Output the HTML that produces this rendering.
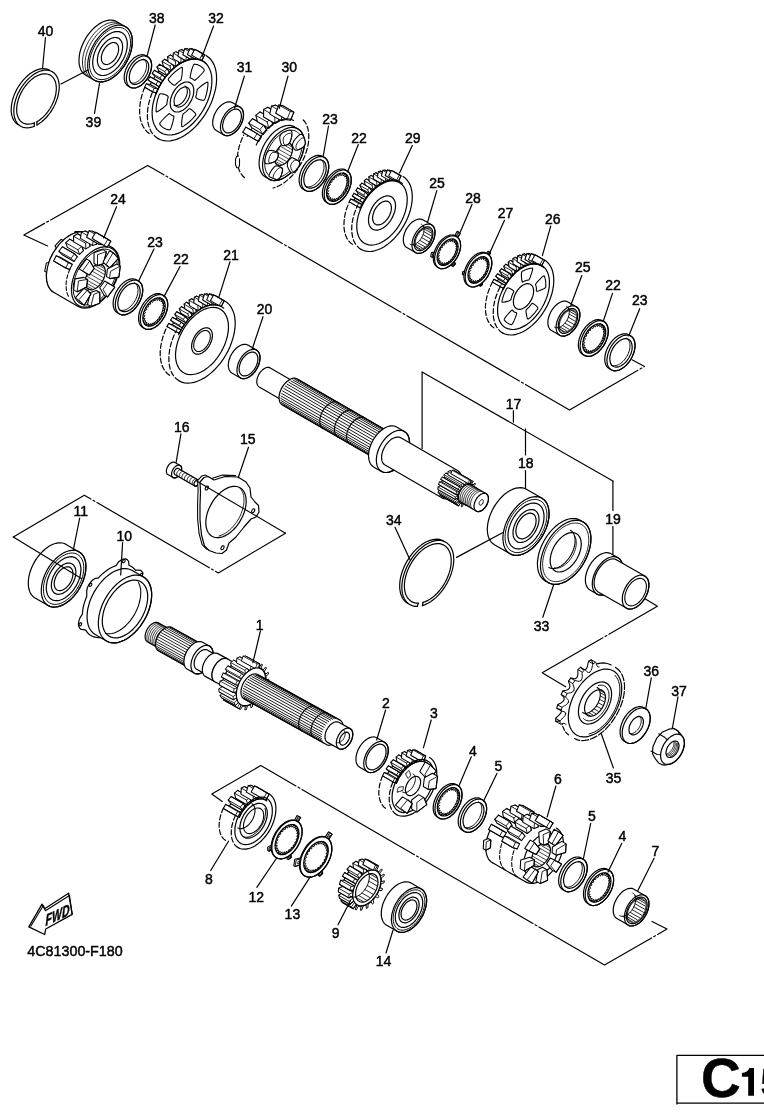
<!DOCTYPE html>
<html><head><meta charset="utf-8"><style>
html,body{margin:0;padding:0;background:#fff;}
body{width:764px;height:1116px;overflow:hidden;}
svg{display:block;font-family:"Liberation Sans",sans-serif;}
text{paint-order:stroke;}
svg{filter:grayscale(1);}
</style></head><body>
<svg width="764" height="1116" viewBox="0 0 764 1116" fill="none" stroke="#000" stroke-width="1.2" stroke-linejoin="round" stroke-linecap="round">
<g>
<path d="M47.6 246 L23.8 235 L147.7 165.4 L569.5 410 L644.5 366.5 L632 359.8" stroke-dasharray="130 2.5 2 2.5" stroke-dashoffset="80"/>
<path d="M422.1 372.1L422.1 448.4"/>
<path d="M422.1 372.1L612.9 481.1"/>
<path d="M612.9 481.1L612.9 510.5"/>
<path d="M612.9 526.5L612.9 556"/>
<path d="M513.4 410.7L513.4 422.2"/>
<path d="M525.5 428.9L525.5 454.9"/>
<path d="M525.5 470.6L525.5 491"/>
<path d="M13.3 537 L84.3 495.2 L218.3 573 L285.5 533.2" stroke-dasharray="130 2.5 2 2.5" stroke-dashoffset="40"/>
<path d="M645.4 599 L657.4 606.3 L542.2 672.8 L565.6 686.8" stroke-dasharray="130 2.5 2 2.5" stroke-dashoffset="60"/>
<path d="M222.2 801.4 L211.8 794.1 L260.8 765.6 L604.5 965 L667 929 L652 921.5" stroke-dasharray="130 2.5 2 2.5" stroke-dashoffset="20"/>
<path d="M34.2 126.3 L31.8 127.2 L29.5 127.7 L27.2 127.9 L25.1 127.7 L23 127.3 L21.2 126.5 L19.5 125.4 L18 124.1 L16.7 122.4 L15.6 120.5 L14.8 118.3 L14.2 115.9 L13.9 113.3 L13.8 110.6 L14 107.7 L14.4 104.8 L15.1 101.7 L16 98.7 L17.1 95.6 L18.5 92.6 L20.1 89.6 L21.8 86.8 L23.8 84.1 L25.8 81.6 L28 79.2 L30.3 77.1 L32.6 75.2 L35 73.6 L37.5 72.3 L39.9 71.3 L42.2 70.6 L44.5 70.2 L46.7 70.1 L48.8 70.4 L50.8 71 L52.6 71.9 L54.2 73.1 L55.6 74.6 L56.8 76.4 L57.8 78.4 L58.5 80.7 L59 83.2 L59.2 85.8 L59.2 88.6 L58.9 91.5 L58.3 94.5 L57.6 97.6 L56.5 100.6 L55.3 103.7 L53.8 106.7 L52.2 109.6 L50.4 112.4 L48.4 115 L46.3 117.5 L44 119.7 L41.7 121.7 L39.3 123.5 L36.9 125"/>
<path d="M34.5 122.8 L32.4 123.6 L30.3 124 L28.4 124.2 L26.5 124.1 L24.8 123.7 L23.1 123 L21.6 122.1 L20.3 120.9 L19.2 119.4 L18.3 117.7 L17.6 115.8 L17 113.8 L16.7 111.5 L16.7 109.1 L16.8 106.6 L17.2 104 L17.8 101.4 L18.6 98.7 L19.6 96 L20.8 93.4 L22.2 90.8 L23.7 88.3 L25.4 86 L27.2 83.8 L29.1 81.7 L31.1 79.9 L33.1 78.2 L35.2 76.8 L37.3 75.7 L39.4 74.8 L41.5 74.2 L43.5 73.9 L45.4 73.8 L47.3 74 L49 74.6 L50.5 75.3 L51.9 76.4 L53.2 77.7 L54.2 79.3 L55.1 81 L55.7 83 L56.1 85.2 L56.3 87.5 L56.3 89.9 L56 92.5 L55.6 95.1 L54.9 97.8 L54 100.4 L52.9 103.1 L51.6 105.7 L50.2 108.2 L48.6 110.7 L46.9 113 L45 115.1 L43.1 117.1 L41.1 118.8 L39 120.4 L36.9 121.7"/>
<path d="M18.2 124.8 L16.5 123.6 L15.1 122.2 L13.9 120.5 L12.9 118.6 L12.1 116.4 L11.5 114 L11.2 111.4 L11.2 108.7 L11.4 105.9 L11.9 103 L12.5 100 L13.5 96.9 L14.6 93.9 L16 91 L17.5 88 L19.3 85.3 L21.2 82.6 L23.2 80.1 L25.4 77.8 L27.6 75.7 L29.9 73.8 L32.3 72.2 L34.7 70.9 L37 69.9 L39.4 69.2 L41.6 68.7 L43.8 68.6 L45.9 68.9 L47.9 69.4 L49.7 70.2"/>
<path d="M36.9 125 L36.9 121.7"/>
<path d="M34.2 126.3 L34.5 122.8"/>
<path d="M85.8 75.3 L84.2 74.2 L82.8 72.8 L81.6 71.2 L80.6 69.2 L79.9 67.1 L79.3 64.8 L79 62.2 L79 59.6 L79.2 56.8 L79.6 53.9 L80.3 50.9 L81.2 48 L82.4 45 L83.7 42.1 L85.2 39.2 L86.9 36.4 L88.8 33.8 L90.8 31.4 L92.9 29.1 L95.1 27 L97.4 25.2 L99.7 23.6 L102.1 22.3 L104.4 21.3 L106.7 20.6 L108.9 20.2 L111.1 20.1 L113.2 20.3 L115.1 20.8 L116.8 21.7 L125.5 26.7 L127.1 27.8 L128.5 29.2 L129.7 30.8 L130.7 32.8 L131.5 34.9 L132 37.2 L132.3 39.8 L132.3 42.4 L132.1 45.2 L131.7 48.1 L131 51.1 L130.1 54 L129 57 L127.6 59.9 L126.1 62.8 L124.4 65.6 L122.5 68.2 L120.5 70.6 L118.4 72.9 L116.2 75 L113.9 76.8 L111.6 78.4 L109.3 79.7 L106.9 80.7 L104.6 81.4 L102.4 81.8 L100.2 81.9 L98.2 81.7 L96.3 81.2 L94.5 80.3Z" fill="#fff"/>
<path d="M126.1 62.8 L124.4 65.6 L122.5 68.2 L120.5 70.6 L118.4 72.9 L116.2 75 L113.9 76.8 L111.6 78.4 L109.3 79.7 L106.9 80.7 L104.6 81.4 L102.4 81.8 L100.2 81.9 L98.2 81.7 L96.3 81.2 L94.5 80.3 L92.9 79.2 L91.5 77.8 L90.3 76.2 L89.3 74.2 L88.5 72.1 L88 69.8 L87.7 67.2 L87.7 64.6 L87.9 61.8 L88.3 58.9 L89 55.9 L89.9 53 L91 50 L92.4 47.1 L93.9 44.2 L95.6 41.4 L97.5 38.8 L99.5 36.4 L101.6 34.1 L103.8 32 L106.1 30.2 L108.4 28.6 L110.7 27.3 L113.1 26.3 L115.4 25.6 L117.6 25.2 L119.8 25.1 L121.8 25.3 L123.7 25.8 L125.5 26.7 L127.1 27.8 L128.5 29.2 L129.7 30.8 L130.7 32.8 L131.5 34.9 L132 37.2 L132.3 39.8 L132.3 42.4 L132.1 45.2 L131.7 48.1 L131 51.1 L130.1 54 L129 57 L127.6 59.9 L126.1 62.8Z"/>
<path d="M124.8 62 L123.2 64.6 L121.5 67 L119.7 69.3 L117.7 71.3 L115.7 73.2 L113.6 74.9 L111.5 76.4 L109.3 77.6 L107.2 78.5 L105.1 79.2 L103 79.5 L101 79.6 L99.1 79.4 L97.4 78.9 L95.8 78.2 L94.3 77.2 L93 75.9 L91.9 74.3 L91 72.6 L90.3 70.6 L89.8 68.4 L89.5 66.1 L89.5 63.7 L89.6 61.1 L90 58.4 L90.7 55.7 L91.5 53 L92.6 50.3 L93.8 47.6 L95.2 45 L96.8 42.4 L98.5 40 L100.3 37.7 L102.3 35.7 L104.3 33.8 L106.4 32.1 L108.5 30.6 L110.7 29.4 L112.8 28.5 L114.9 27.8 L117 27.5 L119 27.4 L120.9 27.6 L122.6 28.1 L124.2 28.8 L125.7 29.8 L127 31.1 L128.1 32.7 L129 34.4 L129.7 36.4 L130.2 38.6 L130.5 40.9 L130.5 43.3 L130.4 45.9 L129.9 48.6 L129.3 51.3 L128.5 54 L127.4 56.7 L126.2 59.4 L124.8 62Z" stroke-width="0.96"/>
<path d="M122.5 60.7 L121.1 62.8 L119.7 64.9 L118.2 66.8 L116.5 68.5 L114.8 70.1 L113 71.5 L111.2 72.8 L109.4 73.8 L107.6 74.5 L105.8 75.1 L104.1 75.4 L102.4 75.5 L100.9 75.3 L99.4 74.9 L98 74.3 L96.8 73.4 L95.7 72.3 L94.7 71 L94 69.6 L93.4 67.9 L93 66.1 L92.7 64.1 L92.7 62.1 L92.9 59.9 L93.2 57.7 L93.7 55.4 L94.4 53.1 L95.3 50.8 L96.3 48.5 L97.5 46.3 L98.9 44.2 L100.3 42.1 L101.8 40.2 L103.5 38.5 L105.2 36.9 L107 35.5 L108.8 34.2 L110.6 33.2 L112.4 32.5 L114.2 31.9 L115.9 31.6 L117.6 31.5 L119.1 31.7 L120.6 32.1 L122 32.7 L123.2 33.6 L124.3 34.7 L125.3 36 L126 37.4 L126.6 39.1 L127 40.9 L127.3 42.9 L127.3 44.9 L127.1 47.1 L126.8 49.3 L126.3 51.6 L125.6 53.9 L124.7 56.2 L123.7 58.5 L122.5 60.7Z"/>
<path d="M119.1 58.8 L118.1 60.3 L117.1 61.8 L115.9 63.2 L114.7 64.5 L113.5 65.6 L112.2 66.7 L110.9 67.5 L109.6 68.3 L108.3 68.8 L107 69.2 L105.7 69.5 L104.5 69.5 L103.3 69.4 L102.2 69.1 L101.2 68.7 L100.3 68 L99.6 67.2 L98.9 66.3 L98.3 65.2 L97.9 64 L97.6 62.7 L97.4 61.2 L97.4 59.7 L97.5 58.2 L97.8 56.5 L98.1 54.9 L98.6 53.2 L99.3 51.5 L100 49.9 L100.9 48.2 L101.9 46.7 L102.9 45.2 L104.1 43.8 L105.3 42.5 L106.5 41.4 L107.8 40.3 L109.1 39.5 L110.4 38.7 L111.7 38.2 L113 37.8 L114.3 37.5 L115.5 37.5 L116.7 37.6 L117.8 37.9 L118.8 38.3 L119.7 39 L120.4 39.8 L121.1 40.7 L121.7 41.8 L122.1 43 L122.4 44.3 L122.6 45.8 L122.6 47.3 L122.5 48.8 L122.2 50.5 L121.9 52.1 L121.4 53.8 L120.7 55.5 L120 57.1 L119.1 58.7Z"/>
<path d="M116.2 57.1 L115.6 58.2 L114.9 59.2 L114.1 60.1 L113.3 61 L112.4 61.8 L111.5 62.5 L110.6 63.1 L109.7 63.6 L108.8 64 L107.9 64.3 L107.1 64.5 L106.2 64.5 L105.4 64.4 L104.7 64.2 L104 63.9 L103.4 63.5 L102.8 62.9 L102.4 62.3 L102 61.5 L101.7 60.7 L101.5 59.8 L101.4 58.8 L101.4 57.8 L101.4 56.7 L101.6 55.6 L101.9 54.4 L102.2 53.3 L102.7 52.1 L103.2 51 L103.8 49.9 L104.4 48.8 L105.1 47.8 L105.9 46.9 L106.7 46 L107.6 45.2 L108.5 44.5 L109.4 43.9 L110.3 43.4 L111.2 43 L112.1 42.7 L112.9 42.5 L113.8 42.5 L114.6 42.6 L115.3 42.8 L116 43.1 L116.6 43.5 L117.2 44.1 L117.6 44.7 L118 45.5 L118.3 46.3 L118.5 47.2 L118.6 48.2 L118.6 49.2 L118.6 50.3 L118.4 51.4 L118.1 52.6 L117.8 53.7 L117.3 54.9 L116.8 56 L116.2 57.1Z"/>
<path d="M89.3 76.8 L88 75.2 L86.9 73.3 L86.1 71.2 L85.5 68.8 L85.1 66.3 L85 63.5 L85.2 60.7 L85.6 57.7 L86.3 54.7 L87.2 51.7 L88.4 48.6 L89.7 45.6 L91.3 42.7 L93 39.9 L95 37.2 L97 34.7 L99.2 32.4 L101.5 30.3 L103.8 28.4 L106.2 26.9 L108.6 25.6 L111 24.6 L113.4 24 L115.6 23.6 L117.8 23.6 L119.9 23.9" stroke-width="0.84"/>
<path d="M86.7 75.3 L85.4 73.7 L84.3 71.8 L83.5 69.7 L82.9 67.3 L82.5 64.8 L82.5 62 L82.6 59.2 L83 56.2 L83.7 53.2 L84.6 50.2 L85.8 47.1 L87.1 44.1 L88.7 41.2 L90.5 38.4 L92.4 35.7 L94.4 33.2 L96.6 30.9 L98.9 28.8 L101.2 26.9 L103.6 25.4 L106 24.1 L108.4 23.1 L110.8 22.5 L113 22.1 L115.2 22.1 L117.3 22.4" stroke-width="0.84"/>
<path d="M61 84L88 70"/>
<path d="M128.1 85.9 L127.2 85.3 L126.4 84.5 L125.7 83.5 L125.1 82.5 L124.7 81.2 L124.4 79.9 L124.2 78.5 L124.2 77 L124.3 75.4 L124.6 73.8 L125 72.1 L125.5 70.4 L126.1 68.8 L126.9 67.1 L127.7 65.5 L128.7 63.9 L129.8 62.5 L130.9 61.1 L132.1 59.8 L133.3 58.6 L134.6 57.6 L135.9 56.7 L137.3 56 L138.6 55.4 L139.9 55 L141.1 54.8 L142.3 54.7 L143.5 54.8 L144.6 55.1 L145.6 55.6 L147.8 56.8 L148.7 57.5 L149.4 58.3 L150.1 59.2 L150.7 60.3 L151.1 61.5 L151.4 62.8 L151.6 64.3 L151.6 65.8 L151.5 67.3 L151.2 69 L150.9 70.6 L150.4 72.3 L149.7 74 L149 75.6 L148.1 77.2 L147.1 78.8 L146.1 80.3 L144.9 81.7 L143.7 83 L142.5 84.1 L141.2 85.2 L139.9 86 L138.6 86.8 L137.3 87.3 L136 87.8 L134.7 88 L133.5 88 L132.3 87.9 L131.2 87.6 L130.2 87.2Z" fill="#fff"/>
<path d="M148.1 77.2 L147.1 78.8 L146.1 80.3 L144.9 81.7 L143.7 83 L142.5 84.1 L141.2 85.2 L139.9 86 L138.6 86.8 L137.3 87.3 L136 87.8 L134.7 88 L133.5 88 L132.3 87.9 L131.2 87.6 L130.2 87.2 L129.3 86.5 L128.6 85.7 L127.9 84.8 L127.3 83.7 L126.9 82.5 L126.6 81.2 L126.4 79.7 L126.4 78.2 L126.5 76.7 L126.8 75 L127.1 73.4 L127.6 71.7 L128.3 70 L129 68.4 L129.9 66.8 L130.9 65.2 L131.9 63.7 L133.1 62.3 L134.3 61 L135.5 59.9 L136.8 58.8 L138.1 58 L139.4 57.2 L140.7 56.7 L142 56.2 L143.3 56 L144.5 56 L145.7 56.1 L146.8 56.4 L147.8 56.8 L148.7 57.5 L149.4 58.3 L150.1 59.2 L150.7 60.3 L151.1 61.5 L151.4 62.8 L151.6 64.3 L151.6 65.8 L151.5 67.3 L151.2 69 L150.9 70.6 L150.4 72.3 L149.7 74 L149 75.6 L148.1 77.2Z"/>
<path d="M146 76 L145.3 77.2 L144.5 78.4 L143.6 79.5 L142.7 80.5 L141.7 81.4 L140.7 82.1 L139.7 82.8 L138.7 83.4 L137.7 83.8 L136.7 84.2 L135.7 84.3 L134.7 84.4 L133.9 84.3 L133 84.1 L132.2 83.7 L131.6 83.2 L130.9 82.6 L130.4 81.9 L130 81 L129.6 80.1 L129.4 79.1 L129.3 78 L129.3 76.8 L129.4 75.6 L129.6 74.3 L129.8 73.1 L130.2 71.8 L130.7 70.5 L131.3 69.2 L132 68 L132.7 66.8 L133.5 65.6 L134.4 64.5 L135.3 63.5 L136.3 62.6 L137.3 61.9 L138.3 61.2 L139.3 60.6 L140.3 60.2 L141.3 59.8 L142.3 59.7 L143.3 59.6 L144.1 59.7 L145 59.9 L145.8 60.3 L146.4 60.8 L147.1 61.4 L147.6 62.1 L148 63 L148.4 63.9 L148.6 64.9 L148.7 66 L148.7 67.2 L148.6 68.4 L148.4 69.7 L148.2 70.9 L147.8 72.2 L147.3 73.5 L146.7 74.8 L146 76Z"/>
<path d="M143.6 59.1 L144.3 59.5 L144.9 60.2 L145.4 60.9 L145.9 61.7 L146.2 62.7 L146.4 63.7 L146.5 64.8 L146.6 65.9 L146.5 67.2 L146.3 68.4 L146 69.7 L145.6 71 L145.1 72.3 L144.5 73.6 L143.8 74.8 L143.1 76 L142.3 77.1 L141.4 78.2 L140.5 79.2 L139.5 80.1 L138.5 80.9 L137.5 81.6 L136.5 82.1 L135.5 82.6 L134.5 82.9 L133.5 83.1 L132.6 83.1 L131.7 83 L130.9 82.8 L130.1 82.4" stroke-width="0.96"/>
<path d="M150.2 134.1 L147.7 132.3 L145.5 130.2 L143.7 127.6 L142.1 124.6 L141 121.3 L140.1 117.7 L139.7 113.8 L139.6 109.6 L139.9 105.3 L140.6 100.8 L141.7 96.3 L143.1 91.7 L144.8 87.1 L146.9 82.5 L149.3 78.1 L151.9 73.8 L154.8 69.8 L157.9 66 L161.2 62.4 L164.6 59.2 L168.1 56.4 L171.7 54 L175.4 52 L179 50.4 L182.5 49.3 L186 48.7 L189.3 48.5 L192.5 48.8 L195.5 49.7 L198.2 50.9 L206 55.4 L208.5 57.2 L210.7 59.3 L212.5 61.9 L214.1 64.9 L215.3 68.2 L216.1 71.8 L216.5 75.7 L216.6 79.9 L216.3 84.2 L215.6 88.7 L214.5 93.2 L213.1 97.8 L211.4 102.4 L209.3 107 L206.9 111.4 L204.3 115.7 L201.4 119.7 L198.3 123.5 L195 127.1 L191.6 130.3 L188.1 133.1 L184.5 135.5 L180.9 137.5 L177.2 139.1 L173.7 140.2 L170.2 140.8 L166.9 141 L163.7 140.7 L160.7 139.8 L158 138.6Z" fill="#fff" stroke-width="0"/>
<path d="M149.3 133.5 L147 131.7 L144.9 129.4 L143.1 126.6 L141.7 123.5 L140.6 120.1 L139.9 116.4 L139.6 112.4 L139.7 108.2 L140.1 103.8 L140.9 99.3 L142.1 94.7 L143.6 90.1 L145.5 85.5" stroke-dasharray="5 2.5"/>
<path d="M158 138.6 L155.5 136.8 L153.2 134.5 L151.3 131.9 L149.8 128.8 L148.6 125.4 L147.8 121.6 L147.4 117.5 L147.4 113.2 L147.8 108.8 L148.6 104.2 L149.8 99.5 L151.4 94.7 L153.3 90" stroke-dasharray="5 2.5"/>
<path d="M206 55.4 L208.5 57.2 L210.7 59.3 L212.5 61.9 L214.1 64.9 L215.3 68.2 L216.1 71.8 L216.5 75.7 L216.6 79.9 L216.3 84.2 L215.6 88.7 L214.5 93.2 L213.1 97.8 L211.4 102.4 L209.3 107 L206.9 111.4 L204.3 115.7 L201.4 119.7 L198.3 123.5 L195 127.1 L191.6 130.3 L188.1 133.1 L184.5 135.5 L180.9 137.5 L177.2 139.1 L173.7 140.2 L170.2 140.8 L166.9 141 L163.7 140.7 L160.7 139.8 L158 138.6"/>
<path d="M149.4 86.5 L151.3 82.5 L153.5 78.7 L155.9 75 L158.5 71.5 L161.3 68.2 L164.3 65.2 L167.3 62.6 L170.5 60.2 L173.7 58.3 L176.9 56.7 L180 55.5 L183.1 54.8 L186.1 54.5 L189 54.6 L191.7 55.1 L194.1 56.1 L196.4 57.5" stroke-width="1.08"/>
<path d="M144.7 87.3 L146.3 83.8 L150.3 84.5 L158.1 89 L156.3 93 L152.5 91.8Z" fill="#fff" stroke-width="1.08"/>
<path d="M144.7 87.3 L152.5 91.8" stroke-width="0.86"/>
<path d="M146.3 83.8 L154.1 88.3" stroke-width="0.86"/>
<path d="M156.3 93 L152.5 91.8 L154.1 88.3 L158.1 89" stroke-width="0.86"/>
<path d="M148.1 80.1 L150 76.8 L153.6 78.5 L161.4 83 L159.2 86.8 L151.4 82.3Z" fill="#fff" stroke-width="1.08"/>
<path d="M148.1 80.1 L155.9 84.6" stroke-width="0.86"/>
<path d="M150 76.8 L157.8 81.3" stroke-width="0.86"/>
<path d="M159.2 86.8 L155.9 84.6 L157.8 81.3 L161.4 83" stroke-width="0.86"/>
<path d="M152.2 73.4 L154.4 70.3 L162.2 74.8 L165.2 77.4 L162.7 80.9 L154.9 76.4Z" fill="#fff" stroke-width="1.08"/>
<path d="M152.2 73.4 L160 77.9" stroke-width="0.86"/>
<path d="M154.4 70.3 L162.2 74.8" stroke-width="0.86"/>
<path d="M162.7 80.9 L160 77.9 L162.2 74.8 L165.2 77.4" stroke-width="0.86"/>
<path d="M156.9 67.1 L159.4 64.3 L167.1 68.8 L169.5 72.3 L166.7 75.5 L158.9 71Z" fill="#fff" stroke-width="1.08"/>
<path d="M156.9 67.1 L164.7 71.6" stroke-width="0.86"/>
<path d="M159.4 64.3 L167.1 68.8" stroke-width="0.86"/>
<path d="M166.7 75.5 L164.7 71.6 L167.1 68.8 L169.5 72.3" stroke-width="0.86"/>
<path d="M162.1 61.5 L164.7 59.2 L172.5 63.7 L174.2 67.8 L171.2 70.6 L163.4 66.1Z" fill="#fff" stroke-width="1.08"/>
<path d="M162.1 61.5 L169.9 66" stroke-width="0.86"/>
<path d="M164.7 59.2 L172.5 63.7" stroke-width="0.86"/>
<path d="M171.2 70.6 L169.9 66 L172.5 63.7 L174.2 67.8" stroke-width="0.86"/>
<path d="M167.6 56.8 L170.3 54.9 L178.1 59.4 L179 64.2 L175.9 66.4 L168.1 61.9Z" fill="#fff" stroke-width="1.08"/>
<path d="M167.6 56.8 L175.4 61.3" stroke-width="0.86"/>
<path d="M170.3 54.9 L178.1 59.4" stroke-width="0.86"/>
<path d="M175.9 66.4 L175.4 61.3 L178.1 59.4 L179 64.2" stroke-width="0.86"/>
<path d="M173 58.6 L173.3 53.1 L176 51.6 L183.8 56.1 L184 61.5 L180.8 63.1Z" fill="#fff" stroke-width="1.08"/>
<path d="M173.3 53.1 L181.1 57.6" stroke-width="0.86"/>
<path d="M176 51.6 L183.8 56.1" stroke-width="0.86"/>
<path d="M180.8 63.1 L181.1 57.6 L183.8 56.1 L184 61.5" stroke-width="0.86"/>
<path d="M177.9 56.2 L179 50.4 L181.7 49.5 L189.5 54 L188.9 59.7 L185.7 60.7Z" fill="#fff" stroke-width="1.08"/>
<path d="M179 50.4 L186.8 54.9" stroke-width="0.86"/>
<path d="M181.7 49.5 L189.5 54" stroke-width="0.86"/>
<path d="M185.7 60.7 L186.8 54.9 L189.5 54 L188.9 59.7" stroke-width="0.86"/>
<path d="M182.8 54.8 L184.6 48.9 L187.2 48.6 L194.9 53.1 L193.6 59 L190.6 59.3Z" fill="#fff" stroke-width="1.08"/>
<path d="M184.6 48.9 L192.4 53.4" stroke-width="0.86"/>
<path d="M187.2 48.6 L194.9 53.1" stroke-width="0.86"/>
<path d="M190.6 59.3 L192.4 53.4 L194.9 53.1 L193.6 59" stroke-width="0.86"/>
<path d="M187.4 54.5 L189.9 48.5 L192.3 48.8 L200.1 53.3 L197.9 59.3 L195.2 59Z" fill="#fff" stroke-width="1.08"/>
<path d="M189.9 48.5 L197.7 53" stroke-width="0.86"/>
<path d="M192.3 48.8 L200.1 53.3" stroke-width="0.86"/>
<path d="M195.2 59 L197.7 53 L200.1 53.3 L197.9 59.3" stroke-width="0.86"/>
<path d="M191.6 55.1 L194.7 49.4 L196.9 50.2 L204.7 54.7 L201.9 60.6 L199.4 59.6Z" fill="#fff" stroke-width="1.08"/>
<path d="M194.7 49.4 L202.5 53.9" stroke-width="0.86"/>
<path d="M196.9 50.2 L204.7 54.7" stroke-width="0.86"/>
<path d="M199.4 59.6 L202.5 53.9 L204.7 54.7 L201.9 60.6" stroke-width="0.86"/>
<path d="M155.8 94.3 L157.5 90.3 L159.4 86.4 L161.6 82.6 L164 79 L166.7 75.5 L169.5 72.3 L172.4 69.4 L175.4 66.8 L178.5 64.5 L181.7 62.6 L184.9 61.1 L188 60 L191 59.3 L194 59 L196.8 59.1 L199.5 59.7 L201.9 60.6 L204.2 62 L206.2 63.8"/>
<path d="M203.6 109.5 L201.3 113.1 L198.8 116.7 L196.1 119.9 L193.3 123 L190.3 125.8 L187.2 128.2 L184.1 130.3 L181 132 L177.9 133.4 L174.8 134.3 L171.8 134.9 L168.9 135 L166.2 134.7 L163.6 134 L161.2 132.9 L159.1 131.4 L157.2 129.6 L155.6 127.3 L154.3 124.8 L153.2 121.9 L152.5 118.8 L152.2 115.4 L152.1 111.8 L152.4 108.1 L152.9 104.2 L153.9 100.2 L155.1 96.3 L156.6 92.3 L158.4 88.4 L160.4 84.5 L162.7 80.9 L165.2 77.3 L167.9 74.1 L170.7 71 L173.7 68.2 L176.8 65.8 L179.9 63.7 L183 62 L186.1 60.6 L189.2 59.6 L192.2 59.1 L195.1 59 L197.8 59.3 L200.4 60 L202.8 61.1 L204.9 62.6 L206.8 64.4 L208.4 66.7 L209.7 69.2 L210.8 72.1 L211.5 75.2 L211.8 78.6 L211.9 82.2 L211.6 85.9 L211 89.8 L210.1 93.8 L208.9 97.7 L207.4 101.7 L205.6 105.6 L203.6 109.4Z"/>
<path d="M190.5 101.9 L189.6 103.4 L188.6 104.8 L187.6 106.1 L186.4 107.3 L185.3 108.4 L184.1 109.3 L182.8 110.2 L181.6 110.8 L180.4 111.4 L179.2 111.8 L178 112 L176.8 112 L175.8 111.9 L174.7 111.6 L173.8 111.2 L173 110.6 L172.2 109.9 L171.6 109 L171 108 L170.6 106.8 L170.4 105.6 L170.2 104.3 L170.2 102.8 L170.3 101.4 L170.5 99.8 L170.9 98.3 L171.4 96.7 L172 95.1 L172.7 93.6 L173.5 92.1 L174.4 90.6 L175.4 89.2 L176.4 87.9 L177.6 86.7 L178.7 85.6 L179.9 84.7 L181.2 83.8 L182.4 83.2 L183.6 82.6 L184.8 82.2 L186 82 L187.2 82 L188.2 82.1 L189.3 82.4 L190.2 82.8 L191 83.4 L191.8 84.1 L192.4 85 L193 86 L193.4 87.2 L193.6 88.4 L193.8 89.7 L193.8 91.2 L193.7 92.6 L193.5 94.2 L193.1 95.7 L192.6 97.3 L192 98.9 L191.3 100.4 L190.5 101.9Z"/>
<path d="M184.9 86 L185.5 86.4 L186 86.9 L186.4 87.5 L186.8 88.1 L187 88.9 L187.2 89.7 L187.3 90.6 L187.3 91.6 L187.3 92.6 L187.1 93.6 L186.9 94.6 L186.5 95.7 L186.1 96.7 L185.7 97.8 L185.1 98.8 L184.5 99.8 L183.8 100.7 L183.1 101.6 L182.4 102.4 L181.6 103.1 L180.8 103.8 L180 104.3 L179.1 104.8 L178.3 105.1 L177.5 105.4 L176.7 105.5 L175.9 105.6 L175.2 105.5 L174.5 105.3 L173.9 105" stroke-width="1.08"/>
<path d="M187.7 100.3 L187.1 101.3 L186.4 102.2 L185.7 103.1 L185 103.9 L184.2 104.6 L183.4 105.3 L182.6 105.8 L181.7 106.3 L180.9 106.6 L180.1 106.9 L179.3 107 L178.5 107.1 L177.8 107 L177.1 106.8 L176.5 106.5 L175.9 106.1 L175.4 105.6 L175 105 L174.7 104.4 L174.4 103.6 L174.2 102.8 L174.1 101.9 L174.1 100.9 L174.1 99.9 L174.3 98.9 L174.5 97.9 L174.9 96.8 L175.3 95.8 L175.7 94.7 L176.3 93.7 L176.9 92.7 L177.6 91.8 L178.3 90.9 L179 90.1 L179.8 89.4 L180.6 88.7 L181.4 88.2 L182.3 87.7 L183.1 87.4 L183.9 87.1 L184.7 87 L185.5 86.9 L186.2 87 L186.9 87.2 L187.5 87.5 L188.1 87.9 L188.6 88.4 L189 89 L189.3 89.6 L189.6 90.4 L189.8 91.2 L189.9 92.1 L189.9 93.1 L189.9 94.1 L189.7 95.1 L189.5 96.1 L189.1 97.2 L188.7 98.2 L188.3 99.3 L187.7 100.3Z" stroke-width="1.08"/>
<path d="M195.7 115.1 L195.1 115.8 L194.5 116.5 L193.9 117.2 L193.3 117.9 L192.7 118.6 L192.1 119.2 L191.4 119.8 L190.8 120.4 L190.2 121 L189.5 121.6 L188.9 122.2 L188.2 122.7 L187.5 123.3 L186.9 123.8 L186.2 124.3 L185.5 124.7 L184.9 125.2 L184.2 125.6 L183.5 126.1 L182.8 126.5 L182.2 126.8 L181.7 126.3 L181.6 124.8 L181.7 122.4 L182 119.1 L182.4 116.6 L182.8 114.8 L183.2 113.7 L183.7 113.4 L184.2 113.1 L184.6 112.8 L185.1 112.4 L185.5 112.1 L186 111.7 L186.4 111.3 L186.9 110.9 L187.3 110.5 L187.7 110.1 L188.1 109.7 L188.6 109.2 L189 108.8 L189.7 108.8 L190.8 109.3 L192.2 110.3 L193.9 111.8 L195.1 113.1 L195.7 114.2Z" stroke-width="1.08"/>
<path d="M169.8 129.9 L169.2 129.8 L168.6 129.7 L168 129.6 L167.4 129.5 L166.9 129.4 L166.3 129.2 L165.8 129 L165.3 128.8 L164.8 128.5 L164.3 128.3 L163.8 128 L163.3 127.7 L162.8 127.4 L162.4 127 L162 126.7 L161.5 126.3 L161.1 125.9 L160.7 125.4 L160.3 125 L160 124.5 L159.6 124 L160 123 L161.1 121.5 L162.9 119.5 L165.4 116.9 L167.4 115.1 L168.7 114 L169.6 113.6 L169.8 113.8 L170.1 114.1 L170.4 114.4 L170.7 114.6 L171 114.8 L171.4 115.1 L171.7 115.2 L172 115.4 L172.4 115.6 L172.7 115.7 L173.1 115.8 L173.5 116 L173.9 116 L173.9 117 L173.6 118.7 L173 121.4 L172.1 124.8 L171.2 127.4 L170.5 129.1Z" stroke-width="1.08"/>
<path d="M156.1 111.8 L156.1 111 L156.1 110.2 L156.1 109.4 L156.1 108.6 L156.2 107.8 L156.3 107 L156.4 106.2 L156.5 105.3 L156.6 104.5 L156.8 103.7 L156.9 102.8 L157.1 102 L157.3 101.1 L157.5 100.2 L157.7 99.4 L158 98.5 L158.3 97.7 L158.5 96.8 L158.8 95.9 L159.1 95.1 L159.5 94.2 L160.3 93.8 L161.5 93.7 L163.2 94.1 L165.4 94.8 L166.9 95.5 L167.9 96.2 L168.3 96.8 L168.1 97.4 L168 98 L167.8 98.6 L167.6 99.2 L167.5 99.8 L167.4 100.3 L167.3 100.9 L167.2 101.5 L167.1 102.1 L167 102.6 L167 103.2 L166.9 103.7 L166.9 104.3 L166.2 105.2 L164.8 106.4 L162.8 108 L160.1 110 L158.1 111.3 L156.8 111.9Z" stroke-width="1.08"/>
<path d="M168.3 78.9 L168.9 78.2 L169.5 77.5 L170.1 76.8 L170.7 76.1 L171.3 75.4 L171.9 74.8 L172.6 74.2 L173.2 73.6 L173.8 73 L174.5 72.4 L175.1 71.8 L175.8 71.3 L176.5 70.7 L177.1 70.2 L177.8 69.7 L178.5 69.3 L179.1 68.8 L179.8 68.4 L180.5 67.9 L181.2 67.5 L181.8 67.2 L182.3 67.7 L182.4 69.2 L182.3 71.6 L182 74.9 L181.6 77.4 L181.2 79.2 L180.8 80.3 L180.3 80.6 L179.8 80.9 L179.4 81.2 L178.9 81.6 L178.5 81.9 L178 82.3 L177.6 82.7 L177.1 83.1 L176.7 83.5 L176.3 83.9 L175.9 84.3 L175.4 84.8 L175 85.2 L174.3 85.2 L173.2 84.7 L171.8 83.7 L170.1 82.2 L168.9 80.9 L168.3 79.8Z" stroke-width="1.08"/>
<path d="M194.2 64.1 L194.8 64.2 L195.4 64.3 L196 64.4 L196.6 64.5 L197.1 64.6 L197.7 64.8 L198.2 65 L198.7 65.2 L199.2 65.5 L199.7 65.7 L200.2 66 L200.7 66.3 L201.2 66.6 L201.6 67 L202 67.3 L202.5 67.7 L202.9 68.1 L203.3 68.6 L203.7 69 L204 69.5 L204.4 70 L204 71 L202.9 72.5 L201.1 74.5 L198.6 77.1 L196.6 78.9 L195.3 80 L194.4 80.4 L194.2 80.2 L193.9 79.9 L193.6 79.6 L193.3 79.4 L193 79.2 L192.6 78.9 L192.3 78.8 L192 78.6 L191.6 78.4 L191.3 78.3 L190.9 78.2 L190.5 78 L190.1 78 L190.1 77 L190.4 75.3 L191 72.6 L191.9 69.2 L192.8 66.6 L193.5 64.9Z" stroke-width="1.08"/>
<path d="M207.9 82.2 L207.9 83 L207.9 83.8 L207.9 84.6 L207.9 85.4 L207.8 86.2 L207.7 87 L207.6 87.8 L207.5 88.7 L207.4 89.5 L207.2 90.3 L207.1 91.2 L206.9 92 L206.7 92.9 L206.5 93.8 L206.3 94.6 L206 95.5 L205.7 96.3 L205.5 97.2 L205.2 98.1 L204.9 98.9 L204.5 99.8 L203.7 100.2 L202.5 100.3 L200.8 99.9 L198.6 99.2 L197.1 98.5 L196.1 97.8 L195.7 97.2 L195.9 96.6 L196 96 L196.2 95.4 L196.4 94.8 L196.5 94.2 L196.6 93.7 L196.7 93.1 L196.8 92.5 L196.9 91.9 L197 91.4 L197 90.8 L197.1 90.3 L197.1 89.7 L197.8 88.8 L199.2 87.6 L201.2 86 L203.9 84 L205.9 82.7 L207.2 82.1Z" stroke-width="1.08"/>
<path d="M216.2 130.4 L215.4 129.8 L214.7 129.1 L214 128.2 L213.5 127.2 L213.1 126.1 L212.8 124.9 L212.7 123.6 L212.7 122.2 L212.8 120.8 L213 119.3 L213.4 117.8 L213.8 116.2 L214.4 114.7 L215.1 113.2 L215.9 111.7 L216.8 110.3 L217.7 108.9 L218.8 107.7 L219.9 106.5 L221 105.4 L222.2 104.5 L223.4 103.7 L224.6 103 L225.8 102.5 L227 102.1 L228.1 101.9 L229.2 101.8 L230.3 101.9 L231.3 102.2 L232.2 102.6 L240 107.1 L240.8 107.7 L241.6 108.4 L242.2 109.3 L242.7 110.3 L243.1 111.4 L243.4 112.6 L243.5 113.9 L243.5 115.3 L243.4 116.7 L243.2 118.2 L242.8 119.7 L242.4 121.3 L241.8 122.8 L241.1 124.3 L240.3 125.8 L239.4 127.2 L238.5 128.6 L237.4 129.8 L236.3 131 L235.2 132.1 L234 133 L232.8 133.8 L231.6 134.5 L230.4 135 L229.2 135.4 L228.1 135.6 L227 135.7 L225.9 135.6 L224.9 135.3 L224 134.9Z" fill="#fff"/>
<path d="M240.3 125.8 L239.4 127.2 L238.5 128.6 L237.4 129.8 L236.3 131 L235.2 132.1 L234 133 L232.8 133.8 L231.6 134.5 L230.4 135 L229.2 135.4 L228.1 135.6 L227 135.7 L225.9 135.6 L224.9 135.3 L224 134.9 L223.2 134.3 L222.4 133.6 L221.8 132.7 L221.3 131.7 L220.9 130.6 L220.6 129.4 L220.5 128.1 L220.5 126.7 L220.6 125.3 L220.8 123.8 L221.2 122.3 L221.6 120.7 L222.2 119.2 L222.9 117.7 L223.7 116.2 L224.6 114.8 L225.5 113.4 L226.6 112.2 L227.7 111 L228.8 109.9 L230 109 L231.2 108.2 L232.4 107.5 L233.6 107 L234.8 106.6 L235.9 106.4 L237 106.3 L238.1 106.4 L239.1 106.7 L240 107.1 L240.8 107.7 L241.6 108.4 L242.2 109.3 L242.7 110.3 L243.1 111.4 L243.4 112.6 L243.5 113.9 L243.5 115.3 L243.4 116.7 L243.2 118.2 L242.8 119.7 L242.4 121.3 L241.8 122.8 L241.1 124.3 L240.3 125.8Z"/>
<path d="M238.8 124.9 L238 126.1 L237.3 127.2 L236.4 128.2 L235.5 129.1 L234.6 130 L233.6 130.8 L232.7 131.4 L231.7 132 L230.7 132.4 L229.7 132.7 L228.8 132.9 L227.9 132.9 L227 132.8 L226.2 132.6 L225.5 132.3 L224.8 131.8 L224.2 131.2 L223.7 130.5 L223.3 129.7 L223 128.8 L222.8 127.8 L222.6 126.8 L222.6 125.6 L222.7 124.5 L222.9 123.3 L223.2 122 L223.6 120.8 L224 119.5 L224.6 118.3 L225.2 117.1 L226 115.9 L226.7 114.8 L227.6 113.8 L228.5 112.9 L229.4 112 L230.4 111.2 L231.3 110.6 L232.3 110 L233.3 109.6 L234.3 109.3 L235.2 109.1 L236.1 109.1 L237 109.2 L237.8 109.4 L238.5 109.7 L239.2 110.2 L239.8 110.8 L240.3 111.5 L240.7 112.3 L241 113.2 L241.2 114.2 L241.4 115.2 L241.4 116.4 L241.3 117.5 L241.1 118.7 L240.8 120 L240.4 121.2 L240 122.5 L239.4 123.7 L238.8 124.9Z"/>
<path d="M246.1 178.6 L244.1 177.2 L242.3 175.4 L240.7 173.2 L239.4 170.8 L238.4 168 L237.7 165 L237.4 161.7 L237.3 158.3 L237.6 154.7 L238.1 150.9 L239 147.1 L240.2 143.3 L241.7 139.5 L243.4 135.7 L245.4 132 L247.6 128.4 L250 125.1 L252.6 121.9 L255.3 118.9 L258.1 116.3 L261.1 113.9 L264.1 111.9 L267.1 110.2 L270.1 108.9 L273.1 108 L276 107.5 L278.7 107.3 L281.4 107.6 L283.9 108.3 L286.1 109.4 L300 117.4 L302.1 118.8 L303.9 120.6 L305.4 122.8 L306.7 125.2 L307.7 128 L308.4 131 L308.8 134.3 L308.8 137.7 L308.6 141.3 L308 145.1 L307.1 148.9 L305.9 152.7 L304.5 156.5 L302.8 160.3 L300.8 164 L298.6 167.6 L296.2 170.9 L293.6 174.1 L290.9 177.1 L288 179.7 L285.1 182.1 L282.1 184.1 L279 185.8 L276 187.1 L273.1 188 L270.2 188.5 L267.4 188.7 L264.8 188.4 L262.3 187.7 L260 186.6Z" fill="#fff" stroke-width="0"/>
<path d="M244.4 177.5 L242.5 175.7 L240.9 173.5 L239.5 171 L238.5 168.2 L237.8 165.1 L237.4 161.8 L237.3 158.2 L237.6 154.5 L238.2 150.7 L239.1 146.8 L240.4 142.8 L241.9 138.9 L243.7 135.1" stroke-dasharray="5 2.5"/>
<path d="M303.3 120 L305 122 L306.4 124.4 L307.5 127.2 L308.2 130.2 L308.7 133.4 L308.8 136.9 L308.7 140.5 L308.2 144.3 L307.3 148.1 L306.2 152 L304.8 155.9 L303.1 159.7 L301.1 163.5 L298.9 167.1 L296.5 170.6 L293.9 173.8 L291.1 176.8 L288.2 179.5 L285.2 181.9 L282.2 184 L279.1 185.7 L276.1 187.1 L273.1 188" stroke-dasharray="5 2.5"/>
<path d="M247.1 136.4 L248.8 133.3 L250.7 130.3 L252.8 127.4 L255 124.8 L257.3 122.3 L259.8 120.1 L262.3 118.1 L264.8 116.5 L267.4 115.1 L269.9 114 L272.4 113.3 L274.9 112.9 L277.2 112.9 L279.5 113.1 L281.5 113.8" stroke-width="1.08"/>
<path d="M242.7 132.3 L245.8 127.1 L257.1 133.6 L261.5 136.7 L258.6 141.6 L247.3 135.1Z" fill="#fff" stroke-width="1.08"/>
<path d="M242.7 132.3 L253.9 138.8" stroke-width="0.86"/>
<path d="M245.8 127.1 L257.1 133.6" stroke-width="0.86"/>
<path d="M258.6 141.6 L253.9 138.8 L257.1 133.6 L261.5 136.7" stroke-width="0.86"/>
<path d="M248.7 123.1 L252.5 118.6 L263.7 125.1 L266.8 130.1 L263.2 134.4 L252 127.9Z" fill="#fff" stroke-width="1.08"/>
<path d="M248.7 123.1 L259.9 129.6" stroke-width="0.86"/>
<path d="M252.5 118.6 L263.7 125.1" stroke-width="0.86"/>
<path d="M263.2 134.4 L259.9 129.6 L263.7 125.1 L266.8 130.1" stroke-width="0.86"/>
<path d="M255.8 115.4 L260 111.9 L271.3 118.4 L272.8 124.9 L268.8 128.2 L257.5 121.7Z" fill="#fff" stroke-width="1.08"/>
<path d="M255.8 115.4 L267.1 121.9" stroke-width="0.86"/>
<path d="M260 111.9 L271.3 118.4" stroke-width="0.86"/>
<path d="M268.8 128.2 L267.1 121.9 L271.3 118.4 L272.8 124.9" stroke-width="0.86"/>
<path d="M263.6 109.5 L267.9 107.3 L279.2 113.8 L279 121.4 L274.9 123.5 L263.6 117Z" fill="#fff" stroke-width="1.08"/>
<path d="M263.6 109.5 L274.8 116" stroke-width="0.86"/>
<path d="M267.9 107.3 L279.2 113.8" stroke-width="0.86"/>
<path d="M274.9 123.5 L274.8 116 L279.2 113.8 L279 121.4" stroke-width="0.86"/>
<path d="M269.8 114.1 L271.5 106 L275.6 105.1 L286.9 111.6 L285 119.8 L281.1 120.6Z" fill="#fff" stroke-width="1.08"/>
<path d="M271.5 106 L282.7 112.5" stroke-width="0.86"/>
<path d="M275.6 105.1 L286.9 111.6" stroke-width="0.86"/>
<path d="M281.1 120.6 L282.7 112.5 L286.9 111.6 L285 119.8" stroke-width="0.86"/>
<path d="M275.7 113.3 L278.9 105 L282.7 105.6 L293.9 112.1 L290.5 120.3 L286.9 119.8Z" fill="#fff" stroke-width="1.08"/>
<path d="M278.9 105 L290.2 111.5" stroke-width="0.86"/>
<path d="M282.7 105.6 L293.9 112.1" stroke-width="0.86"/>
<path d="M286.9 119.8 L290.2 111.5 L293.9 112.1 L290.5 120.3" stroke-width="0.86"/>
<path d="M256.2 145.1 L257.8 141.7 L259.6 138.5 L261.7 135.4 L263.9 132.5 L266.2 129.8 L268.7 127.4 L271.3 125.2 L273.9 123.3 L276.6 121.7 L279.3 120.4 L281.9 119.5 L284.5 119 L287 118.8 L289.3 119 L291.5 119.6 L293.5 120.6" stroke-width="1.08"/>
<path d="M265.5 177.1 L264 176.1 L262.7 174.8 L261.6 173.2 L260.6 171.4 L259.9 169.4 L259.4 167.2 L259.1 164.8 L259.1 162.3 L259.3 159.7 L259.7 157 L260.3 154.3 L261.2 151.5 L262.2 148.7 L263.5 146 L264.9 143.3 L266.5 140.7 L268.3 138.3 L270.1 136 L272.1 133.8 L274.2 131.9 L276.3 130.2 L278.5 128.7 L280.7 127.5 L282.9 126.6 L285 125.9 L287.1 125.5 L289.1 125.4 L291.1 125.6 L292.8 126.1 L294.5 126.9 L298 128.9 L299.5 129.9 L300.8 131.2 L301.9 132.8 L302.8 134.6 L303.6 136.6 L304.1 138.8 L304.3 141.2 L304.4 143.7 L304.2 146.3 L303.8 149 L303.1 151.7 L302.3 154.5 L301.2 157.3 L300 160 L298.5 162.7 L296.9 165.3 L295.2 167.7 L293.3 170 L291.3 172.2 L289.3 174.1 L287.1 175.8 L285 177.3 L282.8 178.5 L280.6 179.4 L278.4 180.1 L276.3 180.5 L274.3 180.6 L272.4 180.4 L270.6 179.9 L269 179.1Z" fill="#fff"/>
<path d="M298.5 162.7 L296.9 165.3 L295.2 167.7 L293.3 170 L291.3 172.2 L289.3 174.1 L287.1 175.8 L285 177.3 L282.8 178.5 L280.6 179.4 L278.4 180.1 L276.3 180.5 L274.3 180.6 L272.4 180.4 L270.6 179.9 L269 179.1 L267.5 178.1 L266.1 176.8 L265 175.2 L264.1 173.4 L263.4 171.4 L262.9 169.2 L262.6 166.8 L262.6 164.3 L262.8 161.7 L263.2 159 L263.8 156.3 L264.7 153.5 L265.7 150.7 L267 148 L268.4 145.3 L270 142.7 L271.7 140.3 L273.6 138 L275.6 135.8 L277.7 133.9 L279.8 132.2 L282 130.7 L284.2 129.5 L286.3 128.6 L288.5 127.9 L290.6 127.5 L292.6 127.4 L294.5 127.6 L296.3 128.1 L298 128.9 L299.5 129.9 L300.8 131.2 L301.9 132.8 L302.8 134.6 L303.6 136.6 L304.1 138.8 L304.3 141.2 L304.4 143.7 L304.2 146.3 L303.8 149 L303.1 151.7 L302.3 154.5 L301.2 157.3 L300 160 L298.5 162.7Z"/>
<path d="M297 161.8 L295.5 164.1 L294 166.3 L292.3 168.4 L290.5 170.3 L288.7 172 L286.8 173.5 L284.8 174.9 L282.8 176 L280.9 176.8 L279 177.4 L277.1 177.7 L275.3 177.8 L273.6 177.6 L271.9 177.2 L270.5 176.5 L269.1 175.6 L267.9 174.4 L266.9 173 L266.1 171.4 L265.5 169.6 L265 167.6 L264.8 165.5 L264.7 163.3 L264.9 160.9 L265.3 158.5 L265.8 156 L266.6 153.5 L267.5 151.1 L268.7 148.6 L270 146.2 L271.4 143.9 L273 141.7 L274.6 139.6 L276.4 137.7 L278.3 136 L280.2 134.5 L282.1 133.1 L284.1 132 L286 131.2 L288 130.6 L289.8 130.3 L291.7 130.2 L293.4 130.4 L295 130.8 L296.5 131.5 L297.8 132.4 L299 133.6 L300 135 L300.8 136.6 L301.5 138.4 L301.9 140.4 L302.2 142.5 L302.2 144.7 L302 147.1 L301.7 149.5 L301.1 152 L300.3 154.5 L299.4 156.9 L298.3 159.4 L297 161.8Z" stroke-width="0.96"/>
<path d="M290 157.8 L289.3 158.9 L288.5 159.9 L287.7 160.9 L286.9 161.8 L286 162.7 L285 163.4 L284.1 164 L283.2 164.6 L282.2 165 L281.3 165.2 L280.4 165.4 L279.5 165.5 L278.7 165.4 L277.9 165.2 L277.2 164.8 L276.6 164.4 L276 163.8 L275.5 163.1 L275.1 162.4 L274.8 161.5 L274.6 160.6 L274.5 159.5 L274.5 158.5 L274.5 157.3 L274.7 156.2 L275 155 L275.4 153.8 L275.8 152.6 L276.4 151.4 L277 150.2 L277.7 149.1 L278.4 148.1 L279.2 147.1 L280.1 146.2 L281 145.3 L281.9 144.6 L282.8 144 L283.8 143.4 L284.7 143 L285.6 142.8 L286.5 142.6 L287.4 142.5 L288.2 142.6 L289 142.8 L289.7 143.2 L290.4 143.6 L290.9 144.2 L291.4 144.9 L291.8 145.6 L292.1 146.5 L292.3 147.4 L292.5 148.5 L292.5 149.5 L292.4 150.7 L292.2 151.8 L291.9 153 L291.6 154.2 L291.1 155.4 L290.6 156.6 L290 157.8Z"/>
<clipPath id="c1"><path d="M290 157.8 L289.3 158.9 L288.5 159.9 L287.7 160.9 L286.9 161.8 L286 162.7 L285 163.4 L284.1 164 L283.2 164.6 L282.2 165 L281.3 165.2 L280.4 165.4 L279.5 165.5 L278.7 165.4 L277.9 165.2 L277.2 164.8 L276.6 164.4 L276 163.8 L275.5 163.1 L275.1 162.4 L274.8 161.5 L274.6 160.6 L274.5 159.5 L274.5 158.5 L274.5 157.3 L274.7 156.2 L275 155 L275.4 153.8 L275.8 152.6 L276.4 151.4 L277 150.2 L277.7 149.1 L278.4 148.1 L279.2 147.1 L280.1 146.2 L281 145.3 L281.9 144.6 L282.8 144 L283.8 143.4 L284.7 143 L285.6 142.8 L286.5 142.6 L287.4 142.5 L288.2 142.6 L289 142.8 L289.7 143.2 L290.4 143.6 L290.9 144.2 L291.4 144.9 L291.8 145.6 L292.1 146.5 L292.3 147.4 L292.5 148.5 L292.5 149.5 L292.4 150.7 L292.2 151.8 L291.9 153 L291.6 154.2 L291.1 155.4 L290.6 156.6 L290 157.8Z"/></clipPath>
<g clip-path="url(#c1)">
<path d="M291.4 144.9 L279.3 137.9" stroke-width="0.72"/>
<path d="M292.3 147.1 L280.2 140.1" stroke-width="0.72"/>
<path d="M292.5 149.9 L280.3 142.9" stroke-width="0.72"/>
<path d="M291.9 153 L279.8 146" stroke-width="0.72"/>
<path d="M290.8 156.2 L278.6 149.2" stroke-width="0.72"/>
<path d="M289 159.2 L276.9 152.2" stroke-width="0.72"/>
<path d="M286.9 161.8 L274.7 154.8" stroke-width="0.72"/>
<path d="M284.4 163.8 L272.3 156.8" stroke-width="0.72"/>
<path d="M281.9 165.1 L269.8 158.1" stroke-width="0.72"/>
<path d="M279.5 165.5 L267.4 158.5" stroke-width="0.72"/>
<path d="M277.6 136.2 L278.2 136.6 L278.8 137.2 L279.3 137.9 L279.7 138.6 L280 139.5 L280.2 140.4 L280.3 141.5 L280.3 142.5 L280.3 143.7 L280.1 144.8 L279.8 146 L279.4 147.2 L279 148.4 L278.5 149.6 L277.8 150.8 L277.1 151.9 L276.4 152.9 L275.6 153.9 L274.7 154.8 L273.8 155.7 L272.9 156.4 L272 157 L271 157.6 L270.1 158 L269.2 158.2 L268.3 158.4 L267.4 158.5 L266.6 158.4 L265.8 158.2 L265.1 157.8" stroke-width="0.96"/>
</g>
<path d="M294.9 139.5 L297 137.1 L298.8 135.4 L300.3 134.5 L301.4 134.3 L302.3 134.8 L303.1 135.7 L303.9 137.2 L304.6 139.1 L305.3 141.6 L305.3 143.7 L304.5 145.7 L302.9 147.4 L300.5 148.8 L298.6 149.8 L297 150.3 L295.7 150.3 L294.9 149.8 L294.1 149 L293.4 148 L292.9 146.8 L292.5 145.3 L292.7 143.5 L293.5 141.6Z" fill="#fff" stroke-width="1.08"/>
<path d="M298.4 141.5 L300.5 139.1 L302.2 137.9 L303.6 137.9 L304.6 139.1 L305.3 141.6 L305.3 143.7 L304.5 145.7 L302.9 147.4 L300.5 148.8 L298.7 149.5 L297.3 149.5 L296.4 148.8 L295.9 147.3 L296.1 145.5 L297 143.6Z" stroke-width="0.86"/>
<path d="M288.2 161.2 L289.5 159.5 L290.7 158.3 L291.8 157.7 L292.7 157.7 L293.6 158.2 L294.7 158.8 L295.9 159.5 L297.4 160.4 L299.1 161.4 L299.9 162.8 L299.7 164.7 L298.5 167 L296.4 169.7 L294.6 171.7 L293.2 172.8 L292 173.1 L291.1 172.6 L290.3 171.7 L289.4 170.4 L288.5 168.8 L287.6 166.7 L287.3 164.8 L287.5 162.9Z" fill="#fff" stroke-width="1.08"/>
<path d="M297.4 160.4 L299.1 161.4 L299.9 162.8 L299.7 164.7 L298.5 167 L296.4 169.7 L294.6 171.3 L293.2 171.6 L292 170.8 L291.1 168.7 L290.7 166.8 L290.9 164.9 L291.7 163.2 L293 161.5 L294.3 160.4 L295.8 160.1Z" stroke-width="0.86"/>
<path d="M270.6 171.8 L272.4 169.1 L274.1 167.1 L275.6 166 L277 165.7 L278.2 166.1 L279.3 166.6 L280.4 167 L281.3 167.5 L282.2 168 L282.6 169.2 L282.5 170.9 L281.9 173.3 L280.9 176.3 L279.6 178.3 L278.1 179.4 L276.4 179.6 L274.4 178.9 L272.7 178.2 L271.2 177.6 L270.1 177.1 L269.2 176.6 L269 175.5 L269.5 173.9Z" fill="#fff" stroke-width="1.08"/>
<path d="M281.9 173.3 L280.9 176.3 L279.6 178.3 L278.1 179.4 L276.4 179.6 L274.4 178.9 L273.3 177.7 L273.2 176 L274.1 173.8 L275.9 171.1 L277.5 169.1 L279 168 L280.4 167.7 L281.6 168.1 L282.3 169.2 L282.4 170.9Z" stroke-width="0.86"/>
<path d="M265.4 157.6 L266.2 154.4 L267.4 152.1 L268.8 150.7 L270.5 150.2 L272.5 150.6 L274.2 150.9 L275.6 151.4 L276.8 151.8 L277.7 152.3 L278.2 153.2 L278.3 154.4 L278.2 156.1 L277.6 158 L276.7 159.7 L275.2 161.1 L273.3 162.3 L271 163.1 L269.1 163.7 L267.5 163.8 L266.2 163.7 L265.4 163.2 L264.9 162 L264.9 160.2Z" fill="#fff" stroke-width="1.08"/>
<path d="M273.3 162.3 L271 163.1 L269.5 163 L268.8 161.8 L268.8 159.6 L269.7 156.4 L270.8 154.1 L272.2 152.7 L274 152.2 L276 152.6 L277.3 153.3 L278.1 154.5 L278.2 156.1 L277.6 158 L276.7 159.7 L275.2 161.1Z" stroke-width="0.86"/>
<path d="M282.8 132.6 L285.3 131.4 L287.5 130.5 L289.1 130.2 L290.4 130.2 L291.3 130.7 L291.8 131.8 L292 133.6 L291.8 135.9 L291.2 138.8 L290.4 141.2 L289.3 143.1 L288 144.4 L286.5 145.1 L285.1 145.6 L283.9 145.7 L282.8 145.6 L282 145.1 L281.2 144.1 L280.6 142.6 L280.1 140.6 L279.7 138.2 L280 136 L281 134.2Z" fill="#fff" stroke-width="1.08"/>
<path d="M283.5 142.6 L283.1 140.2 L283.4 138 L284.5 136.2 L286.3 134.6 L288.8 133.4 L290.6 133.2 L291.5 134 L291.8 135.9 L291.2 138.8 L290.4 141.2 L289.3 143.1 L288 144.4 L286.5 145.1 L285.2 145.1 L284.2 144.3Z" stroke-width="0.86"/>
<path d="M238.5 155.9 L236.5 156.6 L235.5 159.5 L235.5 164.5 L236.5 167.4 L238.5 168.1 L239.5 165.2 L239.5 158.8" fill="#fff" stroke-width="1.08"/>
<path d="M303.3 189.2 L302.4 188.5 L301.5 187.7 L300.7 186.6 L300.1 185.5 L299.7 184.2 L299.3 182.7 L299.2 181.2 L299.1 179.5 L299.3 177.8 L299.5 176 L300 174.2 L300.5 172.4 L301.2 170.6 L302 168.8 L303 167.1 L304 165.4 L305.2 163.8 L306.4 162.2 L307.7 160.9 L309 159.6 L310.4 158.5 L311.9 157.5 L313.3 156.7 L314.7 156.1 L316.1 155.7 L317.5 155.4 L318.8 155.3 L320.1 155.5 L321.3 155.8 L322.3 156.3 L324.5 157.5 L325.5 158.2 L326.3 159.1 L327.1 160.1 L327.7 161.3 L328.2 162.6 L328.5 164 L328.7 165.6 L328.7 167.2 L328.6 168.9 L328.3 170.7 L327.9 172.5 L327.3 174.3 L326.6 176.2 L325.8 177.9 L324.9 179.7 L323.8 181.4 L322.7 183 L321.5 184.5 L320.2 185.9 L318.8 187.2 L317.4 188.3 L316 189.2 L314.5 190 L313.1 190.7 L311.7 191.1 L310.3 191.4 L309 191.4 L307.8 191.3 L306.6 191 L305.5 190.5Z" fill="#fff"/>
<path d="M324.9 179.7 L323.8 181.4 L322.7 183 L321.5 184.5 L320.2 185.9 L318.8 187.2 L317.4 188.3 L316 189.2 L314.5 190 L313.1 190.7 L311.7 191.1 L310.3 191.4 L309 191.4 L307.8 191.3 L306.6 191 L305.5 190.5 L304.5 189.8 L303.7 188.9 L302.9 187.9 L302.3 186.7 L301.8 185.4 L301.5 184 L301.3 182.4 L301.3 180.8 L301.4 179.1 L301.7 177.3 L302.1 175.5 L302.7 173.7 L303.4 171.8 L304.2 170.1 L305.1 168.3 L306.2 166.6 L307.3 165 L308.5 163.5 L309.8 162.1 L311.2 160.8 L312.6 159.7 L314 158.8 L315.5 158 L316.9 157.3 L318.3 156.9 L319.7 156.6 L321 156.6 L322.2 156.7 L323.4 157 L324.5 157.5 L325.5 158.2 L326.3 159.1 L327.1 160.1 L327.7 161.3 L328.2 162.6 L328.5 164 L328.7 165.6 L328.7 167.2 L328.6 168.9 L328.3 170.7 L327.9 172.5 L327.3 174.3 L326.6 176.2 L325.8 177.9 L324.9 179.7Z"/>
<path d="M323.1 178.7 L322.2 180 L321.3 181.3 L320.3 182.6 L319.2 183.7 L318.1 184.7 L317 185.7 L315.8 186.4 L314.6 187.1 L313.5 187.6 L312.3 187.9 L311.2 188.2 L310.1 188.2 L309.1 188.1 L308.1 187.8 L307.2 187.4 L306.5 186.9 L305.7 186.2 L305.1 185.3 L304.6 184.4 L304.3 183.3 L304 182.1 L303.9 180.9 L303.8 179.5 L303.9 178.1 L304.1 176.7 L304.5 175.2 L304.9 173.7 L305.5 172.2 L306.2 170.8 L306.9 169.3 L307.8 168 L308.7 166.7 L309.7 165.4 L310.8 164.3 L311.9 163.3 L313 162.3 L314.2 161.6 L315.4 160.9 L316.5 160.4 L317.7 160.1 L318.8 159.8 L319.9 159.8 L320.9 159.9 L321.9 160.2 L322.8 160.6 L323.5 161.1 L324.3 161.8 L324.9 162.7 L325.4 163.6 L325.7 164.7 L326 165.9 L326.1 167.1 L326.2 168.5 L326.1 169.9 L325.9 171.3 L325.5 172.8 L325.1 174.3 L324.5 175.8 L323.8 177.2 L323.1 178.7Z"/>
<path d="M320.6 159.3 L321.4 159.9 L322.1 160.6 L322.7 161.4 L323.2 162.4 L323.6 163.4 L323.8 164.6 L324 165.9 L324 167.2 L323.9 168.6 L323.7 170.1 L323.3 171.5 L322.9 173 L322.3 174.5 L321.7 176 L320.9 177.4 L320 178.8 L319.1 180.1 L318.1 181.3 L317 182.5 L315.9 183.5 L314.8 184.4 L313.6 185.2 L312.5 185.8 L311.3 186.3 L310.2 186.7 L309 186.9 L308 187 L306.9 186.8 L306 186.6 L305.1 186.2" stroke-width="0.96"/>
<path d="M326.6 202.5 L325.6 201.8 L324.7 201 L324 199.9 L323.4 198.8 L322.9 197.5 L322.6 196.1 L322.4 194.5 L322.4 192.9 L322.5 191.2 L322.8 189.5 L323.2 187.7 L323.8 185.9 L324.5 184.1 L325.3 182.3 L326.2 180.6 L327.2 178.9 L328.4 177.3 L329.6 175.8 L330.9 174.4 L332.2 173.2 L333.6 172.1 L335 171.1 L336.4 170.3 L337.8 169.7 L339.2 169.3 L340.6 169 L341.9 169 L343.1 169.1 L344.3 169.4 L345.4 169.9 L347.1 170.9 L348.1 171.6 L348.9 172.4 L349.7 173.5 L350.3 174.6 L350.7 175.9 L351 177.3 L351.2 178.9 L351.2 180.5 L351.1 182.2 L350.9 183.9 L350.4 185.7 L349.9 187.5 L349.2 189.3 L348.4 191.1 L347.5 192.8 L346.4 194.5 L345.3 196.1 L344.1 197.6 L342.8 199 L341.5 200.2 L340.1 201.3 L338.7 202.3 L337.3 203.1 L335.8 203.7 L334.4 204.1 L333.1 204.4 L331.8 204.4 L330.5 204.3 L329.4 204 L328.3 203.5Z" fill="#fff"/>
<path d="M347.5 192.8 L346.4 194.5 L345.3 196.1 L344.1 197.6 L342.8 199 L341.5 200.2 L340.1 201.3 L338.7 202.3 L337.3 203.1 L335.8 203.7 L334.4 204.1 L333.1 204.4 L331.8 204.4 L330.5 204.3 L329.4 204 L328.3 203.5 L327.3 202.8 L326.5 202 L325.7 200.9 L325.1 199.8 L324.7 198.5 L324.4 197.1 L324.2 195.5 L324.2 193.9 L324.3 192.2 L324.5 190.5 L325 188.7 L325.5 186.9 L326.2 185.1 L327 183.3 L327.9 181.6 L329 179.9 L330.1 178.3 L331.3 176.8 L332.6 175.4 L333.9 174.2 L335.3 173.1 L336.7 172.1 L338.1 171.3 L339.6 170.7 L341 170.3 L342.3 170 L343.6 170 L344.9 170.1 L346 170.4 L347.1 170.9 L348.1 171.6 L348.9 172.4 L349.7 173.5 L350.3 174.6 L350.7 175.9 L351 177.3 L351.2 178.9 L351.2 180.5 L351.1 182.2 L350.9 183.9 L350.4 185.7 L349.9 187.5 L349.2 189.3 L348.4 191.1 L347.5 192.8Z"/>
<path d="M345.8 191.8 L344.9 193.2 L344 194.5 L343 195.8 L341.9 196.9 L340.8 197.9 L339.7 198.9 L338.5 199.6 L337.3 200.3 L336.2 200.8 L335 201.1 L333.9 201.4 L332.8 201.4 L331.8 201.3 L330.8 201 L329.9 200.6 L329.2 200.1 L328.4 199.4 L327.8 198.5 L327.3 197.6 L327 196.5 L326.7 195.3 L326.6 194.1 L326.5 192.7 L326.6 191.3 L326.8 189.9 L327.2 188.4 L327.6 186.9 L328.2 185.4 L328.9 184 L329.6 182.5 L330.5 181.2 L331.4 179.9 L332.4 178.6 L333.5 177.5 L334.6 176.5 L335.7 175.5 L336.9 174.8 L338.1 174.1 L339.2 173.6 L340.4 173.2 L341.5 173 L342.6 173 L343.6 173.1 L344.6 173.4 L345.4 173.8 L346.2 174.3 L347 175 L347.6 175.9 L348.1 176.8 L348.4 177.9 L348.7 179.1 L348.8 180.3 L348.9 181.7 L348.8 183.1 L348.6 184.5 L348.2 186 L347.8 187.5 L347.2 189 L346.5 190.4 L345.8 191.8Z"/>
<path d="M343.7 172.8 L344.5 173.3 L345.2 174 L345.8 174.9 L346.3 175.8 L346.7 176.9 L347 178.1 L347.1 179.3 L347.1 180.7 L347 182.1 L346.8 183.5 L346.5 185 L346 186.5 L345.5 188 L344.8 189.4 L344 190.8 L343.2 192.2 L342.2 193.5 L341.2 194.8 L340.2 195.9 L339.1 196.9 L337.9 197.9 L336.8 198.6 L335.6 199.3 L334.4 199.8 L333.3 200.1 L332.2 200.4 L331.1 200.4 L330.1 200.3 L329.1 200 L328.2 199.6" stroke-width="0.96"/>
<path d="M345.8 191.8 L343.3 192.3 L343.5 195.2 L341.3 194.8 L340.8 197.9 L339 196.8 L337.9 200 L336.7 198.1 L335 201.1 L334.4 198.6 L332.3 201.4 L332.4 198.4 L329.9 200.6 L330.7 197.4 L328.1 199 L329.4 195.8 L327 196.5 L328.8 193.5 L326.5 193.4 L328.7 190.8 L326.8 189.9 L329.3 187.9 L327.9 186.2 L330.4 184.9 L329.6 182.5 L332.1 182.1 L331.9 179.2 L334.1 179.6 L334.6 176.5 L336.4 177.6 L337.5 174.4 L338.7 176.3 L340.4 173.2 L341 175.8 L343.1 173 L343 176 L345.4 173.8 L344.7 177 L347.3 175.4 L346 178.6 L348.4 177.9 L346.6 180.9 L348.9 181 L346.7 183.6 L348.6 184.5 L346.1 186.5 L347.5 188.2 L345 189.5 L345.8 191.8" stroke-width="0.96"/>
<path d="M353.2 244.9 L351 243.4 L349.1 241.5 L347.5 239.2 L346.1 236.6 L345.1 233.7 L344.4 230.5 L344 227.1 L343.9 223.5 L344.2 219.7 L344.8 215.8 L345.7 211.8 L347 207.8 L348.5 203.7 L350.3 199.8 L352.4 195.9 L354.7 192.2 L357.2 188.6 L359.9 185.3 L362.8 182.2 L365.8 179.4 L368.9 176.9 L372 174.8 L375.2 173 L378.4 171.7 L381.5 170.7 L384.5 170.1 L387.4 170 L390.2 170.3 L392.8 171 L395.2 172.1 L403 176.6 L405.2 178.1 L407.1 180 L408.7 182.3 L410.1 184.9 L411.1 187.8 L411.8 191 L412.2 194.4 L412.3 198 L412 201.8 L411.4 205.7 L410.5 209.7 L409.2 213.7 L407.7 217.8 L405.9 221.7 L403.8 225.6 L401.5 229.3 L399 232.9 L396.3 236.2 L393.4 239.3 L390.4 242.1 L387.3 244.6 L384.2 246.7 L381 248.5 L377.8 249.8 L374.7 250.8 L371.7 251.4 L368.8 251.5 L366 251.2 L363.4 250.5 L361 249.4Z" fill="#fff" stroke-width="0"/>
<path d="M352.5 244.4 L350.3 242.7 L348.4 240.6 L346.8 238.1 L345.6 235.2 L344.7 232.1 L344.1 228.6 L343.9 224.9 L344.1 221.1 L344.6 217 L345.4 212.9 L346.6 208.7 L348.2 204.6 L350 200.4" stroke-dasharray="5 2.5"/>
<path d="M361 249.4 L358.7 247.7 L356.7 245.7 L355 243.2 L353.6 240.4 L352.6 237.2 L352 233.7 L351.7 230 L351.8 226 L352.3 221.9 L353.2 217.7 L354.4 213.4 L355.9 209.2 L357.8 204.9" stroke-dasharray="5 2.5"/>
<path d="M403 176.6 L405.2 178.1 L407.1 180 L408.7 182.3 L410.1 184.9 L411.1 187.8 L411.8 191 L412.2 194.4 L412.3 198 L412 201.8 L411.4 205.7 L410.5 209.7 L409.2 213.7 L407.7 217.8 L405.9 221.7 L403.8 225.6 L401.5 229.3 L399 232.9 L396.3 236.2 L393.4 239.3 L390.4 242.1 L387.3 244.6 L384.2 246.7 L381 248.5 L377.8 249.8 L374.7 250.8 L371.7 251.4 L368.8 251.5 L366 251.2 L363.4 250.5 L361 249.4"/>
<path d="M353.4 201.6 L355.2 198.1 L357.3 194.8 L359.5 191.7 L361.9 188.7 L364.4 186 L367.1 183.5 L369.8 181.3 L372.6 179.5 L375.4 178 L378.2 176.8 L380.9 176 L383.6 175.6 L386.1 175.5 L388.5 175.9 L390.8 176.6 L392.8 177.7" stroke-width="1.08"/>
<path d="M349.3 201.9 L350.7 199 L354.3 200 L362 204.5 L360.5 207.7 L357.1 206.4Z" fill="#fff" stroke-width="1.08"/>
<path d="M349.3 201.9 L357.1 206.4" stroke-width="0.86"/>
<path d="M350.7 199 L358.5 203.5" stroke-width="0.86"/>
<path d="M360.5 207.7 L357.1 206.4 L358.5 203.5 L362 204.5" stroke-width="0.86"/>
<path d="M352.3 196 L354 193.3 L357.1 195.1 L364.9 199.6 L363 202.7 L355.2 198.2Z" fill="#fff" stroke-width="1.08"/>
<path d="M352.3 196 L360.1 200.5" stroke-width="0.86"/>
<path d="M354 193.3 L361.8 197.8" stroke-width="0.86"/>
<path d="M363 202.7 L360.1 200.5 L361.8 197.8 L364.9 199.6" stroke-width="0.86"/>
<path d="M355.9 190.5 L357.7 187.9 L365.5 192.4 L368.2 195 L366 197.9 L358.2 193.4Z" fill="#fff" stroke-width="1.08"/>
<path d="M355.9 190.5 L363.7 195" stroke-width="0.86"/>
<path d="M357.7 187.9 L365.5 192.4" stroke-width="0.86"/>
<path d="M366 197.9 L363.7 195 L365.5 192.4 L368.2 195" stroke-width="0.86"/>
<path d="M359.9 185.4 L361.9 183.1 L369.7 187.6 L371.8 190.9 L369.4 193.5 L361.6 189Z" fill="#fff" stroke-width="1.08"/>
<path d="M359.9 185.4 L367.7 189.9" stroke-width="0.86"/>
<path d="M361.9 183.1 L369.7 187.6" stroke-width="0.86"/>
<path d="M369.4 193.5 L367.7 189.9 L369.7 187.6 L371.8 190.9" stroke-width="0.86"/>
<path d="M364.2 180.8 L366.4 178.9 L374.2 183.4 L375.6 187.4 L373.1 189.6 L365.3 185.1Z" fill="#fff" stroke-width="1.08"/>
<path d="M364.2 180.8 L372 185.3" stroke-width="0.86"/>
<path d="M366.4 178.9 L374.2 183.4" stroke-width="0.86"/>
<path d="M373.1 189.6 L372 185.3 L374.2 183.4 L375.6 187.4" stroke-width="0.86"/>
<path d="M368.8 177 L371.1 175.4 L378.9 179.9 L379.6 184.4 L377.1 186.2 L369.3 181.7Z" fill="#fff" stroke-width="1.08"/>
<path d="M368.8 177 L376.6 181.5" stroke-width="0.86"/>
<path d="M371.1 175.4 L378.9 179.9" stroke-width="0.86"/>
<path d="M377.1 186.2 L376.6 181.5 L378.9 179.9 L379.6 184.4" stroke-width="0.86"/>
<path d="M373.3 179 L373.5 173.9 L375.8 172.7 L383.6 177.2 L383.7 182.2 L381.1 183.5Z" fill="#fff" stroke-width="1.08"/>
<path d="M373.5 173.9 L381.3 178.4" stroke-width="0.86"/>
<path d="M375.8 172.7 L383.6 177.2" stroke-width="0.86"/>
<path d="M381.1 183.5 L381.3 178.4 L383.6 177.2 L383.7 182.2" stroke-width="0.86"/>
<path d="M377.4 177.1 L378.3 171.7 L380.5 171 L388.3 175.5 L387.7 180.7 L385.2 181.6Z" fill="#fff" stroke-width="1.08"/>
<path d="M378.3 171.7 L386.1 176.2" stroke-width="0.86"/>
<path d="M380.5 171 L388.3 175.5" stroke-width="0.86"/>
<path d="M385.2 181.6 L386.1 176.2 L388.3 175.5 L387.7 180.7" stroke-width="0.86"/>
<path d="M381.4 175.9 L382.9 170.4 L385.1 170.1 L392.9 174.6 L391.6 180.1 L389.2 180.4Z" fill="#fff" stroke-width="1.08"/>
<path d="M382.9 170.4 L390.7 174.9" stroke-width="0.86"/>
<path d="M385.1 170.1 L392.9 174.6" stroke-width="0.86"/>
<path d="M389.2 180.4 L390.7 174.9 L392.9 174.6 L391.6 180.1" stroke-width="0.86"/>
<path d="M385.2 175.5 L387.4 170 L389.4 170.2 L397.2 174.7 L395.3 180.2 L393 180Z" fill="#fff" stroke-width="1.08"/>
<path d="M387.4 170 L395.2 174.5" stroke-width="0.86"/>
<path d="M389.4 170.2 L397.2 174.7" stroke-width="0.86"/>
<path d="M393 180 L395.2 174.5 L397.2 174.7 L395.3 180.2" stroke-width="0.86"/>
<path d="M388.7 175.9 L391.5 170.6 L393.3 171.2 L401.1 175.7 L398.6 181.1 L396.5 180.4Z" fill="#fff" stroke-width="1.08"/>
<path d="M391.5 170.6 L399.3 175.1" stroke-width="0.86"/>
<path d="M393.3 171.2 L401.1 175.7" stroke-width="0.86"/>
<path d="M396.5 180.4 L399.3 175.1 L401.1 175.7 L398.6 181.1" stroke-width="0.86"/>
<path d="M360 208.9 L361.5 205.5 L363.4 202.1 L365.4 198.8 L367.6 195.7 L370 192.8 L372.5 190.2 L375.1 187.8 L377.8 185.6 L380.6 183.8 L383.4 182.4 L386.1 181.2 L388.8 180.5 L391.4 180.1 L394 180 L396.4 180.4 L398.6 181.1 L400.6 182.2 L402.4 183.6"/>
<path d="M400.2 223.5 L398.3 226.6 L396.2 229.6 L393.9 232.4 L391.5 234.9 L389 237.2 L386.4 239.3 L383.8 241.1 L381.2 242.6 L378.5 243.7 L375.9 244.5 L373.4 245 L371 245.1 L368.7 244.8 L366.5 244.2 L364.5 243.3 L362.7 242 L361.1 240.5 L359.7 238.6 L358.6 236.4 L357.8 234 L357.2 231.4 L356.8 228.5 L356.8 225.5 L357 222.3 L357.5 219.1 L358.3 215.7 L359.3 212.4 L360.6 209 L362.1 205.7 L363.8 202.5 L365.7 199.4 L367.8 196.4 L370.1 193.6 L372.5 191.1 L375 188.8 L377.6 186.7 L380.2 184.9 L382.8 183.4 L385.5 182.3 L388.1 181.5 L390.6 181 L393 180.9 L395.3 181.2 L397.5 181.8 L399.5 182.7 L401.3 184 L402.9 185.5 L404.3 187.4 L405.4 189.6 L406.2 192 L406.8 194.6 L407.2 197.5 L407.2 200.5 L407 203.7 L406.5 206.9 L405.7 210.3 L404.7 213.6 L403.4 217 L401.9 220.3 L400.2 223.5Z"/>
<path d="M391.7 218.6 L390.7 220.3 L389.6 221.9 L388.4 223.3 L387.1 224.7 L385.7 226 L384.4 227.1 L383 228 L381.6 228.8 L380.1 229.4 L378.8 229.8 L377.4 230.1 L376.1 230.1 L374.9 230 L373.7 229.7 L372.6 229.2 L371.7 228.5 L370.8 227.7 L370.1 226.7 L369.5 225.5 L369 224.2 L368.7 222.8 L368.5 221.3 L368.5 219.7 L368.6 218 L368.9 216.2 L369.3 214.5 L369.9 212.7 L370.6 210.9 L371.4 209.1 L372.3 207.4 L373.3 205.7 L374.4 204.1 L375.6 202.7 L376.9 201.3 L378.3 200 L379.6 198.9 L381 198 L382.4 197.2 L383.9 196.6 L385.2 196.2 L386.6 195.9 L387.9 195.9 L389.1 196 L390.3 196.3 L391.4 196.8 L392.3 197.5 L393.2 198.3 L393.9 199.3 L394.5 200.5 L395 201.8 L395.3 203.2 L395.5 204.7 L395.5 206.3 L395.4 208 L395.1 209.8 L394.7 211.5 L394.1 213.3 L393.4 215.1 L392.6 216.9 L391.7 218.6Z"/>
<path d="M388.8 216.9 L388 218.1 L387.3 219.2 L386.4 220.2 L385.5 221.1 L384.6 222 L383.6 222.8 L382.7 223.4 L381.7 224 L380.7 224.4 L379.7 224.7 L378.8 224.9 L377.9 224.9 L377 224.8 L376.2 224.6 L375.5 224.3 L374.8 223.8 L374.2 223.2 L373.7 222.5 L373.3 221.7 L373 220.8 L372.8 219.8 L372.6 218.8 L372.6 217.6 L372.7 216.5 L372.9 215.3 L373.2 214 L373.6 212.8 L374 211.5 L374.6 210.3 L375.2 209.1 L376 207.9 L376.7 206.8 L377.6 205.8 L378.5 204.9 L379.4 204 L380.4 203.2 L381.3 202.6 L382.3 202 L383.3 201.6 L384.3 201.3 L385.2 201.1 L386.1 201.1 L387 201.2 L387.8 201.4 L388.5 201.7 L389.2 202.2 L389.8 202.8 L390.3 203.5 L390.7 204.3 L391 205.2 L391.2 206.2 L391.4 207.2 L391.4 208.4 L391.3 209.5 L391.1 210.7 L390.8 212 L390.4 213.2 L390 214.5 L389.4 215.7 L388.8 216.9Z"/>
<path d="M406.8 247.6 L406 247 L405.3 246.3 L404.7 245.4 L404.1 244.4 L403.8 243.3 L403.5 242.1 L403.3 240.8 L403.3 239.4 L403.4 238 L403.6 236.5 L404 235 L404.5 233.4 L405 231.9 L405.7 230.4 L406.5 228.9 L407.4 227.5 L408.4 226.1 L409.4 224.9 L410.5 223.7 L411.6 222.6 L412.8 221.7 L414 220.9 L415.2 220.2 L416.4 219.7 L417.6 219.3 L418.8 219.1 L419.9 219 L420.9 219.1 L421.9 219.4 L422.8 219.8 L431.5 224.8 L432.3 225.4 L433.1 226.1 L433.7 227 L434.2 228 L434.6 229.1 L434.9 230.3 L435 231.6 L435 233 L434.9 234.4 L434.7 235.9 L434.3 237.4 L433.9 239 L433.3 240.5 L432.6 242 L431.8 243.5 L430.9 244.9 L430 246.3 L428.9 247.5 L427.8 248.7 L426.7 249.8 L425.5 250.7 L424.3 251.5 L423.1 252.2 L421.9 252.7 L420.7 253.1 L419.6 253.3 L418.5 253.4 L417.4 253.3 L416.4 253 L415.5 252.6Z" fill="#fff"/>
<path d="M431.8 243.5 L430.9 244.9 L430 246.3 L428.9 247.5 L427.8 248.7 L426.7 249.8 L425.5 250.7 L424.3 251.5 L423.1 252.2 L421.9 252.7 L420.7 253.1 L419.6 253.3 L418.5 253.4 L417.4 253.3 L416.4 253 L415.5 252.6 L414.7 252 L413.9 251.3 L413.3 250.4 L412.8 249.4 L412.4 248.3 L412.1 247.1 L412 245.8 L412 244.4 L412.1 243 L412.3 241.5 L412.7 240 L413.1 238.4 L413.7 236.9 L414.4 235.4 L415.2 233.9 L416.1 232.5 L417 231.1 L418.1 229.9 L419.2 228.7 L420.3 227.6 L421.5 226.7 L422.7 225.9 L423.9 225.2 L425.1 224.7 L426.3 224.3 L427.4 224.1 L428.5 224 L429.6 224.1 L430.6 224.4 L431.5 224.8 L432.3 225.4 L433.1 226.1 L433.7 227 L434.2 228 L434.6 229.1 L434.9 230.3 L435 231.6 L435 233 L434.9 234.4 L434.7 235.9 L434.3 237.4 L433.9 239 L433.3 240.5 L432.6 242 L431.8 243.5Z"/>
<path d="M430.3 242.6 L429.5 243.8 L428.8 244.9 L427.9 245.9 L427 246.8 L426.1 247.7 L425.1 248.5 L424.2 249.1 L423.2 249.7 L422.2 250.1 L421.2 250.4 L420.3 250.6 L419.4 250.6 L418.5 250.5 L417.7 250.3 L417 250 L416.3 249.5 L415.7 248.9 L415.2 248.2 L414.8 247.4 L414.5 246.5 L414.3 245.5 L414.1 244.5 L414.1 243.3 L414.2 242.2 L414.4 241 L414.7 239.7 L415.1 238.5 L415.5 237.2 L416.1 236 L416.7 234.8 L417.5 233.6 L418.2 232.5 L419.1 231.5 L420 230.6 L420.9 229.7 L421.9 228.9 L422.8 228.3 L423.8 227.7 L424.8 227.3 L425.8 227 L426.7 226.8 L427.6 226.8 L428.5 226.9 L429.3 227.1 L430 227.4 L430.7 227.9 L431.3 228.5 L431.8 229.2 L432.2 230 L432.5 230.9 L432.7 231.9 L432.9 232.9 L432.9 234.1 L432.8 235.2 L432.6 236.4 L432.3 237.7 L431.9 238.9 L431.5 240.2 L430.9 241.4 L430.3 242.6Z"/>
<path d="M429.5 242.1 L428.8 243.2 L428.1 244.1 L427.4 245.1 L426.6 245.9 L425.8 246.7 L425 247.3 L424.1 247.9 L423.2 248.4 L422.4 248.8 L421.5 249 L420.7 249.2 L419.9 249.2 L419.1 249.2 L418.4 249 L417.8 248.7 L417.2 248.2 L416.6 247.7 L416.2 247.1 L415.8 246.4 L415.5 245.6 L415.3 244.7 L415.2 243.8 L415.2 242.8 L415.3 241.8 L415.4 240.7 L415.7 239.6 L416 238.5 L416.5 237.4 L417 236.3 L417.5 235.2 L418.2 234.2 L418.9 233.3 L419.6 232.3 L420.4 231.5 L421.2 230.7 L422 230.1 L422.9 229.5 L423.8 229 L424.6 228.6 L425.5 228.3 L426.3 228.2 L427.1 228.2 L427.9 228.2 L428.6 228.4 L429.2 228.7 L429.8 229.2 L430.4 229.7 L430.8 230.3 L431.2 231 L431.5 231.8 L431.7 232.7 L431.8 233.6 L431.8 234.6 L431.7 235.6 L431.6 236.7 L431.3 237.8 L431 238.9 L430.5 240 L430 241.1 L429.5 242.1Z" stroke-width="0.96"/>
<path d="M421.5 224.2 L422 224.7 L422.6 225.2 L423 225.8 L423.4 226.5 L423.7 227.3 L423.9 228.2 L424 229.1 L424 230.1 L423.9 231.1 L423.8 232.2 L423.5 233.3 L423.2 234.4 L422.7 235.5 L422.2 236.6 L421.7 237.6 L421 238.7 L420.4 239.6 L419.6 240.6 L418.8 241.4 L418 242.2 L417.2 242.8 L416.3 243.4 L415.4 243.9 L414.6 244.3 L413.7 244.5 L412.9 244.7 L412.1 244.7 L411.3 244.7 L410.6 244.5 L410 244.2" stroke-width="0.96"/>
<path d="M430.3 230.4 L423.4 226.4" stroke-width="0.84"/>
<path d="M430.9 232.8 L424 228.8" stroke-width="0.84"/>
<path d="M430.8 235.6 L423.9 231.6" stroke-width="0.84"/>
<path d="M430 238.6 L423.1 234.6" stroke-width="0.84"/>
<path d="M428.6 241.6 L421.7 237.6" stroke-width="0.84"/>
<path d="M426.7 244.4 L419.8 240.4" stroke-width="0.84"/>
<path d="M424.5 246.6 L417.5 242.6" stroke-width="0.84"/>
<path d="M422.1 248 L415.1 244" stroke-width="0.84"/>
<path d="M419.7 248.7 L412.8 244.7" stroke-width="0.84"/>
<path d="M454.2 236.4 L457.2 231.2 L458.5 232 L460.4 233.2 L457.2 238.3 L455.9 237.6Z" fill="#fff" stroke-width="1.08"/>
<path d="M455.5 237.2 L458.5 232 L460.4 233.2 L457.2 238.3" stroke-width="0.86"/>
<path d="M458.8 235.3 L458.7 235.4 L458.7 235.5 L458.6 235.7 L458.5 235.8 L458.4 235.9 L458.3 235.9 L458.2 236 L458.1 236.1 L457.9 236.1 L457.8 236.1 L457.7 236.2 L457.6 236.2 L457.6 236.2 L457.5 236.1 L457.4 236.1 L457.3 236 L457.3 236 L457.2 235.9 L457.2 235.8 L457.1 235.7 L457.1 235.6 L457.1 235.5 L457.1 235.4 L457.1 235.3 L457.1 235.1 L457.1 235 L457.2 234.9 L457.2 234.7 L457.3 234.6 L457.4 234.5 L457.4 234.3 L457.5 234.2 L457.6 234.1 L457.7 234 L457.8 233.9 L457.9 233.8 L458 233.8 L458.1 233.7 L458.2 233.7 L458.3 233.6 L458.4 233.6 L458.5 233.6 L458.6 233.6 L458.7 233.6 L458.8 233.7 L458.9 233.7 L458.9 233.8 L459 233.9 L459 233.9 L459.1 234 L459.1 234.2 L459.1 234.3 L459.1 234.4 L459.1 234.5 L459.1 234.6 L459 234.8 L459 234.9 L458.9 235 L458.9 235.2 L458.8 235.3Z" stroke-width="0.84"/>
<path d="M450.3 262.7 L452.6 260.2 L453.9 260.9 L455.5 263.9 L453.1 266.4 L451.8 265.7Z" fill="#fff" stroke-width="1.08"/>
<path d="M453.9 260.9 L455.5 263.9 L453.1 266.4 L451.6 263.4" stroke-width="0.86"/>
<path d="M454.3 264.3 L454.2 264.4 L454.1 264.5 L454.1 264.6 L454 264.6 L453.9 264.7 L453.8 264.8 L453.7 264.9 L453.6 264.9 L453.5 264.9 L453.4 265 L453.4 265 L453.3 265 L453.2 265 L453.1 265 L453.1 264.9 L453 264.9 L452.9 264.8 L452.9 264.8 L452.9 264.7 L452.8 264.6 L452.8 264.5 L452.8 264.4 L452.8 264.3 L452.8 264.2 L452.8 264.1 L452.8 264 L452.9 263.9 L452.9 263.8 L453 263.6 L453 263.5 L453.1 263.4 L453.2 263.3 L453.2 263.2 L453.3 263.1 L453.4 263.1 L453.5 263 L453.6 262.9 L453.7 262.9 L453.8 262.8 L453.9 262.8 L454 262.8 L454 262.8 L454.1 262.8 L454.2 262.8 L454.3 262.9 L454.3 262.9 L454.4 262.9 L454.4 263 L454.5 263.1 L454.5 263.2 L454.5 263.3 L454.5 263.4 L454.5 263.5 L454.5 263.6 L454.5 263.7 L454.5 263.8 L454.4 263.9 L454.4 264 L454.3 264.1 L454.3 264.3Z" stroke-width="0.84"/>
<path d="M430.7 256.5 L431.5 252.6 L435 252 L436.3 252.7 L435.5 256.5 L432 257.2Z" fill="#fff" stroke-width="1.08"/>
<path d="M435.5 256.5 L432 257.2 L432.8 253.4 L436.3 252.7" stroke-width="0.86"/>
<path d="M434.5 255.4 L434.4 255.5 L434.4 255.6 L434.3 255.7 L434.2 255.8 L434.1 255.8 L434 255.9 L433.9 256 L433.8 256 L433.7 256.1 L433.7 256.1 L433.6 256.1 L433.5 256.1 L433.4 256.1 L433.3 256.1 L433.3 256 L433.2 256 L433.2 255.9 L433.1 255.9 L433.1 255.8 L433 255.7 L433 255.6 L433 255.5 L433 255.4 L433 255.3 L433 255.2 L433.1 255.1 L433.1 255 L433.1 254.9 L433.2 254.8 L433.2 254.6 L433.3 254.5 L433.4 254.4 L433.5 254.3 L433.5 254.3 L433.6 254.2 L433.7 254.1 L433.8 254 L433.9 254 L434 254 L434.1 253.9 L434.2 253.9 L434.2 253.9 L434.3 253.9 L434.4 253.9 L434.5 254 L434.5 254 L434.6 254.1 L434.6 254.1 L434.7 254.2 L434.7 254.3 L434.7 254.4 L434.7 254.5 L434.7 254.6 L434.7 254.7 L434.7 254.8 L434.7 254.9 L434.6 255 L434.6 255.1 L434.6 255.3 L434.5 255.4Z" stroke-width="0.84"/>
<path d="M437.3 267 L436.4 266.4 L435.6 265.6 L434.9 264.6 L434.3 263.5 L433.8 262.2 L433.5 260.9 L433.4 259.4 L433.3 257.9 L433.4 256.2 L433.7 254.6 L434.1 252.9 L434.6 251.1 L435.3 249.4 L436.1 247.7 L436.9 246 L437.9 244.5 L439 242.9 L440.2 241.5 L441.4 240.2 L442.7 239 L444 237.9 L445.4 237 L446.7 236.3 L448.1 235.7 L449.4 235.2 L450.7 235 L452 235 L453.2 235.1 L454.3 235.4 L455.3 235.9 L456.6 236.6 L457.5 237.3 L458.3 238.1 L459 239 L459.6 240.2 L460.1 241.4 L460.4 242.8 L460.5 244.2 L460.6 245.8 L460.5 247.4 L460.2 249.1 L459.8 250.8 L459.3 252.5 L458.6 254.2 L457.8 255.9 L457 257.6 L456 259.2 L454.9 260.7 L453.7 262.2 L452.5 263.5 L451.2 264.7 L449.9 265.7 L448.5 266.6 L447.2 267.4 L445.8 268 L444.5 268.4 L443.2 268.6 L441.9 268.7 L440.7 268.6 L439.6 268.3 L438.6 267.8Z" fill="#fff"/>
<path d="M457 257.6 L456 259.2 L454.9 260.7 L453.7 262.2 L452.5 263.5 L451.2 264.7 L449.9 265.7 L448.5 266.6 L447.2 267.4 L445.8 268 L444.5 268.4 L443.2 268.6 L441.9 268.7 L440.7 268.6 L439.6 268.3 L438.6 267.8 L437.7 267.1 L436.9 266.3 L436.2 265.4 L435.6 264.2 L435.1 263 L434.8 261.6 L434.7 260.2 L434.6 258.6 L434.7 257 L435 255.3 L435.4 253.6 L435.9 251.9 L436.6 250.2 L437.4 248.5 L438.2 246.8 L439.2 245.2 L440.3 243.7 L441.5 242.2 L442.7 240.9 L444 239.7 L445.3 238.7 L446.7 237.8 L448 237 L449.4 236.4 L450.7 236 L452 235.8 L453.3 235.7 L454.5 235.8 L455.6 236.1 L456.6 236.6 L457.5 237.3 L458.3 238.1 L459 239 L459.6 240.2 L460.1 241.4 L460.4 242.8 L460.5 244.2 L460.6 245.8 L460.5 247.4 L460.2 249.1 L459.8 250.8 L459.3 252.5 L458.6 254.2 L457.8 255.9 L457 257.6Z"/>
<path d="M455.1 256.6 L454.3 257.8 L453.5 259.1 L452.5 260.2 L451.5 261.3 L450.5 262.2 L449.4 263.1 L448.3 263.8 L447.3 264.4 L446.2 264.9 L445.1 265.2 L444 265.4 L443 265.5 L442.1 265.4 L441.2 265.1 L440.4 264.8 L439.6 264.2 L438.9 263.6 L438.4 262.8 L437.9 261.9 L437.6 260.9 L437.3 259.8 L437.2 258.6 L437.1 257.4 L437.2 256.1 L437.5 254.7 L437.8 253.3 L438.2 251.9 L438.7 250.6 L439.3 249.2 L440.1 247.8 L440.9 246.6 L441.7 245.3 L442.7 244.2 L443.7 243.1 L444.7 242.2 L445.8 241.3 L446.9 240.6 L447.9 240 L449 239.5 L450.1 239.1 L451.2 239 L452.2 238.9 L453.1 239 L454 239.3 L454.9 239.6 L455.6 240.2 L456.3 240.8 L456.8 241.6 L457.3 242.5 L457.6 243.5 L457.9 244.6 L458 245.8 L458.1 247 L458 248.3 L457.8 249.7 L457.4 251.1 L457 252.5 L456.5 253.8 L455.9 255.2 L455.1 256.6Z"/>
<path d="M453.6 238.9 L454.3 239.4 L455 240.1 L455.5 240.9 L456 241.7 L456.3 242.8 L456.6 243.8 L456.7 245 L456.8 246.3 L456.7 247.6 L456.5 248.9 L456.1 250.3 L455.7 251.7 L455.2 253.1 L454.6 254.5 L453.8 255.8 L453 257.1 L452.2 258.3 L451.2 259.5 L450.2 260.5 L449.2 261.5 L448.1 262.4 L447 263.1 L446 263.7 L444.9 264.2 L443.8 264.5 L442.7 264.7 L441.7 264.7 L440.8 264.6 L439.9 264.4 L439.1 264" stroke-width="0.96"/>
<path d="M455.1 256.6 L452.8 256.9 L453 259.7 L450.9 259.2 L450.5 262.2 L448.8 261 L447.8 264.2 L446.7 262.2 L445.1 265.2 L444.6 262.7 L442.5 265.5 L442.7 262.5 L440.4 264.8 L441.1 261.6 L438.6 263.2 L440 260.1 L437.6 260.9 L439.4 258 L437.1 258 L439.4 255.5 L437.5 254.7 L439.9 252.8 L438.4 251.2 L440.9 250.1 L440.1 247.8 L442.4 247.5 L442.2 244.7 L444.3 245.2 L444.7 242.2 L446.4 243.4 L447.4 240.2 L448.5 242.2 L450.1 239.1 L450.6 241.7 L452.7 238.9 L452.5 241.9 L454.9 239.6 L454.1 242.8 L456.6 241.2 L455.2 244.3 L457.6 243.5 L455.8 246.4 L458.1 246.4 L455.8 248.9 L457.8 249.7 L455.3 251.6 L456.8 253.2 L454.3 254.3 L455.1 256.6" stroke-width="0.96"/>
<path d="M486 254.1 L487.9 251.2 L489.2 251.9 L490.6 253 L488.7 256 L487.4 255.2Z" fill="#fff" stroke-width="1.08"/>
<path d="M487.2 254.8 L489.2 251.9 L490.6 253 L488.7 256" stroke-width="0.86"/>
<path d="M489.6 253.8 L489.5 253.9 L489.5 253.9 L489.4 254 L489.4 254.1 L489.3 254.1 L489.3 254.1 L489.2 254.2 L489.1 254.2 L489.1 254.2 L489 254.3 L489 254.3 L488.9 254.3 L488.9 254.3 L488.8 254.3 L488.8 254.2 L488.8 254.2 L488.7 254.2 L488.7 254.1 L488.7 254.1 L488.6 254 L488.6 254 L488.6 253.9 L488.6 253.8 L488.6 253.8 L488.6 253.7 L488.7 253.6 L488.7 253.6 L488.7 253.5 L488.7 253.4 L488.8 253.4 L488.8 253.3 L488.9 253.2 L488.9 253.2 L489 253.1 L489 253.1 L489.1 253 L489.1 253 L489.2 252.9 L489.2 252.9 L489.3 252.9 L489.3 252.9 L489.4 252.9 L489.4 252.9 L489.5 252.9 L489.5 252.9 L489.6 253 L489.6 253 L489.6 253 L489.7 253.1 L489.7 253.1 L489.7 253.2 L489.7 253.2 L489.7 253.3 L489.7 253.4 L489.7 253.5 L489.7 253.5 L489.7 253.6 L489.6 253.7 L489.6 253.7 L489.6 253.8Z" stroke-width="0.84"/>
<path d="M462.3 274.2 L462.8 271.6 L465.3 270.9 L466.6 271.6 L466 274.4 L463.6 274.9Z" fill="#fff" stroke-width="1.08"/>
<path d="M466 274.4 L463.6 274.9 L464.1 272.3 L466.6 271.6" stroke-width="0.86"/>
<path d="M465.2 273.6 L465.1 273.7 L465.1 273.8 L465 273.8 L465 273.9 L464.9 273.9 L464.9 274 L464.8 274 L464.7 274 L464.7 274.1 L464.6 274.1 L464.6 274.1 L464.5 274.1 L464.5 274.1 L464.4 274.1 L464.4 274 L464.3 274 L464.3 274 L464.3 273.9 L464.3 273.9 L464.2 273.8 L464.2 273.8 L464.2 273.7 L464.2 273.7 L464.2 273.6 L464.2 273.5 L464.3 273.5 L464.3 273.4 L464.3 273.3 L464.3 273.2 L464.4 273.2 L464.4 273.1 L464.5 273 L464.5 273 L464.6 272.9 L464.6 272.9 L464.7 272.8 L464.7 272.8 L464.8 272.8 L464.8 272.7 L464.9 272.7 L464.9 272.7 L465 272.7 L465 272.7 L465.1 272.7 L465.1 272.7 L465.2 272.8 L465.2 272.8 L465.2 272.9 L465.3 272.9 L465.3 272.9 L465.3 273 L465.3 273.1 L465.3 273.1 L465.3 273.2 L465.3 273.3 L465.3 273.3 L465.2 273.4 L465.2 273.5 L465.2 273.6 L465.2 273.6Z" stroke-width="0.84"/>
<path d="M478.5 283 L480.7 281.4 L482 282.1 L482.4 284.8 L480.4 286.3 L479.1 285.6Z" fill="#fff" stroke-width="1.08"/>
<path d="M482 282.1 L482.4 284.8 L480.4 286.3 L479.8 283.8" stroke-width="0.86"/>
<path d="M481.6 284.8 L481.6 284.9 L481.5 284.9 L481.5 285 L481.4 285 L481.4 285.1 L481.3 285.1 L481.3 285.2 L481.2 285.2 L481.2 285.2 L481.1 285.2 L481 285.3 L481 285.3 L480.9 285.3 L480.9 285.2 L480.9 285.2 L480.8 285.2 L480.8 285.2 L480.7 285.1 L480.7 285.1 L480.7 285 L480.7 285 L480.7 284.9 L480.7 284.8 L480.7 284.8 L480.7 284.7 L480.7 284.6 L480.7 284.6 L480.8 284.5 L480.8 284.4 L480.8 284.3 L480.9 284.3 L480.9 284.2 L481 284.2 L481 284.1 L481.1 284.1 L481.1 284 L481.2 284 L481.2 283.9 L481.3 283.9 L481.4 283.9 L481.4 283.9 L481.5 283.9 L481.5 283.9 L481.6 283.9 L481.6 283.9 L481.6 283.9 L481.7 284 L481.7 284 L481.7 284.1 L481.7 284.1 L481.8 284.2 L481.8 284.2 L481.8 284.3 L481.8 284.4 L481.8 284.4 L481.7 284.5 L481.7 284.6 L481.7 284.7 L481.7 284.7 L481.6 284.8Z" stroke-width="0.84"/>
<path d="M468 285.3 L467 284.6 L466.2 283.8 L465.4 282.8 L464.8 281.6 L464.4 280.4 L464.1 278.9 L463.9 277.4 L463.9 275.8 L464 274.2 L464.3 272.5 L464.7 270.7 L465.2 268.9 L465.9 267.2 L466.7 265.4 L467.6 263.7 L468.6 262.1 L469.7 260.5 L470.9 259 L472.2 257.7 L473.5 256.4 L474.9 255.3 L476.2 254.4 L477.6 253.6 L479 253 L480.4 252.6 L481.7 252.4 L483 252.3 L484.3 252.4 L485.4 252.7 L486.5 253.2 L487.8 254 L488.7 254.6 L489.5 255.5 L490.3 256.5 L490.9 257.6 L491.3 258.9 L491.6 260.3 L491.8 261.8 L491.8 263.4 L491.7 265.1 L491.4 266.8 L491 268.6 L490.5 270.3 L489.8 272.1 L489 273.8 L488.1 275.6 L487.1 277.2 L486 278.8 L484.8 280.2 L483.5 281.6 L482.2 282.8 L480.8 283.9 L479.5 284.8 L478.1 285.6 L476.7 286.2 L475.3 286.6 L474 286.9 L472.7 287 L471.5 286.8 L470.3 286.5 L469.2 286Z" fill="#fff"/>
<path d="M488.1 275.6 L487.1 277.2 L486 278.8 L484.8 280.2 L483.5 281.6 L482.2 282.8 L480.8 283.9 L479.5 284.8 L478.1 285.6 L476.7 286.2 L475.3 286.6 L474 286.9 L472.7 287 L471.5 286.8 L470.3 286.5 L469.2 286 L468.3 285.4 L467.5 284.5 L466.7 283.5 L466.1 282.4 L465.7 281.1 L465.4 279.7 L465.2 278.2 L465.2 276.6 L465.3 274.9 L465.6 273.2 L466 271.4 L466.5 269.7 L467.2 267.9 L468 266.2 L468.9 264.4 L469.9 262.8 L471 261.2 L472.2 259.8 L473.5 258.4 L474.8 257.2 L476.2 256.1 L477.5 255.2 L478.9 254.4 L480.3 253.8 L481.7 253.4 L483 253.1 L484.3 253 L485.5 253.2 L486.7 253.5 L487.8 254 L488.7 254.6 L489.5 255.5 L490.3 256.5 L490.9 257.6 L491.3 258.9 L491.6 260.3 L491.8 261.8 L491.8 263.4 L491.7 265.1 L491.4 266.8 L491 268.6 L490.5 270.3 L489.8 272.1 L489 273.8 L488.1 275.6Z"/>
<path d="M486 274.4 L485.2 275.6 L484.4 276.9 L483.4 278 L482.4 279.1 L481.4 280 L480.3 280.9 L479.2 281.6 L478.2 282.2 L477.1 282.7 L476 283.1 L474.9 283.2 L473.9 283.3 L473 283.2 L472.1 282.9 L471.2 282.6 L470.5 282 L469.8 281.4 L469.3 280.6 L468.8 279.7 L468.5 278.7 L468.2 277.6 L468.1 276.4 L468 275.2 L468.1 273.9 L468.4 272.5 L468.7 271.1 L469.1 269.7 L469.6 268.4 L470.2 267 L471 265.6 L471.8 264.4 L472.6 263.1 L473.6 262 L474.6 260.9 L475.6 260 L476.7 259.1 L477.8 258.4 L478.8 257.8 L479.9 257.3 L481 256.9 L482.1 256.8 L483.1 256.7 L484 256.8 L484.9 257.1 L485.8 257.4 L486.5 258 L487.2 258.6 L487.7 259.4 L488.2 260.3 L488.5 261.3 L488.8 262.4 L488.9 263.6 L489 264.8 L488.9 266.1 L488.6 267.5 L488.3 268.9 L487.9 270.3 L487.4 271.6 L486.8 273 L486 274.4Z"/>
<path d="M484.5 256.7 L485.2 257.2 L485.9 257.9 L486.4 258.7 L486.9 259.5 L487.2 260.6 L487.5 261.6 L487.6 262.8 L487.7 264.1 L487.6 265.4 L487.4 266.7 L487 268.1 L486.6 269.5 L486.1 270.9 L485.5 272.3 L484.7 273.6 L483.9 274.9 L483.1 276.1 L482.1 277.3 L481.1 278.3 L480.1 279.3 L479 280.2 L477.9 280.9 L476.9 281.5 L475.8 282 L474.7 282.3 L473.6 282.5 L472.6 282.5 L471.7 282.4 L470.8 282.2 L470 281.8" stroke-width="0.96"/>
<path d="M486 274.4 L483.7 274.7 L483.9 277.5 L481.8 277 L481.4 280 L479.7 278.8 L478.7 282 L477.6 280 L476 283.1 L475.5 280.5 L473.4 283.3 L473.6 280.3 L471.2 282.6 L472 279.4 L469.5 281 L470.9 277.9 L468.5 278.7 L470.3 275.8 L468 275.8 L470.3 273.3 L468.4 272.5 L470.8 270.6 L469.3 269 L471.8 267.9 L471 265.6 L473.3 265.3 L473.1 262.5 L475.2 263 L475.6 260 L477.3 261.2 L478.3 258 L479.4 260 L481 256.9 L481.5 259.5 L483.6 256.7 L483.4 259.7 L485.8 257.4 L485 260.6 L487.5 259 L486.1 262.1 L488.5 261.3 L486.7 264.2 L489 264.2 L486.7 266.7 L488.6 267.5 L486.2 269.4 L487.7 271 L485.2 272.1 L486 274.4" stroke-width="0.96"/>
<path d="M494.7 328.4 L492.5 326.9 L490.6 325 L489 322.7 L487.6 320.1 L486.6 317.2 L485.9 314 L485.5 310.6 L485.4 307 L485.7 303.2 L486.3 299.3 L487.2 295.3 L488.5 291.3 L490 287.2 L491.8 283.3 L493.9 279.4 L496.2 275.7 L498.7 272.1 L501.4 268.8 L504.3 265.7 L507.3 262.9 L510.4 260.4 L513.5 258.3 L516.7 256.5 L519.9 255.2 L523 254.2 L526 253.6 L528.9 253.5 L531.7 253.8 L534.3 254.5 L536.7 255.6 L544.5 260.1 L546.7 261.6 L548.6 263.5 L550.2 265.8 L551.6 268.4 L552.6 271.3 L553.3 274.5 L553.7 277.9 L553.8 281.5 L553.5 285.3 L552.9 289.2 L552 293.2 L550.7 297.2 L549.2 301.3 L547.4 305.2 L545.3 309.1 L543 312.8 L540.5 316.4 L537.8 319.7 L534.9 322.8 L531.9 325.6 L528.8 328.1 L525.7 330.2 L522.5 332 L519.3 333.3 L516.2 334.3 L513.2 334.9 L510.3 335 L507.5 334.7 L504.9 334 L502.5 332.9Z" fill="#fff" stroke-width="0"/>
<path d="M494 327.9 L491.8 326.2 L490 324.1 L488.4 321.7 L487.2 318.9 L486.2 315.8 L485.7 312.4 L485.4 308.8 L485.5 305 L486 301.1 L486.8 297 L487.9 292.9 L489.4 288.8 L491.1 284.7 L493.2 280.7" stroke-dasharray="5 2.5"/>
<path d="M502.5 332.9 L500.2 331.3 L498.3 329.3 L496.6 326.8 L495.2 324.1 L494.2 321 L493.5 317.6 L493.2 313.9 L493.3 310 L493.7 306 L494.5 301.9 L495.6 297.7 L497.1 293.5 L498.9 289.3 L501 285.2" stroke-dasharray="5 2.5"/>
<path d="M544.5 260.1 L546.7 261.6 L548.6 263.5 L550.2 265.8 L551.6 268.4 L552.6 271.3 L553.3 274.5 L553.7 277.9 L553.8 281.5 L553.5 285.3 L552.9 289.2 L552 293.2 L550.7 297.2 L549.2 301.3 L547.4 305.2 L545.3 309.1 L543 312.8 L540.5 316.4 L537.8 319.7 L534.9 322.8 L531.9 325.6 L528.8 328.1 L525.7 330.2 L522.5 332 L519.3 333.3 L516.2 334.3 L513.2 334.9 L510.3 335 L507.5 334.7 L504.9 334 L502.5 332.9"/>
<path d="M496.7 282.4 L498.6 279.1 L500.8 275.9 L503.2 272.9 L505.7 270.2 L508.3 267.7 L511 265.4 L513.8 263.6 L516.6 262 L519.4 260.8 L522.1 260 L524.8 259.5 L527.4 259.5 L529.8 259.8 L532 260.5 L534.1 261.6" stroke-width="1.08"/>
<path d="M492.4 282.1 L493.9 279.3 L497.5 280.9 L505.3 285.4 L503.6 288.5 L500.2 286.6Z" fill="#fff" stroke-width="1.08"/>
<path d="M492.4 282.1 L500.2 286.6" stroke-width="0.86"/>
<path d="M493.9 279.3 L501.7 283.8" stroke-width="0.86"/>
<path d="M503.6 288.5 L500.2 286.6 L501.7 283.8 L505.3 285.4" stroke-width="0.86"/>
<path d="M495.7 276.4 L497.5 273.8 L505.3 278.3 L508.4 280.7 L506.4 283.7 L498.6 279.2Z" fill="#fff" stroke-width="1.08"/>
<path d="M495.7 276.4 L503.5 280.9" stroke-width="0.86"/>
<path d="M497.5 273.8 L505.3 278.3" stroke-width="0.86"/>
<path d="M506.4 283.7 L503.5 280.9 L505.3 278.3 L508.4 280.7" stroke-width="0.86"/>
<path d="M499.5 271.1 L501.5 268.7 L509.3 273.2 L511.8 276.5 L509.6 279.1 L501.8 274.6Z" fill="#fff" stroke-width="1.08"/>
<path d="M499.5 271.1 L507.3 275.6" stroke-width="0.86"/>
<path d="M501.5 268.7 L509.3 273.2" stroke-width="0.86"/>
<path d="M509.6 279.1 L507.3 275.6 L509.3 273.2 L511.8 276.5" stroke-width="0.86"/>
<path d="M503.7 266.3 L505.9 264.2 L513.7 268.7 L515.5 272.7 L513.1 275.1 L505.3 270.6Z" fill="#fff" stroke-width="1.08"/>
<path d="M503.7 266.3 L511.5 270.8" stroke-width="0.86"/>
<path d="M505.9 264.2 L513.7 268.7" stroke-width="0.86"/>
<path d="M513.1 275.1 L511.5 270.8 L513.7 268.7 L515.5 272.7" stroke-width="0.86"/>
<path d="M508.2 262.1 L510.5 260.4 L518.3 264.9 L519.4 269.5 L516.9 271.5 L509.1 267Z" fill="#fff" stroke-width="1.08"/>
<path d="M508.2 262.1 L516 266.6" stroke-width="0.86"/>
<path d="M510.5 260.4 L518.3 264.9" stroke-width="0.86"/>
<path d="M516.9 271.5 L516 266.6 L518.3 264.9 L519.4 269.5" stroke-width="0.86"/>
<path d="M512.9 258.7 L515.2 257.3 L523 261.8 L523.4 267 L520.8 268.5 L513 264Z" fill="#fff" stroke-width="1.08"/>
<path d="M512.9 258.7 L520.7 263.2" stroke-width="0.86"/>
<path d="M515.2 257.3 L523 261.8" stroke-width="0.86"/>
<path d="M520.8 268.5 L520.7 263.2 L523 261.8 L523.4 267" stroke-width="0.86"/>
<path d="M517.1 261.8 L517.7 256.1 L520 255.1 L527.7 259.6 L527.4 265.2 L524.8 266.3Z" fill="#fff" stroke-width="1.08"/>
<path d="M517.7 256.1 L525.5 260.6" stroke-width="0.86"/>
<path d="M520 255.1 L527.7 259.6" stroke-width="0.86"/>
<path d="M524.8 266.3 L525.5 260.6 L527.7 259.6 L527.4 265.2" stroke-width="0.86"/>
<path d="M521 260.3 L522.4 254.4 L524.6 253.9 L532.4 258.4 L531.3 264.2 L528.8 264.8Z" fill="#fff" stroke-width="1.08"/>
<path d="M522.4 254.4 L530.2 258.9" stroke-width="0.86"/>
<path d="M524.6 253.9 L532.4 258.4" stroke-width="0.86"/>
<path d="M528.8 264.8 L530.2 258.9 L532.4 258.4 L531.3 264.2" stroke-width="0.86"/>
<path d="M524.9 259.5 L526.9 253.6 L529 253.5 L536.8 258 L535 264 L532.7 264Z" fill="#fff" stroke-width="1.08"/>
<path d="M526.9 253.6 L534.7 258.1" stroke-width="0.86"/>
<path d="M529 253.5 L536.8 258" stroke-width="0.86"/>
<path d="M532.7 264 L534.7 258.1 L536.8 258 L535 264" stroke-width="0.86"/>
<path d="M528.5 259.6 L531.2 253.7 L533.1 254.1 L540.9 258.6 L538.5 264.6 L536.3 264.1Z" fill="#fff" stroke-width="1.08"/>
<path d="M531.2 253.7 L539 258.2" stroke-width="0.86"/>
<path d="M533.1 254.1 L540.9 258.6" stroke-width="0.86"/>
<path d="M536.3 264.1 L539 258.2 L540.9 258.6 L538.5 264.6" stroke-width="0.86"/>
<path d="M531.8 260.5 L535.1 254.8 L536.8 255.7 L544.6 260.2 L541.5 265.9 L539.6 265Z" fill="#fff" stroke-width="1.08"/>
<path d="M535.1 254.8 L542.9 259.3" stroke-width="0.86"/>
<path d="M536.8 255.7 L544.6 260.2" stroke-width="0.86"/>
<path d="M539.6 265 L542.9 259.3 L544.6 260.2 L541.5 265.9" stroke-width="0.86"/>
<path d="M503 289.7 L504.8 286.3 L506.8 283 L509 279.9 L511.3 277 L513.8 274.3 L516.4 271.9 L519.1 269.7 L521.9 267.9 L524.6 266.4 L527.4 265.2 L530.1 264.5 L532.7 264 L535.2 264 L537.6 264.3 L539.8 265 L541.8 266.1 L543.6 267.5"/>
<path d="M542.2 307.3 L540.2 310.5 L538.1 313.5 L535.7 316.4 L533.3 319 L530.7 321.4 L528.1 323.6 L525.4 325.4 L522.6 326.9 L519.9 328.1 L517.3 328.9 L514.7 329.4 L512.2 329.5 L509.8 329.2 L507.6 328.6 L505.5 327.7 L503.6 326.4 L502 324.8 L500.6 322.8 L499.4 320.6 L498.6 318.1 L497.9 315.4 L497.6 312.4 L497.6 309.3 L497.8 306.1 L498.3 302.7 L499.1 299.3 L500.1 295.9 L501.5 292.4 L503 289 L504.8 285.7 L506.8 282.5 L508.9 279.5 L511.3 276.6 L513.7 274 L516.3 271.6 L518.9 269.4 L521.6 267.6 L524.4 266.1 L527.1 264.9 L529.7 264.1 L532.3 263.6 L534.8 263.5 L537.2 263.8 L539.4 264.4 L541.5 265.3 L543.4 266.6 L545 268.2 L546.4 270.2 L547.6 272.4 L548.4 274.9 L549.1 277.6 L549.4 280.6 L549.4 283.7 L549.2 286.9 L548.7 290.3 L547.9 293.7 L546.9 297.1 L545.5 300.6 L544 304 L542.2 307.3Z"/>
<path d="M530.8 300.7 L530 301.9 L529.2 303.1 L528.3 304.2 L527.3 305.3 L526.3 306.2 L525.3 307 L524.2 307.7 L523.2 308.3 L522.1 308.8 L521.1 309.1 L520.1 309.3 L519.1 309.3 L518.2 309.2 L517.3 309 L516.5 308.6 L515.8 308.1 L515.1 307.5 L514.6 306.7 L514.1 305.9 L513.8 304.9 L513.6 303.8 L513.4 302.7 L513.4 301.5 L513.5 300.2 L513.7 298.9 L514 297.6 L514.4 296.3 L514.9 294.9 L515.5 293.6 L516.2 292.3 L517 291.1 L517.8 289.9 L518.7 288.8 L519.7 287.7 L520.7 286.8 L521.7 286 L522.8 285.3 L523.8 284.7 L524.9 284.2 L525.9 283.9 L526.9 283.7 L527.9 283.7 L528.8 283.8 L529.7 284 L530.5 284.4 L531.2 284.9 L531.9 285.5 L532.4 286.3 L532.9 287.1 L533.2 288.1 L533.4 289.2 L533.6 290.3 L533.6 291.5 L533.5 292.8 L533.3 294.1 L533 295.4 L532.6 296.7 L532.1 298.1 L531.5 299.4 L530.8 300.7Z"/>
<path d="M537.9 308.5 L537.5 309.1 L537.1 309.7 L536.7 310.3 L536.2 310.9 L535.8 311.4 L535.4 312 L534.9 312.6 L534.5 313.1 L534 313.6 L533.6 314.1 L533.1 314.7 L532.6 315.2 L532.1 315.7 L531.7 316.1 L531.2 316.6 L530.7 317.1 L530.2 317.5 L529.7 318 L529.2 318.4 L528.7 318.8 L528.2 319.2 L527.7 318.9 L527.2 317.9 L526.7 316.2 L526.3 313.8 L526 311.9 L526 310.5 L526.3 309.6 L526.7 309.3 L527.2 308.9 L527.6 308.4 L528.1 308 L528.5 307.6 L529 307.1 L529.4 306.6 L529.8 306.2 L530.2 305.7 L530.7 305.1 L531 304.6 L531.4 304.1 L531.8 303.5 L532.5 303.4 L533.4 303.8 L534.7 304.6 L536.2 305.8 L537.2 306.9 L537.8 307.8Z" stroke-width="1.08"/>
<path d="M511.7 324.7 L511.3 324.6 L510.8 324.5 L510.4 324.4 L510 324.2 L509.6 324.1 L509.2 323.9 L508.8 323.7 L508.4 323.5 L508 323.3 L507.6 323.1 L507.3 322.9 L506.9 322.6 L506.6 322.3 L506.3 322.1 L505.9 321.8 L505.6 321.5 L505.3 321.1 L505 320.8 L504.7 320.5 L504.4 320.1 L504.2 319.7 L504.5 318.8 L505.4 317.4 L506.8 315.5 L508.9 313.1 L510.5 311.4 L511.6 310.3 L512.3 310 L512.6 310.3 L512.8 310.7 L513.1 311 L513.4 311.2 L513.7 311.5 L514 311.7 L514.4 312 L514.7 312.2 L515.1 312.3 L515.4 312.5 L515.8 312.6 L516.2 312.7 L516.6 312.8 L516.6 313.6 L516.2 315.2 L515.4 317.4 L514.2 320.4 L513.2 322.6 L512.3 324Z" stroke-width="1.08"/>
<path d="M501.8 301.9 L502 301.2 L502.1 300.6 L502.2 299.9 L502.4 299.3 L502.6 298.6 L502.8 297.9 L503 297.3 L503.2 296.6 L503.4 296 L503.6 295.3 L503.9 294.6 L504.1 294 L504.4 293.3 L504.7 292.7 L505 292 L505.3 291.4 L505.6 290.7 L505.9 290.1 L506.2 289.4 L506.5 288.8 L506.9 288.2 L507.6 287.9 L508.6 288 L510 288.6 L511.7 289.5 L512.9 290.3 L513.6 291 L513.8 291.7 L513.5 292.3 L513.2 292.9 L512.9 293.5 L512.7 294.1 L512.4 294.7 L512.2 295.3 L511.9 295.9 L511.7 296.5 L511.5 297.1 L511.4 297.7 L511.2 298.3 L511.1 299 L510.9 299.6 L510.3 300.2 L509.1 300.8 L507.3 301.4 L505 301.9 L503.4 302.2 L502.3 302.2Z" stroke-width="1.08"/>
<path d="M521.9 271.7 L522.4 271.3 L522.9 271 L523.5 270.8 L524 270.5 L524.5 270.2 L525 270 L525.5 269.8 L526.1 269.5 L526.6 269.3 L527.1 269.2 L527.6 269 L528.1 268.8 L528.6 268.7 L529.1 268.6 L529.6 268.5 L530.1 268.4 L530.6 268.3 L531.1 268.2 L531.6 268.2 L532.1 268.1 L532.5 268.1 L532.7 268.9 L532.4 270.3 L531.8 272.6 L530.8 275.5 L530 277.8 L529.3 279.3 L528.7 280 L528.3 280.1 L527.8 280.1 L527.4 280.2 L526.9 280.3 L526.4 280.4 L526 280.5 L525.5 280.7 L525 280.9 L524.5 281.1 L524.1 281.3 L523.6 281.5 L523.1 281.8 L522.6 282.1 L522.2 281.6 L521.9 280.5 L521.6 278.6 L521.4 276 L521.4 274 L521.6 272.5Z" stroke-width="1.08"/>
<path d="M544.2 275.8 L544.4 276.2 L544.6 276.7 L544.7 277.2 L544.9 277.7 L545 278.2 L545.2 278.7 L545.3 279.2 L545.4 279.7 L545.5 280.3 L545.6 280.8 L545.6 281.4 L545.7 281.9 L545.8 282.5 L545.8 283.1 L545.8 283.7 L545.8 284.3 L545.8 284.9 L545.8 285.5 L545.8 286.1 L545.8 286.7 L545.7 287.3 L545.1 288 L543.9 288.8 L542.1 289.6 L539.8 290.6 L538.1 291.1 L536.9 291.3 L536.4 291.1 L536.4 290.5 L536.4 290 L536.4 289.4 L536.4 288.9 L536.4 288.3 L536.3 287.8 L536.3 287.3 L536.2 286.8 L536.1 286.3 L536 285.9 L535.8 285.4 L535.7 285 L535.5 284.5 L535.9 283.7 L536.9 282.3 L538.5 280.6 L540.7 278.4 L542.3 276.9 L543.5 276Z" stroke-width="1.08"/>
<path d="M551.5 330.5 L550.7 329.9 L549.9 329.2 L549.3 328.3 L548.7 327.3 L548.3 326.1 L548.1 324.9 L547.9 323.6 L547.9 322.1 L548 320.6 L548.2 319.1 L548.6 317.5 L549.1 316 L549.7 314.4 L550.4 312.8 L551.2 311.3 L552.1 309.8 L553.1 308.4 L554.2 307.1 L555.3 305.9 L556.5 304.8 L557.7 303.8 L558.9 303 L560.2 302.3 L561.4 301.8 L562.6 301.4 L563.8 301.2 L565 301.1 L566.1 301.2 L567.1 301.5 L568 302 L576.2 306.7 L577.1 307.3 L577.9 308.1 L578.5 308.9 L579 310 L579.4 311.1 L579.7 312.3 L579.9 313.7 L579.9 315.1 L579.8 316.6 L579.5 318.1 L579.2 319.7 L578.7 321.3 L578.1 322.9 L577.4 324.4 L576.6 325.9 L575.7 327.4 L574.7 328.8 L573.6 330.1 L572.5 331.3 L571.3 332.4 L570.1 333.4 L568.9 334.2 L567.6 334.9 L566.4 335.5 L565.1 335.9 L564 336.1 L562.8 336.1 L561.7 336 L560.7 335.7 L559.8 335.3Z" fill="#fff"/>
<path d="M576.6 325.9 L575.7 327.4 L574.7 328.8 L573.6 330.1 L572.5 331.3 L571.3 332.4 L570.1 333.4 L568.9 334.2 L567.6 334.9 L566.4 335.5 L565.1 335.9 L564 336.1 L562.8 336.1 L561.7 336 L560.7 335.7 L559.8 335.3 L558.9 334.7 L558.1 333.9 L557.5 333.1 L557 332 L556.6 330.9 L556.3 329.7 L556.1 328.3 L556.1 326.9 L556.2 325.4 L556.5 323.9 L556.8 322.3 L557.3 320.7 L557.9 319.1 L558.6 317.6 L559.4 316.1 L560.3 314.6 L561.3 313.2 L562.4 311.9 L563.5 310.7 L564.7 309.6 L565.9 308.6 L567.1 307.8 L568.4 307.1 L569.6 306.5 L570.9 306.1 L572 305.9 L573.2 305.9 L574.3 306 L575.3 306.3 L576.2 306.7 L577.1 307.3 L577.9 308.1 L578.5 308.9 L579 310 L579.4 311.1 L579.7 312.3 L579.9 313.7 L579.9 315.1 L579.8 316.6 L579.5 318.1 L579.2 319.7 L578.7 321.3 L578.1 322.9 L577.4 324.4 L576.6 325.9Z"/>
<path d="M575 325.1 L574.3 326.2 L573.5 327.4 L572.6 328.5 L571.7 329.5 L570.7 330.4 L569.7 331.1 L568.7 331.8 L567.7 332.4 L566.7 332.8 L565.7 333.1 L564.7 333.3 L563.7 333.4 L562.9 333.3 L562 333.1 L561.2 332.7 L560.6 332.2 L559.9 331.6 L559.4 330.9 L559 330 L558.6 329.1 L558.4 328.1 L558.3 327 L558.3 325.8 L558.4 324.6 L558.5 323.3 L558.8 322.1 L559.2 320.8 L559.7 319.5 L560.3 318.2 L561 316.9 L561.7 315.8 L562.5 314.6 L563.4 313.5 L564.3 312.5 L565.3 311.6 L566.3 310.9 L567.3 310.2 L568.3 309.6 L569.3 309.2 L570.3 308.9 L571.3 308.7 L572.3 308.6 L573.1 308.7 L574 308.9 L574.8 309.3 L575.4 309.8 L576.1 310.4 L576.6 311.1 L577 312 L577.4 312.9 L577.6 313.9 L577.7 315 L577.7 316.2 L577.6 317.4 L577.5 318.7 L577.2 319.9 L576.8 321.2 L576.3 322.5 L575.7 323.8 L575 325.1Z"/>
<path d="M574.2 324.6 L573.6 325.7 L572.9 326.7 L572.1 327.6 L571.3 328.5 L570.4 329.3 L569.5 330 L568.6 330.6 L567.7 331.1 L566.8 331.5 L565.9 331.8 L565.1 332 L564.2 332 L563.4 331.9 L562.7 331.7 L562 331.4 L561.4 331 L560.8 330.4 L560.4 329.8 L560 329 L559.7 328.2 L559.5 327.3 L559.4 326.3 L559.4 325.3 L559.4 324.2 L559.6 323.1 L559.9 321.9 L560.2 320.8 L560.7 319.6 L561.2 318.5 L561.8 317.4 L562.4 316.3 L563.1 315.3 L563.9 314.4 L564.7 313.5 L565.6 312.7 L566.5 312 L567.4 311.4 L568.3 310.9 L569.2 310.5 L570.1 310.2 L570.9 310 L571.8 310 L572.6 310.1 L573.3 310.3 L574 310.6 L574.6 311 L575.2 311.6 L575.6 312.2 L576 313 L576.3 313.8 L576.5 314.7 L576.6 315.7 L576.6 316.7 L576.6 317.8 L576.4 318.9 L576.1 320.1 L575.8 321.2 L575.3 322.4 L574.8 323.5 L574.2 324.6Z" stroke-width="0.96"/>
<path d="M566.6 306.4 L567.3 306.8 L567.8 307.3 L568.3 308 L568.7 308.7 L569 309.6 L569.2 310.5 L569.3 311.4 L569.3 312.5 L569.2 313.6 L569 314.7 L568.8 315.8 L568.4 317 L568 318.1 L567.5 319.2 L566.9 320.4 L566.2 321.4 L565.5 322.4 L564.7 323.4 L563.9 324.3 L563 325.1 L562.2 325.8 L561.3 326.4 L560.4 326.9 L559.4 327.3 L558.6 327.6 L557.7 327.7 L556.9 327.7 L556.1 327.7 L555.3 327.5 L554.6 327.1" stroke-width="0.96"/>
<path d="M575.1 312.4 L568.6 308.6" stroke-width="0.84"/>
<path d="M575.7 314.9 L569.2 311.1" stroke-width="0.84"/>
<path d="M575.6 317.8 L569.1 314" stroke-width="0.84"/>
<path d="M574.8 321 L568.3 317.2" stroke-width="0.84"/>
<path d="M573.4 324.1 L566.9 320.4" stroke-width="0.84"/>
<path d="M571.4 326.9 L564.9 323.2" stroke-width="0.84"/>
<path d="M569 329.2 L562.6 325.5" stroke-width="0.84"/>
<path d="M566.5 330.8 L560.1 327" stroke-width="0.84"/>
<path d="M564.1 331.5 L557.6 327.7" stroke-width="0.84"/>
<path d="M582.7 354.4 L581.7 353.7 L580.8 352.8 L580.1 351.8 L579.4 350.5 L579 349.2 L578.6 347.7 L578.4 346.1 L578.4 344.5 L578.5 342.7 L578.8 340.9 L579.2 339 L579.8 337.2 L580.5 335.3 L581.4 333.4 L582.3 331.6 L583.4 329.9 L584.6 328.3 L585.8 326.7 L587.2 325.3 L588.6 324 L590 322.8 L591.5 321.9 L592.9 321 L594.4 320.4 L595.8 319.9 L597.3 319.7 L598.6 319.6 L599.9 319.8 L601.1 320.1 L602.2 320.6 L604 321.6 L605 322.3 L605.8 323.2 L606.6 324.2 L607.2 325.5 L607.7 326.8 L608 328.3 L608.2 329.9 L608.3 331.5 L608.1 333.3 L607.9 335.1 L607.4 337 L606.8 338.8 L606.1 340.7 L605.3 342.6 L604.3 344.4 L603.3 346.1 L602.1 347.7 L600.8 349.3 L599.5 350.7 L598.1 352 L596.7 353.2 L595.2 354.1 L593.7 355 L592.3 355.6 L590.8 356.1 L589.4 356.3 L588.1 356.4 L586.8 356.2 L585.6 355.9 L584.5 355.4Z" fill="#fff"/>
<path d="M604.3 344.4 L603.3 346.1 L602.1 347.7 L600.8 349.3 L599.5 350.7 L598.1 352 L596.7 353.2 L595.2 354.1 L593.7 355 L592.3 355.6 L590.8 356.1 L589.4 356.3 L588.1 356.4 L586.8 356.2 L585.6 355.9 L584.5 355.4 L583.4 354.7 L582.6 353.8 L581.8 352.8 L581.2 351.5 L580.7 350.2 L580.4 348.7 L580.2 347.1 L580.1 345.5 L580.3 343.7 L580.6 341.9 L581 340 L581.6 338.2 L582.3 336.3 L583.1 334.4 L584.1 332.6 L585.1 330.9 L586.3 329.3 L587.6 327.7 L588.9 326.3 L590.3 325 L591.7 323.8 L593.2 322.9 L594.7 322 L596.1 321.4 L597.6 320.9 L599 320.7 L600.3 320.6 L601.6 320.8 L602.8 321.1 L604 321.6 L605 322.3 L605.8 323.2 L606.6 324.2 L607.2 325.5 L607.7 326.8 L608 328.3 L608.2 329.9 L608.3 331.5 L608.1 333.3 L607.9 335.1 L607.4 337 L606.8 338.8 L606.1 340.7 L605.3 342.6 L604.3 344.4Z"/>
<path d="M602.5 343.3 L601.6 344.7 L600.7 346.1 L599.6 347.3 L598.5 348.5 L597.4 349.6 L596.2 350.5 L595 351.3 L593.8 352 L592.6 352.5 L591.4 352.9 L590.3 353.1 L589.2 353.2 L588.1 353.1 L587.1 352.8 L586.2 352.4 L585.4 351.8 L584.6 351.1 L584 350.2 L583.5 349.2 L583.1 348.1 L582.8 346.9 L582.7 345.6 L582.7 344.2 L582.8 342.8 L583 341.3 L583.4 339.8 L583.8 338.2 L584.4 336.7 L585.1 335.2 L585.9 333.7 L586.8 332.3 L587.7 330.9 L588.8 329.7 L589.9 328.5 L591 327.4 L592.2 326.5 L593.4 325.7 L594.6 325 L595.8 324.5 L597 324.1 L598.1 323.9 L599.2 323.8 L600.3 323.9 L601.3 324.2 L602.2 324.6 L603 325.2 L603.8 325.9 L604.4 326.8 L604.9 327.8 L605.3 328.9 L605.6 330.1 L605.7 331.4 L605.7 332.8 L605.6 334.2 L605.4 335.7 L605 337.2 L604.6 338.8 L604 340.3 L603.3 341.8 L602.5 343.3Z"/>
<path d="M600.5 323.6 L601.3 324.2 L602 324.9 L602.6 325.8 L603.2 326.8 L603.6 327.9 L603.8 329.1 L604 330.4 L604 331.8 L603.9 333.2 L603.7 334.7 L603.3 336.2 L602.8 337.8 L602.3 339.3 L601.6 340.8 L600.8 342.3 L599.9 343.7 L598.9 345.1 L597.9 346.3 L596.8 347.5 L595.7 348.6 L594.5 349.5 L593.3 350.3 L592.1 351 L590.9 351.5 L589.7 351.9 L588.5 352.1 L587.4 352.2 L586.4 352.1 L585.4 351.8 L584.5 351.4" stroke-width="0.96"/>
<path d="M602.5 343.3 L600 343.8 L600.2 346.7 L598 346.4 L597.4 349.6 L595.6 348.4 L594.4 351.7 L593.2 349.8 L591.4 352.9 L590.8 350.4 L588.6 353.1 L588.6 350.2 L586.2 352.4 L586.9 349.2 L584.3 350.6 L585.6 347.4 L583.1 348.1 L584.9 345.1 L582.7 344.9 L584.9 342.3 L583 341.3 L585.5 339.2 L584.1 337.4 L586.7 336.1 L585.9 333.7 L588.4 333.2 L588.2 330.3 L590.4 330.6 L591 327.4 L592.8 328.6 L594 325.3 L595.2 327.2 L597 324.1 L597.6 326.6 L599.8 323.9 L599.8 326.8 L602.2 324.6 L601.5 327.8 L604.1 326.4 L602.8 329.6 L605.3 328.9 L603.5 331.9 L605.7 332.1 L603.5 334.7 L605.4 335.7 L602.9 337.8 L604.3 339.6 L601.7 340.9 L602.5 343.3" stroke-width="0.96"/>
<path d="M609.1 368.5 L608.1 367.8 L607.2 367 L606.4 365.9 L605.8 364.7 L605.3 363.3 L605 361.9 L604.8 360.3 L604.8 358.6 L604.9 356.8 L605.2 355 L605.6 353.2 L606.2 351.3 L606.9 349.4 L607.7 347.6 L608.7 345.8 L609.8 344.1 L611 342.4 L612.2 340.9 L613.5 339.4 L614.9 338.1 L616.4 337 L617.8 336 L619.3 335.2 L620.8 334.5 L622.2 334.1 L623.6 333.8 L625 333.8 L626.3 333.9 L627.5 334.2 L628.6 334.8 L630.8 336 L631.8 336.7 L632.6 337.6 L633.4 338.6 L634 339.9 L634.5 341.2 L634.8 342.7 L635 344.3 L635.1 345.9 L634.9 347.7 L634.6 349.5 L634.2 351.4 L633.6 353.2 L632.9 355.1 L632.1 357 L631.1 358.8 L630.1 360.5 L628.9 362.1 L627.6 363.7 L626.3 365.1 L624.9 366.4 L623.5 367.6 L622 368.5 L620.5 369.4 L619.1 370 L617.6 370.4 L616.2 370.7 L614.9 370.8 L613.6 370.6 L612.4 370.3 L611.2 369.8Z" fill="#fff"/>
<path d="M631.1 358.8 L630.1 360.5 L628.9 362.1 L627.6 363.7 L626.3 365.1 L624.9 366.4 L623.5 367.6 L622 368.5 L620.5 369.4 L619.1 370 L617.6 370.4 L616.2 370.7 L614.9 370.8 L613.6 370.6 L612.4 370.3 L611.2 369.8 L610.2 369.1 L609.4 368.2 L608.6 367.2 L608 365.9 L607.5 364.6 L607.2 363.1 L607 361.5 L606.9 359.9 L607.1 358.1 L607.4 356.3 L607.8 354.4 L608.4 352.6 L609.1 350.7 L609.9 348.8 L610.9 347 L611.9 345.3 L613.1 343.7 L614.4 342.1 L615.7 340.7 L617.1 339.4 L618.5 338.2 L620 337.3 L621.5 336.4 L622.9 335.8 L624.4 335.3 L625.8 335.1 L627.1 335 L628.4 335.2 L629.6 335.5 L630.8 336 L631.8 336.7 L632.6 337.6 L633.4 338.6 L634 339.9 L634.5 341.2 L634.8 342.7 L635 344.3 L635.1 345.9 L634.9 347.7 L634.6 349.5 L634.2 351.4 L633.6 353.2 L632.9 355.1 L632.1 357 L631.1 358.8Z"/>
<path d="M629.1 357.5 L628.2 358.9 L627.3 360.2 L626.3 361.5 L625.2 362.6 L624.1 363.6 L623 364.6 L621.8 365.3 L620.6 366 L619.5 366.5 L618.3 366.8 L617.2 367.1 L616.1 367.1 L615.1 367 L614.1 366.7 L613.2 366.3 L612.5 365.8 L611.7 365.1 L611.1 364.2 L610.6 363.3 L610.3 362.2 L610 361 L609.9 359.8 L609.8 358.4 L609.9 357 L610.1 355.6 L610.5 354.1 L610.9 352.6 L611.5 351.1 L612.2 349.7 L612.9 348.2 L613.8 346.9 L614.7 345.6 L615.7 344.3 L616.8 343.2 L617.9 342.2 L619 341.2 L620.2 340.5 L621.4 339.8 L622.5 339.3 L623.7 338.9 L624.8 338.7 L625.9 338.7 L626.9 338.8 L627.9 339.1 L628.8 339.5 L629.5 340 L630.3 340.7 L630.9 341.6 L631.4 342.5 L631.7 343.6 L632 344.8 L632.1 346 L632.2 347.4 L632.1 348.8 L631.9 350.2 L631.5 351.7 L631.1 353.2 L630.5 354.7 L629.8 356.1 L629.1 357.5Z"/>
<path d="M626.6 338.2 L627.4 338.8 L628.1 339.5 L628.7 340.3 L629.2 341.3 L629.6 342.3 L629.8 343.5 L630 344.8 L630 346.1 L629.9 347.5 L629.7 349 L629.3 350.4 L628.9 351.9 L628.3 353.4 L627.7 354.9 L626.9 356.3 L626 357.7 L625.1 359 L624.1 360.2 L623 361.4 L621.9 362.4 L620.8 363.3 L619.6 364.1 L618.5 364.7 L617.3 365.2 L616.2 365.6 L615 365.8 L614 365.9 L612.9 365.7 L612 365.5 L611.1 365.1" stroke-width="0.96"/>
<path d="M54 292.4 L52.2 291.2 L50.6 289.7 L49.3 287.9 L48.2 285.8 L47.4 283.4 L46.8 280.8 L46.5 278.1 L46.4 275.1 L46.7 272.1 L47.2 268.9 L47.9 265.7 L48.9 262.4 L50.1 259.1 L51.6 255.9 L53.3 252.8 L55.2 249.8 L57.2 246.9 L59.4 244.2 L61.7 241.7 L64.2 239.4 L66.7 237.4 L69.2 235.7 L71.8 234.3 L74.3 233.2 L76.8 232.4 L79.3 232 L81.7 231.8 L83.9 232.1 L86 232.7 L88 233.6 L112.2 247.6 L114 248.8 L115.5 250.3 L116.8 252.1 L117.9 254.2 L118.8 256.6 L119.3 259.2 L119.7 261.9 L119.7 264.9 L119.5 267.9 L119 271.1 L118.3 274.3 L117.3 277.6 L116 280.9 L114.5 284.1 L112.9 287.2 L111 290.2 L108.9 293.1 L106.7 295.8 L104.4 298.3 L102 300.6 L99.5 302.6 L97 304.3 L94.4 305.7 L91.8 306.8 L89.3 307.6 L86.9 308 L84.5 308.2 L82.2 307.9 L80.1 307.3 L78.2 306.4Z" fill="#fff"/>
<path d="M44.7 271.3 L46.3 263 L51.8 262 L54.4 263.5 L53 271 L47.3 272.8Z" fill="#fff" stroke-width="1.08"/>
<path d="M53 271 L47.3 272.8 L48.9 264.5 L54.4 263.5Z" stroke-width="0.86"/>
<path d="M55 245.9 L61 239.3 L63.6 240.8 L65.8 245.8 L60.4 251.7 L57.8 250.2Z" fill="#fff" stroke-width="1.08"/>
<path d="M60.4 251.7 L57.6 247.4 L63.6 240.8 L65.8 245.8Z" stroke-width="0.86"/>
<path d="M72.8 239 L74.9 231.6 L80.9 231.5 L83.5 233 L80.9 240.4 L75.4 240.5Z" fill="#fff" stroke-width="1.08"/>
<path d="M75.4 240.5 L77.5 233.1 L83.5 233 L80.9 240.4Z" stroke-width="0.86"/>
<path d="M54 292.4 L52.2 291.2 L50.6 289.7 L49.3 287.9 L48.2 285.8 L47.4 283.4 L46.8 280.8 L46.5 278.1 L46.4 275.1 L46.7 272.1 L47.2 268.9 L47.9 265.7 L48.9 262.4 L50.1 259.1 L51.6 255.9 L53.3 252.8 L55.2 249.8 L57.2 246.9 L59.4 244.2 L61.7 241.7 L64.2 239.4 L66.7 237.4 L69.2 235.7 L71.8 234.3 L74.3 233.2 L76.8 232.4 L79.3 232 L81.7 231.8 L83.9 232.1 L86 232.7 L88 233.6" fill="#fff"/>
<path d="M53.6 261 L56.2 255.8 L60.2 257.3 L72.3 264.3 L69.7 269.5 L65.7 268Z" fill="#fff" stroke-width="1.08"/>
<path d="M53.6 261 L65.7 268" stroke-width="0.86"/>
<path d="M56.2 255.8 L68.3 262.8" stroke-width="0.86"/>
<path d="M69.7 269.5 L65.7 268 L68.3 262.8 L72.3 264.3" stroke-width="0.86"/>
<path d="M58.9 251.3 L62.3 246.7 L74.5 253.7 L77.4 256.8 L74 261.5 L61.9 254.5Z" fill="#fff" stroke-width="1.08"/>
<path d="M58.9 251.3 L71.1 258.3" stroke-width="0.86"/>
<path d="M62.3 246.7 L74.5 253.7" stroke-width="0.86"/>
<path d="M74 261.5 L71.1 258.3 L74.5 253.7 L77.4 256.8" stroke-width="0.86"/>
<path d="M65.7 242.8 L69.7 239.1 L81.8 246.1 L83.5 250.7 L79.5 254.4 L67.4 247.4Z" fill="#fff" stroke-width="1.08"/>
<path d="M65.7 242.8 L77.9 249.8" stroke-width="0.86"/>
<path d="M69.7 239.1 L81.8 246.1" stroke-width="0.86"/>
<path d="M79.5 254.4 L77.9 249.8 L81.8 246.1 L83.5 250.7" stroke-width="0.86"/>
<path d="M73.5 236.2 L77.6 233.7 L89.7 240.7 L90 246.4 L85.8 248.9 L73.7 241.9Z" fill="#fff" stroke-width="1.08"/>
<path d="M73.5 236.2 L85.6 243.2" stroke-width="0.86"/>
<path d="M77.6 233.7 L89.7 240.7" stroke-width="0.86"/>
<path d="M85.8 248.9 L85.6 243.2 L89.7 240.7 L90 246.4" stroke-width="0.86"/>
<path d="M80.3 238.4 L81.5 232.1 L85.5 231 L97.6 238 L96.5 244.3 L92.4 245.4Z" fill="#fff" stroke-width="1.08"/>
<path d="M81.5 232.1 L93.6 239.1" stroke-width="0.86"/>
<path d="M85.5 231 L97.6 238" stroke-width="0.86"/>
<path d="M92.4 245.4 L93.6 239.1 L97.6 238 L96.5 244.3" stroke-width="0.86"/>
<path d="M86.6 237.2 L89.1 230.8 L92.7 231.2 L104.9 238.2 L102.4 244.6 L98.7 244.2Z" fill="#fff" stroke-width="1.08"/>
<path d="M89.1 230.8 L101.2 237.8" stroke-width="0.86"/>
<path d="M92.7 231.2 L104.9 238.2" stroke-width="0.86"/>
<path d="M98.7 244.2 L101.2 237.8 L104.9 238.2 L102.4 244.6" stroke-width="0.86"/>
<path d="M92.1 238.3 L95.8 232.3 L107.9 239.3 L110.8 241.2 L107.2 247.3 L95 240.3Z" fill="#fff" stroke-width="1.08"/>
<path d="M95.8 232.3 L107.9 239.3" stroke-width="0.86"/>
<path d="M98.7 234.2 L110.8 241.2" stroke-width="0.86"/>
<path d="M104.2 245.3 L107.9 239.3 L110.8 241.2 L107.2 247.3" stroke-width="0.86"/>
<path d="M68.4 296.3 L67.4 294.1 L66.7 291.8 L66.3 289.2 L66.1 286.4 L66.1 283.5 L66.5 280.4 L67.1 277.3 L68 274.2 L69.1 271 L70.4 267.9" stroke-width="1.08" stroke-dasharray="4 2"/>
<path d="M112.3 286.9 L110.5 289.8 L108.5 292.6 L106.4 295.2 L104.2 297.7 L101.8 299.9 L99.4 301.8 L96.9 303.5 L94.4 304.9 L91.9 305.9 L89.5 306.7 L87.1 307.1 L84.8 307.2 L82.6 307 L80.6 306.5 L78.7 305.6 L77 304.4 L75.5 302.9 L74.2 301.1 L73.2 299.1 L72.3 296.8 L71.8 294.3 L71.5 291.6 L71.4 288.8 L71.6 285.8 L72.1 282.7 L72.8 279.6 L73.8 276.4 L75 273.3 L76.4 270.1 L78.1 267.1 L79.9 264.2 L81.9 261.4 L84 258.8 L86.2 256.3 L88.6 254.1 L91 252.2 L93.5 250.5 L96 249.1 L98.5 248.1 L100.9 247.3 L103.3 246.9 L105.6 246.8 L107.8 247 L109.8 247.5 L111.7 248.4 L113.4 249.6 L114.9 251.1 L116.2 252.9 L117.2 254.9 L118.1 257.2 L118.6 259.7 L118.9 262.4 L119 265.2 L118.8 268.2 L118.3 271.3 L117.6 274.4 L116.6 277.6 L115.4 280.7 L114 283.9 L112.3 286.9Z"/>
<path d="M111 286.1 L109.4 288.9 L107.5 291.4 L105.6 293.9 L103.5 296.1 L101.3 298.1 L99.1 299.9 L96.8 301.5 L94.5 302.8 L92.2 303.7 L89.9 304.4 L87.7 304.9 L85.6 304.9 L83.6 304.7 L81.7 304.2 L80 303.4 L78.4 302.3 L77 300.9 L75.8 299.3 L74.8 297.4 L74.1 295.3 L73.5 293 L73.3 290.5 L73.2 287.9 L73.4 285.1 L73.8 282.3 L74.5 279.4 L75.4 276.5 L76.5 273.5 L77.8 270.7 L79.4 267.9 L81 265.1 L82.9 262.6 L84.8 260.1 L86.9 257.9 L89.1 255.9 L91.3 254.1 L93.6 252.5 L95.9 251.2 L98.2 250.3 L100.5 249.6 L102.7 249.1 L104.8 249.1 L106.8 249.3 L108.7 249.8 L110.5 250.6 L112 251.7 L113.4 253.1 L114.6 254.7 L115.6 256.6 L116.3 258.7 L116.9 261 L117.1 263.5 L117.2 266.1 L117 268.9 L116.5 271.7 L115.9 274.6 L115 277.5 L113.9 280.5 L112.6 283.3 L111 286.1Z" stroke-width="0.96"/>
<path d="M102.5 281.2 L101.7 282.4 L100.9 283.6 L100 284.7 L99 285.8 L98 286.7 L97 287.5 L95.9 288.2 L94.9 288.8 L93.8 289.3 L92.8 289.6 L91.8 289.8 L90.8 289.8 L89.9 289.7 L89 289.5 L88.2 289.1 L87.5 288.6 L86.8 288 L86.3 287.2 L85.8 286.4 L85.5 285.4 L85.3 284.3 L85.1 283.2 L85.1 282 L85.2 280.7 L85.4 279.4 L85.7 278.1 L86.1 276.8 L86.6 275.4 L87.2 274.1 L87.9 272.8 L88.7 271.6 L89.5 270.4 L90.4 269.3 L91.4 268.2 L92.4 267.3 L93.4 266.5 L94.5 265.8 L95.5 265.2 L96.6 264.7 L97.6 264.4 L98.6 264.2 L99.6 264.2 L100.5 264.3 L101.4 264.5 L102.2 264.9 L102.9 265.4 L103.6 266 L104.1 266.8 L104.6 267.6 L104.9 268.6 L105.1 269.7 L105.3 270.8 L105.3 272 L105.2 273.3 L105 274.6 L104.7 275.9 L104.3 277.2 L103.8 278.6 L103.2 279.9 L102.5 281.2Z"/>
<clipPath id="c2"><path d="M102.5 281.2 L101.7 282.4 L100.9 283.6 L100 284.7 L99 285.8 L98 286.7 L97 287.5 L95.9 288.2 L94.9 288.8 L93.8 289.3 L92.8 289.6 L91.8 289.8 L90.8 289.8 L89.9 289.7 L89 289.5 L88.2 289.1 L87.5 288.6 L86.8 288 L86.3 287.2 L85.8 286.4 L85.5 285.4 L85.3 284.3 L85.1 283.2 L85.1 282 L85.2 280.7 L85.4 279.4 L85.7 278.1 L86.1 276.8 L86.6 275.4 L87.2 274.1 L87.9 272.8 L88.7 271.6 L89.5 270.4 L90.4 269.3 L91.4 268.2 L92.4 267.3 L93.4 266.5 L94.5 265.8 L95.5 265.2 L96.6 264.7 L97.6 264.4 L98.6 264.2 L99.6 264.2 L100.5 264.3 L101.4 264.5 L102.2 264.9 L102.9 265.4 L103.6 266 L104.1 266.8 L104.6 267.6 L104.9 268.6 L105.1 269.7 L105.3 270.8 L105.3 272 L105.2 273.3 L105 274.6 L104.7 275.9 L104.3 277.2 L103.8 278.6 L103.2 279.9 L102.5 281.2Z"/></clipPath>
<g clip-path="url(#c2)">
<path d="M104 266.7 L90.2 258.7" stroke-width="0.72"/>
<path d="M105 268.9 L91.1 260.9" stroke-width="0.72"/>
<path d="M105.3 271.7 L91.4 263.7" stroke-width="0.72"/>
<path d="M105 274.8 L91.1 266.8" stroke-width="0.72"/>
<path d="M104 278 L90.1 270" stroke-width="0.72"/>
<path d="M102.5 281.2 L88.6 273.2" stroke-width="0.72"/>
<path d="M100.5 284.1 L86.6 276.1" stroke-width="0.72"/>
<path d="M98.2 286.6 L84.3 278.6" stroke-width="0.72"/>
<path d="M95.6 288.4 L81.8 280.4" stroke-width="0.72"/>
<path d="M93.1 289.5 L79.2 281.5" stroke-width="0.72"/>
<path d="M90.7 289.8 L76.8 281.8" stroke-width="0.72"/>
<path d="M88.3 256.9 L89.1 257.4 L89.7 258 L90.2 258.8 L90.7 259.6 L91 260.6 L91.3 261.7 L91.4 262.8 L91.4 264 L91.3 265.3 L91.1 266.6 L90.8 267.9 L90.4 269.2 L89.9 270.6 L89.3 271.9 L88.6 273.2 L87.8 274.4 L87 275.6 L86.1 276.7 L85.1 277.8 L84.1 278.7 L83.1 279.5 L82.1 280.2 L81 280.8 L80 281.3 L78.9 281.6 L77.9 281.8 L76.9 281.8 L76 281.7 L75.1 281.5 L74.3 281.1" stroke-width="0.96"/>
</g>
<path d="M99.7 287.7 L104.7 281 L108.1 283 L114.8 287.1 L107.5 297.1 L104 295.1Z" fill="#fff" stroke-width="1.08"/>
<path d="M108.1 283 L114.8 287.1 L107.5 297.1 L103.2 289.7Z" stroke-width="0.86"/>
<path d="M87.5 304.4 L90.4 292.6 L96.4 290.5 L99.8 292.5 L99.8 303.3 L90.9 306.4Z" fill="#fff" stroke-width="1.08"/>
<path d="M99.8 292.5 L99.8 303.3 L90.9 306.4 L93.8 294.6Z" stroke-width="0.86"/>
<path d="M75.5 297.7 L83.8 288.3 L87.3 290.3 L90.9 294.1 L84.2 305.3 L80.8 303.3Z" fill="#fff" stroke-width="1.08"/>
<path d="M90.9 294.1 L84.2 305.3 L78.9 299.7 L87.3 290.3Z" stroke-width="0.86"/>
<path d="M73.6 289.9 L75 278.9 L83.9 277.4 L87.4 279.4 L86.5 286.9 L77.1 291.9Z" fill="#fff" stroke-width="1.08"/>
<path d="M86.5 286.9 L77.1 291.9 L78.5 280.9 L87.4 279.4Z" stroke-width="0.86"/>
<path d="M79.1 268.9 L86.4 258.9 L89.8 260.9 L94.1 268.3 L89.2 275 L85.7 273Z" fill="#fff" stroke-width="1.08"/>
<path d="M89.2 275 L82.6 270.9 L89.8 260.9 L94.1 268.3Z" stroke-width="0.86"/>
<path d="M94 263.5 L94 252.7 L102.9 249.6 L106.4 251.6 L103.5 263.4 L97.5 265.5Z" fill="#fff" stroke-width="1.08"/>
<path d="M97.5 265.5 L97.5 254.7 L106.4 251.6 L103.5 263.4Z" stroke-width="0.86"/>
<path d="M103 261.9 L109.6 250.7 L113.1 252.7 L118.4 258.3 L110.1 267.7 L106.6 265.7Z" fill="#fff" stroke-width="1.08"/>
<path d="M106.5 263.9 L113.1 252.7 L118.4 258.3 L110.1 267.7Z" stroke-width="0.86"/>
<path d="M106.5 276.6 L107.4 269.1 L116.8 264.1 L120.3 266.1 L118.9 277.1 L109.9 278.6Z" fill="#fff" stroke-width="1.08"/>
<path d="M110.9 271.1 L120.3 266.1 L118.9 277.1 L109.9 278.6Z" stroke-width="0.86"/>
<path d="M117.3 312.7 L116.4 312 L115.5 311.2 L114.7 310.1 L114.1 309 L113.7 307.6 L113.3 306.2 L113.2 304.7 L113.1 303 L113.3 301.3 L113.5 299.5 L114 297.7 L114.5 295.9 L115.2 294.1 L116 292.3 L117 290.6 L118 288.9 L119.2 287.3 L120.4 285.7 L121.7 284.4 L123 283.1 L124.4 282 L125.9 281 L127.3 280.2 L128.7 279.6 L130.1 279.1 L131.5 278.9 L132.8 278.8 L134.1 279 L135.3 279.3 L136.3 279.8 L138.5 281 L139.5 281.7 L140.3 282.6 L141.1 283.6 L141.7 284.8 L142.2 286.1 L142.5 287.5 L142.7 289.1 L142.7 290.7 L142.6 292.4 L142.3 294.2 L141.9 296 L141.3 297.8 L140.6 299.7 L139.8 301.4 L138.9 303.2 L137.8 304.9 L136.7 306.5 L135.5 308 L134.2 309.4 L132.8 310.7 L131.4 311.8 L130 312.7 L128.5 313.5 L127.1 314.2 L125.7 314.6 L124.3 314.9 L123 314.9 L121.8 314.8 L120.6 314.5 L119.5 314Z" fill="#fff"/>
<path d="M138.9 303.2 L137.8 304.9 L136.7 306.5 L135.5 308 L134.2 309.4 L132.8 310.7 L131.4 311.8 L130 312.7 L128.5 313.5 L127.1 314.2 L125.7 314.6 L124.3 314.9 L123 314.9 L121.8 314.8 L120.6 314.5 L119.5 314 L118.5 313.3 L117.7 312.4 L116.9 311.4 L116.3 310.2 L115.8 308.9 L115.5 307.5 L115.3 305.9 L115.3 304.3 L115.4 302.6 L115.7 300.8 L116.1 299 L116.7 297.2 L117.4 295.3 L118.2 293.6 L119.1 291.8 L120.2 290.1 L121.3 288.5 L122.5 287 L123.8 285.6 L125.2 284.3 L126.6 283.2 L128 282.3 L129.5 281.5 L130.9 280.8 L132.3 280.4 L133.7 280.1 L135 280.1 L136.2 280.2 L137.4 280.5 L138.5 281 L139.5 281.7 L140.3 282.6 L141.1 283.6 L141.7 284.8 L142.2 286.1 L142.5 287.5 L142.7 289.1 L142.7 290.7 L142.6 292.4 L142.3 294.2 L141.9 296 L141.3 297.8 L140.6 299.7 L139.8 301.4 L138.9 303.2Z"/>
<path d="M137.1 302.1 L136.2 303.5 L135.3 304.8 L134.3 306.1 L133.2 307.2 L132.1 308.2 L131 309.2 L129.8 309.9 L128.6 310.6 L127.5 311.1 L126.3 311.4 L125.2 311.7 L124.1 311.7 L123.1 311.6 L122.1 311.3 L121.2 310.9 L120.5 310.4 L119.7 309.7 L119.1 308.8 L118.6 307.9 L118.3 306.8 L118 305.6 L117.9 304.4 L117.8 303 L117.9 301.6 L118.2 300.2 L118.5 298.7 L118.9 297.2 L119.5 295.7 L120.2 294.3 L120.9 292.9 L121.8 291.5 L122.7 290.2 L123.7 288.9 L124.8 287.8 L125.9 286.8 L127 285.8 L128.2 285.1 L129.4 284.4 L130.5 283.9 L131.7 283.6 L132.8 283.3 L133.9 283.3 L134.9 283.4 L135.9 283.7 L136.8 284.1 L137.5 284.6 L138.3 285.3 L138.9 286.2 L139.4 287.1 L139.7 288.2 L140 289.4 L140.1 290.6 L140.2 292 L140.1 293.4 L139.8 294.8 L139.5 296.3 L139.1 297.8 L138.5 299.3 L137.8 300.7 L137.1 302.1Z"/>
<path d="M134.6 282.8 L135.4 283.4 L136.1 284.1 L136.7 284.9 L137.2 285.9 L137.6 286.9 L137.8 288.1 L138 289.4 L138 290.7 L137.9 292.1 L137.7 293.6 L137.3 295 L136.9 296.5 L136.3 298 L135.7 299.5 L134.9 300.9 L134 302.3 L133.1 303.6 L132.1 304.8 L131 306 L129.9 307 L128.8 307.9 L127.6 308.7 L126.5 309.3 L125.3 309.8 L124.2 310.2 L123 310.4 L122 310.5 L120.9 310.3 L120 310.1 L119.1 309.7" stroke-width="0.96"/>
<path d="M142.8 327.5 L141.8 326.8 L140.9 325.9 L140.2 324.9 L139.6 323.7 L139.1 322.4 L138.8 321 L138.6 319.4 L138.6 317.8 L138.7 316.1 L139 314.3 L139.4 312.5 L139.9 310.7 L140.6 308.8 L141.5 307.1 L142.4 305.3 L143.4 303.6 L144.6 302 L145.8 300.5 L147.1 299.1 L148.5 297.8 L149.9 296.7 L151.3 295.8 L152.7 295 L154.2 294.3 L155.6 293.9 L156.9 293.6 L158.3 293.6 L159.5 293.7 L160.7 294 L161.8 294.5 L163.5 295.5 L164.5 296.2 L165.3 297.1 L166.1 298.1 L166.7 299.3 L167.2 300.6 L167.5 302 L167.7 303.6 L167.7 305.2 L167.6 306.9 L167.3 308.7 L166.9 310.5 L166.3 312.3 L165.6 314.2 L164.8 315.9 L163.9 317.7 L162.8 319.4 L161.7 321 L160.5 322.5 L159.2 323.9 L157.8 325.2 L156.4 326.3 L155 327.2 L153.5 328 L152.1 328.7 L150.7 329.1 L149.3 329.4 L148 329.4 L146.8 329.3 L145.6 329 L144.5 328.5Z" fill="#fff"/>
<path d="M163.9 317.7 L162.8 319.4 L161.7 321 L160.5 322.5 L159.2 323.9 L157.8 325.2 L156.4 326.3 L155 327.2 L153.5 328 L152.1 328.7 L150.7 329.1 L149.3 329.4 L148 329.4 L146.8 329.3 L145.6 329 L144.5 328.5 L143.5 327.8 L142.7 326.9 L141.9 325.9 L141.3 324.7 L140.8 323.4 L140.5 322 L140.3 320.4 L140.3 318.8 L140.4 317.1 L140.7 315.3 L141.1 313.5 L141.7 311.7 L142.4 309.8 L143.2 308.1 L144.1 306.3 L145.2 304.6 L146.3 303 L147.5 301.5 L148.8 300.1 L150.2 298.8 L151.6 297.7 L153 296.8 L154.5 296 L155.9 295.3 L157.3 294.9 L158.7 294.6 L160 294.6 L161.2 294.7 L162.4 295 L163.5 295.5 L164.5 296.2 L165.3 297.1 L166.1 298.1 L166.7 299.3 L167.2 300.6 L167.5 302 L167.7 303.6 L167.7 305.2 L167.6 306.9 L167.3 308.7 L166.9 310.5 L166.3 312.3 L165.6 314.2 L164.8 315.9 L163.9 317.7Z"/>
<path d="M162.1 316.6 L161.2 318 L160.3 319.3 L159.3 320.6 L158.2 321.7 L157.1 322.7 L156 323.7 L154.8 324.4 L153.6 325.1 L152.5 325.6 L151.3 325.9 L150.2 326.2 L149.1 326.2 L148.1 326.1 L147.1 325.8 L146.2 325.4 L145.5 324.9 L144.7 324.2 L144.1 323.3 L143.6 322.4 L143.3 321.3 L143 320.1 L142.9 318.9 L142.8 317.5 L142.9 316.1 L143.2 314.7 L143.5 313.2 L143.9 311.7 L144.5 310.2 L145.2 308.8 L145.9 307.4 L146.8 306 L147.7 304.7 L148.7 303.4 L149.8 302.3 L150.9 301.3 L152 300.3 L153.2 299.6 L154.4 298.9 L155.5 298.4 L156.7 298.1 L157.8 297.8 L158.9 297.8 L159.9 297.9 L160.9 298.2 L161.8 298.6 L162.5 299.1 L163.3 299.8 L163.9 300.7 L164.4 301.6 L164.7 302.7 L165 303.9 L165.1 305.1 L165.2 306.5 L165.1 307.9 L164.8 309.3 L164.5 310.8 L164.1 312.3 L163.5 313.8 L162.8 315.2 L162.1 316.6Z"/>
<path d="M160 297.6 L160.8 298.1 L161.5 298.8 L162.1 299.7 L162.6 300.6 L163 301.7 L163.3 302.9 L163.4 304.1 L163.4 305.5 L163.3 306.9 L163.1 308.3 L162.8 309.8 L162.3 311.3 L161.8 312.8 L161.1 314.2 L160.3 315.6 L159.5 317 L158.5 318.3 L157.5 319.6 L156.5 320.7 L155.4 321.7 L154.2 322.7 L153.1 323.4 L151.9 324.1 L150.7 324.6 L149.6 324.9 L148.5 325.2 L147.4 325.2 L146.4 325.1 L145.4 324.8 L144.5 324.4" stroke-width="0.96"/>
<path d="M162.1 316.6 L159.6 317.1 L159.8 320 L157.6 319.6 L157.1 322.7 L155.3 321.6 L154.2 324.8 L153 322.9 L151.3 325.9 L150.7 323.4 L148.6 326.2 L148.7 323.2 L146.2 325.4 L147 322.2 L144.4 323.8 L145.7 320.6 L143.3 321.3 L145.1 318.3 L142.8 318.2 L145 315.6 L143.2 314.7 L145.6 312.7 L144.2 311 L146.7 309.7 L145.9 307.4 L148.4 306.9 L148.2 304 L150.4 304.4 L150.9 301.3 L152.7 302.4 L153.8 299.2 L155 301.1 L156.7 298.1 L157.3 300.6 L159.4 297.8 L159.3 300.8 L161.8 298.6 L161 301.8 L163.6 300.2 L162.3 303.4 L164.7 302.7 L162.9 305.7 L165.2 305.8 L163 308.4 L164.8 309.3 L162.4 311.3 L163.8 313 L161.3 314.3 L162.1 316.6" stroke-width="0.96"/>
<path d="M170.3 375.8 L168 374.2 L165.9 372.1 L164.1 369.6 L162.6 366.8 L161.5 363.6 L160.7 360.1 L160.3 356.4 L160.2 352.4 L160.5 348.3 L161.1 344 L162.1 339.6 L163.5 335.2 L165.2 330.8 L167.2 326.4 L169.4 322.2 L172 318.1 L174.7 314.2 L177.7 310.6 L180.9 307.2 L184.1 304.1 L187.5 301.4 L191 299.1 L194.4 297.2 L197.9 295.7 L201.3 294.6 L204.6 294 L207.8 293.8 L210.9 294.2 L213.7 294.9 L216.3 296.2 L225 301.2 L227.4 302.8 L229.5 304.9 L231.3 307.4 L232.7 310.2 L233.9 313.4 L234.7 316.9 L235.1 320.6 L235.2 324.6 L234.9 328.7 L234.2 333 L233.2 337.4 L231.8 341.8 L230.2 346.2 L228.2 350.6 L225.9 354.8 L223.4 358.9 L220.6 362.8 L217.6 366.4 L214.5 369.8 L211.2 372.9 L207.8 375.6 L204.4 377.9 L200.9 379.8 L197.4 381.3 L194 382.4 L190.7 383 L187.5 383.2 L184.5 382.8 L181.6 382.1 L179 380.8Z" fill="#fff" stroke-width="0"/>
<path d="M169.5 375.3 L167.2 373.5 L165.2 371.3 L163.6 368.7 L162.2 365.8 L161.2 362.5 L160.5 358.9 L160.2 355.1 L160.2 351 L160.7 346.8 L161.4 342.5 L162.6 338.1 L164 333.7 L165.8 329.3 L167.9 325" stroke-dasharray="5 2.5"/>
<path d="M179 380.8 L176.6 379.1 L174.4 377 L172.6 374.4 L171.1 371.5 L170 368.2 L169.3 364.6 L168.9 360.7 L168.9 356.6 L169.3 352.3 L170 347.9 L171.1 343.4 L172.6 338.9 L174.4 334.4 L176.6 330" stroke-dasharray="5 2.5"/>
<path d="M225 301.2 L227.4 302.8 L229.5 304.9 L231.3 307.4 L232.7 310.2 L233.9 313.4 L234.7 316.9 L235.1 320.6 L235.2 324.6 L234.9 328.7 L234.2 333 L233.2 337.4 L231.8 341.8 L230.2 346.2 L228.2 350.6 L225.9 354.8 L223.4 358.9 L220.6 362.8 L217.6 366.4 L214.5 369.8 L211.2 372.9 L207.8 375.6 L204.4 377.9 L200.9 379.8 L197.4 381.3 L194 382.4 L190.7 383 L187.5 383.2 L184.5 382.8 L181.6 382.1 L179 380.8"/>
<path d="M171.5 326.6 L173.6 322.8 L176 319.2 L178.5 315.8 L181.3 312.6 L184.2 309.8 L187.2 307.2 L190.2 305 L193.4 303.1 L196.5 301.7 L199.5 300.6 L202.5 300 L205.4 299.8 L208.2 300 L210.7 300.7 L213.1 301.8" stroke-width="1.08"/>
<path d="M167.1 326.6 L168.7 323.5 L172.4 324.8 L181.1 329.8 L179.3 333.3 L175.8 331.6Z" fill="#fff" stroke-width="1.08"/>
<path d="M167.1 326.6 L175.8 331.6" stroke-width="0.86"/>
<path d="M168.7 323.5 L177.4 328.5" stroke-width="0.86"/>
<path d="M179.3 333.3 L175.8 331.6 L177.4 328.5 L181.1 329.8" stroke-width="0.86"/>
<path d="M170.6 320.2 L172.5 317.3 L181.2 322.3 L184.4 324.6 L182.2 327.9 L173.6 322.9Z" fill="#fff" stroke-width="1.08"/>
<path d="M170.6 320.2 L179.3 325.2" stroke-width="0.86"/>
<path d="M172.5 317.3 L181.2 322.3" stroke-width="0.86"/>
<path d="M182.2 327.9 L179.3 325.2 L181.2 322.3 L184.4 324.6" stroke-width="0.86"/>
<path d="M174.7 314.3 L176.8 311.7 L185.4 316.7 L188.1 319.7 L185.7 322.8 L177 317.8Z" fill="#fff" stroke-width="1.08"/>
<path d="M174.7 314.3 L183.3 319.3" stroke-width="0.86"/>
<path d="M176.8 311.7 L185.4 316.7" stroke-width="0.86"/>
<path d="M185.7 322.8 L183.3 319.3 L185.4 316.7 L188.1 319.7" stroke-width="0.86"/>
<path d="M179.2 308.9 L181.5 306.6 L190.1 311.6 L192.2 315.4 L189.5 318.1 L180.9 313.1Z" fill="#fff" stroke-width="1.08"/>
<path d="M179.2 308.9 L187.8 313.9" stroke-width="0.86"/>
<path d="M181.5 306.6 L190.1 311.6" stroke-width="0.86"/>
<path d="M189.5 318.1 L187.8 313.9 L190.1 311.6 L192.2 315.4" stroke-width="0.86"/>
<path d="M184.1 304.2 L186.5 302.2 L195.1 307.2 L196.5 311.7 L193.7 314 L185 309Z" fill="#fff" stroke-width="1.08"/>
<path d="M184.1 304.2 L192.7 309.2" stroke-width="0.86"/>
<path d="M186.5 302.2 L195.1 307.2" stroke-width="0.86"/>
<path d="M193.7 314 L192.7 309.2 L195.1 307.2 L196.5 311.7" stroke-width="0.86"/>
<path d="M189.1 300.3 L191.6 298.7 L200.3 303.7 L200.9 308.7 L198 310.6 L189.4 305.6Z" fill="#fff" stroke-width="1.08"/>
<path d="M189.1 300.3 L197.8 305.3" stroke-width="0.86"/>
<path d="M191.6 298.7 L200.3 303.7" stroke-width="0.86"/>
<path d="M198 310.6 L197.8 305.3 L200.3 303.7 L200.9 308.7" stroke-width="0.86"/>
<path d="M193.8 302.9 L194.3 297.2 L196.8 296.1 L205.5 301.1 L205.4 306.6 L202.5 307.9Z" fill="#fff" stroke-width="1.08"/>
<path d="M194.3 297.2 L203 302.2" stroke-width="0.86"/>
<path d="M196.8 296.1 L205.5 301.1" stroke-width="0.86"/>
<path d="M202.5 307.9 L203 302.2 L205.5 301.1 L205.4 306.6" stroke-width="0.86"/>
<path d="M198.3 301 L199.5 295.1 L202 294.4 L210.6 299.4 L209.7 305.2 L207 306Z" fill="#fff" stroke-width="1.08"/>
<path d="M199.5 295.1 L208.2 300.1" stroke-width="0.86"/>
<path d="M202 294.4 L210.6 299.4" stroke-width="0.86"/>
<path d="M207 306 L208.2 300.1 L210.6 299.4 L209.7 305.2" stroke-width="0.86"/>
<path d="M202.6 300 L204.5 294 L206.9 293.8 L215.5 298.8 L213.9 304.8 L211.3 305Z" fill="#fff" stroke-width="1.08"/>
<path d="M204.5 294 L213.2 299" stroke-width="0.86"/>
<path d="M206.9 293.8 L215.5 298.8" stroke-width="0.86"/>
<path d="M211.3 305 L213.2 299 L215.5 298.8 L213.9 304.8" stroke-width="0.86"/>
<path d="M206.7 299.9 L209.3 293.9 L211.4 294.3 L220.1 299.3 L217.8 305.2 L215.4 304.9Z" fill="#fff" stroke-width="1.08"/>
<path d="M209.3 293.9 L217.9 298.9" stroke-width="0.86"/>
<path d="M211.4 294.3 L220.1 299.3" stroke-width="0.86"/>
<path d="M215.4 304.9 L217.9 298.9 L220.1 299.3 L217.8 305.2" stroke-width="0.86"/>
<path d="M210.5 300.6 L213.6 294.9 L215.6 295.7 L224.2 300.7 L221.3 306.6 L219.1 305.6Z" fill="#fff" stroke-width="1.08"/>
<path d="M213.6 294.9 L222.3 299.9" stroke-width="0.86"/>
<path d="M215.6 295.7 L224.2 300.7" stroke-width="0.86"/>
<path d="M219.1 305.6 L222.3 299.9 L224.2 300.7 L221.3 306.6" stroke-width="0.86"/>
<path d="M178.6 334.6 L180.5 330.8 L182.7 327.2 L185 323.7 L187.6 320.3 L190.3 317.3 L193.2 314.5 L196.1 312 L199.2 309.8 L202.2 308 L205.3 306.6 L208.3 305.6 L211.3 305 L214.1 304.8 L216.8 305 L219.4 305.7 L221.7 306.8 L223.8 308.2"/>
<path d="M221.1 352 L219 355.3 L216.8 358.4 L214.5 361.3 L212 364 L209.3 366.4 L206.6 368.6 L203.9 370.4 L201.1 372 L198.4 373.2 L195.6 374 L193 374.5 L190.4 374.6 L188 374.4 L185.7 373.8 L183.7 372.8 L181.8 371.5 L180.1 369.8 L178.7 367.8 L177.5 365.6 L176.6 363 L175.9 360.2 L175.6 357.3 L175.5 354.1 L175.8 350.8 L176.3 347.4 L177.1 343.9 L178.2 340.4 L179.5 336.8 L181.1 333.4 L182.9 330 L185 326.7 L187.2 323.6 L189.5 320.7 L192 318 L194.7 315.6 L197.4 313.4 L200.1 311.6 L202.9 310 L205.6 308.8 L208.4 308 L211 307.5 L213.6 307.4 L216 307.6 L218.3 308.2 L220.3 309.2 L222.2 310.5 L223.9 312.2 L225.3 314.2 L226.5 316.4 L227.4 319 L228.1 321.8 L228.4 324.7 L228.5 327.9 L228.2 331.2 L227.7 334.6 L226.9 338.1 L225.8 341.6 L224.5 345.2 L222.9 348.6 L221.1 352Z"/>
<path d="M209.5 345.3 L208.7 346.6 L207.8 347.8 L206.9 349 L205.9 350 L204.9 351 L203.8 351.8 L202.7 352.6 L201.7 353.2 L200.6 353.6 L199.5 354 L198.5 354.1 L197.5 354.2 L196.5 354.1 L195.6 353.9 L194.8 353.5 L194.1 353 L193.4 352.3 L192.8 351.5 L192.4 350.6 L192 349.6 L191.8 348.5 L191.6 347.4 L191.6 346.1 L191.7 344.8 L191.9 343.5 L192.2 342.1 L192.7 340.7 L193.2 339.4 L193.8 338 L194.5 336.7 L195.3 335.4 L196.2 334.2 L197.1 333 L198.1 332 L199.1 331 L200.2 330.2 L201.3 329.4 L202.3 328.8 L203.4 328.4 L204.5 328 L205.5 327.9 L206.5 327.8 L207.5 327.9 L208.4 328.1 L209.2 328.5 L209.9 329 L210.6 329.7 L211.2 330.5 L211.6 331.4 L212 332.4 L212.2 333.5 L212.4 334.6 L212.4 335.9 L212.3 337.2 L212.1 338.5 L211.8 339.9 L211.3 341.3 L210.8 342.6 L210.2 344 L209.5 345.3Z"/>
<path d="M208 344.4 L207.3 345.5 L206.6 346.4 L205.9 347.4 L205.1 348.2 L204.3 349 L203.5 349.6 L202.6 350.2 L201.7 350.7 L200.9 351.1 L200 351.4 L199.2 351.5 L198.4 351.5 L197.6 351.5 L196.9 351.3 L196.2 351 L195.7 350.5 L195.1 350 L194.7 349.4 L194.3 348.7 L194 347.9 L193.8 347 L193.7 346.1 L193.7 345.1 L193.8 344.1 L193.9 343 L194.2 341.9 L194.5 340.8 L195 339.7 L195.5 338.6 L196 337.6 L196.7 336.5 L197.4 335.6 L198.1 334.6 L198.9 333.8 L199.7 333 L200.5 332.4 L201.4 331.8 L202.3 331.3 L203.1 330.9 L204 330.6 L204.8 330.5 L205.6 330.5 L206.4 330.5 L207.1 330.7 L207.8 331 L208.3 331.5 L208.9 332 L209.3 332.6 L209.7 333.3 L210 334.1 L210.2 335 L210.3 335.9 L210.3 336.9 L210.2 337.9 L210.1 339 L209.8 340.1 L209.5 341.2 L209 342.3 L208.5 343.4 L208 344.4Z" stroke-width="1.08"/>
<path d="M231.8 372.9 L231 372.3 L230.3 371.6 L229.7 370.7 L229.1 369.7 L228.8 368.6 L228.5 367.4 L228.3 366.1 L228.3 364.7 L228.4 363.3 L228.6 361.8 L229 360.3 L229.5 358.7 L230 357.2 L230.7 355.7 L231.5 354.2 L232.4 352.8 L233.4 351.4 L234.4 350.2 L235.5 349 L236.6 347.9 L237.8 347 L239 346.2 L240.2 345.5 L241.4 345 L242.6 344.6 L243.8 344.4 L244.9 344.3 L245.9 344.4 L246.9 344.7 L247.8 345.1 L256.5 350.1 L257.3 350.7 L258.1 351.4 L258.7 352.3 L259.2 353.3 L259.6 354.4 L259.9 355.6 L260 356.9 L260 358.3 L259.9 359.7 L259.7 361.2 L259.3 362.7 L258.9 364.3 L258.3 365.8 L257.6 367.3 L256.8 368.8 L255.9 370.2 L255 371.6 L253.9 372.8 L252.8 374 L251.7 375.1 L250.5 376 L249.3 376.8 L248.1 377.5 L246.9 378 L245.7 378.4 L244.6 378.6 L243.5 378.7 L242.4 378.6 L241.4 378.3 L240.5 377.9Z" fill="#fff"/>
<path d="M256.8 368.8 L255.9 370.2 L255 371.6 L253.9 372.8 L252.8 374 L251.7 375.1 L250.5 376 L249.3 376.8 L248.1 377.5 L246.9 378 L245.7 378.4 L244.6 378.6 L243.5 378.7 L242.4 378.6 L241.4 378.3 L240.5 377.9 L239.7 377.3 L238.9 376.6 L238.3 375.7 L237.8 374.7 L237.4 373.6 L237.1 372.4 L237 371.1 L237 369.7 L237.1 368.3 L237.3 366.8 L237.7 365.3 L238.1 363.7 L238.7 362.2 L239.4 360.7 L240.2 359.2 L241.1 357.8 L242 356.4 L243.1 355.2 L244.2 354 L245.3 352.9 L246.5 352 L247.7 351.2 L248.9 350.5 L250.1 350 L251.3 349.6 L252.4 349.4 L253.5 349.3 L254.6 349.4 L255.6 349.7 L256.5 350.1 L257.3 350.7 L258.1 351.4 L258.7 352.3 L259.2 353.3 L259.6 354.4 L259.9 355.6 L260 356.9 L260 358.3 L259.9 359.7 L259.7 361.2 L259.3 362.7 L258.9 364.3 L258.3 365.8 L257.6 367.3 L256.8 368.8Z"/>
<path d="M255.3 367.9 L254.5 369.1 L253.8 370.2 L252.9 371.2 L252 372.1 L251.1 373 L250.1 373.8 L249.2 374.4 L248.2 375 L247.2 375.4 L246.2 375.7 L245.3 375.9 L244.4 375.9 L243.5 375.8 L242.7 375.6 L242 375.3 L241.3 374.8 L240.7 374.2 L240.2 373.5 L239.8 372.7 L239.5 371.8 L239.3 370.8 L239.1 369.8 L239.1 368.6 L239.2 367.5 L239.4 366.3 L239.7 365 L240.1 363.8 L240.5 362.5 L241.1 361.3 L241.7 360.1 L242.5 358.9 L243.2 357.8 L244.1 356.8 L245 355.9 L245.9 355 L246.9 354.2 L247.8 353.6 L248.8 353 L249.8 352.6 L250.8 352.3 L251.7 352.1 L252.6 352.1 L253.5 352.2 L254.3 352.4 L255 352.7 L255.7 353.2 L256.3 353.8 L256.8 354.5 L257.2 355.3 L257.5 356.2 L257.7 357.2 L257.9 358.2 L257.9 359.4 L257.8 360.5 L257.6 361.7 L257.3 363 L256.9 364.2 L256.5 365.5 L255.9 366.7 L255.3 367.9Z"/>
<path d="M259.2 387 L258.7 386.6 L258.2 386.1 L257.8 385.5 L257.4 384.8 L257.1 384 L256.9 383.2 L256.8 382.3 L256.8 381.4 L256.9 380.4 L257 379.3 L257.3 378.3 L257.6 377.2 L258 376.2 L258.5 375.2 L259 374.1 L259.6 373.2 L260.3 372.2 L261 371.4 L261.8 370.6 L262.5 369.8 L263.4 369.2 L264.2 368.6 L265 368.2 L265.8 367.8 L266.7 367.5 L267.4 367.4 L268.2 367.4 L268.9 367.4 L269.6 367.6 L270.2 367.9 L296.2 382.9 L296.8 383.3 L297.3 383.8 L297.7 384.4 L298.1 385.1 L298.4 385.8 L298.5 386.7 L298.6 387.6 L298.7 388.5 L298.6 389.5 L298.4 390.5 L298.2 391.6 L297.9 392.6 L297.5 393.7 L297 394.7 L296.4 395.7 L295.8 396.7 L295.2 397.7 L294.5 398.5 L293.7 399.3 L292.9 400.1 L292.1 400.7 L291.3 401.3 L290.5 401.7 L289.6 402.1 L288.8 402.3 L288 402.5 L287.3 402.5 L286.5 402.4 L285.9 402.3 L285.2 402Z" fill="#fff"/>
<path d="M282.4 404.9 L281.6 404.4 L280.9 403.7 L280.3 402.9 L279.8 402 L279.5 400.9 L279.2 399.8 L279.1 398.6 L279.1 397.3 L279.1 395.9 L279.4 394.5 L279.7 393.1 L280.1 391.7 L280.7 390.2 L281.3 388.8 L282.1 387.4 L282.9 386.1 L283.8 384.8 L284.8 383.6 L285.8 382.5 L286.9 381.5 L288 380.7 L289.1 379.9 L290.2 379.3 L291.3 378.8 L292.5 378.4 L293.5 378.2 L294.6 378.2 L295.6 378.3 L296.5 378.6 L297.4 379 L392.6 434 L393.4 434.5 L394.1 435.2 L394.7 436 L395.1 436.9 L395.5 437.9 L395.8 439.1 L395.9 440.3 L395.9 441.6 L395.8 442.9 L395.6 444.3 L395.3 445.8 L394.9 447.2 L394.3 448.6 L393.7 450.1 L392.9 451.4 L392.1 452.8 L391.2 454 L390.2 455.2 L389.2 456.3 L388.1 457.3 L387 458.2 L385.9 459 L384.8 459.6 L383.6 460.1 L382.5 460.4 L381.4 460.6 L380.4 460.7 L379.4 460.6 L378.5 460.3 L377.6 459.9Z" fill="#fff"/>
<path d="M323.1 428.4 L322.3 427.9 L321.6 427.2 L321 426.4 L320.5 425.5 L320.2 424.4 L319.9 423.3 L319.8 422.1 L319.8 420.8 L319.9 419.4 L320.1 418 L320.4 416.6 L320.8 415.2 L321.4 413.7 L322 412.3 L322.8 410.9 L323.6 409.6 L324.5 408.3 L325.5 407.1 L326.5 406 L327.6 405 L328.7 404.2 L329.8 403.4 L330.9 402.8 L332.1 402.3 L333.2 401.9 L334.2 401.7 L335.3 401.7 L336.3 401.8 L337.2 402.1 L338.1 402.5" stroke-width="1.08"/>
<path d="M337.8 436.9 L337 436.4 L336.3 435.7 L335.7 434.9 L335.3 434 L334.9 432.9 L334.6 431.8 L334.5 430.6 L334.5 429.3 L334.6 427.9 L334.8 426.5 L335.1 425.1 L335.6 423.7 L336.1 422.2 L336.8 420.8 L337.5 419.4 L338.3 418.1 L339.2 416.8 L340.2 415.6 L341.2 414.5 L342.3 413.5 L343.4 412.7 L344.5 411.9 L345.6 411.3 L346.8 410.8 L347.9 410.4 L349 410.2 L350 410.2 L351 410.3 L351.9 410.6 L352.8 411" stroke-width="1.08"/>
<path d="M349.9 443.9 L349.1 443.4 L348.5 442.7 L347.9 441.9 L347.4 441 L347 439.9 L346.8 438.8 L346.6 437.6 L346.6 436.3 L346.7 434.9 L346.9 433.5 L347.2 432.1 L347.7 430.7 L348.2 429.2 L348.9 427.8 L349.6 426.4 L350.4 425.1 L351.3 423.8 L352.3 422.6 L353.3 421.5 L354.4 420.5 L355.5 419.7 L356.6 418.9 L357.8 418.3 L358.9 417.8 L360 417.4 L361.1 417.2 L362.1 417.2 L363.1 417.3 L364.1 417.6 L364.9 418" stroke-width="1.08"/>
<path d="M283.4 405.5 L375.2 458.5" stroke-width="0.9"/>
<path d="M282.2 404.2 L374 457.2" stroke-width="0.9"/>
<path d="M281.4 402.6 L373.2 455.6" stroke-width="0.9"/>
<path d="M280.9 400.6 L372.7 453.6" stroke-width="0.9"/>
<path d="M280.8 398.4 L372.6 451.4" stroke-width="0.9"/>
<path d="M281 396 L372.8 449" stroke-width="0.9"/>
<path d="M281.6 393.4 L373.4 446.4" stroke-width="0.9"/>
<path d="M282.6 390.9 L374.4 443.9" stroke-width="0.9"/>
<path d="M283.8 388.4 L375.6 441.4" stroke-width="0.9"/>
<path d="M285.3 386.1 L377.1 439.1" stroke-width="0.9"/>
<path d="M287 384.1 L378.8 437.1" stroke-width="0.9"/>
<path d="M288.9 382.3 L380.7 435.3" stroke-width="0.9"/>
<path d="M290.9 380.9 L382.7 433.9" stroke-width="0.9"/>
<path d="M292.9 379.9 L384.7 432.9" stroke-width="0.9"/>
<path d="M294.8 379.3 L386.6 432.3" stroke-width="0.9"/>
<path d="M296.7 379.2 L388.5 432.2" stroke-width="0.9"/>
<path d="M298.3 379.6 L390.1 432.6" stroke-width="0.9"/>
<path d="M373.6 466.9 L372.4 466 L371.4 465 L370.5 463.8 L369.8 462.3 L369.2 460.7 L368.8 459 L368.6 457.1 L368.5 455.1 L368.7 453.1 L369 450.9 L369.5 448.7 L370.2 446.5 L371 444.3 L372 442.2 L373.2 440 L374.4 438 L375.8 436.1 L377.3 434.2 L378.9 432.5 L380.5 431 L382.2 429.7 L383.9 428.5 L385.7 427.5 L387.4 426.8 L389.1 426.2 L390.8 425.9 L392.4 425.9 L393.9 426 L395.3 426.4 L396.6 427 L404.4 431.5 L405.6 432.4 L406.7 433.4 L407.6 434.6 L408.3 436.1 L408.9 437.6 L409.2 439.4 L409.5 441.3 L409.5 443.2 L409.3 445.3 L409 447.5 L408.5 449.6 L407.8 451.8 L407 454 L406 456.2 L404.9 458.3 L403.6 460.4 L402.2 462.3 L400.7 464.2 L399.2 465.8 L397.5 467.4 L395.8 468.7 L394.1 469.9 L392.4 470.9 L390.6 471.6 L388.9 472.1 L387.3 472.4 L385.7 472.5 L384.2 472.4 L382.7 472 L381.4 471.4Z" fill="#fff"/>
<path d="M404.9 458.3 L403.6 460.4 L402.2 462.3 L400.7 464.2 L399.2 465.8 L397.5 467.4 L395.8 468.7 L394.1 469.9 L392.4 470.9 L390.6 471.6 L388.9 472.1 L387.3 472.4 L385.7 472.5 L384.2 472.4 L382.7 472 L381.4 471.4 L380.2 470.5 L379.2 469.5 L378.3 468.3 L377.6 466.8 L377 465.2 L376.6 463.5 L376.4 461.6 L376.3 459.6 L376.5 457.6 L376.8 455.4 L377.3 453.2 L378 451 L378.8 448.8 L379.8 446.7 L381 444.5 L382.2 442.5 L383.6 440.6 L385.1 438.7 L386.7 437 L388.3 435.5 L390 434.2 L391.7 433 L393.5 432 L395.2 431.3 L396.9 430.7 L398.6 430.4 L400.2 430.4 L401.7 430.5 L403.1 430.9 L404.4 431.5 L405.6 432.4 L406.7 433.4 L407.6 434.6 L408.3 436.1 L408.9 437.6 L409.2 439.4 L409.5 441.3 L409.5 443.2 L409.3 445.3 L409 447.5 L408.5 449.6 L407.8 451.8 L407 454 L406 456.2 L404.9 458.3Z"/>
<path d="M385.1 465 L384.3 464.5 L383.5 463.8 L382.9 462.9 L382.4 461.9 L382 460.9 L381.8 459.7 L381.6 458.4 L381.6 457 L381.7 455.6 L381.9 454.2 L382.3 452.7 L382.7 451.2 L383.3 449.7 L384 448.2 L384.8 446.7 L385.6 445.3 L386.6 444 L387.6 442.8 L388.7 441.6 L389.8 440.6 L390.9 439.6 L392.1 438.8 L393.3 438.2 L394.5 437.7 L395.6 437.3 L396.8 437.1 L397.9 437.1 L398.9 437.2 L399.9 437.4 L400.8 437.8 L457.9 470.8 L458.7 471.4 L459.5 472.1 L460.1 473 L460.6 473.9 L461 475 L461.2 476.2 L461.4 477.5 L461.4 478.8 L461.3 480.3 L461.1 481.7 L460.7 483.2 L460.3 484.7 L459.7 486.2 L459 487.7 L458.2 489.2 L457.4 490.5 L456.4 491.9 L455.4 493.1 L454.3 494.3 L453.2 495.3 L452.1 496.2 L450.9 497 L449.7 497.7 L448.5 498.2 L447.4 498.6 L446.2 498.8 L445.1 498.8 L444.1 498.7 L443.1 498.5 L442.2 498Z" fill="#fff"/>
<path d="M442.8 493 L442.3 492.6 L441.8 492.1 L441.3 491.5 L441 490.8 L440.7 490 L440.5 489.2 L440.4 488.3 L440.4 487.4 L440.5 486.4 L440.6 485.3 L440.9 484.3 L441.2 483.2 L441.6 482.2 L442.1 481.2 L442.6 480.1 L443.2 479.2 L443.9 478.2 L444.6 477.4 L445.4 476.6 L446.1 475.8 L447 475.2 L447.8 474.6 L448.6 474.2 L449.4 473.8 L450.3 473.5 L451 473.4 L451.8 473.4 L452.5 473.4 L453.2 473.6 L453.8 473.9 L472 484.4 L472.6 484.8 L473.1 485.3 L473.5 485.9 L473.9 486.6 L474.2 487.3 L474.3 488.2 L474.4 489.1 L474.5 490 L474.4 491 L474.2 492 L474 493.1 L473.7 494.1 L473.3 495.2 L472.8 496.2 L472.2 497.2 L471.6 498.2 L471 499.2 L470.3 500 L469.5 500.8 L468.7 501.6 L467.9 502.2 L467.1 502.8 L466.3 503.2 L465.4 503.6 L464.6 503.8 L463.8 504 L463.1 504 L462.3 503.9 L461.7 503.8 L461 503.5Z" fill="#fff"/>
<path d="M439.9 495 L441.8 492.1 L459.1 502.1 L460.4 503.1 L458.5 506 L441.1 496Z" fill="#fff" stroke-width="0.96"/>
<path d="M441.1 496 L458.5 506" stroke-width="0.77"/>
<path d="M439.9 495 L457.2 505" stroke-width="0.77"/>
<path d="M460.4 503.1 L458.5 506 L457.2 505 L459.1 502.1" stroke-width="0.77"/>
<path d="M438.2 491.6 L440.6 489.4 L457.9 499.4 L458.5 501.2 L456.1 503.4 L438.8 493.4Z" fill="#fff" stroke-width="0.96"/>
<path d="M438.8 493.4 L456.1 503.4" stroke-width="0.77"/>
<path d="M438.2 491.6 L455.5 501.6" stroke-width="0.77"/>
<path d="M458.5 501.2 L456.1 503.4 L455.5 501.6 L457.9 499.4" stroke-width="0.77"/>
<path d="M437.9 489.3 L438 487 L440.6 485.8 L457.9 495.8 L457.7 498.2 L455.2 499.3Z" fill="#fff" stroke-width="0.96"/>
<path d="M437.9 489.3 L455.2 499.3" stroke-width="0.77"/>
<path d="M438 487 L455.3 497" stroke-width="0.77"/>
<path d="M457.7 498.2 L455.2 499.3 L455.3 497 L457.9 495.8" stroke-width="0.77"/>
<path d="M438.6 484.3 L439.5 481.8 L441.7 481.9 L459.1 491.9 L458.2 494.4 L455.9 494.3Z" fill="#fff" stroke-width="0.96"/>
<path d="M438.6 484.3 L455.9 494.3" stroke-width="0.77"/>
<path d="M439.5 481.8 L456.8 491.8" stroke-width="0.77"/>
<path d="M458.2 494.4 L455.9 494.3 L456.8 491.8 L459.1 491.9" stroke-width="0.77"/>
<path d="M440.8 479.2 L442.2 476.9 L459.6 486.9 L461.2 488.2 L459.7 490.5 L442.4 480.5Z" fill="#fff" stroke-width="0.96"/>
<path d="M440.8 479.2 L458.1 489.2" stroke-width="0.77"/>
<path d="M442.2 476.9 L459.6 486.9" stroke-width="0.77"/>
<path d="M459.7 490.5 L458.1 489.2 L459.6 486.9 L461.2 488.2" stroke-width="0.77"/>
<path d="M444.1 474.7 L446 473 L463.3 483 L464.1 485.3 L462.2 487 L444.9 477Z" fill="#fff" stroke-width="0.96"/>
<path d="M444.1 474.7 L461.4 484.7" stroke-width="0.77"/>
<path d="M446 473 L463.3 483" stroke-width="0.77"/>
<path d="M462.2 487 L461.4 484.7 L463.3 483 L464.1 485.3" stroke-width="0.77"/>
<path d="M447.9 474.5 L448.1 471.5 L450 470.6 L467.4 480.6 L467.2 483.6 L465.2 484.5Z" fill="#fff" stroke-width="0.96"/>
<path d="M448.1 471.5 L465.4 481.5" stroke-width="0.77"/>
<path d="M450 470.6 L467.4 480.6" stroke-width="0.77"/>
<path d="M465.2 484.5 L465.4 481.5 L467.4 480.6 L467.2 483.6" stroke-width="0.77"/>
<path d="M451 473.4 L452.1 470.2 L453.9 470.3 L471.2 480.3 L470.1 483.5 L468.3 483.4Z" fill="#fff" stroke-width="0.96"/>
<path d="M452.1 470.2 L469.4 480.2" stroke-width="0.77"/>
<path d="M453.9 470.3 L471.2 480.3" stroke-width="0.77"/>
<path d="M468.3 483.4 L469.4 480.2 L471.2 480.3 L470.1 483.5" stroke-width="0.77"/>
<path d="M470.6 483.7 L472.5 480.7 L473.3 481.1 L471.6 484.2" fill="#fff" stroke-width="0.96"/>
<path d="M472.6 485.3 L475 483.1 L475.5 484 L473.2 486.5" fill="#fff" stroke-width="0.96"/>
<path d="M473.6 488.3 L476.1 487 L476.1 488.3 L473.6 489.8" fill="#fff" stroke-width="0.96"/>
<path d="M473.3 492 L475.6 492 L475.2 493.4 L472.8 493.7" fill="#fff" stroke-width="0.96"/>
<path d="M471.8 495.9 L473.6 497.1 L472.8 498.4 L470.9 497.6" fill="#fff" stroke-width="0.96"/>
<path d="M469.5 499.5 L470.3 501.7 L469.3 502.8 L468.2 500.8" fill="#fff" stroke-width="0.96"/>
<path d="M466.5 502.1 L466.4 505.1 L465.3 505.7 L465.1 502.9" fill="#fff" stroke-width="0.96"/>
<path d="M463.4 503.4 L462.4 506.6 L461.3 506.7 L462.1 503.5" fill="#fff" stroke-width="0.96"/>
<path d="M460.7 502.1 L460.2 501.7 L459.7 501.3 L459.3 500.8 L459 500.1 L458.7 499.4 L458.6 498.7 L458.5 497.9 L458.5 497 L458.5 496.1 L458.7 495.2 L458.9 494.2 L459.2 493.3 L459.5 492.3 L460 491.4 L460.5 490.4 L461 489.6 L461.6 488.7 L462.3 487.9 L463 487.2 L463.7 486.5 L464.4 485.9 L465.2 485.4 L465.9 485 L466.7 484.7 L467.4 484.4 L468.1 484.3 L468.8 484.3 L469.5 484.3 L470.1 484.5 L470.7 484.8 L486.3 493.8 L486.8 494.1 L487.2 494.6 L487.6 495.1 L487.9 495.8 L488.2 496.4 L488.4 497.2 L488.4 498 L488.5 498.9 L488.4 499.8 L488.3 500.7 L488 501.7 L487.7 502.6 L487.4 503.6 L486.9 504.5 L486.5 505.4 L485.9 506.3 L485.3 507.2 L484.7 508 L484 508.7 L483.3 509.4 L482.5 510 L481.8 510.5 L481 510.9 L480.3 511.2 L479.5 511.4 L478.8 511.6 L478.1 511.6 L477.4 511.5 L476.8 511.4 L476.3 511.1Z" fill="#fff"/>
<path d="M486.5 505.4 L485.9 506.3 L485.3 507.2 L484.7 508 L484 508.7 L483.3 509.4 L482.5 510 L481.8 510.5 L481 510.9 L480.3 511.2 L479.5 511.4 L478.8 511.6 L478.1 511.6 L477.4 511.5 L476.8 511.4 L476.3 511.1 L475.7 510.7 L475.3 510.3 L474.9 509.8 L474.6 509.1 L474.3 508.4 L474.2 507.7 L474.1 506.9 L474 506 L474.1 505.1 L474.3 504.2 L474.5 503.2 L474.8 502.3 L475.1 501.3 L475.6 500.4 L476.1 499.4 L476.6 498.6 L477.2 497.7 L477.9 496.9 L478.5 496.2 L479.3 495.5 L480 494.9 L480.7 494.4 L481.5 494 L482.2 493.7 L483 493.4 L483.7 493.3 L484.4 493.3 L485.1 493.3 L485.7 493.5 L486.3 493.8 L486.8 494.1 L487.2 494.6 L487.6 495.1 L487.9 495.8 L488.2 496.4 L488.4 497.2 L488.4 498 L488.5 498.9 L488.4 499.8 L488.3 500.7 L488 501.7 L487.7 502.6 L487.4 503.6 L486.9 504.5 L486.5 505.4Z"/>
<path d="M462 502.8 L461.5 502.4 L461.1 501.8 L460.8 501.2 L460.5 500.5 L460.3 499.8 L460.2 499 L460.2 498.1 L460.2 497.2 L460.4 496.2 L460.6 495.3 L460.9 494.3 L461.3 493.3 L461.7 492.4 L462.2 491.4 L462.8 490.5 L463.4 489.7 L464 488.9 L464.7 488.1 L465.4 487.5 L466.2 486.9 L466.9 486.4 L467.7 486 L468.5 485.6 L469.2 485.4 L469.9 485.3 L470.6 485.3 L471.3 485.4 L471.9 485.6" stroke-width="0.84"/>
<path d="M463.7 503.8 L463.2 503.4 L462.8 502.8 L462.5 502.2 L462.2 501.5 L462 500.8 L461.9 500 L461.9 499.1 L462 498.2 L462.1 497.2 L462.3 496.3 L462.6 495.3 L463 494.3 L463.4 493.4 L463.9 492.4 L464.5 491.5 L465.1 490.7 L465.8 489.9 L466.5 489.1 L467.2 488.5 L467.9 487.9 L468.7 487.4 L469.4 487 L470.2 486.6 L470.9 486.4 L471.7 486.3 L472.4 486.3 L473 486.4 L473.7 486.6" stroke-width="0.84"/>
<path d="M465.4 504.8 L465 504.4 L464.6 503.8 L464.2 503.2 L464 502.5 L463.8 501.8 L463.7 501 L463.7 500.1 L463.7 499.2 L463.9 498.2 L464.1 497.3 L464.4 496.3 L464.7 495.3 L465.2 494.4 L465.7 493.4 L466.2 492.5 L466.8 491.7 L467.5 490.9 L468.2 490.1 L468.9 489.5 L469.7 488.9 L470.4 488.4 L471.2 488 L471.9 487.6 L472.7 487.4 L473.4 487.3 L474.1 487.3 L474.8 487.4 L475.4 487.6" stroke-width="0.84"/>
<path d="M467.2 505.8 L466.7 505.4 L466.3 504.8 L466 504.2 L465.7 503.5 L465.5 502.8 L465.4 502 L465.4 501.1 L465.4 500.2 L465.6 499.2 L465.8 498.3 L466.1 497.3 L466.5 496.3 L466.9 495.4 L467.4 494.4 L468 493.5 L468.6 492.7 L469.2 491.9 L469.9 491.1 L470.6 490.5 L471.4 489.9 L472.1 489.4 L472.9 489 L473.7 488.6 L474.4 488.4 L475.1 488.3 L475.8 488.3 L476.5 488.4 L477.1 488.6" stroke-width="0.84"/>
<path d="M468.9 506.8 L468.4 506.4 L468 505.8 L467.7 505.2 L467.4 504.5 L467.2 503.8 L467.1 503 L467.1 502.1 L467.2 501.2 L467.3 500.2 L467.5 499.3 L467.8 498.3 L468.2 497.3 L468.6 496.4 L469.1 495.4 L469.7 494.5 L470.3 493.7 L471 492.9 L471.6 492.1 L472.4 491.5 L473.1 490.9 L473.9 490.4 L474.6 490 L475.4 489.6 L476.1 489.4 L476.9 489.3 L477.6 489.3 L478.2 489.4 L478.9 489.6" stroke-width="0.84"/>
<path d="M470.6 507.8 L470.2 507.4 L469.7 506.8 L469.4 506.2 L469.2 505.5 L469 504.8 L468.9 504 L468.8 503.1 L468.9 502.2 L469 501.2 L469.3 500.3 L469.6 499.3 L469.9 498.3 L470.4 497.4 L470.9 496.4 L471.4 495.5 L472 494.7 L472.7 493.9 L473.4 493.1 L474.1 492.5 L474.8 491.9 L475.6 491.4 L476.4 491 L477.1 490.6 L477.9 490.4 L478.6 490.3 L479.3 490.3 L480 490.4 L480.6 490.6" stroke-width="0.84"/>
<path d="M472.4 508.8 L471.9 508.4 L471.5 507.8 L471.1 507.2 L470.9 506.5 L470.7 505.8 L470.6 505 L470.6 504.1 L470.6 503.2 L470.8 502.2 L471 501.3 L471.3 500.3 L471.7 499.3 L472.1 498.4 L472.6 497.4 L473.2 496.5 L473.8 495.7 L474.4 494.9 L475.1 494.1 L475.8 493.5 L476.6 492.9 L477.3 492.4 L478.1 492 L478.9 491.6 L479.6 491.4 L480.3 491.3 L481 491.3 L481.7 491.4 L482.3 491.6" stroke-width="0.84"/>
<path d="M482.8 503.3 L482.6 503.6 L482.5 503.9 L482.3 504.1 L482.1 504.3 L481.9 504.5 L481.6 504.7 L481.4 504.8 L481.2 505 L481 505.1 L480.7 505.1 L480.5 505.2 L480.3 505.2 L480.1 505.2 L479.9 505.1 L479.8 505 L479.6 504.9 L479.5 504.8 L479.3 504.6 L479.3 504.4 L479.2 504.2 L479.1 504 L479.1 503.8 L479.1 503.5 L479.1 503.2 L479.2 503 L479.2 502.7 L479.3 502.4 L479.4 502.1 L479.5 501.8 L479.7 501.5 L479.9 501.3 L480 501 L480.2 500.8 L480.4 500.6 L480.7 500.4 L480.9 500.2 L481.1 500 L481.3 499.9 L481.6 499.8 L481.8 499.7 L482 499.7 L482.2 499.7 L482.4 499.7 L482.6 499.8 L482.8 499.8 L482.9 500 L483 500.1 L483.2 500.2 L483.3 500.4 L483.3 500.6 L483.4 500.9 L483.4 501.1 L483.4 501.4 L483.4 501.6 L483.4 501.9 L483.3 502.2 L483.2 502.5 L483.1 502.8 L483 503.1 L482.8 503.3Z" stroke-width="0.96"/>
<path d="M494.4 544.7 L492.8 543.6 L491.3 542.1 L490.1 540.4 L489 538.4 L488.2 536.2 L487.7 533.8 L487.4 531.2 L487.3 528.4 L487.6 525.5 L488 522.5 L488.7 519.5 L489.7 516.4 L490.8 513.4 L492.2 510.3 L493.8 507.4 L495.5 504.6 L497.5 501.8 L499.5 499.3 L501.7 497 L504 494.8 L506.4 492.9 L508.8 491.3 L511.2 490 L513.6 488.9 L516 488.2 L518.3 487.8 L520.5 487.7 L522.6 487.9 L524.6 488.4 L526.4 489.3 L542 498.3 L543.7 499.4 L545.1 500.9 L546.4 502.6 L547.4 504.6 L548.2 506.8 L548.7 509.2 L549 511.8 L549.1 514.6 L548.9 517.5 L548.4 520.5 L547.7 523.5 L546.8 526.6 L545.6 529.6 L544.2 532.7 L542.6 535.6 L540.9 538.4 L538.9 541.2 L536.9 543.7 L534.7 546 L532.4 548.2 L530 550.1 L527.7 551.7 L525.2 553 L522.8 554.1 L520.5 554.8 L518.1 555.2 L515.9 555.3 L513.8 555.1 L511.8 554.6 L510 553.7Z" fill="#fff"/>
<path d="M542.6 535.6 L540.9 538.4 L538.9 541.2 L536.9 543.7 L534.7 546 L532.4 548.2 L530 550.1 L527.7 551.7 L525.2 553 L522.8 554.1 L520.5 554.8 L518.1 555.2 L515.9 555.3 L513.8 555.1 L511.8 554.6 L510 553.7 L508.3 552.6 L506.9 551.1 L505.6 549.4 L504.6 547.4 L503.8 545.2 L503.3 542.8 L503 540.2 L502.9 537.4 L503.1 534.5 L503.6 531.5 L504.3 528.5 L505.2 525.4 L506.4 522.4 L507.8 519.3 L509.4 516.4 L511.1 513.6 L513.1 510.8 L515.1 508.3 L517.3 506 L519.6 503.8 L522 501.9 L524.3 500.3 L526.8 499 L529.2 497.9 L531.5 497.2 L533.9 496.8 L536.1 496.7 L538.2 496.9 L540.2 497.4 L542 498.3 L543.7 499.4 L545.1 500.9 L546.4 502.6 L547.4 504.6 L548.2 506.8 L548.7 509.2 L549 511.8 L549.1 514.6 L548.9 517.5 L548.4 520.5 L547.7 523.5 L546.8 526.6 L545.6 529.6 L544.2 532.7 L542.6 535.6Z"/>
<path d="M541.1 534.7 L539.5 537.3 L537.7 539.7 L535.9 542 L533.9 544.2 L531.8 546.1 L529.7 547.8 L527.5 549.3 L525.3 550.5 L523.1 551.4 L521 552.1 L518.9 552.5 L516.9 552.6 L514.9 552.4 L513.2 551.9 L511.5 551.1 L510 550.1 L508.7 548.8 L507.6 547.2 L506.6 545.4 L505.9 543.4 L505.4 541.2 L505.1 538.8 L505.1 536.3 L505.3 533.7 L505.7 531 L506.3 528.3 L507.2 525.5 L508.2 522.7 L509.5 520 L510.9 517.3 L512.5 514.7 L514.3 512.3 L516.1 510 L518.1 507.8 L520.2 505.9 L522.3 504.2 L524.5 502.7 L526.7 501.5 L528.9 500.6 L531 499.9 L533.1 499.5 L535.1 499.4 L537.1 499.6 L538.8 500.1 L540.5 500.9 L542 501.9 L543.3 503.2 L544.4 504.8 L545.4 506.6 L546.1 508.6 L546.6 510.8 L546.9 513.2 L546.9 515.7 L546.7 518.3 L546.3 521 L545.7 523.7 L544.8 526.5 L543.8 529.3 L542.5 532 L541.1 534.7Z" stroke-width="0.96"/>
<path d="M539 533.5 L537.6 535.7 L536.1 537.8 L534.5 539.8 L532.8 541.7 L531 543.3 L529.2 544.8 L527.3 546.1 L525.4 547.1 L523.5 547.9 L521.7 548.5 L519.9 548.8 L518.1 548.9 L516.5 548.7 L514.9 548.3 L513.5 547.7 L512.2 546.7 L511.1 545.6 L510.1 544.3 L509.3 542.7 L508.7 541 L508.3 539.1 L508 537.1 L508 534.9 L508.1 532.7 L508.5 530.3 L509 528 L509.8 525.6 L510.7 523.2 L511.8 520.8 L513 518.5 L514.4 516.3 L515.9 514.2 L517.5 512.2 L519.2 510.3 L521 508.7 L522.8 507.2 L524.7 505.9 L526.6 504.9 L528.5 504.1 L530.3 503.5 L532.1 503.2 L533.9 503.1 L535.5 503.3 L537.1 503.7 L538.5 504.3 L539.8 505.3 L540.9 506.4 L541.9 507.7 L542.7 509.3 L543.3 511 L543.7 512.9 L544 514.9 L544 517.1 L543.9 519.3 L543.5 521.7 L543 524 L542.2 526.4 L541.3 528.8 L540.2 531.2 L539 533.5Z"/>
<path d="M535.4 531.4 L534.4 533 L533.3 534.5 L532.1 536 L530.9 537.3 L529.6 538.5 L528.3 539.5 L526.9 540.4 L525.6 541.2 L524.2 541.8 L522.9 542.2 L521.6 542.4 L520.3 542.5 L519.1 542.4 L518 542.1 L517 541.6 L516.1 540.9 L515.3 540.1 L514.6 539.2 L514 538 L513.5 536.8 L513.2 535.4 L513.1 534 L513 532.4 L513.1 530.8 L513.4 529.1 L513.8 527.4 L514.3 525.7 L515 524 L515.8 522.3 L516.6 520.6 L517.6 519 L518.7 517.5 L519.9 516 L521.1 514.7 L522.4 513.5 L523.7 512.5 L525.1 511.6 L526.4 510.8 L527.8 510.2 L529.1 509.8 L530.4 509.6 L531.7 509.5 L532.9 509.6 L534 509.9 L535 510.4 L535.9 511.1 L536.7 511.9 L537.4 512.8 L538 514 L538.5 515.2 L538.8 516.6 L538.9 518 L539 519.6 L538.9 521.2 L538.6 522.9 L538.2 524.6 L537.7 526.3 L537 528 L536.2 529.7 L535.4 531.4Z"/>
<path d="M533.3 530.2 L532.5 531.4 L531.7 532.6 L530.8 533.7 L529.8 534.8 L528.8 535.7 L527.8 536.5 L526.7 537.2 L525.7 537.8 L524.6 538.3 L523.6 538.6 L522.6 538.8 L521.6 538.8 L520.7 538.7 L519.8 538.5 L519 538.1 L518.3 537.6 L517.6 537 L517.1 536.2 L516.6 535.4 L516.3 534.4 L516.1 533.3 L515.9 532.2 L515.9 531 L516 529.7 L516.2 528.4 L516.5 527.1 L516.9 525.8 L517.4 524.4 L518 523.1 L518.7 521.8 L519.5 520.6 L520.3 519.4 L521.2 518.3 L522.2 517.2 L523.2 516.3 L524.2 515.5 L525.3 514.8 L526.3 514.2 L527.4 513.7 L528.4 513.4 L529.4 513.2 L530.4 513.2 L531.3 513.3 L532.2 513.5 L533 513.9 L533.7 514.4 L534.4 515 L534.9 515.8 L535.4 516.6 L535.7 517.6 L535.9 518.7 L536.1 519.8 L536.1 521 L536 522.3 L535.8 523.6 L535.5 524.9 L535.1 526.2 L534.6 527.6 L534 528.9 L533.3 530.2Z"/>
<path d="M456.6 557.4 L503 532.5" stroke-dasharray="130 2.5 2 2.5" stroke-dashoffset="20"/>
<path d="M545.2 580.9 L543.4 579.6 L541.8 578 L540.4 576.1 L539.3 574 L538.4 571.5 L537.8 568.9 L537.5 566 L537.4 563 L537.7 559.9 L538.2 556.6 L538.9 553.3 L540 549.9 L541.2 546.6 L542.8 543.3 L544.5 540 L546.4 536.9 L548.5 534 L550.8 531.2 L553.2 528.6 L555.7 526.3 L558.2 524.2 L560.9 522.5 L563.5 521 L566.1 519.9 L568.7 519 L571.3 518.6 L573.7 518.5 L576 518.7 L578.2 519.3 L580.2 520.2 L583.2 522 L585 523.3 L586.6 524.8 L588 526.7 L589.1 528.9 L589.9 531.3 L590.5 533.9 L590.9 536.8 L590.9 539.8 L590.7 543 L590.2 546.2 L589.4 549.6 L588.4 552.9 L587.1 556.3 L585.6 559.6 L583.9 562.8 L582 565.9 L579.9 568.9 L577.6 571.7 L575.2 574.2 L572.7 576.5 L570.1 578.6 L567.5 580.4 L564.9 581.9 L562.2 583 L559.6 583.8 L557.1 584.3 L554.7 584.4 L552.4 584.1 L550.2 583.5 L548.2 582.6Z" fill="#fff"/>
<path d="M583.9 562.8 L582 565.9 L579.9 568.9 L577.6 571.7 L575.2 574.2 L572.7 576.5 L570.1 578.6 L567.5 580.4 L564.9 581.9 L562.2 583 L559.6 583.8 L557.1 584.3 L554.7 584.4 L552.4 584.1 L550.2 583.5 L548.2 582.6 L546.4 581.3 L544.8 579.8 L543.4 577.9 L542.3 575.7 L541.5 573.3 L540.9 570.7 L540.5 567.8 L540.5 564.8 L540.7 561.6 L541.2 558.4 L542 555 L543 551.7 L544.3 548.3 L545.8 545 L547.5 541.8 L549.4 538.7 L551.5 535.7 L553.8 532.9 L556.2 530.4 L558.7 528.1 L561.3 526 L563.9 524.2 L566.5 522.7 L569.2 521.6 L571.8 520.8 L574.3 520.3 L576.7 520.2 L579 520.5 L581.2 521.1 L583.2 522 L585 523.3 L586.6 524.8 L588 526.7 L589.1 528.9 L589.9 531.3 L590.5 533.9 L590.9 536.8 L590.9 539.8 L590.7 543 L590.2 546.2 L589.4 549.6 L588.4 552.9 L587.1 556.3 L585.6 559.6 L583.9 562.8Z"/>
<path d="M582.3 561.9 L580.6 564.7 L578.6 567.5 L576.6 570 L574.4 572.3 L572.1 574.5 L569.7 576.4 L567.4 578 L564.9 579.3 L562.5 580.4 L560.2 581.1 L557.8 581.5 L555.6 581.6 L553.5 581.4 L551.5 580.9 L549.7 580 L548 578.9 L546.6 577.4 L545.3 575.7 L544.3 573.7 L543.5 571.5 L543 569.1 L542.7 566.5 L542.6 563.7 L542.8 560.8 L543.3 557.8 L544 554.8 L544.9 551.7 L546.1 548.7 L547.5 545.6 L549.1 542.7 L550.8 539.9 L552.8 537.1 L554.8 534.6 L557 532.3 L559.3 530.1 L561.7 528.2 L564 526.6 L566.5 525.3 L568.9 524.2 L571.2 523.5 L573.6 523.1 L575.8 523 L577.9 523.2 L579.9 523.7 L581.7 524.6 L583.4 525.7 L584.8 527.2 L586.1 528.9 L587.1 530.9 L587.9 533.1 L588.4 535.5 L588.7 538.1 L588.8 540.9 L588.6 543.8 L588.1 546.8 L587.4 549.8 L586.5 552.9 L585.3 555.9 L583.9 559 L582.3 561.9Z" stroke-width="0.84"/>
<path d="M576.9 558.8 L575.7 560.7 L574.4 562.5 L573 564.2 L571.5 565.8 L570 567.2 L568.4 568.5 L566.8 569.6 L565.2 570.5 L563.6 571.2 L562 571.6 L560.4 571.9 L558.9 572 L557.5 571.9 L556.2 571.5 L555 570.9 L553.8 570.1 L552.9 569.2 L552 568 L551.3 566.7 L550.8 565.2 L550.4 563.6 L550.2 561.8 L550.2 560 L550.3 558 L550.7 556 L551.1 554 L551.8 551.9 L552.5 549.9 L553.5 547.8 L554.5 545.8 L555.7 543.9 L557 542.1 L558.4 540.4 L559.9 538.8 L561.4 537.4 L563 536.1 L564.6 535 L566.2 534.1 L567.8 533.4 L569.4 532.9 L571 532.7 L572.5 532.6 L573.9 532.7 L575.2 533.1 L576.5 533.7 L577.6 534.5 L578.5 535.4 L579.4 536.6 L580.1 537.9 L580.6 539.4 L581 541 L581.2 542.8 L581.2 544.6 L581.1 546.6 L580.8 548.6 L580.3 550.6 L579.6 552.7 L578.9 554.7 L577.9 556.8 L576.9 558.8Z"/>
<path d="M570.4 530.2 L571.5 531 L572.5 531.9 L573.3 533.1 L574 534.4 L574.5 535.9 L574.9 537.5 L575.1 539.3 L575.1 541.1 L575 543.1 L574.7 545.1 L574.2 547.1 L573.6 549.2 L572.8 551.2 L571.9 553.3 L570.8 555.2 L569.6 557.2 L568.3 559 L566.9 560.7 L565.5 562.3 L563.9 563.7 L562.4 565 L560.7 566.1 L559.1 567 L557.5 567.7 L555.9 568.1 L554.4 568.4 L552.9 568.5 L551.4 568.4 L550.1 568 L548.9 567.4" stroke-width="1.08"/>
<path d="M574.9 536.4 L575.4 537.7 L575.9 539.1 L576.2 540.6 L576.3 542.2 L576.3 543.9 L576.1 545.7 L575.8 547.5 L575.3 549.4 L574.7 551.3 L573.9 553.1 L573 555 L572 556.7 L570.9 558.4 L569.7 560.1 L568.4 561.6 L567.1 563 L565.7 564.2 L564.2 565.3 L562.8 566.2 L561.3 567 L559.8 567.6 L558.4 568 L557 568.1 L555.7 568.1 L554.4 567.9" stroke-width="0.84"/>
<path d="M590 590.1 L588.9 589.3 L588 588.4 L587.2 587.2 L586.5 585.9 L586 584.5 L585.6 582.9 L585.4 581.2 L585.4 579.4 L585.5 577.5 L585.8 575.5 L586.3 573.5 L586.9 571.5 L587.7 569.5 L588.6 567.5 L589.6 565.6 L590.8 563.7 L592 561.9 L593.4 560.3 L594.8 558.7 L596.3 557.3 L597.9 556.1 L599.4 555 L601 554.1 L602.6 553.5 L604.2 553 L605.7 552.7 L607.1 552.6 L608.5 552.8 L609.8 553.1 L611 553.7 L617.9 557.7 L619 558.4 L620 559.4 L620.8 560.5 L621.5 561.8 L622 563.3 L622.4 564.9 L622.5 566.6 L622.6 568.4 L622.4 570.3 L622.1 572.2 L621.7 574.2 L621.1 576.2 L620.3 578.3 L619.4 580.2 L618.4 582.2 L617.2 584 L615.9 585.8 L614.6 587.5 L613.1 589 L611.6 590.4 L610.1 591.7 L608.5 592.7 L606.9 593.6 L605.4 594.3 L603.8 594.8 L602.3 595.1 L600.8 595.1 L599.4 595 L598.1 594.6 L596.9 594.1Z" fill="#fff"/>
<path d="M618.4 582.2 L617.2 584 L615.9 585.8 L614.6 587.5 L613.1 589 L611.6 590.4 L610.1 591.7 L608.5 592.7 L606.9 593.6 L605.4 594.3 L603.8 594.8 L602.3 595.1 L600.8 595.1 L599.4 595 L598.1 594.6 L596.9 594.1 L595.9 593.3 L594.9 592.4 L594.1 591.2 L593.4 589.9 L592.9 588.5 L592.5 586.9 L592.3 585.2 L592.3 583.4 L592.4 581.5 L592.7 579.5 L593.2 577.5 L593.8 575.5 L594.6 573.5 L595.5 571.5 L596.5 569.6 L597.7 567.7 L599 565.9 L600.3 564.3 L601.7 562.7 L603.2 561.3 L604.8 560.1 L606.4 559 L607.9 558.1 L609.5 557.5 L611.1 557 L612.6 556.7 L614.1 556.6 L615.4 556.8 L616.7 557.1 L617.9 557.7 L619 558.4 L620 559.4 L620.8 560.5 L621.5 561.8 L622 563.3 L622.4 564.9 L622.5 566.6 L622.6 568.4 L622.4 570.3 L622.1 572.2 L621.7 574.2 L621.1 576.2 L620.3 578.3 L619.4 580.2 L618.4 582.2Z"/>
<path d="M598.2 591.9 L597.2 591.2 L596.4 590.4 L595.7 589.4 L595.1 588.3 L594.6 587 L594.3 585.6 L594.1 584.1 L594.1 582.5 L594.2 580.8 L594.5 579.1 L594.9 577.3 L595.4 575.5 L596.1 573.8 L596.9 572 L597.8 570.3 L598.9 568.7 L600 567.1 L601.2 565.6 L602.4 564.3 L603.7 563.1 L605.1 562 L606.5 561 L607.9 560.3 L609.3 559.7 L610.6 559.2 L612 559 L613.3 558.9 L614.5 559 L615.6 559.4 L616.7 559.9 L644.8 576.1 L645.8 576.8 L646.6 577.6 L647.4 578.6 L648 579.7 L648.4 581 L648.7 582.4 L648.9 583.9 L648.9 585.5 L648.8 587.2 L648.5 588.9 L648.1 590.7 L647.6 592.5 L646.9 594.2 L646.1 596 L645.2 597.7 L644.2 599.3 L643.1 600.9 L641.9 602.4 L640.6 603.7 L639.3 604.9 L637.9 606 L636.5 607 L635.1 607.7 L633.8 608.3 L632.4 608.8 L631.1 609 L629.8 609.1 L628.5 609 L627.4 608.6 L626.3 608.1Z" fill="#fff"/>
<path d="M645.2 597.7 L644.2 599.3 L643.1 600.9 L641.9 602.4 L640.6 603.7 L639.3 604.9 L637.9 606 L636.5 607 L635.1 607.7 L633.8 608.3 L632.4 608.8 L631.1 609 L629.8 609.1 L628.5 609 L627.4 608.6 L626.3 608.1 L625.4 607.5 L624.5 606.6 L623.8 605.6 L623.2 604.5 L622.8 603.2 L622.5 601.8 L622.3 600.3 L622.3 598.7 L622.4 597.1 L622.6 595.3 L623 593.6 L623.6 591.8 L624.3 590 L625.1 588.3 L626 586.6 L627 584.9 L628.1 583.4 L629.3 581.9 L630.6 580.5 L631.9 579.3 L633.3 578.2 L634.6 577.3 L636 576.5 L637.4 575.9 L638.8 575.5 L640.1 575.2 L641.4 575.2 L642.6 575.3 L643.8 575.6 L644.8 576.1 L645.8 576.8 L646.6 577.6 L647.4 578.6 L648 579.7 L648.4 581 L648.7 582.4 L648.9 583.9 L648.9 585.5 L648.8 587.2 L648.5 588.9 L648.1 590.7 L647.6 592.5 L646.9 594.2 L646.1 596 L645.2 597.7Z"/>
<path d="M643.4 596.6 L642.6 598 L641.7 599.2 L640.7 600.4 L639.7 601.5 L638.6 602.5 L637.5 603.4 L636.4 604.2 L635.2 604.8 L634.1 605.3 L633 605.6 L631.9 605.8 L630.9 605.9 L629.9 605.8 L628.9 605.5 L628.1 605.1 L627.3 604.6 L626.6 603.9 L626 603.1 L625.6 602.2 L625.2 601.1 L624.9 600 L624.8 598.8 L624.8 597.5 L624.9 596.1 L625.1 594.7 L625.4 593.3 L625.9 591.9 L626.4 590.4 L627.1 589 L627.8 587.6 L628.6 586.3 L629.5 585 L630.5 583.8 L631.5 582.7 L632.6 581.7 L633.7 580.8 L634.8 580.1 L635.9 579.5 L637.1 579 L638.2 578.6 L639.3 578.4 L640.3 578.4 L641.3 578.5 L642.2 578.7 L643.1 579.1 L643.9 579.7 L644.5 580.4 L645.1 581.2 L645.6 582.1 L646 583.1 L646.2 584.3 L646.4 585.5 L646.4 586.8 L646.3 588.1 L646.1 589.5 L645.8 591 L645.3 592.4 L644.8 593.8 L644.1 595.2 L643.4 596.6Z" stroke-width="1.08"/>
<path d="M417.3 606.4 L414.9 606.3 L412.6 605.8 L410.5 604.9 L408.5 603.7 L406.8 602.2 L405.3 600.4 L404.1 598.3 L403.1 595.9 L402.4 593.2 L402 590.3 L401.8 587.3 L402 584.1 L402.4 580.8 L403.1 577.4 L404.1 573.9 L405.3 570.5 L406.8 567 L408.5 563.7 L410.4 560.5 L412.5 557.4 L414.8 554.4 L417.2 551.7 L419.7 549.2 L422.4 547 L425 545.1 L427.8 543.5 L430.5 542.2 L433.2 541.2 L435.8 540.6 L438.3 540.4 L440.7 540.5 L443 541 L445.1 541.9 L447.1 543.1 L448.8 544.6 L450.3 546.4 L451.5 548.5 L452.5 550.9 L453.2 553.6 L453.6 556.5 L453.8 559.5 L453.6 562.7 L453.2 566 L452.5 569.4 L451.5 572.9 L450.3 576.3 L448.8 579.8 L447.1 583.1 L445.2 586.3 L443.1 589.4 L440.8 592.4 L438.4 595.1 L435.9 597.6 L433.2 599.8 L430.6 601.7 L427.8 603.3 L425.1 604.6 L422.4 605.6"/>
<path d="M418.3 603.2 L416.1 603.1 L414.1 602.6 L412.1 601.9 L410.4 600.8 L408.9 599.4 L407.5 597.8 L406.4 595.8 L405.5 593.7 L404.9 591.3 L404.5 588.7 L404.4 585.9 L404.5 583 L404.9 580 L405.5 577 L406.4 573.9 L407.5 570.7 L408.8 567.7 L410.4 564.6 L412.1 561.7 L414 558.9 L416 556.3 L418.2 553.8 L420.5 551.6 L422.9 549.6 L425.3 547.8 L427.8 546.4 L430.2 545.2 L432.6 544.4 L435 543.8 L437.3 543.6 L439.5 543.7 L441.5 544.2 L443.5 544.9 L445.2 546 L446.7 547.4 L448.1 549 L449.2 551 L450.1 553.1 L450.7 555.5 L451.1 558.1 L451.2 560.9 L451.1 563.8 L450.7 566.8 L450.1 569.8 L449.2 572.9 L448.1 576.1 L446.8 579.1 L445.2 582.2 L443.5 585.1 L441.6 587.9 L439.6 590.5 L437.4 593 L435.1 595.2 L432.7 597.2 L430.3 599 L427.8 600.4 L425.4 601.6 L423 602.4"/>
<path d="M407.6 603.3 L405.8 602 L404.1 600.4 L402.7 598.5 L401.6 596.2 L400.7 593.8 L400.1 591 L399.7 588.1 L399.7 585 L399.9 581.7 L400.4 578.4 L401.2 575 L402.3 571.5 L403.6 568.1 L405.1 564.7 L406.9 561.4 L408.9 558.2 L411.1 555.1 L413.4 552.2 L415.9 549.6 L418.4 547.2 L421.1 545.1 L423.8 543.3 L426.5 541.8 L429.2 540.6 L431.9 539.8 L434.5 539.3 L437 539.2 L439.4 539.4 L441.6 540 L443.6 541"/>
<path d="M422.4 605.6 L423 602.4"/>
<path d="M417.3 606.4 L418.3 603.2"/>
<path d="M167.9 474.6 L167.5 474.3 L167.2 474 L166.9 473.6 L166.7 473.2 L166.6 472.7 L166.4 472.2 L166.4 471.6 L166.4 471 L166.4 470.4 L166.5 469.7 L166.7 469 L166.9 468.4 L167.1 467.7 L167.4 467 L167.8 466.4 L168.2 465.8 L168.6 465.2 L169 464.6 L169.5 464.1 L170 463.7 L170.5 463.2 L171 462.9 L171.6 462.6 L172.1 462.4 L172.6 462.2 L173.1 462.1 L173.6 462.1 L174.1 462.1 L174.5 462.3 L174.9 462.4 L180.1 465.4 L180.5 465.7 L180.8 466 L181.1 466.4 L181.3 466.8 L181.4 467.3 L181.6 467.8 L181.6 468.4 L181.6 469 L181.6 469.6 L181.5 470.3 L181.3 471 L181.1 471.6 L180.9 472.3 L180.6 473 L180.2 473.6 L179.8 474.2 L179.4 474.8 L179 475.4 L178.5 475.9 L178 476.3 L177.5 476.8 L177 477.1 L176.4 477.4 L175.9 477.6 L175.4 477.8 L174.9 477.9 L174.4 477.9 L173.9 477.9 L173.5 477.7 L173.1 477.6Z" fill="#fff"/>
<path d="M180.2 473.6 L179.8 474.2 L179.4 474.8 L179 475.4 L178.5 475.9 L178 476.3 L177.5 476.8 L177 477.1 L176.4 477.4 L175.9 477.6 L175.4 477.8 L174.9 477.9 L174.4 477.9 L173.9 477.9 L173.5 477.7 L173.1 477.6 L172.7 477.3 L172.4 477 L172.1 476.6 L171.9 476.2 L171.7 475.7 L171.6 475.2 L171.6 474.6 L171.6 474 L171.6 473.4 L171.7 472.7 L171.9 472 L172.1 471.4 L172.3 470.7 L172.6 470 L173 469.4 L173.3 468.8 L173.8 468.2 L174.2 467.6 L174.7 467.1 L175.2 466.7 L175.7 466.2 L176.2 465.9 L176.8 465.6 L177.3 465.4 L177.8 465.2 L178.3 465.1 L178.8 465.1 L179.3 465.1 L179.7 465.3 L180.1 465.4 L180.5 465.7 L180.8 466 L181.1 466.4 L181.3 466.8 L181.4 467.3 L181.6 467.8 L181.6 468.4 L181.6 469 L181.6 469.6 L181.5 470.3 L181.3 471 L181.1 471.6 L180.9 472.3 L180.6 473 L180.2 473.6Z"/>
<path d="M174.8 474.5 L174.7 474.4 L174.5 474.2 L174.4 474.1 L174.3 473.8 L174.2 473.6 L174.1 473.3 L174.1 473 L174.1 472.7 L174.1 472.4 L174.1 472.1 L174.2 471.8 L174.3 471.4 L174.5 471.1 L174.6 470.8 L174.8 470.4 L175 470.1 L175.2 469.8 L175.4 469.6 L175.6 469.3 L175.9 469.1 L176.2 468.9 L176.4 468.7 L176.7 468.5 L176.9 468.4 L177.2 468.4 L177.5 468.3 L177.7 468.3 L177.9 468.3 L178.1 468.4 L178.3 468.5 L198.3 480 L198.4 480.1 L198.6 480.3 L198.7 480.4 L198.9 480.7 L198.9 480.9 L199 481.2 L199 481.5 L199 481.8 L199 482.1 L199 482.4 L198.9 482.7 L198.8 483.1 L198.7 483.4 L198.5 483.7 L198.3 484.1 L198.1 484.4 L197.9 484.7 L197.7 484.9 L197.5 485.2 L197.2 485.4 L197 485.6 L196.7 485.8 L196.4 486 L196.2 486.1 L195.9 486.1 L195.7 486.2 L195.4 486.2 L195.2 486.2 L195 486.1 L194.8 486Z" fill="#fff"/>
<path d="M198.3 484.1 L198.1 484.4 L197.9 484.7 L197.7 484.9 L197.5 485.2 L197.2 485.4 L197 485.6 L196.7 485.8 L196.4 486 L196.2 486.1 L195.9 486.1 L195.7 486.2 L195.4 486.2 L195.2 486.2 L195 486.1 L194.8 486 L194.6 485.9 L194.4 485.7 L194.3 485.6 L194.2 485.3 L194.1 485.1 L194 484.8 L194 484.5 L194 484.2 L194 483.9 L194.1 483.6 L194.1 483.3 L194.2 482.9 L194.4 482.6 L194.5 482.3 L194.7 481.9 L194.9 481.6 L195.1 481.3 L195.3 481.1 L195.6 480.8 L195.8 480.6 L196.1 480.4 L196.3 480.2 L196.6 480 L196.9 479.9 L197.1 479.9 L197.4 479.8 L197.6 479.8 L197.9 479.8 L198.1 479.9 L198.3 480 L198.4 480.1 L198.6 480.3 L198.7 480.4 L198.9 480.7 L198.9 480.9 L199 481.2 L199 481.5 L199 481.8 L199 482.1 L199 482.4 L198.9 482.7 L198.8 483.1 L198.7 483.4 L198.5 483.7 L198.3 484.1Z"/>
<path d="M177.4 476 L177.3 475.9 L177.1 475.7 L177 475.6 L176.9 475.3 L176.8 475.1 L176.7 474.8 L176.7 474.5 L176.7 474.2 L176.7 473.9 L176.7 473.6 L176.8 473.3 L176.9 472.9 L177.1 472.6 L177.2 472.3 L177.4 471.9 L177.6 471.6 L177.8 471.3 L178 471.1 L178.2 470.8 L178.5 470.6 L178.8 470.4 L179 470.2 L179.3 470 L179.5 469.9 L179.8 469.9 L180.1 469.8 L180.3 469.8 L180.5 469.8 L180.7 469.9 L180.9 470" stroke-width="0.96"/>
<path d="M180 477.5 L179.9 477.4 L179.7 477.2 L179.6 477.1 L179.5 476.8 L179.4 476.6 L179.3 476.3 L179.3 476 L179.3 475.7 L179.3 475.4 L179.3 475.1 L179.4 474.8 L179.5 474.4 L179.7 474.1 L179.8 473.8 L180 473.4 L180.2 473.1 L180.4 472.8 L180.6 472.6 L180.8 472.3 L181.1 472.1 L181.4 471.9 L181.6 471.7 L181.9 471.5 L182.1 471.4 L182.4 471.4 L182.7 471.3 L182.9 471.3 L183.1 471.3 L183.3 471.4 L183.5 471.5" stroke-width="0.96"/>
<path d="M182.6 479 L182.5 478.9 L182.3 478.7 L182.2 478.6 L182.1 478.3 L182 478.1 L181.9 477.8 L181.9 477.5 L181.9 477.2 L181.9 476.9 L181.9 476.6 L182 476.3 L182.1 475.9 L182.2 475.6 L182.4 475.3 L182.6 474.9 L182.8 474.6 L183 474.3 L183.2 474.1 L183.4 473.8 L183.7 473.6 L183.9 473.4 L184.2 473.2 L184.5 473 L184.7 472.9 L185 472.9 L185.3 472.8 L185.5 472.8 L185.7 472.8 L185.9 472.9 L186.1 473" stroke-width="0.96"/>
<path d="M185.2 480.5 L185.1 480.4 L184.9 480.2 L184.8 480.1 L184.7 479.8 L184.6 479.6 L184.5 479.3 L184.5 479 L184.5 478.7 L184.5 478.4 L184.5 478.1 L184.6 477.8 L184.7 477.4 L184.8 477.1 L185 476.8 L185.2 476.4 L185.4 476.1 L185.6 475.8 L185.8 475.6 L186 475.3 L186.3 475.1 L186.5 474.9 L186.8 474.7 L187.1 474.5 L187.3 474.4 L187.6 474.4 L187.8 474.3 L188.1 474.3 L188.3 474.3 L188.5 474.4 L188.7 474.5" stroke-width="0.96"/>
<path d="M187.8 482 L187.7 481.9 L187.5 481.7 L187.4 481.6 L187.3 481.3 L187.2 481.1 L187.1 480.8 L187.1 480.5 L187.1 480.2 L187.1 479.9 L187.1 479.6 L187.2 479.3 L187.3 478.9 L187.4 478.6 L187.6 478.3 L187.8 477.9 L188 477.6 L188.2 477.3 L188.4 477.1 L188.6 476.8 L188.9 476.6 L189.1 476.4 L189.4 476.2 L189.7 476 L189.9 475.9 L190.2 475.9 L190.4 475.8 L190.7 475.8 L190.9 475.8 L191.1 475.9 L191.3 476" stroke-width="0.96"/>
<path d="M190.4 483.5 L190.3 483.4 L190.1 483.2 L190 483.1 L189.8 482.8 L189.8 482.6 L189.7 482.3 L189.7 482 L189.7 481.7 L189.7 481.4 L189.7 481.1 L189.8 480.8 L189.9 480.4 L190 480.1 L190.2 479.8 L190.4 479.4 L190.6 479.1 L190.8 478.8 L191 478.6 L191.2 478.3 L191.5 478.1 L191.7 477.9 L192 477.7 L192.3 477.5 L192.5 477.4 L192.8 477.4 L193 477.3 L193.3 477.3 L193.5 477.3 L193.7 477.4 L193.9 477.5" stroke-width="0.96"/>
<path d="M193 485 L192.9 484.9 L192.7 484.7 L192.6 484.6 L192.4 484.3 L192.4 484.1 L192.3 483.8 L192.3 483.5 L192.3 483.2 L192.3 482.9 L192.3 482.6 L192.4 482.3 L192.5 481.9 L192.6 481.6 L192.8 481.3 L193 480.9 L193.2 480.6 L193.4 480.3 L193.6 480.1 L193.8 479.8 L194.1 479.6 L194.3 479.4 L194.6 479.2 L194.9 479 L195.1 478.9 L195.4 478.9 L195.6 478.8 L195.9 478.8 L196.1 478.8 L196.3 478.9 L196.5 479" stroke-width="0.96"/>
<path d="M197.6 480.6 L201.6 476.1 L205.6 475.1 L222.6 475.1 L235.6 475.6 L238 477 L246 482 L250 488 L258.5 505.5 L259 512 L256 517 L226.5 550 L222 553.5 L216 553 L209 550.5 L206.6 549.1 L202.1 544.6 L199.1 533.6 L197.6 518.6" fill="#fff" stroke-width="0"/>
<path d="M224.1 548.6 L219.6 552.1 L213.6 551.6 L206.6 549.1 L202.1 544.6 L199.1 533.6 L197.6 518.6 L197.6 503.6 L198.1 490.6 L197.6 480.6 L201.6 476.1 L205.6 475.1 L211.6 478.6 L222.6 475.1 L235.6 475.6" stroke-width="1.08"/>
<path d="M200 482 L204 477.5 L208 476.5 L214 480 L225 476.5 L238 477 L246 482 L250 488 L251 497 L255 502 L258.5 505.5 L259 512 L256 517 L251 519 L244 527 L236 537 L229 543 L226.5 550 L222 553.5 L216 553 L209 550.5 L204.5 546 L201.5 535 L200 520 L200 505 L200.5 492Z" fill="#fff"/>
<path d="M240.5 520.4 L239 522.9 L237.3 525.3 L235.5 527.5 L233.6 529.5 L231.6 531.4 L229.5 533 L227.4 534.5 L225.3 535.6 L223.2 536.6 L221.2 537.2 L219.1 537.6 L217.2 537.7 L215.3 537.5 L213.6 537 L212 536.2 L210.6 535.2 L209.3 534 L208.2 532.5 L207.3 530.7 L206.6 528.8 L206.1 526.7 L205.9 524.4 L205.8 522 L206 519.5 L206.4 516.8 L207 514.2 L207.8 511.5 L208.9 508.8 L210.1 506.2 L211.5 503.6 L213 501.1 L214.7 498.7 L216.5 496.5 L218.4 494.5 L220.4 492.6 L222.5 491 L224.6 489.5 L226.7 488.4 L228.8 487.4 L230.8 486.8 L232.9 486.4 L234.8 486.3 L236.7 486.5 L238.4 487 L240 487.8 L241.4 488.8 L242.7 490 L243.8 491.5 L244.7 493.3 L245.4 495.2 L245.9 497.3 L246.1 499.6 L246.2 502 L246 504.5 L245.6 507.2 L245 509.8 L244.2 512.5 L243.1 515.2 L241.9 517.8 L240.5 520.4Z"/>
<path d="M240.1 488.3 L241.3 489.8 L242.3 491.5 L243.1 493.4 L243.6 495.5 L243.9 497.7 L244 500.2 L243.9 502.7 L243.5 505.3 L243 508 L242.2 510.7 L241.2 513.5 L240 516.2 L238.6 518.8 L237.1 521.3 L235.4 523.7 L233.5 526 L231.6 528.1 L229.6 530 L227.5 531.7 L225.4 533.2 L223.2 534.4 L221.1 535.3 L219 536" stroke-width="0.84"/>
<path d="M207.9 488.7 L207.8 488.9 L207.7 489 L207.5 489.2 L207.4 489.4 L207.2 489.5 L207.1 489.7 L206.9 489.8 L206.7 489.9 L206.6 489.9 L206.4 490 L206.3 490 L206.1 490 L206 490 L205.8 490 L205.7 489.9 L205.6 489.8 L205.5 489.7 L205.4 489.6 L205.3 489.5 L205.3 489.3 L205.2 489.2 L205.2 489 L205.2 488.8 L205.2 488.6 L205.3 488.4 L205.3 488.2 L205.4 488 L205.5 487.8 L205.5 487.5 L205.7 487.3 L205.8 487.1 L205.9 487 L206.1 486.8 L206.2 486.6 L206.4 486.5 L206.5 486.3 L206.7 486.2 L206.9 486.1 L207 486.1 L207.2 486 L207.3 486 L207.5 486 L207.6 486 L207.8 486 L207.9 486.1 L208 486.2 L208.1 486.3 L208.2 486.4 L208.3 486.5 L208.3 486.7 L208.4 486.8 L208.4 487 L208.4 487.2 L208.4 487.4 L208.3 487.6 L208.3 487.8 L208.2 488 L208.1 488.2 L208.1 488.5 L207.9 488.7Z" stroke-width="1.08"/>
<path d="M254.3 511.5 L254.2 511.7 L254.1 511.8 L253.9 512 L253.8 512.2 L253.6 512.3 L253.5 512.5 L253.3 512.6 L253.1 512.7 L253 512.7 L252.8 512.8 L252.7 512.8 L252.5 512.8 L252.4 512.8 L252.2 512.8 L252.1 512.7 L252 512.6 L251.9 512.5 L251.8 512.4 L251.7 512.3 L251.7 512.1 L251.6 512 L251.6 511.8 L251.6 511.6 L251.6 511.4 L251.7 511.2 L251.7 511 L251.8 510.8 L251.9 510.6 L251.9 510.3 L252.1 510.1 L252.2 509.9 L252.3 509.8 L252.5 509.6 L252.6 509.4 L252.8 509.3 L252.9 509.1 L253.1 509 L253.3 508.9 L253.4 508.9 L253.6 508.8 L253.7 508.8 L253.9 508.8 L254 508.8 L254.2 508.8 L254.3 508.9 L254.4 509 L254.5 509.1 L254.6 509.2 L254.7 509.3 L254.7 509.5 L254.8 509.6 L254.8 509.8 L254.8 510 L254.8 510.2 L254.7 510.4 L254.7 510.6 L254.6 510.8 L254.5 511 L254.5 511.3 L254.3 511.5Z" stroke-width="1.08"/>
<path d="M223.6 548.4 L223.5 548.6 L223.4 548.7 L223.2 548.9 L223.1 549.1 L222.9 549.2 L222.8 549.4 L222.6 549.5 L222.4 549.6 L222.3 549.6 L222.1 549.7 L222 549.7 L221.8 549.7 L221.7 549.7 L221.5 549.7 L221.4 549.6 L221.3 549.5 L221.2 549.4 L221.1 549.3 L221 549.2 L221 549 L220.9 548.9 L220.9 548.7 L220.9 548.5 L220.9 548.3 L221 548.1 L221 547.9 L221.1 547.7 L221.2 547.5 L221.2 547.2 L221.4 547 L221.5 546.8 L221.6 546.7 L221.8 546.5 L221.9 546.3 L222.1 546.2 L222.2 546 L222.4 545.9 L222.6 545.8 L222.7 545.8 L222.9 545.7 L223 545.7 L223.2 545.7 L223.3 545.7 L223.5 545.7 L223.6 545.8 L223.7 545.9 L223.8 546 L223.9 546.1 L224 546.2 L224 546.4 L224.1 546.5 L224.1 546.7 L224.1 546.9 L224.1 547.1 L224 547.3 L224 547.5 L223.9 547.7 L223.8 547.9 L223.8 548.2 L223.6 548.4Z" stroke-width="1.08"/>
<path d="M196.6 481L285.5 533.2" stroke-width="1.08"/>
<path d="M35.1 598 L33.5 596.9 L32.1 595.5 L30.9 593.9 L29.9 591.9 L29.1 589.8 L28.6 587.5 L28.3 584.9 L28.3 582.3 L28.5 579.5 L28.9 576.6 L29.6 573.6 L30.5 570.7 L31.6 567.7 L33 564.8 L34.5 561.9 L36.2 559.1 L38.1 556.5 L40.1 554.1 L42.2 551.8 L44.4 549.7 L46.7 547.9 L49 546.3 L51.3 545 L53.7 544 L56 543.3 L58.2 542.9 L60.4 542.8 L62.4 543 L64.3 543.5 L66.1 544.4 L79.1 551.9 L80.7 553 L82.1 554.4 L83.3 556 L84.3 558 L85.1 560.1 L85.6 562.4 L85.9 565 L85.9 567.6 L85.7 570.4 L85.3 573.3 L84.6 576.3 L83.7 579.2 L82.6 582.2 L81.2 585.1 L79.7 588 L78 590.8 L76.1 593.4 L74.1 595.8 L72 598.1 L69.8 600.2 L67.5 602 L65.2 603.6 L62.9 604.9 L60.5 605.9 L58.2 606.6 L56 607 L53.8 607.1 L51.8 606.9 L49.9 606.4 L48.1 605.5Z" fill="#fff"/>
<path d="M79.7 588 L78 590.8 L76.1 593.4 L74.1 595.8 L72 598.1 L69.8 600.2 L67.5 602 L65.2 603.6 L62.9 604.9 L60.5 605.9 L58.2 606.6 L56 607 L53.8 607.1 L51.8 606.9 L49.9 606.4 L48.1 605.5 L46.5 604.4 L45.1 603 L43.9 601.4 L42.9 599.4 L42.1 597.3 L41.6 595 L41.3 592.4 L41.3 589.8 L41.5 587 L41.9 584.1 L42.6 581.1 L43.5 578.2 L44.6 575.2 L46 572.3 L47.5 569.4 L49.2 566.6 L51.1 564 L53.1 561.6 L55.2 559.3 L57.4 557.2 L59.7 555.4 L62 553.8 L64.3 552.5 L66.7 551.5 L69 550.8 L71.2 550.4 L73.4 550.3 L75.4 550.5 L77.3 551 L79.1 551.9 L80.7 553 L82.1 554.4 L83.3 556 L84.3 558 L85.1 560.1 L85.6 562.4 L85.9 565 L85.9 567.6 L85.7 570.4 L85.3 573.3 L84.6 576.3 L83.7 579.2 L82.6 582.2 L81.2 585.1 L79.7 588Z"/>
<path d="M78.1 587.1 L76.6 589.6 L74.9 592 L73.1 594.2 L71.2 596.2 L69.2 598.1 L67.1 599.7 L65 601.2 L62.9 602.3 L60.8 603.3 L58.8 603.9 L56.7 604.3 L54.8 604.4 L52.9 604.2 L51.2 603.7 L49.6 602.9 L48.2 601.9 L46.9 600.7 L45.8 599.2 L44.9 597.4 L44.2 595.5 L43.7 593.4 L43.5 591.1 L43.4 588.7 L43.6 586.2 L44 583.5 L44.6 580.9 L45.4 578.2 L46.5 575.5 L47.7 572.9 L49.1 570.3 L50.6 567.8 L52.3 565.4 L54.1 563.2 L56 561.2 L58 559.3 L60.1 557.7 L62.2 556.2 L64.3 555.1 L66.4 554.1 L68.4 553.5 L70.5 553.1 L72.4 553 L74.3 553.2 L76 553.7 L77.6 554.5 L79 555.5 L80.3 556.7 L81.4 558.2 L82.3 560 L83 561.9 L83.5 564 L83.7 566.3 L83.8 568.7 L83.6 571.2 L83.2 573.9 L82.6 576.5 L81.8 579.2 L80.7 581.9 L79.5 584.5 L78.1 587.1Z" stroke-width="0.96"/>
<path d="M76.1 585.9 L74.7 588 L73.3 590.1 L71.8 592 L70.1 593.7 L68.4 595.3 L66.6 596.7 L64.8 598 L63 599 L61.2 599.7 L59.4 600.3 L57.7 600.6 L56 600.7 L54.5 600.5 L53 600.1 L51.6 599.5 L50.4 598.6 L49.3 597.5 L48.3 596.2 L47.6 594.8 L47 593.1 L46.6 591.3 L46.3 589.3 L46.3 587.3 L46.5 585.1 L46.8 582.9 L47.3 580.6 L48 578.3 L48.9 576 L49.9 573.7 L51.1 571.5 L52.5 569.4 L53.9 567.3 L55.4 565.4 L57.1 563.7 L58.8 562.1 L60.6 560.7 L62.4 559.4 L64.2 558.4 L66 557.7 L67.8 557.1 L69.5 556.8 L71.2 556.7 L72.7 556.9 L74.2 557.3 L75.6 557.9 L76.8 558.8 L77.9 559.9 L78.9 561.2 L79.6 562.6 L80.2 564.3 L80.6 566.1 L80.9 568.1 L80.9 570.1 L80.7 572.3 L80.4 574.5 L79.9 576.8 L79.2 579.1 L78.3 581.4 L77.3 583.7 L76.1 585.9Z"/>
<path d="M72.4 583.8 L71.5 585.3 L70.5 586.7 L69.4 588.1 L68.2 589.3 L67 590.5 L65.8 591.5 L64.5 592.3 L63.2 593.1 L61.9 593.6 L60.7 594 L59.4 594.2 L58.2 594.3 L57.1 594.2 L56.1 593.9 L55.1 593.4 L54.2 592.8 L53.4 592 L52.8 591.1 L52.2 590.1 L51.8 588.9 L51.5 587.6 L51.4 586.2 L51.3 584.8 L51.5 583.2 L51.7 581.6 L52.1 580 L52.6 578.4 L53.2 576.8 L53.9 575.2 L54.8 573.6 L55.7 572.1 L56.7 570.7 L57.8 569.3 L59 568.1 L60.2 566.9 L61.4 565.9 L62.7 565.1 L64 564.3 L65.3 563.8 L66.5 563.4 L67.8 563.2 L69 563.1 L70.1 563.2 L71.1 563.5 L72.1 564 L73 564.6 L73.8 565.4 L74.4 566.3 L75 567.3 L75.4 568.5 L75.7 569.8 L75.8 571.2 L75.9 572.6 L75.7 574.2 L75.5 575.8 L75.1 577.4 L74.6 579 L74 580.6 L73.3 582.2 L72.4 583.8Z"/>
<path d="M70.4 582.6 L69.6 583.8 L68.9 584.9 L68 585.9 L67.1 586.8 L66.2 587.7 L65.2 588.5 L64.3 589.1 L63.3 589.7 L62.3 590.1 L61.3 590.4 L60.4 590.6 L59.5 590.6 L58.6 590.5 L57.8 590.3 L57.1 590 L56.4 589.5 L55.8 588.9 L55.3 588.2 L54.9 587.4 L54.6 586.5 L54.4 585.5 L54.2 584.5 L54.2 583.3 L54.3 582.2 L54.5 581 L54.8 579.7 L55.2 578.5 L55.6 577.2 L56.2 576 L56.8 574.8 L57.6 573.6 L58.3 572.5 L59.2 571.5 L60.1 570.6 L61 569.7 L62 568.9 L62.9 568.3 L63.9 567.7 L64.9 567.3 L65.9 567 L66.8 566.8 L67.7 566.8 L68.6 566.9 L69.4 567.1 L70.1 567.4 L70.8 567.9 L71.4 568.5 L71.9 569.2 L72.3 570 L72.6 570.9 L72.8 571.9 L73 572.9 L73 574.1 L72.9 575.2 L72.7 576.4 L72.4 577.7 L72 578.9 L71.6 580.2 L71 581.4 L70.4 582.6Z"/>
<path d="M81.4 578.5 L13.3 537" stroke-dasharray="130 2.5 2 2.5" stroke-dashoffset="30"/>
<path d="M104.2 637 L102.3 637.4 L100.4 637.6 L98.5 637.7 L96.8 637.5 L95.1 637.2 L93.4 636.7 L91.9 636 L90.4 635.2 L89.1 634.2 L87.8 633 L86.7 631.7 L85.7 630.2 L83.8 629.7 L81.3 629.5 L79.7 628.3 L78.7 626.3 L78.4 623.8 L78.9 620.9 L80.1 617.6 L82.4 614.1 L82.6 611.7 L82.9 609.2 L83.4 606.7 L84 604.1 L84.8 601.6 L85.7 599 L86.7 596.5 L86.8 593.7 L86.7 590.5 L87.5 587.4 L88.9 584.5 L90.8 581.9 L93 579.8 L95.6 578.3 L98.5 577.9 L100.3 575.9 L102.2 574.1 L104.1 572.5 L106.1 570.9 L108.1 569.5 L110.1 568.3 L112.1 567.2 L114.1 566.3 L116.1 565.6 L118.7 561.7 L121.2 559.9 L123.5 559 L125.6 558.9 L127.4 559.8 L128.7 561.5 L128.9 565.3 L130.4 566 L131.9 566.8 L133.2 567.8 L134.4 569 L135.6 570.3 L138.1 570 L140.4 570.3 L142 571.5 L143 573.4 L140.1 579.7 L140.7 582.6 L141.1 585.7 L141.1 589 L140.9 592.4 L140.3 595.9 L139.5 599.5 L138.4 603.2 L137 606.8 L135.4 610.4 L133.5 613.9 L131.4 617.3 L129.1 620.5 L126.6 623.5 L124.1 626.3 L121.3 628.8 L118.5 631.1 L115.7 633 L112.8 634.6 L110 635.8 L107.2 636.7Z" fill="#fff"/>
<path d="M81.3 624.9 L81.2 625.1 L81.1 625.2 L81 625.4 L80.9 625.5 L80.7 625.6 L80.6 625.7 L80.5 625.8 L80.3 625.9 L80.2 626 L80.1 626 L79.9 626 L79.8 626 L79.7 626 L79.6 626 L79.5 625.9 L79.4 625.9 L79.3 625.8 L79.2 625.7 L79.2 625.6 L79.1 625.5 L79.1 625.3 L79.1 625.2 L79.1 625 L79.1 624.9 L79.1 624.7 L79.1 624.5 L79.2 624.3 L79.3 624.2 L79.3 624 L79.4 623.8 L79.5 623.7 L79.6 623.5 L79.8 623.4 L79.9 623.2 L80 623.1 L80.1 623 L80.3 622.9 L80.4 622.9 L80.5 622.8 L80.7 622.8 L80.8 622.7 L80.9 622.7 L81 622.7 L81.2 622.8 L81.3 622.8 L81.4 622.9 L81.4 623 L81.5 623.1 L81.6 623.2 L81.6 623.3 L81.6 623.4 L81.7 623.6 L81.7 623.7 L81.6 623.9 L81.6 624.1 L81.6 624.2 L81.5 624.4 L81.5 624.6 L81.4 624.7 L81.3 624.9Z" stroke-width="1.08"/>
<path d="M91.5 585.3 L91.4 585.4 L91.2 585.6 L91.1 585.7 L91 585.8 L90.9 586 L90.7 586.1 L90.6 586.2 L90.5 586.2 L90.3 586.3 L90.2 586.3 L90.1 586.4 L90 586.4 L89.8 586.4 L89.7 586.3 L89.6 586.3 L89.5 586.2 L89.4 586.1 L89.4 586 L89.3 585.9 L89.3 585.8 L89.2 585.7 L89.2 585.5 L89.2 585.4 L89.2 585.2 L89.3 585 L89.3 584.9 L89.4 584.7 L89.4 584.5 L89.5 584.3 L89.6 584.2 L89.7 584 L89.8 583.9 L89.9 583.7 L90 583.6 L90.2 583.5 L90.3 583.4 L90.4 583.3 L90.6 583.2 L90.7 583.1 L90.8 583.1 L91 583.1 L91.1 583.1 L91.2 583.1 L91.3 583.1 L91.4 583.2 L91.5 583.2 L91.6 583.3 L91.7 583.4 L91.7 583.5 L91.8 583.6 L91.8 583.8 L91.8 583.9 L91.8 584.1 L91.8 584.2 L91.8 584.4 L91.7 584.6 L91.7 584.7 L91.6 584.9 L91.5 585.1 L91.5 585.3Z" stroke-width="1.08"/>
<path d="M124.8 561.7 L124.7 561.8 L124.6 562 L124.5 562.1 L124.3 562.3 L124.2 562.4 L124.1 562.5 L123.9 562.6 L123.8 562.7 L123.7 562.7 L123.5 562.8 L123.4 562.8 L123.3 562.8 L123.2 562.8 L123.1 562.7 L123 562.7 L122.9 562.6 L122.8 562.5 L122.7 562.5 L122.6 562.3 L122.6 562.2 L122.6 562.1 L122.6 561.9 L122.6 561.8 L122.6 561.6 L122.6 561.4 L122.6 561.3 L122.7 561.1 L122.7 560.9 L122.8 560.8 L122.9 560.6 L123 560.4 L123.1 560.3 L123.2 560.1 L123.4 560 L123.5 559.9 L123.6 559.8 L123.8 559.7 L123.9 559.6 L124 559.6 L124.2 559.5 L124.3 559.5 L124.4 559.5 L124.5 559.5 L124.6 559.5 L124.8 559.6 L124.8 559.6 L124.9 559.7 L125 559.8 L125.1 559.9 L125.1 560.1 L125.1 560.2 L125.1 560.3 L125.1 560.5 L125.1 560.7 L125.1 560.8 L125.1 561 L125 561.2 L125 561.3 L124.9 561.5 L124.8 561.7Z" stroke-width="1.08"/>
<path d="M142.2 575.4 L142.1 575.6 L142 575.8 L141.9 575.9 L141.8 576 L141.6 576.1 L141.5 576.3 L141.4 576.3 L141.2 576.4 L141.1 576.5 L141 576.5 L140.8 576.5 L140.7 576.5 L140.6 576.5 L140.5 576.5 L140.4 576.5 L140.3 576.4 L140.2 576.3 L140.1 576.2 L140.1 576.1 L140 576 L140 575.8 L140 575.7 L140 575.5 L140 575.4 L140 575.2 L140.1 575 L140.1 574.9 L140.2 574.7 L140.3 574.5 L140.3 574.4 L140.4 574.2 L140.6 574 L140.7 573.9 L140.8 573.8 L140.9 573.7 L141.1 573.5 L141.2 573.5 L141.3 573.4 L141.5 573.3 L141.6 573.3 L141.7 573.3 L141.8 573.3 L142 573.3 L142.1 573.3 L142.2 573.3 L142.3 573.4 L142.4 573.5 L142.4 573.6 L142.5 573.7 L142.5 573.8 L142.6 574 L142.6 574.1 L142.6 574.3 L142.6 574.4 L142.5 574.6 L142.5 574.8 L142.4 574.9 L142.4 575.1 L142.3 575.3 L142.2 575.4Z" stroke-width="1.08"/>
<path d="M95.2 634.5 L93.3 633.2 L91.6 631.5 L90.2 629.5 L89 627.3 L88.1 624.7 L87.5 621.9 L87.1 618.9 L87.1 615.7 L87.3 612.4 L87.8 608.9 L88.7 605.4 L89.7 601.8 L91.1 598.3 L92.7 594.8 L94.5 591.4 L96.6 588.1 L98.8 585 L101.2 582 L103.7 579.3 L106.3 576.9 L109.1 574.7 L111.8 572.8 L114.6 571.3 L117.4 570.1 L120.2 569.2 L122.8 568.7 L125.4 568.6 L127.8 568.8 L130.1 569.5 L132.2 570.5 L143.5 577 L145.4 578.3 L147.1 580 L148.5 582 L149.7 584.2 L150.6 586.8 L151.3 589.6 L151.6 592.6 L151.7 595.8 L151.4 599.1 L150.9 602.6 L150.1 606.1 L149 609.7 L147.7 613.2 L146.1 616.7 L144.2 620.1 L142.2 623.4 L140 626.5 L137.6 629.5 L135 632.2 L132.4 634.6 L129.7 636.8 L126.9 638.7 L124.1 640.2 L121.3 641.4 L118.6 642.3 L115.9 642.8 L113.3 642.9 L110.9 642.7 L108.6 642 L106.5 641Z" fill="#fff"/>
<path d="M144.2 620.1 L142.2 623.4 L140 626.5 L137.6 629.5 L135 632.2 L132.4 634.6 L129.7 636.8 L126.9 638.7 L124.1 640.2 L121.3 641.4 L118.6 642.3 L115.9 642.8 L113.3 642.9 L110.9 642.7 L108.6 642 L106.5 641 L104.6 639.7 L102.9 638 L101.5 636 L100.3 633.8 L99.4 631.2 L98.7 628.4 L98.4 625.4 L98.3 622.2 L98.6 618.9 L99.1 615.4 L99.9 611.9 L101 608.3 L102.3 604.8 L103.9 601.3 L105.8 597.9 L107.8 594.6 L110 591.5 L112.4 588.5 L115 585.8 L117.6 583.4 L120.3 581.2 L123.1 579.3 L125.9 577.8 L128.7 576.6 L131.4 575.7 L134.1 575.2 L136.7 575.1 L139.1 575.3 L141.4 576 L143.5 577 L145.4 578.3 L147.1 580 L148.5 582 L149.7 584.2 L150.6 586.8 L151.3 589.6 L151.6 592.6 L151.7 595.8 L151.4 599.1 L150.9 602.6 L150.1 606.1 L149 609.7 L147.7 613.2 L146.1 616.7 L144.2 620.1Z"/>
<path d="M141.4 618.5 L139.6 621.2 L137.7 623.9 L135.7 626.4 L133.5 628.7 L131.3 630.8 L129 632.7 L126.6 634.3 L124.2 635.6 L121.9 636.6 L119.5 637.4 L117.3 637.8 L115.1 637.9 L113 637.6 L111 637.1 L109.2 636.3 L107.6 635.1 L106.2 633.7 L105 632 L104 630.1 L103.2 627.9 L102.6 625.5 L102.3 622.9 L102.3 620.2 L102.5 617.4 L103 614.5 L103.6 611.5 L104.6 608.4 L105.7 605.4 L107.1 602.5 L108.6 599.5 L110.4 596.8 L112.3 594.1 L114.3 591.6 L116.5 589.3 L118.7 587.2 L121 585.3 L123.4 583.7 L125.8 582.4 L128.1 581.4 L130.5 580.6 L132.7 580.2 L134.9 580.1 L137 580.4 L139 580.9 L140.8 581.7 L142.4 582.9 L143.8 584.3 L145 586 L146 587.9 L146.8 590.1 L147.4 592.5 L147.7 595.1 L147.7 597.8 L147.5 600.6 L147 603.5 L146.4 606.5 L145.4 609.6 L144.3 612.6 L142.9 615.5 L141.4 618.5Z"/>
<path d="M138.5 582.6 L139.4 584.6 L140.1 586.9 L140.6 589.3 L140.8 591.9 L140.7 594.7 L140.4 597.6 L139.9 600.5 L139.1 603.5 L138.1 606.6 L136.9 609.6 L135.5 612.5 L133.9 615.4 L132.1 618.2 L130.1 620.8 L128.1 623.2 L125.9 625.5 L123.6 627.5 L121.3 629.2 L118.9 630.7 L116.5 632 L114.2 632.9 L111.8 633.5 L109.6 633.8 L107.4 633.8 L105.4 633.5" stroke-width="1.08"/>
<path d="M147.7 642.1 L147.1 641.7 L146.6 641.2 L146.1 640.7 L145.8 640 L145.5 639.2 L145.3 638.4 L145.2 637.5 L145.1 636.6 L145.2 635.6 L145.3 634.5 L145.6 633.5 L145.9 632.4 L146.2 631.4 L146.7 630.3 L147.2 629.3 L147.8 628.3 L148.5 627.4 L149.2 626.5 L149.9 625.7 L150.7 624.9 L151.5 624.3 L152.3 623.7 L153.1 623.2 L153.9 622.8 L154.7 622.6 L155.5 622.4 L156.3 622.4 L157 622.4 L157.7 622.6 L158.3 622.9 L170.6 629.7 L171.2 630.1 L171.7 630.5 L172.1 631.1 L172.5 631.8 L172.7 632.6 L173 633.4 L173.1 634.3 L173.1 635.2 L173 636.2 L172.9 637.2 L172.7 638.3 L172.4 639.4 L172 640.4 L171.5 641.5 L171 642.5 L170.4 643.5 L169.8 644.4 L169.1 645.3 L168.3 646.1 L167.6 646.9 L166.8 647.5 L166 648.1 L165.1 648.6 L164.3 649 L163.5 649.2 L162.7 649.4 L162 649.4 L161.2 649.4 L160.5 649.2 L159.9 648.9Z" fill="#fff"/>
<path d="M171 642.5 L170.4 643.5 L169.8 644.4 L169.1 645.3 L168.3 646.1 L167.6 646.9 L166.8 647.5 L166 648.1 L165.1 648.6 L164.3 649 L163.5 649.2 L162.7 649.4 L162 649.4 L161.2 649.4 L160.5 649.2 L159.9 648.9 L159.3 648.5 L158.8 648 L158.4 647.4 L158 646.8 L157.7 646 L157.5 645.2 L157.4 644.3 L157.4 643.3 L157.4 642.4 L157.6 641.3 L157.8 640.3 L158.1 639.2 L158.5 638.2 L158.9 637.1 L159.5 636.1 L160.1 635.1 L160.7 634.2 L161.4 633.3 L162.1 632.5 L162.9 631.7 L163.7 631 L164.5 630.5 L165.3 630 L166.2 629.6 L167 629.4 L167.8 629.2 L168.5 629.1 L169.3 629.2 L169.9 629.4 L170.6 629.7 L171.2 630.1 L171.7 630.5 L172.1 631.1 L172.5 631.8 L172.7 632.6 L173 633.4 L173.1 634.3 L173.1 635.2 L173 636.2 L172.9 637.2 L172.7 638.3 L172.4 639.4 L172 640.4 L171.5 641.5 L171 642.5Z"/>
<path d="M148.9 642.8 L148.4 642.3 L148 641.7 L147.6 641.1 L147.3 640.3 L147.1 639.5 L146.9 638.6 L146.9 637.6 L146.9 636.6 L147.1 635.6 L147.3 634.5 L147.6 633.4 L148 632.4 L148.4 631.3 L149 630.3 L149.6 629.3 L150.2 628.3 L150.9 627.4 L151.7 626.6 L152.5 625.8 L153.3 625.2 L154.1 624.6 L154.9 624.1 L155.8 623.8 L156.6 623.5 L157.4 623.4 L158.1 623.3 L158.9 623.4 L159.6 623.6" stroke-width="0.84"/>
<path d="M150.7 643.7 L150.2 643.3 L149.7 642.7 L149.3 642 L149 641.3 L148.8 640.4 L148.7 639.5 L148.6 638.6 L148.7 637.6 L148.8 636.5 L149 635.5 L149.3 634.4 L149.7 633.3 L150.2 632.3 L150.7 631.2 L151.3 630.2 L152 629.3 L152.7 628.4 L153.4 627.6 L154.2 626.8 L155 626.2 L155.8 625.6 L156.7 625.1 L157.5 624.7 L158.3 624.5 L159.1 624.3 L159.9 624.3 L160.6 624.4 L161.3 624.6" stroke-width="0.84"/>
<path d="M152.4 644.7 L151.9 644.2 L151.5 643.7 L151.1 643 L150.8 642.2 L150.6 641.4 L150.4 640.5 L150.4 639.5 L150.4 638.5 L150.6 637.5 L150.8 636.4 L151.1 635.4 L151.5 634.3 L151.9 633.2 L152.5 632.2 L153.1 631.2 L153.7 630.3 L154.4 629.4 L155.2 628.5 L156 627.8 L156.8 627.1 L157.6 626.6 L158.4 626.1 L159.3 625.7 L160.1 625.5 L160.9 625.3 L161.6 625.3 L162.4 625.4 L163.1 625.5" stroke-width="0.84"/>
<path d="M154.2 645.7 L153.7 645.2 L153.2 644.6 L152.8 644 L152.5 643.2 L152.3 642.4 L152.2 641.5 L152.1 640.5 L152.2 639.5 L152.3 638.5 L152.5 637.4 L152.8 636.3 L153.2 635.3 L153.7 634.2 L154.2 633.2 L154.8 632.2 L155.5 631.2 L156.2 630.3 L156.9 629.5 L157.7 628.8 L158.5 628.1 L159.3 627.5 L160.2 627 L161 626.7 L161.8 626.4 L162.6 626.3 L163.4 626.2 L164.1 626.3 L164.8 626.5" stroke-width="0.84"/>
<path d="M155.9 646.7 L155.4 646.2 L154.9 645.6 L154.6 644.9 L154.3 644.2 L154.1 643.3 L153.9 642.4 L153.9 641.5 L153.9 640.5 L154.1 639.4 L154.3 638.4 L154.6 637.3 L155 636.2 L155.4 635.2 L156 634.1 L156.6 633.1 L157.2 632.2 L157.9 631.3 L158.7 630.5 L159.5 629.7 L160.3 629.1 L161.1 628.5 L161.9 628 L162.8 627.7 L163.6 627.4 L164.4 627.2 L165.1 627.2 L165.9 627.3 L166.6 627.5" stroke-width="0.84"/>
<path d="M157.7 647.6 L157.2 647.1 L156.7 646.6 L156.3 645.9 L156 645.1 L155.8 644.3 L155.7 643.4 L155.6 642.5 L155.7 641.5 L155.8 640.4 L156 639.4 L156.3 638.3 L156.7 637.2 L157.2 636.2 L157.7 635.1 L158.3 634.1 L159 633.2 L159.7 632.3 L160.4 631.4 L161.2 630.7 L162 630 L162.8 629.5 L163.7 629 L164.5 628.6 L165.3 628.4 L166.1 628.2 L166.9 628.2 L167.6 628.3 L168.3 628.5" stroke-width="0.84"/>
<path d="M158.7 651.1 L158 650.6 L157.4 650 L156.8 649.3 L156.4 648.5 L156 647.5 L155.8 646.5 L155.6 645.4 L155.6 644.3 L155.7 643.1 L155.8 641.8 L156.1 640.5 L156.5 639.2 L157 637.9 L157.5 636.6 L158.2 635.4 L158.9 634.1 L159.7 633 L160.5 631.9 L161.4 630.9 L162.4 630 L163.4 629.2 L164.4 628.5 L165.4 627.9 L166.4 627.4 L167.4 627.1 L168.3 626.9 L169.3 626.8 L170.2 626.9 L171 627.1 L171.8 627.5 L201.5 644 L202.2 644.4 L202.9 645 L203.4 645.8 L203.8 646.6 L204.2 647.5 L204.4 648.5 L204.6 649.6 L204.6 650.8 L204.6 652 L204.4 653.3 L204.1 654.6 L203.7 655.9 L203.3 657.2 L202.7 658.4 L202.1 659.7 L201.3 660.9 L200.6 662.1 L199.7 663.2 L198.8 664.2 L197.8 665.1 L196.9 665.9 L195.9 666.6 L194.9 667.2 L193.9 667.6 L192.9 668 L191.9 668.2 L190.9 668.2 L190.1 668.1 L189.2 667.9 L188.4 667.6Z" fill="#fff"/>
<path d="M158.9 651.1 L186.9 666.7" stroke-width="0.84"/>
<path d="M157.8 649.9 L185.8 665.4" stroke-width="0.84"/>
<path d="M157 648.3 L185 663.8" stroke-width="0.84"/>
<path d="M156.6 646.4 L184.6 661.9" stroke-width="0.84"/>
<path d="M156.5 644.2 L184.5 659.7" stroke-width="0.84"/>
<path d="M156.8 641.9 L184.8 657.4" stroke-width="0.84"/>
<path d="M157.4 639.4 L185.4 655" stroke-width="0.84"/>
<path d="M158.4 637 L186.4 652.5" stroke-width="0.84"/>
<path d="M159.7 634.7 L187.7 650.2" stroke-width="0.84"/>
<path d="M161.2 632.6 L189.2 648.1" stroke-width="0.84"/>
<path d="M163 630.7 L190.9 646.3" stroke-width="0.84"/>
<path d="M164.8 629.2 L192.8 644.8" stroke-width="0.84"/>
<path d="M166.7 628.2 L194.7 643.7" stroke-width="0.84"/>
<path d="M168.6 627.5 L196.5 643" stroke-width="0.84"/>
<path d="M170.3 627.3 L198.3 642.8" stroke-width="0.84"/>
<path d="M171.9 627.6 L199.9 643.2" stroke-width="0.84"/>
<path d="M187.5 669.3 L186.7 668.8 L185.9 668.1 L185.3 667.3 L184.8 666.3 L184.4 665.3 L184.1 664.1 L184 662.8 L183.9 661.5 L184 660.1 L184.2 658.6 L184.5 657.2 L184.9 655.7 L185.5 654.2 L186.1 652.7 L186.8 651.3 L187.7 649.9 L188.6 648.5 L189.6 647.3 L190.6 646.1 L191.7 645.1 L192.8 644.2 L194 643.3 L195.1 642.7 L196.3 642.2 L197.4 641.8 L198.5 641.6 L199.6 641.5 L200.6 641.6 L201.6 641.8 L202.5 642.2 L209.5 646.1 L210.3 646.6 L211 647.3 L211.6 648.1 L212.2 649.1 L212.6 650.2 L212.8 651.3 L213 652.6 L213.1 653.9 L213 655.3 L212.8 656.8 L212.5 658.3 L212 659.7 L211.5 661.2 L210.9 662.7 L210.1 664.2 L209.3 665.6 L208.4 666.9 L207.4 668.1 L206.4 669.3 L205.3 670.3 L204.1 671.3 L203 672.1 L201.8 672.7 L200.7 673.3 L199.5 673.6 L198.4 673.9 L197.3 673.9 L196.3 673.8 L195.4 673.6 L194.5 673.2Z" fill="#fff"/>
<path d="M210.1 664.2 L209.3 665.6 L208.4 666.9 L207.4 668.1 L206.4 669.3 L205.3 670.3 L204.1 671.3 L203 672.1 L201.8 672.7 L200.7 673.3 L199.5 673.6 L198.4 673.9 L197.3 673.9 L196.3 673.8 L195.4 673.6 L194.5 673.2 L193.7 672.7 L192.9 672 L192.3 671.1 L191.8 670.2 L191.4 669.1 L191.1 668 L191 666.7 L190.9 665.4 L191 664 L191.2 662.5 L191.5 661 L191.9 659.6 L192.5 658.1 L193.1 656.6 L193.8 655.1 L194.7 653.7 L195.6 652.4 L196.6 651.2 L197.6 650 L198.7 649 L199.8 648 L201 647.2 L202.1 646.6 L203.3 646 L204.4 645.7 L205.5 645.4 L206.6 645.4 L207.6 645.5 L208.6 645.7 L209.5 646.1 L210.3 646.6 L211 647.3 L211.6 648.1 L212.2 649.1 L212.6 650.2 L212.8 651.3 L213 652.6 L213.1 653.9 L213 655.3 L212.8 656.8 L212.5 658.3 L212 659.7 L211.5 661.2 L210.9 662.7 L210.1 664.2Z"/>
<path d="M196.6 669.3 L196.1 668.9 L195.6 668.4 L195.1 667.8 L194.8 667.1 L194.5 666.4 L194.3 665.6 L194.2 664.7 L194.1 663.7 L194.2 662.7 L194.3 661.7 L194.5 660.6 L194.8 659.6 L195.2 658.5 L195.7 657.5 L196.2 656.4 L196.8 655.5 L197.4 654.5 L198.1 653.6 L198.9 652.8 L199.6 652.1 L200.4 651.4 L201.3 650.8 L202.1 650.4 L202.9 650 L203.7 649.7 L204.5 649.6 L205.3 649.5 L206 649.6 L206.7 649.7 L207.3 650 L216.9 655.4 L217.5 655.7 L218 656.2 L218.5 656.8 L218.8 657.5 L219.1 658.3 L219.3 659.1 L219.4 660 L219.5 660.9 L219.4 661.9 L219.3 662.9 L219 664 L218.7 665.1 L218.4 666.1 L217.9 667.2 L217.4 668.2 L216.8 669.2 L216.1 670.1 L215.4 671 L214.7 671.8 L213.9 672.6 L213.1 673.2 L212.3 673.8 L211.5 674.3 L210.7 674.6 L209.9 674.9 L209.1 675.1 L208.3 675.1 L207.6 675.1 L206.9 674.9 L206.3 674.6Z" fill="#fff"/>
<path d="M205.3 676.4 L204.6 675.9 L204 675.3 L203.5 674.6 L203.1 673.8 L202.7 672.9 L202.5 672 L202.4 670.9 L202.3 669.8 L202.4 668.6 L202.5 667.4 L202.8 666.2 L203.2 664.9 L203.6 663.6 L204.2 662.4 L204.8 661.2 L205.5 660 L206.2 658.9 L207.1 657.9 L207.9 656.9 L208.8 656 L209.8 655.2 L210.7 654.6 L211.7 654 L212.7 653.6 L213.6 653.2 L214.6 653.1 L215.5 653 L216.3 653.1 L217.2 653.3 L217.9 653.6 L227.5 658.9 L228.2 659.4 L228.8 660 L229.3 660.7 L229.8 661.5 L230.1 662.4 L230.3 663.3 L230.5 664.4 L230.5 665.5 L230.4 666.7 L230.3 667.9 L230 669.1 L229.7 670.4 L229.2 671.7 L228.7 672.9 L228 674.1 L227.3 675.3 L226.6 676.4 L225.8 677.4 L224.9 678.4 L224 679.3 L223 680.1 L222.1 680.7 L221.1 681.3 L220.1 681.7 L219.2 682.1 L218.2 682.2 L217.3 682.3 L216.5 682.2 L215.7 682 L214.9 681.7Z" fill="#fff"/>
<path d="M228 674.1 L227.3 675.3 L226.6 676.4 L225.8 677.4 L224.9 678.4 L224 679.3 L223 680.1 L222.1 680.7 L221.1 681.3 L220.1 681.7 L219.2 682.1 L218.2 682.2 L217.3 682.3 L216.5 682.2 L215.7 682 L214.9 681.7 L214.2 681.2 L213.6 680.7 L213.1 680 L212.7 679.2 L212.4 678.3 L212.1 677.3 L212 676.2 L211.9 675.1 L212 673.9 L212.2 672.7 L212.4 671.5 L212.8 670.2 L213.2 669 L213.8 667.7 L214.4 666.5 L215.1 665.4 L215.9 664.3 L216.7 663.2 L217.6 662.2 L218.5 661.4 L219.4 660.6 L220.4 659.9 L221.3 659.3 L222.3 658.9 L223.3 658.6 L224.2 658.4 L225.1 658.3 L226 658.4 L226.8 658.6 L227.5 658.9 L228.2 659.4 L228.8 660 L229.3 660.7 L229.8 661.5 L230.1 662.4 L230.3 663.3 L230.5 664.4 L230.5 665.5 L230.4 666.7 L230.3 667.9 L230 669.1 L229.7 670.4 L229.2 671.7 L228.7 672.9 L228 674.1Z"/>
<path d="M214.9 681.7 L214.2 681.2 L213.6 680.7 L213.1 680 L212.7 679.2 L212.4 678.3 L212.1 677.3 L212 676.2 L211.9 675.1 L212 673.9 L212.2 672.7 L212.4 671.5 L212.8 670.2 L213.2 669 L213.8 667.7 L214.4 666.5 L215.1 665.4 L215.9 664.3 L216.7 663.2 L217.6 662.2 L218.5 661.4 L219.4 660.6 L220.4 659.9 L221.3 659.3 L222.3 658.9 L223.3 658.6 L224.2 658.4 L225.1 658.3 L226 658.4 L226.8 658.6 L227.5 658.9 L243.3 667.7 L243.9 668.1 L244.5 668.7 L245.1 669.4 L245.5 670.2 L245.8 671.1 L246.1 672.1 L246.2 673.1 L246.3 674.2 L246.2 675.4 L246 676.6 L245.8 677.9 L245.4 679.1 L244.9 680.4 L244.4 681.6 L243.8 682.8 L243.1 684 L242.3 685.1 L241.5 686.2 L240.6 687.1 L239.7 688 L238.8 688.8 L237.8 689.5 L236.8 690 L235.9 690.5 L234.9 690.8 L234 691 L233.1 691 L232.2 690.9 L231.4 690.7 L230.7 690.4Z" fill="#fff"/>
<path d="M226.8 697.4 L225.7 696.7 L224.7 695.7 L223.9 694.6 L223.2 693.3 L222.6 691.9 L222.2 690.3 L222 688.6 L222 686.8 L222.1 684.9 L222.3 682.9 L222.8 680.9 L223.3 678.9 L224.1 676.9 L224.9 674.9 L225.9 672.9 L227.1 671 L228.3 669.2 L229.6 667.6 L231 666 L232.5 664.6 L234 663.3 L235.6 662.2 L237.2 661.3 L238.7 660.6 L240.3 660.1 L241.8 659.8 L243.2 659.7 L244.6 659.8 L245.9 660.1 L247.1 660.7 L261.1 668.4 L262.2 669.2 L263.2 670.1 L264 671.2 L264.7 672.5 L265.3 673.9 L265.7 675.5 L265.9 677.2 L266 679 L265.9 680.9 L265.6 682.9 L265.2 684.9 L264.6 686.9 L263.9 689 L263 691 L262 692.9 L260.9 694.8 L259.6 696.6 L258.3 698.3 L256.9 699.8 L255.4 701.3 L253.9 702.5 L252.3 703.6 L250.8 704.5 L249.2 705.2 L247.7 705.8 L246.1 706.1 L244.7 706.2 L243.3 706 L242 705.7 L240.8 705.2Z" fill="#fff"/>
<path d="M223.4 699.9 L225.8 695.5 L239.8 703.3 L242.1 704.7 L239.5 709 L225.5 701.2Z" fill="#fff" stroke-width="0.96"/>
<path d="M225.5 701.2 L239.5 709" stroke-width="0.77"/>
<path d="M223.4 699.9 L237.4 707.6" stroke-width="0.77"/>
<path d="M242.1 704.7 L239.5 709 L237.4 707.6 L239.8 703.3" stroke-width="0.77"/>
<path d="M220.2 695.3 L223.4 691.7 L237.4 699.4 L238.8 702.1 L235.5 705.5 L221.5 697.8Z" fill="#fff" stroke-width="0.96"/>
<path d="M221.5 697.8 L235.5 705.5" stroke-width="0.77"/>
<path d="M220.2 695.3 L234.2 703" stroke-width="0.77"/>
<path d="M238.8 702.1 L235.5 705.5 L234.2 703 L237.4 699.4" stroke-width="0.77"/>
<path d="M219.1 688.7 L222.7 686.3 L236.7 694.1 L237 697.6 L233.4 699.8 L219.4 692.1Z" fill="#fff" stroke-width="0.96"/>
<path d="M219.4 692.1 L233.4 699.8" stroke-width="0.77"/>
<path d="M219.1 688.7 L233.1 696.5" stroke-width="0.77"/>
<path d="M237 697.6 L233.4 699.8 L233.1 696.5 L236.7 694.1" stroke-width="0.77"/>
<path d="M219.4 684.8 L220.1 681 L223.6 680.1 L237.6 687.8 L236.8 691.9 L233.4 692.5Z" fill="#fff" stroke-width="0.96"/>
<path d="M219.4 684.8 L233.4 692.5" stroke-width="0.77"/>
<path d="M220.1 681 L234.1 688.7" stroke-width="0.77"/>
<path d="M236.8 691.9 L233.4 692.5 L234.1 688.7 L237.6 687.8" stroke-width="0.77"/>
<path d="M221.5 676.8 L223.2 673 L226.2 673.7 L240.2 681.5 L238.4 685.5 L235.5 684.6Z" fill="#fff" stroke-width="0.96"/>
<path d="M221.5 676.8 L235.5 684.6" stroke-width="0.77"/>
<path d="M223.2 673 L237.2 680.8" stroke-width="0.77"/>
<path d="M238.4 685.5 L235.5 684.6 L237.2 680.8 L240.2 681.5" stroke-width="0.77"/>
<path d="M225.5 669.1 L227.9 665.8 L241.9 673.5 L244.1 675.8 L241.5 679.3 L227.5 671.5Z" fill="#fff" stroke-width="0.96"/>
<path d="M225.5 669.1 L239.5 676.8" stroke-width="0.77"/>
<path d="M227.9 665.8 L241.9 673.5" stroke-width="0.77"/>
<path d="M241.5 679.3 L239.5 676.8 L241.9 673.5 L244.1 675.8" stroke-width="0.77"/>
<path d="M230.8 662.6 L233.7 660.1 L247.7 667.9 L248.8 671.4 L245.7 674 L231.7 666.2Z" fill="#fff" stroke-width="0.96"/>
<path d="M230.8 662.6 L244.8 670.3" stroke-width="0.77"/>
<path d="M233.7 660.1 L247.7 667.9" stroke-width="0.77"/>
<path d="M245.7 674 L244.8 670.3 L247.7 667.9 L248.8 671.4" stroke-width="0.77"/>
<path d="M236.5 662.5 L236.9 658.1 L239.9 656.8 L253.9 664.5 L253.7 668.9 L250.5 670.2Z" fill="#fff" stroke-width="0.96"/>
<path d="M236.9 658.1 L250.9 665.8" stroke-width="0.77"/>
<path d="M239.9 656.8 L253.9 664.5" stroke-width="0.77"/>
<path d="M250.5 670.2 L250.9 665.8 L253.9 664.5 L253.7 668.9" stroke-width="0.77"/>
<path d="M241.5 660.7 L243.1 656.1 L245.8 656.1 L259.8 663.9 L258.3 668.5 L255.5 668.5Z" fill="#fff" stroke-width="0.96"/>
<path d="M243.1 656.1 L257 663.8" stroke-width="0.77"/>
<path d="M245.8 656.1 L259.8 663.9" stroke-width="0.77"/>
<path d="M255.5 668.5 L257 663.8 L259.8 663.9 L258.3 668.5" stroke-width="0.77"/>
<path d="M259.1 668.2 L261.3 664.2 L262.5 664.6 L260.7 668.8" fill="#fff" stroke-width="0.96"/>
<path d="M262.8 670.3 L265.6 667 L266.5 668.1 L263.9 671.8" fill="#fff" stroke-width="0.96"/>
<path d="M265 674.5 L268.2 672.3 L268.6 673.9 L265.5 676.6" fill="#fff" stroke-width="0.96"/>
<path d="M265.6 680.1 L268.7 679.3 L268.5 681.2 L265.3 682.7" fill="#fff" stroke-width="0.96"/>
<path d="M264.4 686.6 L267.1 687.2 L266.4 689.2 L263.4 689.2" fill="#fff" stroke-width="0.96"/>
<path d="M261.5 693.1 L263.5 695 L262.4 696.9 L260 695.5" fill="#fff" stroke-width="0.96"/>
<path d="M257.4 698.8 L258.4 701.9 L257 703.3 L255.5 700.7" fill="#fff" stroke-width="0.96"/>
<path d="M252.6 703.1 L252.4 706.9 L250.9 707.8 L250.5 704.2" fill="#fff" stroke-width="0.96"/>
<path d="M247.5 705.4 L246.3 709.6 L244.8 709.8 L245.5 705.7" fill="#fff" stroke-width="0.96"/>
<path d="M242.8 705.4 L240.7 709.4 L239.4 709 L241.2 704.8" fill="#fff" stroke-width="0.96"/>
<path d="M261.7 692.8 L260.6 694.6 L259.4 696.4 L258.1 698 L256.7 699.5 L255.3 700.9 L253.8 702.2 L252.3 703.2 L250.8 704.1 L249.2 704.8 L247.7 705.3 L246.3 705.6 L244.8 705.7 L243.5 705.6 L242.2 705.3 L241 704.7 L239.9 704 L239 703.1 L238.2 702 L237.5 700.8 L237 699.3 L236.6 697.8 L236.4 696.1 L236.3 694.4 L236.4 692.5 L236.7 690.6 L237.1 688.6 L237.7 686.7 L238.4 684.7 L239.2 682.7 L240.2 680.8 L241.3 679 L242.5 677.2 L243.8 675.6 L245.2 674.1 L246.6 672.7 L248.1 671.4 L249.6 670.4 L251.1 669.5 L252.7 668.8 L254.2 668.3 L255.7 668 L257.1 667.9 L258.4 668 L259.7 668.3 L260.9 668.9 L262 669.6 L262.9 670.5 L263.7 671.6 L264.4 672.8 L264.9 674.3 L265.3 675.8 L265.5 677.5 L265.6 679.2 L265.5 681.1 L265.2 683 L264.8 685 L264.3 686.9 L263.5 688.9 L262.7 690.9 L261.7 692.8Z" fill="#fff"/>
<path d="M244.2 699 L243.4 698.6 L242.8 697.9 L242.2 697.2 L241.8 696.3 L241.4 695.4 L241.1 694.3 L241 693.2 L241 692 L241 690.7 L241.2 689.4 L241.5 688.1 L241.9 686.7 L242.4 685.4 L242.9 684 L243.6 682.7 L244.4 681.5 L245.2 680.3 L246.1 679.1 L247 678.1 L248 677.1 L249 676.3 L250 675.6 L251.1 675 L252.1 674.5 L253.2 674.2 L254.2 674 L255.1 673.9 L256.1 674 L256.9 674.2 L257.7 674.6 L340 720.1 L340.7 720.6 L341.3 721.2 L341.9 722 L342.4 722.8 L342.7 723.8 L343 724.9 L343.1 726 L343.2 727.2 L343.1 728.5 L342.9 729.8 L342.6 731.1 L342.3 732.5 L341.8 733.8 L341.2 735.1 L340.5 736.4 L339.8 737.7 L338.9 738.9 L338.1 740 L337.1 741.1 L336.1 742 L335.1 742.9 L334.1 743.6 L333 744.2 L332 744.7 L331 745 L330 745.2 L329 745.3 L328.1 745.2 L327.2 745 L326.4 744.6Z" fill="#fff"/>
<path d="M245.3 699.6 L324 743.2" stroke-width="0.9"/>
<path d="M244.2 698.4 L322.9 742.1" stroke-width="0.9"/>
<path d="M243.4 696.9 L322.1 740.5" stroke-width="0.9"/>
<path d="M242.9 695.1 L321.6 738.7" stroke-width="0.9"/>
<path d="M242.7 693 L321.4 736.6" stroke-width="0.9"/>
<path d="M242.9 690.8 L321.6 734.4" stroke-width="0.9"/>
<path d="M243.4 688.4 L322.1 732" stroke-width="0.9"/>
<path d="M244.2 686 L323 729.6" stroke-width="0.9"/>
<path d="M245.4 683.7 L324.1 727.3" stroke-width="0.9"/>
<path d="M246.7 681.5 L325.4 725.1" stroke-width="0.9"/>
<path d="M248.3 679.5 L327 723.2" stroke-width="0.9"/>
<path d="M250 677.9 L328.7 721.5" stroke-width="0.9"/>
<path d="M251.8 676.5 L330.6 720.1" stroke-width="0.9"/>
<path d="M253.7 675.5 L332.4 719.2" stroke-width="0.9"/>
<path d="M255.5 675 L334.2 718.6" stroke-width="0.9"/>
<path d="M257.2 674.9 L335.9 718.5" stroke-width="0.9"/>
<path d="M258.8 675.2 L337.5 718.8" stroke-width="0.9"/>
<path d="M301.9 731 L301.2 730.5 L300.5 729.9 L300 729.2 L299.5 728.3 L299.1 727.4 L298.9 726.3 L298.7 725.2 L298.7 724 L298.7 722.7 L298.9 721.4 L299.2 720.1 L299.6 718.7 L300.1 717.4 L300.7 716 L301.3 714.7 L302.1 713.5 L302.9 712.3 L303.8 711.1 L304.7 710.1 L305.7 709.1 L306.7 708.3 L307.8 707.6 L308.8 707 L309.9 706.5 L310.9 706.2 L311.9 706 L312.9 705.9 L313.8 706 L314.7 706.2 L315.5 706.6" stroke-width="1.08"/>
<path d="M314.1 737.8 L313.4 737.3 L312.8 736.7 L312.2 736 L311.7 735.1 L311.4 734.2 L311.1 733.1 L311 732 L310.9 730.8 L311 729.5 L311.2 728.2 L311.5 726.8 L311.8 725.5 L312.3 724.1 L312.9 722.8 L313.6 721.5 L314.3 720.3 L315.2 719.1 L316 717.9 L317 716.9 L318 715.9 L319 715.1 L320 714.4 L321.1 713.8 L322.1 713.3 L323.1 712.9 L324.1 712.7 L325.1 712.7 L326 712.8 L326.9 713 L327.7 713.3" stroke-width="1.08"/>
<path d="M327.6 742.4 L327 742 L326.5 741.5 L326 740.9 L325.6 740.2 L325.3 739.4 L325.1 738.5 L325 737.6 L325 736.6 L325 735.6 L325.2 734.5 L325.4 733.4 L325.7 732.3 L326.1 731.2 L326.6 730.1 L327.1 729 L327.8 728 L328.4 727 L329.2 726.1 L329.9 725.2 L330.7 724.4 L331.6 723.8 L332.4 723.2 L333.3 722.7 L334.1 722.3 L335 722 L335.8 721.8 L336.6 721.8 L337.4 721.8 L338.1 722 L338.7 722.3 L350.1 728.6 L350.7 729 L351.2 729.5 L351.7 730.1 L352.1 730.8 L352.4 731.6 L352.6 732.5 L352.7 733.4 L352.8 734.4 L352.7 735.5 L352.6 736.5 L352.3 737.6 L352 738.7 L351.6 739.9 L351.1 740.9 L350.6 742 L350 743.1 L349.3 744 L348.6 745 L347.8 745.8 L347 746.6 L346.1 747.3 L345.3 747.9 L344.4 748.4 L343.6 748.8 L342.7 749.1 L341.9 749.2 L341.1 749.3 L340.3 749.2 L339.6 749 L339 748.7Z" fill="#fff"/>
<path d="M350.6 742 L350 743.1 L349.3 744 L348.6 745 L347.8 745.8 L347 746.6 L346.1 747.3 L345.3 747.9 L344.4 748.4 L343.6 748.8 L342.7 749.1 L341.9 749.2 L341.1 749.3 L340.3 749.2 L339.6 749 L339 748.7 L338.4 748.3 L337.8 747.8 L337.4 747.2 L337 746.5 L336.7 745.7 L336.5 744.8 L336.4 743.9 L336.3 742.9 L336.4 741.9 L336.5 740.8 L336.8 739.7 L337.1 738.6 L337.5 737.5 L338 736.4 L338.5 735.3 L339.1 734.3 L339.8 733.3 L340.5 732.4 L341.3 731.5 L342.1 730.7 L342.9 730.1 L343.8 729.5 L344.6 729 L345.5 728.6 L346.4 728.3 L347.2 728.1 L348 728.1 L348.7 728.1 L349.5 728.3 L350.1 728.6 L350.7 729 L351.2 729.5 L351.7 730.1 L352.1 730.8 L352.4 731.6 L352.6 732.5 L352.7 733.4 L352.8 734.4 L352.7 735.5 L352.6 736.5 L352.3 737.6 L352 738.7 L351.6 739.9 L351.1 740.9 L350.6 742Z"/>
<path d="M348.2 740.7 L347.8 741.3 L347.4 741.9 L347 742.5 L346.5 743 L346 743.5 L345.5 743.9 L345 744.3 L344.5 744.6 L344 744.8 L343.4 745 L342.9 745.1 L342.4 745.1 L342 745.1 L341.6 745 L341.1 744.8 L340.8 744.5 L340.5 744.2 L340.2 743.9 L339.9 743.4 L339.8 743 L339.6 742.4 L339.6 741.9 L339.5 741.3 L339.6 740.6 L339.7 740 L339.8 739.3 L340 738.6 L340.2 738 L340.5 737.3 L340.9 736.6 L341.2 736 L341.7 735.4 L342.1 734.8 L342.6 734.3 L343.1 733.8 L343.6 733.4 L344.1 733.1 L344.6 732.8 L345.1 732.5 L345.6 732.4 L346.1 732.3 L346.6 732.2 L347.1 732.3 L347.5 732.4 L347.9 732.6 L348.3 732.8 L348.6 733.1 L348.9 733.5 L349.1 733.9 L349.3 734.4 L349.4 734.9 L349.5 735.5 L349.5 736.1 L349.5 736.7 L349.4 737.4 L349.3 738 L349.1 738.7 L348.8 739.4 L348.5 740.1 L348.2 740.7Z"/>
<path d="M343.6 730.1 L343.9 730.4 L344.3 730.7 L344.5 731.1 L344.8 731.5 L344.9 732 L345.1 732.5 L345.1 733.1 L345.2 733.7 L345.1 734.3 L345 735 L344.9 735.6 L344.7 736.3 L344.5 737 L344.2 737.6 L343.8 738.3 L343.5 738.9 L343.1 739.5 L342.6 740.1 L342.1 740.6 L341.7 741.1 L341.1 741.5 L340.6 741.9 L340.1 742.2 L339.6 742.4 L339.1 742.6 L338.6 742.7 L338.1 742.7 L337.6 742.7 L337.2 742.6 L336.8 742.4" stroke-width="0.96"/>
<path d="M359.7 767.2 L358.8 766.6 L358.1 765.8 L357.4 764.9 L356.8 763.9 L356.4 762.7 L356.1 761.4 L356 760 L356 758.6 L356.1 757 L356.3 755.4 L356.7 753.8 L357.2 752.2 L357.8 750.6 L358.5 749 L359.4 747.4 L360.3 745.9 L361.3 744.5 L362.4 743.1 L363.6 741.9 L364.8 740.7 L366.1 739.7 L367.3 738.9 L368.6 738.1 L369.9 737.6 L371.2 737.2 L372.4 737 L373.6 736.9 L374.7 737 L375.7 737.3 L376.7 737.8 L384.5 742.3 L385.4 742.9 L386.2 743.7 L386.8 744.6 L387.4 745.6 L387.8 746.8 L388.1 748.1 L388.2 749.5 L388.3 750.9 L388.1 752.5 L387.9 754.1 L387.5 755.7 L387 757.3 L386.4 758.9 L385.7 760.5 L384.8 762.1 L383.9 763.6 L382.9 765 L381.8 766.4 L380.6 767.6 L379.4 768.8 L378.2 769.8 L376.9 770.6 L375.6 771.4 L374.3 771.9 L373.1 772.3 L371.8 772.5 L370.6 772.6 L369.5 772.5 L368.5 772.2 L367.5 771.7Z" fill="#fff"/>
<path d="M384.8 762.1 L383.9 763.6 L382.9 765 L381.8 766.4 L380.6 767.6 L379.4 768.8 L378.2 769.8 L376.9 770.6 L375.6 771.4 L374.3 771.9 L373.1 772.3 L371.8 772.5 L370.6 772.6 L369.5 772.5 L368.5 772.2 L367.5 771.7 L366.6 771.1 L365.8 770.3 L365.2 769.4 L364.6 768.4 L364.2 767.2 L363.9 765.9 L363.8 764.5 L363.7 763.1 L363.9 761.5 L364.1 759.9 L364.5 758.3 L365 756.7 L365.6 755.1 L366.3 753.5 L367.2 751.9 L368.1 750.4 L369.1 749 L370.2 747.6 L371.4 746.4 L372.6 745.2 L373.8 744.2 L375.1 743.4 L376.4 742.6 L377.7 742.1 L378.9 741.7 L380.2 741.5 L381.4 741.4 L382.5 741.5 L383.5 741.8 L384.5 742.3 L385.4 742.9 L386.2 743.7 L386.8 744.6 L387.4 745.6 L387.8 746.8 L388.1 748.1 L388.2 749.5 L388.3 750.9 L388.1 752.5 L387.9 754.1 L387.5 755.7 L387 757.3 L386.4 758.9 L385.7 760.5 L384.8 762.1Z"/>
<path d="M383.3 761.2 L382.5 762.4 L381.7 763.6 L380.8 764.7 L379.8 765.8 L378.8 766.7 L377.8 767.5 L376.7 768.2 L375.7 768.8 L374.6 769.3 L373.6 769.6 L372.6 769.8 L371.6 769.8 L370.7 769.7 L369.8 769.5 L369 769.1 L368.3 768.6 L367.6 768 L367.1 767.2 L366.6 766.4 L366.3 765.4 L366.1 764.3 L365.9 763.2 L365.9 762 L366 760.7 L366.2 759.4 L366.5 758.1 L366.9 756.8 L367.4 755.4 L368 754.1 L368.7 752.8 L369.5 751.6 L370.3 750.4 L371.2 749.3 L372.2 748.2 L373.2 747.3 L374.2 746.5 L375.3 745.8 L376.3 745.2 L377.4 744.7 L378.4 744.4 L379.4 744.2 L380.4 744.2 L381.3 744.3 L382.2 744.5 L383 744.9 L383.7 745.4 L384.4 746 L384.9 746.8 L385.4 747.6 L385.7 748.6 L385.9 749.7 L386.1 750.8 L386.1 752 L386 753.3 L385.8 754.6 L385.5 755.9 L385.1 757.2 L384.6 758.6 L384 759.9 L383.3 761.2Z"/>
<path d="M386.1 808.6 L384.4 807.4 L382.9 805.9 L381.6 804.1 L380.6 802.1 L379.7 799.8 L379.2 797.3 L378.9 794.6 L378.8 791.8 L379 788.8 L379.5 785.7 L380.2 782.6 L381.2 779.4 L382.4 776.3 L383.8 773.1 L385.5 770.1 L387.3 767.2 L389.3 764.4 L391.4 761.8 L393.7 759.3 L396 757.1 L398.4 755.2 L400.9 753.5 L403.4 752.1 L405.9 751.1 L408.3 750.3 L410.7 749.9 L413 749.8 L415.2 750 L417.2 750.5 L419.1 751.4 L429.5 757.4 L431.2 758.6 L432.7 760.1 L434 761.9 L435 763.9 L435.9 766.2 L436.4 768.7 L436.7 771.4 L436.8 774.2 L436.6 777.2 L436.1 780.3 L435.4 783.4 L434.4 786.6 L433.2 789.7 L431.8 792.9 L430.1 795.9 L428.3 798.8 L426.3 801.6 L424.2 804.2 L422 806.7 L419.6 808.9 L417.2 810.8 L414.7 812.5 L412.2 813.9 L409.7 814.9 L407.3 815.7 L404.9 816.1 L402.6 816.2 L400.4 816 L398.4 815.5 L396.5 814.6Z" fill="#fff" stroke-width="0"/>
<path d="M385.5 808.2 L383.8 806.9 L382.4 805.2 L381.2 803.3 L380.2 801.1 L379.5 798.7 L379 796 L378.8 793.2 L378.9 790.2 L379.3 787.1 L379.9 783.9 L380.8 780.6 L381.9 777.4 L383.3 774.2" stroke-dasharray="5 2.5"/>
<path d="M396.5 814.6 L394.7 813.3 L393.2 811.7 L391.8 809.8 L390.8 807.6 L390 805.2 L389.4 802.5 L389.2 799.6 L389.3 796.6 L389.6 793.4 L390.2 790.1 L391.1 786.8 L392.3 783.5 L393.7 780.2" stroke-dasharray="5 2.5"/>
<path d="M429.5 757.4 L431.2 758.6 L432.7 760.1 L434 761.9 L435 763.9 L435.9 766.2 L436.4 768.7 L436.7 771.4 L436.8 774.2 L436.6 777.2 L436.1 780.3 L435.4 783.4 L434.4 786.6 L433.2 789.7 L431.8 792.9 L430.1 795.9 L428.3 798.8 L426.3 801.6 L424.2 804.2 L422 806.7 L419.6 808.9 L417.2 810.8 L414.7 812.5 L412.2 813.9 L409.7 814.9 L407.3 815.7 L404.9 816.1 L402.6 816.2 L400.4 816 L398.4 815.5 L396.5 814.6"/>
<path d="M386.8 775.2 L388.1 772.7 L389.6 770.2 L391.2 767.8 L393 765.6 L394.9 763.5 L396.8 761.7 L398.8 760 L400.9 758.5 L403 757.4 L405 756.4 L407.1 755.8 L409.1 755.4 L411 755.3 L412.8 755.4 L414.5 755.9 L416.1 756.6" stroke-width="1.08"/>
<path d="M382.6 775.9 L384.2 772.5 L387.8 773.4 L398.2 779.4 L396.4 783.1 L392.9 781.9Z" fill="#fff" stroke-width="1.08"/>
<path d="M382.6 775.9 L392.9 781.9" stroke-width="0.86"/>
<path d="M384.2 772.5 L394.6 778.5" stroke-width="0.86"/>
<path d="M396.4 783.1 L392.9 781.9 L394.6 778.5 L398.2 779.4" stroke-width="0.86"/>
<path d="M386.2 768.9 L388.3 765.7 L398.7 771.7 L401.6 773.9 L399.3 777.3 L388.9 771.3Z" fill="#fff" stroke-width="1.08"/>
<path d="M386.2 768.9 L396.6 774.9" stroke-width="0.86"/>
<path d="M388.3 765.7 L398.7 771.7" stroke-width="0.86"/>
<path d="M399.3 777.3 L396.6 774.9 L398.7 771.7 L401.6 773.9" stroke-width="0.86"/>
<path d="M390.8 762.4 L393.3 759.7 L403.7 765.7 L405.7 769.1 L403 772 L392.6 766Z" fill="#fff" stroke-width="1.08"/>
<path d="M390.8 762.4 L401.2 768.4" stroke-width="0.86"/>
<path d="M393.3 759.7 L403.7 765.7" stroke-width="0.86"/>
<path d="M403 772 L401.2 768.4 L403.7 765.7 L405.7 769.1" stroke-width="0.86"/>
<path d="M396.1 757.1 L398.8 754.9 L409.2 760.9 L410.2 765.2 L407.3 767.5 L396.9 761.5Z" fill="#fff" stroke-width="1.08"/>
<path d="M396.1 757.1 L406.5 763.1" stroke-width="0.86"/>
<path d="M398.8 754.9 L409.2 760.9" stroke-width="0.86"/>
<path d="M407.3 767.5 L406.5 763.1 L409.2 760.9 L410.2 765.2" stroke-width="0.86"/>
<path d="M401.5 758.1 L401.8 753 L404.5 751.6 L414.9 757.6 L414.9 762.6 L411.9 764.1Z" fill="#fff" stroke-width="1.08"/>
<path d="M401.8 753 L412.2 759" stroke-width="0.86"/>
<path d="M404.5 751.6 L414.9 757.6" stroke-width="0.86"/>
<path d="M411.9 764.1 L412.2 759 L414.9 757.6 L414.9 762.6" stroke-width="0.86"/>
<path d="M406.2 756 L407.5 750.5 L410.1 749.9 L420.5 755.9 L419.5 761.4 L416.6 762Z" fill="#fff" stroke-width="1.08"/>
<path d="M407.5 750.5 L417.9 756.5" stroke-width="0.86"/>
<path d="M410.1 749.9 L420.5 755.9" stroke-width="0.86"/>
<path d="M416.6 762 L417.9 756.5 L420.5 755.9 L419.5 761.4" stroke-width="0.86"/>
<path d="M410.7 755.3 L412.9 749.8 L415.3 750 L425.7 756 L423.7 761.5 L421.1 761.3Z" fill="#fff" stroke-width="1.08"/>
<path d="M412.9 749.8 L423.3 755.8" stroke-width="0.86"/>
<path d="M415.3 750 L425.7 756" stroke-width="0.86"/>
<path d="M421.1 761.3 L423.3 755.8 L425.7 756 L423.7 761.5" stroke-width="0.86"/>
<path d="M396.3 783.4 L397.4 780.8 L398.8 778.3 L400.2 775.8 L401.9 773.5 L403.6 771.3 L405.5 769.3 L407.4 767.5 L409.4 765.8 L411.4 764.4 L413.5 763.3 L415.5 762.4 L417.6 761.7 L419.5 761.4 L421.4 761.3 L423.2 761.4 L424.9 761.9 L426.5 762.6 L427.9 763.6"/>
<path d="M428.1 794.7 L426.5 797.3 L424.7 799.7 L422.9 802 L420.9 804.2 L418.8 806.1 L416.7 807.8 L414.5 809.3 L412.3 810.5 L410.1 811.4 L408 812.1 L405.9 812.5 L403.9 812.6 L401.9 812.4 L400.2 811.9 L398.5 811.1 L397 810.1 L395.7 808.8 L394.6 807.2 L393.6 805.4 L392.9 803.4 L392.4 801.2 L392.1 798.8 L392.1 796.3 L392.3 793.7 L392.7 791 L393.3 788.3 L394.2 785.5 L395.2 782.7 L396.5 780 L397.9 777.3 L399.5 774.7 L401.3 772.3 L403.1 770 L405.1 767.8 L407.2 765.9 L409.3 764.2 L411.5 762.7 L413.7 761.5 L415.9 760.6 L418 759.9 L420.1 759.5 L422.1 759.4 L424.1 759.6 L425.8 760.1 L427.5 760.9 L429 761.9 L430.3 763.2 L431.4 764.8 L432.4 766.6 L433.1 768.6 L433.6 770.8 L433.9 773.2 L433.9 775.7 L433.7 778.3 L433.3 781 L432.7 783.7 L431.8 786.5 L430.8 789.3 L429.5 792 L428.1 794.7Z"/>
<path d="M418.5 789.1 L417.9 790.1 L417.2 791 L416.6 791.8 L415.8 792.6 L415.1 793.3 L414.3 793.9 L413.5 794.4 L412.7 794.9 L412 795.2 L411.2 795.5 L410.4 795.6 L409.7 795.6 L409 795.5 L408.3 795.4 L407.8 795.1 L407.2 794.7 L406.7 794.2 L406.3 793.7 L406 793 L405.7 792.3 L405.5 791.5 L405.4 790.6 L405.4 789.7 L405.5 788.8 L405.6 787.8 L405.9 786.8 L406.2 785.8 L406.6 784.8 L407 783.8 L407.5 782.9 L408.1 781.9 L408.8 781 L409.4 780.2 L410.2 779.4 L410.9 778.7 L411.7 778.1 L412.5 777.6 L413.3 777.1 L414 776.8 L414.8 776.5 L415.6 776.4 L416.3 776.4 L417 776.5 L417.7 776.6 L418.2 776.9 L418.8 777.3 L419.3 777.8 L419.7 778.3 L420 779 L420.3 779.7 L420.5 780.5 L420.6 781.4 L420.6 782.3 L420.5 783.2 L420.4 784.2 L420.1 785.2 L419.8 786.2 L419.4 787.2 L419 788.2 L418.5 789.1Z"/>
<path d="M413.1 773.9 L413.6 774.3 L414.1 774.8 L414.5 775.3 L414.8 776 L415.1 776.7 L415.3 777.5 L415.4 778.4 L415.4 779.3 L415.3 780.2 L415.2 781.2 L414.9 782.2 L414.6 783.2 L414.2 784.2 L413.8 785.2 L413.3 786.1 L412.7 787.1 L412 788 L411.4 788.8 L410.7 789.6 L409.9 790.3 L409.1 790.9 L408.3 791.4 L407.6 791.9 L406.8 792.2 L406 792.5 L405.2 792.6 L404.5 792.6 L403.8 792.5 L403.2 792.4 L402.6 792.1" stroke-width="0.96"/>
<path d="M397.3 791.9 L397.3 791.7 L397.3 791.5 L397.4 791.3 L397.4 791.1 L397.4 790.9 L397.4 790.7 L397.5 790.5 L397.5 790.3 L397.5 790.1 L397.6 789.9 L397.6 789.7 L397.7 789.5 L397.7 789.3 L397.7 789.1 L397.8 788.9 L397.8 788.7 L397.9 788.5 L397.9 788.3 L398 788.1 L398 787.9 L398.1 787.7 L398.5 787.5 L399.2 787.2 L400.2 787 L401.6 786.8 L402.6 786.7 L403.3 786.7 L403.6 786.8 L403.5 787.1 L403.5 787.3 L403.4 787.6 L403.3 787.8 L403.3 788.1 L403.2 788.3 L403.2 788.5 L403.1 788.8 L403.1 789 L403.1 789.3 L403 789.5 L403 789.8 L403 790 L402.6 790.3 L401.9 790.6 L400.8 791.1 L399.4 791.5 L398.3 791.8 L397.6 791.9Z" stroke-width="0.96"/>
<path d="M405.7 773.6 L405.9 773.4 L406 773.3 L406.2 773.1 L406.3 773 L406.5 772.8 L406.6 772.6 L406.8 772.5 L406.9 772.3 L407.1 772.2 L407.2 772 L407.4 771.9 L407.5 771.7 L407.7 771.6 L407.8 771.5 L408 771.3 L408.1 771.2 L408.3 771 L408.4 770.9 L408.6 770.8 L408.7 770.6 L408.9 770.5 L409.1 770.7 L409.4 771.4 L409.8 772.3 L410.2 773.7 L410.5 774.8 L410.6 775.5 L410.6 776 L410.4 776.1 L410.2 776.3 L410 776.5 L409.8 776.6 L409.6 776.8 L409.5 777 L409.3 777.2 L409.1 777.4 L408.9 777.5 L408.7 777.7 L408.6 777.9 L408.4 778.1 L408.2 778.3 L407.9 778.2 L407.5 777.7 L407 776.8 L406.4 775.6 L406 774.7 L405.8 774Z" stroke-width="0.96"/>
<path d="M419.8 771.6 L425.2 762 L430.4 765 L436.4 771.2 L429.2 779 L424 776Z" fill="#fff" stroke-width="1.08"/>
<path d="M425 774.6 L430.4 765 L436.4 771.2 L429.2 779Z" stroke-width="0.86"/>
<path d="M423.3 786.5 L424.4 777.8 L432.4 773.3 L437.6 776.3 L436 788.6 L428.5 789.5Z" fill="#fff" stroke-width="1.08"/>
<path d="M429.6 780.8 L437.6 776.3 L436 788.6 L428.5 789.5Z" stroke-width="0.86"/>
<path d="M411.6 800 L418.6 794.6 L423.8 797.6 L426.8 804.6 L416.9 812.1 L411.7 809.1Z" fill="#fff" stroke-width="1.08"/>
<path d="M423.8 797.6 L426.8 804.6 L416.9 812.1 L416.8 803Z" stroke-width="0.86"/>
<path d="M395.5 805.2 L402.4 796.9 L407.6 799.9 L412.3 803.6 L407.3 813.4 L402.1 810.4Z" fill="#fff" stroke-width="1.08"/>
<path d="M412.3 803.6 L407.3 813.4 L400.7 808.2 L407.6 799.9Z" stroke-width="0.86"/>
<path d="M437.4 817.1 L436.4 816.4 L435.5 815.6 L434.8 814.5 L434.2 813.4 L433.7 812.1 L433.4 810.7 L433.2 809.1 L433.2 807.5 L433.3 805.8 L433.6 804.1 L434 802.3 L434.6 800.5 L435.3 798.7 L436.1 796.9 L437 795.2 L438 793.5 L439.2 791.9 L440.4 790.4 L441.7 789 L443 787.8 L444.4 786.7 L445.8 785.7 L447.2 784.9 L448.6 784.3 L450 783.9 L451.4 783.6 L452.7 783.6 L453.9 783.7 L455.1 784 L456.2 784.5 L457.9 785.5 L458.9 786.2 L459.7 787 L460.5 788.1 L461.1 789.2 L461.5 790.5 L461.8 791.9 L462 793.5 L462 795.1 L461.9 796.8 L461.7 798.5 L461.2 800.3 L460.7 802.1 L460 803.9 L459.2 805.7 L458.3 807.4 L457.2 809.1 L456.1 810.7 L454.9 812.2 L453.6 813.6 L452.3 814.8 L450.9 815.9 L449.5 816.9 L448.1 817.7 L446.6 818.3 L445.2 818.7 L443.9 819 L442.6 819 L441.3 818.9 L440.2 818.6 L439.1 818.1Z" fill="#fff"/>
<path d="M458.3 807.4 L457.2 809.1 L456.1 810.7 L454.9 812.2 L453.6 813.6 L452.3 814.8 L450.9 815.9 L449.5 816.9 L448.1 817.7 L446.6 818.3 L445.2 818.7 L443.9 819 L442.6 819 L441.3 818.9 L440.2 818.6 L439.1 818.1 L438.1 817.4 L437.3 816.6 L436.5 815.5 L435.9 814.4 L435.5 813.1 L435.2 811.7 L435 810.1 L435 808.5 L435.1 806.8 L435.3 805.1 L435.8 803.3 L436.3 801.5 L437 799.7 L437.8 797.9 L438.7 796.2 L439.8 794.5 L440.9 792.9 L442.1 791.4 L443.4 790 L444.7 788.8 L446.1 787.7 L447.5 786.7 L448.9 785.9 L450.4 785.3 L451.8 784.9 L453.1 784.6 L454.4 784.6 L455.7 784.7 L456.8 785 L457.9 785.5 L458.9 786.2 L459.7 787 L460.5 788.1 L461.1 789.2 L461.5 790.5 L461.8 791.9 L462 793.5 L462 795.1 L461.9 796.8 L461.7 798.5 L461.2 800.3 L460.7 802.1 L460 803.9 L459.2 805.7 L458.3 807.4Z"/>
<path d="M456.6 806.4 L455.7 807.8 L454.8 809.1 L453.8 810.4 L452.7 811.5 L451.6 812.5 L450.5 813.5 L449.3 814.2 L448.1 814.9 L447 815.4 L445.8 815.8 L444.7 816 L443.6 816 L442.6 815.9 L441.6 815.6 L440.8 815.2 L440 814.7 L439.2 814 L438.6 813.1 L438.1 812.2 L437.8 811.1 L437.5 809.9 L437.4 808.7 L437.3 807.3 L437.4 805.9 L437.6 804.5 L438 803 L438.4 801.5 L439 800 L439.7 798.6 L440.4 797.1 L441.3 795.8 L442.2 794.5 L443.2 793.2 L444.3 792.1 L445.4 791.1 L446.5 790.1 L447.7 789.4 L448.9 788.7 L450 788.2 L451.2 787.8 L452.3 787.6 L453.4 787.6 L454.4 787.7 L455.4 788 L456.2 788.4 L457 788.9 L457.8 789.6 L458.4 790.5 L458.9 791.4 L459.2 792.5 L459.5 793.7 L459.6 794.9 L459.7 796.3 L459.6 797.7 L459.4 799.1 L459 800.6 L458.6 802.1 L458 803.6 L457.3 805 L456.6 806.4Z"/>
<path d="M454.5 787.4 L455.3 787.9 L456 788.6 L456.6 789.5 L457.1 790.4 L457.5 791.5 L457.8 792.7 L457.9 793.9 L457.9 795.3 L457.8 796.7 L457.6 798.1 L457.3 799.6 L456.8 801.1 L456.3 802.6 L455.6 804 L454.8 805.4 L454 806.8 L453 808.1 L452 809.4 L451 810.5 L449.9 811.5 L448.7 812.5 L447.6 813.2 L446.4 813.9 L445.2 814.4 L444.1 814.8 L443 815 L441.9 815 L440.9 814.9 L439.9 814.6 L439 814.2" stroke-width="0.96"/>
<path d="M456.6 806.4 L454.1 806.9 L454.3 809.8 L452.1 809.4 L451.6 812.5 L449.8 811.4 L448.7 814.6 L447.5 812.7 L445.8 815.8 L445.2 813.2 L443.1 816 L443.2 813 L440.8 815.2 L441.5 812 L438.9 813.6 L440.2 810.4 L437.8 811.1 L439.6 808.1 L437.3 808 L439.5 805.4 L437.6 804.5 L440.1 802.5 L438.7 800.8 L441.2 799.5 L440.4 797.1 L442.9 796.7 L442.7 793.8 L444.9 794.2 L445.4 791.1 L447.2 792.2 L448.3 789 L449.5 790.9 L451.2 787.8 L451.8 790.4 L453.9 787.6 L453.8 790.6 L456.2 788.4 L455.5 791.6 L458.1 790 L456.8 793.2 L459.2 792.5 L457.4 795.5 L459.7 795.6 L457.5 798.2 L459.4 799.1 L456.9 801.1 L458.3 802.8 L455.8 804.1 L456.6 806.4" stroke-width="0.96"/>
<path d="M462.2 830.2 L461.3 829.6 L460.5 828.7 L459.8 827.8 L459.2 826.6 L458.7 825.4 L458.4 824 L458.2 822.5 L458.2 820.9 L458.3 819.3 L458.6 817.6 L459 815.9 L459.5 814.1 L460.2 812.4 L461 810.7 L461.9 809 L462.9 807.4 L464 805.8 L465.2 804.4 L466.4 803.1 L467.7 801.8 L469 800.8 L470.4 799.8 L471.8 799.1 L473.1 798.5 L474.5 798.1 L475.8 797.8 L477.1 797.8 L478.3 797.9 L479.4 798.2 L480.4 798.7 L482.6 799.9 L483.5 800.6 L484.4 801.4 L485.1 802.4 L485.7 803.5 L486.1 804.8 L486.4 806.2 L486.6 807.6 L486.6 809.2 L486.5 810.9 L486.2 812.5 L485.8 814.3 L485.3 816 L484.6 817.8 L483.9 819.5 L483 821.2 L482 822.8 L480.9 824.3 L479.7 825.8 L478.4 827.1 L477.1 828.3 L475.8 829.4 L474.4 830.3 L473.1 831.1 L471.7 831.7 L470.3 832.1 L469 832.3 L467.8 832.4 L466.6 832.3 L465.4 831.9 L464.4 831.5Z" fill="#fff"/>
<path d="M483 821.2 L482 822.8 L480.9 824.3 L479.7 825.8 L478.4 827.1 L477.1 828.3 L475.8 829.4 L474.4 830.3 L473.1 831.1 L471.7 831.7 L470.3 832.1 L469 832.3 L467.8 832.4 L466.6 832.3 L465.4 831.9 L464.4 831.5 L463.5 830.8 L462.6 830 L461.9 829 L461.3 827.9 L460.9 826.6 L460.6 825.2 L460.4 823.8 L460.4 822.2 L460.5 820.5 L460.8 818.9 L461.2 817.1 L461.7 815.4 L462.4 813.6 L463.1 811.9 L464 810.2 L465 808.6 L466.1 807.1 L467.3 805.6 L468.6 804.3 L469.9 803.1 L471.2 802 L472.6 801.1 L473.9 800.3 L475.3 799.7 L476.7 799.3 L478 799.1 L479.2 799 L480.4 799.1 L481.6 799.5 L482.6 799.9 L483.5 800.6 L484.4 801.4 L485.1 802.4 L485.7 803.5 L486.1 804.8 L486.4 806.2 L486.6 807.6 L486.6 809.2 L486.5 810.9 L486.2 812.5 L485.8 814.3 L485.3 816 L484.6 817.8 L483.9 819.5 L483 821.2Z"/>
<path d="M481 820.1 L480.2 821.3 L479.4 822.6 L478.4 823.7 L477.4 824.8 L476.4 825.7 L475.3 826.6 L474.2 827.3 L473.2 827.9 L472.1 828.4 L471 828.8 L469.9 828.9 L468.9 829 L468 828.9 L467.1 828.6 L466.2 828.3 L465.5 827.7 L464.8 827.1 L464.3 826.3 L463.8 825.4 L463.5 824.4 L463.2 823.3 L463.1 822.1 L463 820.9 L463.1 819.6 L463.4 818.2 L463.7 816.8 L464.1 815.4 L464.6 814.1 L465.2 812.7 L466 811.4 L466.8 810.1 L467.6 808.8 L468.6 807.7 L469.6 806.6 L470.6 805.7 L471.7 804.8 L472.8 804.1 L473.8 803.5 L474.9 803 L476 802.7 L477.1 802.5 L478.1 802.4 L479 802.5 L479.9 802.8 L480.8 803.1 L481.5 803.7 L482.2 804.3 L482.7 805.1 L483.2 806 L483.5 807 L483.8 808.1 L483.9 809.3 L484 810.5 L483.9 811.8 L483.6 813.2 L483.3 814.6 L482.9 816 L482.4 817.3 L481.8 818.7 L481 820.1Z"/>
<path d="M478.6 801.9 L479.3 802.4 L480 803.1 L480.6 803.9 L481 804.7 L481.4 805.8 L481.6 806.8 L481.8 808 L481.8 809.3 L481.7 810.6 L481.5 811.9 L481.2 813.3 L480.7 814.7 L480.2 816.1 L479.6 817.5 L478.9 818.8 L478.1 820.1 L477.2 821.3 L476.3 822.5 L475.3 823.5 L474.2 824.5 L473.2 825.4 L472.1 826.1 L471 826.7 L469.9 827.2 L468.8 827.5 L467.8 827.7 L466.8 827.7 L465.8 827.6 L464.9 827.4 L464.1 827" stroke-width="0.96"/>
<path d="M492.6 862.8 L491 861.7 L489.6 860.3 L488.4 858.7 L487.4 856.7 L486.6 854.6 L486.1 852.3 L485.8 849.7 L485.7 847.1 L485.9 844.3 L486.4 841.4 L487.1 838.4 L488 835.5 L489.1 832.5 L490.5 829.6 L492 826.7 L493.7 823.9 L495.6 821.3 L497.6 818.9 L499.7 816.6 L501.9 814.5 L504.2 812.7 L506.5 811.1 L508.8 809.8 L511.2 808.8 L513.5 808.1 L515.7 807.7 L517.9 807.6 L519.9 807.8 L521.8 808.3 L523.6 809.2 L556.5 828.2 L558.1 829.3 L559.5 830.7 L560.7 832.3 L561.7 834.3 L562.5 836.4 L563 838.7 L563.3 841.3 L563.3 843.9 L563.1 846.7 L562.7 849.6 L562 852.6 L561.1 855.5 L560 858.5 L558.6 861.4 L557.1 864.3 L555.4 867.1 L553.5 869.7 L551.5 872.1 L549.4 874.4 L547.2 876.5 L544.9 878.3 L542.6 879.9 L540.3 881.2 L537.9 882.2 L535.6 882.9 L533.4 883.3 L531.2 883.4 L529.2 883.2 L527.3 882.7 L525.5 881.8Z" fill="#fff" stroke-width="0"/>
<path d="M492.6 862.8 L491 861.7 L489.5 860.3 L488.3 858.6 L487.3 856.6 L486.6 854.5 L486.1 852.1 L485.8 849.5 L485.8 846.8 L486 844 L486.5 841 L487.2 838 L488.1 835 L489.3 832 L490.7 829.1"/>
<path d="M492.6 862.8 L525.5 881.8"/>
<path d="M556.5 828.2 L558.1 829.3 L559.5 830.7 L560.7 832.3 L561.7 834.3 L562.5 836.4 L563 838.7 L563.3 841.3 L563.3 843.9 L563.1 846.7 L562.7 849.6 L562 852.6 L561.1 855.5 L560 858.5 L558.6 861.4 L557.1 864.3 L555.4 867.1 L553.5 869.7 L551.5 872.1 L549.4 874.4 L547.2 876.5 L544.9 878.3 L542.6 879.9 L540.3 881.2 L537.9 882.2 L535.6 882.9 L533.4 883.3 L531.2 883.4 L529.2 883.2 L527.3 882.7 L525.5 881.8"/>
<path d="M505.1 869.9 L503.6 868.5 L502.3 866.8 L501.3 864.8 L500.5 862.6 L499.9 860.2 L499.6 857.5 L499.6 854.7 L499.9 851.8 L500.4 848.8 L501.1 845.7 L502.1 842.6 L503.4 839.5" stroke-width="1.08" stroke-dasharray="4 2"/>
<path d="M517.2 876.9 L515.7 875.5 L514.4 873.8 L513.4 871.8 L512.6 869.6 L512 867.2 L511.8 864.5 L511.7 861.7 L512 858.8 L512.5 855.8 L513.3 852.7 L514.3 849.6 L515.5 846.5" stroke-width="1.08" stroke-dasharray="4 2"/>
<path d="M488.5 829.5 L491.3 824.3 L495.1 826.2 L506.3 832.7 L503.5 837.8 L499.7 836Z" fill="#fff" stroke-width="1.08"/>
<path d="M488.5 829.5 L499.7 836" stroke-width="0.86"/>
<path d="M491.3 824.3 L502.6 830.8" stroke-width="0.86"/>
<path d="M503.5 837.8 L499.7 836 L502.6 830.8 L506.3 832.7" stroke-width="0.86"/>
<path d="M494.7 819.4 L498.5 815.1 L509.7 821.6 L512.1 825.5 L508.4 829.8 L497.1 823.3Z" fill="#fff" stroke-width="1.08"/>
<path d="M494.7 819.4 L506 825.9" stroke-width="0.86"/>
<path d="M498.5 815.1 L509.7 821.6" stroke-width="0.86"/>
<path d="M508.4 829.8 L506 825.9 L509.7 821.6 L512.1 825.5" stroke-width="0.86"/>
<path d="M502.5 811.4 L506.8 808.5 L518 815 L518.7 820.4 L514.5 823.3 L503.3 816.8Z" fill="#fff" stroke-width="1.08"/>
<path d="M502.5 811.4 L513.8 817.9" stroke-width="0.86"/>
<path d="M506.8 808.5 L518 815" stroke-width="0.86"/>
<path d="M514.5 823.3 L513.8 817.9 L518 815 L518.7 820.4" stroke-width="0.86"/>
<path d="M510 812.6 L511 806.3 L515.2 805.1 L526.5 811.6 L525.4 817.9 L521.3 819.1Z" fill="#fff" stroke-width="1.08"/>
<path d="M511 806.3 L522.3 812.8" stroke-width="0.86"/>
<path d="M515.2 805.1 L526.5 811.6" stroke-width="0.86"/>
<path d="M521.3 819.1 L522.3 812.8 L526.5 811.6 L525.4 817.9" stroke-width="0.86"/>
<path d="M516.5 811.3 L519.2 804.9 L522.8 805.5 L534.1 812 L531.4 818.4 L527.8 817.8Z" fill="#fff" stroke-width="1.08"/>
<path d="M519.2 804.9 L530.4 811.4" stroke-width="0.86"/>
<path d="M522.8 805.5 L534.1 812" stroke-width="0.86"/>
<path d="M527.8 817.8 L530.4 811.4 L534.1 812 L531.4 818.4" stroke-width="0.86"/>
<path d="M501.8 841.2 L504.3 835.9 L508.4 837.1 L519.6 843.6 L517.2 848.9 L513 847.7Z" fill="#fff" stroke-width="1.08"/>
<path d="M501.8 841.2 L513 847.7" stroke-width="0.86"/>
<path d="M504.3 835.9 L515.5 842.4" stroke-width="0.86"/>
<path d="M517.2 848.9 L513 847.7 L515.5 842.4 L519.6 843.6" stroke-width="0.86"/>
<path d="M507.4 830.8 L510.9 826.1 L522.1 832.6 L525 836 L521.5 840.6 L510.2 834.1Z" fill="#fff" stroke-width="1.08"/>
<path d="M507.4 830.8 L518.6 837.3" stroke-width="0.86"/>
<path d="M510.9 826.1 L522.1 832.6" stroke-width="0.86"/>
<path d="M521.5 840.6 L518.6 837.3 L522.1 832.6 L525 836" stroke-width="0.86"/>
<path d="M514.8 822 L518.9 818.6 L530.2 825.1 L531.4 830.2 L527.3 833.5 L516.1 827Z" fill="#fff" stroke-width="1.08"/>
<path d="M514.8 822 L526 828.5" stroke-width="0.86"/>
<path d="M518.9 818.6 L530.2 825.1" stroke-width="0.86"/>
<path d="M527.3 833.5 L526 828.5 L530.2 825.1 L531.4 830.2" stroke-width="0.86"/>
<path d="M522.7 822.1 L523.2 816 L527.4 814.3 L538.7 820.8 L538.2 826.9 L534 828.6Z" fill="#fff" stroke-width="1.08"/>
<path d="M523.2 816 L534.5 822.5" stroke-width="0.86"/>
<path d="M527.4 814.3 L538.7 820.8" stroke-width="0.86"/>
<path d="M534 828.6 L534.5 822.5 L538.7 820.8 L538.2 826.9" stroke-width="0.86"/>
<path d="M529.4 819.9 L531.6 813.4 L535.4 813.5 L546.7 820 L544.4 826.5 L540.6 826.4Z" fill="#fff" stroke-width="1.08"/>
<path d="M531.6 813.4 L542.8 819.9" stroke-width="0.86"/>
<path d="M535.4 813.5 L546.7 820" stroke-width="0.86"/>
<path d="M540.6 826.4 L542.8 819.9 L546.7 820 L544.4 826.5" stroke-width="0.86"/>
<path d="M535.2 820.6 L538.9 814.6 L550.1 821.1 L553.1 823 L549.4 829 L538.2 822.5Z" fill="#fff" stroke-width="1.08"/>
<path d="M538.9 814.6 L550.1 821.1" stroke-width="0.86"/>
<path d="M541.8 816.5 L553.1 823" stroke-width="0.86"/>
<path d="M546.5 827.1 L550.1 821.1 L553.1 823 L549.4 829" stroke-width="0.86"/>
<path d="M483.2 848.7 L483.7 840.4 L488.1 838.5 L490.7 840 L490.2 848 L485.8 850.2Z" fill="#fff" stroke-width="1.08"/>
<path d="M490.2 848 L485.8 850.2 L486.3 841.9 L490.7 840Z" stroke-width="0.86"/>
<path d="M553.5 862.2 L552.1 864.3 L550.7 866.4 L549.2 868.3 L547.5 870 L545.8 871.6 L544 873 L542.2 874.3 L540.4 875.3 L538.6 876 L536.8 876.6 L535.1 876.9 L533.4 877 L531.9 876.8 L530.4 876.4 L529 875.8 L527.8 874.9 L526.7 873.8 L525.7 872.5 L525 871.1 L524.4 869.4 L524 867.6 L523.7 865.6 L523.7 863.6 L523.9 861.4 L524.2 859.2 L524.7 856.9 L525.4 854.6 L526.3 852.3 L527.3 850 L528.5 847.8 L529.9 845.7 L531.3 843.6 L532.8 841.7 L534.5 840 L536.2 838.4 L538 837 L539.8 835.7 L541.6 834.7 L543.4 834 L545.2 833.4 L546.9 833.1 L548.6 833 L550.1 833.2 L551.6 833.6 L553 834.2 L554.2 835.1 L555.3 836.2 L556.3 837.5 L557 838.9 L557.6 840.6 L558 842.4 L558.3 844.4 L558.3 846.4 L558.1 848.6 L557.8 850.8 L557.3 853.1 L556.6 855.4 L555.7 857.7 L554.7 860 L553.5 862.2Z" fill="#fff"/>
<path d="M547.8 858.9 L547 860.1 L546.3 861.2 L545.4 862.2 L544.5 863.1 L543.6 864 L542.6 864.8 L541.7 865.4 L540.7 866 L539.7 866.4 L538.7 866.7 L537.8 866.9 L536.9 866.9 L536 866.8 L535.2 866.6 L534.5 866.3 L533.8 865.8 L533.2 865.2 L532.7 864.5 L532.3 863.7 L532 862.8 L531.8 861.8 L531.6 860.8 L531.6 859.6 L531.7 858.5 L531.9 857.3 L532.2 856 L532.6 854.8 L533 853.5 L533.6 852.3 L534.2 851.1 L535 849.9 L535.7 848.8 L536.6 847.8 L537.5 846.9 L538.4 846 L539.4 845.2 L540.3 844.6 L541.3 844 L542.3 843.6 L543.3 843.3 L544.2 843.1 L545.1 843.1 L546 843.2 L546.8 843.4 L547.5 843.7 L548.2 844.2 L548.8 844.8 L549.3 845.5 L549.7 846.3 L550 847.2 L550.2 848.2 L550.4 849.2 L550.4 850.4 L550.3 851.5 L550.1 852.7 L549.8 854 L549.4 855.2 L549 856.5 L548.4 857.7 L547.8 858.9Z"/>
<clipPath id="c3"><path d="M547.8 858.9 L547 860.1 L546.3 861.2 L545.4 862.2 L544.5 863.1 L543.6 864 L542.6 864.8 L541.7 865.4 L540.7 866 L539.7 866.4 L538.7 866.7 L537.8 866.9 L536.9 866.9 L536 866.8 L535.2 866.6 L534.5 866.3 L533.8 865.8 L533.2 865.2 L532.7 864.5 L532.3 863.7 L532 862.8 L531.8 861.8 L531.6 860.8 L531.6 859.6 L531.7 858.5 L531.9 857.3 L532.2 856 L532.6 854.8 L533 853.5 L533.6 852.3 L534.2 851.1 L535 849.9 L535.7 848.8 L536.6 847.8 L537.5 846.9 L538.4 846 L539.4 845.2 L540.3 844.6 L541.3 844 L542.3 843.6 L543.3 843.3 L544.2 843.1 L545.1 843.1 L546 843.2 L546.8 843.4 L547.5 843.7 L548.2 844.2 L548.8 844.8 L549.3 845.5 L549.7 846.3 L550 847.2 L550.2 848.2 L550.4 849.2 L550.4 850.4 L550.3 851.5 L550.1 852.7 L549.8 854 L549.4 855.2 L549 856.5 L548.4 857.7 L547.8 858.9Z"/></clipPath>
<g clip-path="url(#c3)">
<path d="M549.3 845.5 L535.4 837.5" stroke-width="0.72"/>
<path d="M550.2 847.8 L536.3 839.8" stroke-width="0.72"/>
<path d="M550.4 850.8 L536.5 842.8" stroke-width="0.72"/>
<path d="M549.8 854 L536 846" stroke-width="0.72"/>
<path d="M548.6 857.3 L534.7 849.3" stroke-width="0.72"/>
<path d="M546.8 860.4 L532.9 852.4" stroke-width="0.72"/>
<path d="M544.5 863.1 L530.7 855.1" stroke-width="0.72"/>
<path d="M542 865.2 L528.1 857.2" stroke-width="0.72"/>
<path d="M539.4 866.5 L525.5 858.5" stroke-width="0.72"/>
<path d="M536.9 866.9 L523 858.9" stroke-width="0.72"/>
<path d="M533.6 835.7 L534.3 836.2 L534.9 836.8 L535.4 837.5 L535.8 838.3 L536.2 839.2 L536.4 840.2 L536.5 841.2 L536.5 842.4 L536.4 843.5 L536.2 844.7 L536 846 L535.6 847.2 L535.1 848.5 L534.5 849.7 L533.9 850.9 L533.2 852.1 L532.4 853.2 L531.6 854.2 L530.7 855.1 L529.7 856 L528.8 856.8 L527.8 857.4 L526.8 858 L525.9 858.4 L524.9 858.7 L524 858.9 L523 858.9 L522.2 858.8 L521.4 858.6 L520.6 858.3" stroke-width="0.96"/>
</g>
<path d="M546.6 863.6 L550.2 858.1 L557.3 861.5 L561.6 864 L556.1 872.4 L551.8 869.9Z" fill="#fff" stroke-width="1.08"/>
<path d="M554.6 860.6 L561.6 864 L556.1 872.4 L550.9 866.1Z" stroke-width="0.86"/>
<path d="M536 881.1 L537.8 869.5 L542.6 867.3 L547 869.8 L547.6 880.3 L540.3 883.6Z" fill="#fff" stroke-width="1.08"/>
<path d="M547 869.8 L547.6 880.3 L540.3 883.6 L542.2 872Z" stroke-width="0.86"/>
<path d="M523.1 877 L530.9 866.8 L535.2 869.3 L538.4 871.8 L532.2 883.3 L527.9 880.8Z" fill="#fff" stroke-width="1.08"/>
<path d="M538.4 871.8 L532.2 883.3 L527.4 879.5 L535.2 869.3Z" stroke-width="0.86"/>
<path d="M520.2 868.6 L520.7 860 L529.9 857.3 L534.2 859.8 L533.9 865.5 L524.5 871.1Z" fill="#fff" stroke-width="1.08"/>
<path d="M533.9 865.5 L524.5 871.1 L525 862.5 L534.2 859.8Z" stroke-width="0.86"/>
<path d="M524.7 848.5 L530.2 840.1 L534.5 842.6 L539.7 848.9 L536.1 854.4 L529.1 851Z" fill="#fff" stroke-width="1.08"/>
<path d="M536.1 854.4 L529.1 851 L534.5 842.6 L539.7 848.9Z" stroke-width="0.86"/>
<path d="M538.8 832.2 L546 828.9 L550.4 831.4 L548.5 843 L543.7 845.2 L539.4 842.7Z" fill="#fff" stroke-width="1.08"/>
<path d="M543.7 845.2 L543.1 834.7 L550.4 831.4 L548.5 843Z" stroke-width="0.86"/>
<path d="M547.9 840.7 L554.1 829.2 L558.5 831.7 L563.2 835.5 L555.4 845.7 L551.1 843.2Z" fill="#fff" stroke-width="1.08"/>
<path d="M552.3 843.2 L558.5 831.7 L563.2 835.5 L555.4 845.7Z" stroke-width="0.86"/>
<path d="M552.1 852.7 L552.4 847 L561.8 841.4 L566.1 843.9 L565.6 852.5 L556.4 855.2Z" fill="#fff" stroke-width="1.08"/>
<path d="M556.8 849.5 L566.1 843.9 L565.6 852.5 L556.4 855.2Z" stroke-width="0.86"/>
<path d="M562.7 889.6 L561.7 888.9 L560.9 888.1 L560.2 887.1 L559.6 886 L559.2 884.7 L558.8 883.3 L558.7 881.9 L558.6 880.3 L558.8 878.6 L559 876.9 L559.4 875.2 L560 873.4 L560.6 871.7 L561.4 869.9 L562.3 868.3 L563.3 866.6 L564.4 865.1 L565.6 863.6 L566.9 862.3 L568.2 861.1 L569.5 860 L570.9 859.1 L572.3 858.3 L573.6 857.7 L575 857.3 L576.3 857 L577.6 857 L578.8 857.1 L579.9 857.4 L581 857.9 L583.1 859.2 L584.1 859.8 L584.9 860.6 L585.6 861.6 L586.2 862.8 L586.7 864 L587 865.4 L587.2 866.9 L587.2 868.5 L587.1 870.1 L586.8 871.8 L586.4 873.6 L585.9 875.3 L585.2 877.1 L584.4 878.8 L583.5 880.5 L582.5 882.1 L581.4 883.7 L580.2 885.1 L579 886.5 L577.7 887.7 L576.3 888.8 L574.9 889.7 L573.6 890.5 L572.2 891 L570.8 891.5 L569.5 891.7 L568.2 891.8 L567 891.6 L565.9 891.3 L564.9 890.8Z" fill="#fff"/>
<path d="M583.5 880.5 L582.5 882.1 L581.4 883.7 L580.2 885.1 L579 886.5 L577.7 887.7 L576.3 888.8 L574.9 889.7 L573.6 890.5 L572.2 891 L570.8 891.5 L569.5 891.7 L568.2 891.8 L567 891.6 L565.9 891.3 L564.9 890.8 L563.9 890.2 L563.1 889.4 L562.4 888.4 L561.8 887.2 L561.3 886 L561 884.6 L560.8 883.1 L560.8 881.5 L560.9 879.9 L561.2 878.2 L561.6 876.4 L562.1 874.7 L562.8 872.9 L563.6 871.2 L564.5 869.5 L565.5 867.9 L566.6 866.3 L567.8 864.9 L569 863.5 L570.3 862.3 L571.7 861.2 L573.1 860.3 L574.4 859.5 L575.8 859 L577.2 858.5 L578.5 858.3 L579.8 858.2 L581 858.4 L582.1 858.7 L583.1 859.2 L584.1 859.8 L584.9 860.6 L585.6 861.6 L586.2 862.8 L586.7 864 L587 865.4 L587.2 866.9 L587.2 868.5 L587.1 870.1 L586.8 871.8 L586.4 873.6 L585.9 875.3 L585.2 877.1 L584.4 878.8 L583.5 880.5Z"/>
<path d="M581.5 879.4 L580.7 880.6 L579.9 881.9 L578.9 883 L577.9 884.1 L576.9 885 L575.8 885.9 L574.7 886.6 L573.7 887.2 L572.6 887.7 L571.5 888 L570.4 888.2 L569.4 888.3 L568.5 888.2 L567.6 887.9 L566.8 887.6 L566 887 L565.3 886.4 L564.8 885.6 L564.3 884.7 L564 883.7 L563.7 882.6 L563.6 881.4 L563.5 880.2 L563.6 878.9 L563.9 877.5 L564.2 876.1 L564.6 874.7 L565.1 873.4 L565.7 872 L566.5 870.6 L567.3 869.4 L568.1 868.1 L569.1 867 L570.1 865.9 L571.1 865 L572.2 864.1 L573.3 863.4 L574.3 862.8 L575.4 862.3 L576.5 862 L577.6 861.8 L578.6 861.7 L579.5 861.8 L580.4 862.1 L581.2 862.4 L582 863 L582.7 863.6 L583.2 864.4 L583.7 865.3 L584 866.3 L584.3 867.4 L584.4 868.6 L584.5 869.8 L584.4 871.1 L584.1 872.5 L583.8 873.9 L583.4 875.3 L582.9 876.6 L582.3 878 L581.5 879.4Z"/>
<path d="M579.1 861.2 L579.8 861.7 L580.5 862.4 L581.1 863.2 L581.5 864 L581.9 865 L582.1 866.1 L582.3 867.3 L582.3 868.6 L582.2 869.9 L582 871.2 L581.7 872.6 L581.2 874 L580.7 875.4 L580.1 876.8 L579.4 878.1 L578.6 879.4 L577.7 880.6 L576.8 881.8 L575.8 882.8 L574.7 883.8 L573.7 884.7 L572.6 885.4 L571.5 886 L570.4 886.5 L569.3 886.8 L568.3 887 L567.3 887 L566.3 886.9 L565.4 886.7 L564.6 886.3" stroke-width="0.96"/>
<path d="M587.8 903.6 L586.8 902.8 L585.9 902 L585.1 900.9 L584.5 899.7 L584 898.3 L583.7 896.8 L583.5 895.2 L583.5 893.5 L583.6 891.7 L583.9 889.9 L584.3 888 L584.9 886.2 L585.6 884.3 L586.5 882.4 L587.4 880.6 L588.5 878.8 L589.7 877.2 L591 875.6 L592.3 874.2 L593.7 872.9 L595.2 871.7 L596.7 870.7 L598.1 869.9 L599.6 869.2 L601.1 868.8 L602.5 868.5 L603.9 868.4 L605.2 868.6 L606.4 868.9 L607.5 869.4 L609.2 870.4 L610.3 871.2 L611.2 872 L611.9 873.1 L612.6 874.3 L613 875.7 L613.4 877.2 L613.6 878.8 L613.6 880.5 L613.5 882.3 L613.2 884.1 L612.8 886 L612.2 887.8 L611.5 889.7 L610.6 891.6 L609.6 893.4 L608.6 895.2 L607.4 896.8 L606.1 898.4 L604.7 899.8 L603.3 901.1 L601.9 902.3 L600.4 903.3 L598.9 904.1 L597.4 904.8 L596 905.2 L594.6 905.5 L593.2 905.6 L591.9 905.4 L590.7 905.1 L589.5 904.6Z" fill="#fff"/>
<path d="M609.6 893.4 L608.6 895.2 L607.4 896.8 L606.1 898.4 L604.7 899.8 L603.3 901.1 L601.9 902.3 L600.4 903.3 L598.9 904.1 L597.4 904.8 L596 905.2 L594.6 905.5 L593.2 905.6 L591.9 905.4 L590.7 905.1 L589.5 904.6 L588.5 903.8 L587.6 903 L586.9 901.9 L586.2 900.7 L585.8 899.3 L585.4 897.8 L585.2 896.2 L585.2 894.5 L585.3 892.7 L585.6 890.9 L586 889 L586.6 887.2 L587.3 885.3 L588.2 883.4 L589.2 881.6 L590.2 879.8 L591.4 878.2 L592.7 876.6 L594.1 875.2 L595.5 873.9 L596.9 872.7 L598.4 871.7 L599.9 870.9 L601.4 870.2 L602.8 869.8 L604.2 869.5 L605.6 869.4 L606.9 869.6 L608.1 869.9 L609.2 870.4 L610.3 871.2 L611.2 872 L611.9 873.1 L612.6 874.3 L613 875.7 L613.4 877.2 L613.6 878.8 L613.6 880.5 L613.5 882.3 L613.2 884.1 L612.8 886 L612.2 887.8 L611.5 889.7 L610.6 891.6 L609.6 893.4Z"/>
<path d="M607.7 892.3 L606.8 893.7 L605.9 895.1 L604.8 896.3 L603.7 897.5 L602.6 898.6 L601.4 899.5 L600.2 900.3 L599 901 L597.8 901.5 L596.6 901.9 L595.5 902.1 L594.4 902.2 L593.3 902.1 L592.3 901.8 L591.4 901.4 L590.6 900.8 L589.8 900.1 L589.2 899.2 L588.7 898.2 L588.3 897.1 L588 895.9 L587.9 894.6 L587.9 893.2 L588 891.8 L588.2 890.3 L588.6 888.8 L589 887.2 L589.6 885.7 L590.3 884.2 L591.1 882.7 L592 881.3 L592.9 879.9 L594 878.7 L595.1 877.5 L596.2 876.4 L597.4 875.5 L598.6 874.7 L599.8 874 L601 873.5 L602.2 873.1 L603.3 872.9 L604.4 872.8 L605.5 872.9 L606.5 873.2 L607.4 873.6 L608.2 874.2 L609 874.9 L609.6 875.8 L610.1 876.8 L610.5 877.9 L610.8 879.1 L610.9 880.4 L610.9 881.8 L610.8 883.2 L610.6 884.7 L610.2 886.2 L609.8 887.8 L609.2 889.3 L608.5 890.8 L607.7 892.3Z"/>
<path d="M605.7 872.6 L606.5 873.2 L607.2 873.9 L607.8 874.8 L608.4 875.8 L608.8 876.9 L609 878.1 L609.2 879.4 L609.2 880.8 L609.1 882.2 L608.9 883.7 L608.5 885.2 L608 886.8 L607.5 888.3 L606.8 889.8 L606 891.3 L605.1 892.7 L604.1 894.1 L603.1 895.3 L602 896.5 L600.9 897.6 L599.7 898.5 L598.5 899.3 L597.3 900 L596.1 900.5 L594.9 900.9 L593.7 901.1 L592.6 901.2 L591.6 901.1 L590.6 900.8 L589.7 900.4" stroke-width="0.96"/>
<path d="M607.7 892.3 L605.2 892.8 L605.4 895.7 L603.2 895.4 L602.6 898.6 L600.8 897.4 L599.6 900.7 L598.4 898.8 L596.6 901.9 L596 899.4 L593.8 902.1 L593.8 899.2 L591.4 901.4 L592.1 898.2 L589.5 899.6 L590.8 896.4 L588.3 897.1 L590.1 894.1 L587.9 893.9 L590.1 891.3 L588.2 890.3 L590.7 888.2 L589.3 886.4 L591.9 885.1 L591.1 882.7 L593.6 882.2 L593.4 879.3 L595.6 879.6 L596.2 876.4 L598 877.6 L599.2 874.3 L600.4 876.2 L602.2 873.1 L602.8 875.6 L605 872.9 L605 875.8 L607.4 873.6 L606.7 876.8 L609.3 875.4 L608 878.6 L610.5 877.9 L608.7 880.9 L610.9 881.1 L608.7 883.7 L610.6 884.7 L608.1 886.8 L609.5 888.6 L606.9 889.9 L607.7 892.3" stroke-width="0.96"/>
<path d="M616.9 918.6 L616.1 918 L615.3 917.2 L614.6 916.3 L614.1 915.3 L613.7 914.1 L613.4 912.8 L613.2 911.4 L613.2 910 L613.3 908.4 L613.5 906.8 L613.9 905.2 L614.4 903.6 L615 902 L615.8 900.4 L616.6 898.8 L617.5 897.3 L618.6 895.9 L619.7 894.5 L620.8 893.3 L622 892.1 L623.3 891.1 L624.6 890.3 L625.8 889.5 L627.1 889 L628.4 888.6 L629.6 888.4 L630.8 888.3 L631.9 888.4 L633 888.7 L633.9 889.2 L645.2 895.7 L646.1 896.3 L646.9 897.1 L647.5 898 L648.1 899 L648.5 900.2 L648.8 901.5 L648.9 902.9 L649 904.3 L648.8 905.9 L648.6 907.5 L648.2 909.1 L647.7 910.7 L647.1 912.3 L646.4 913.9 L645.5 915.5 L644.6 917 L643.6 918.4 L642.5 919.8 L641.3 921 L640.1 922.2 L638.9 923.2 L637.6 924 L636.3 924.8 L635 925.3 L633.8 925.7 L632.5 925.9 L631.3 926 L630.2 925.9 L629.2 925.6 L628.2 925.1Z" fill="#fff"/>
<path d="M645.5 915.5 L644.6 917 L643.6 918.4 L642.5 919.8 L641.3 921 L640.1 922.2 L638.9 923.2 L637.6 924 L636.3 924.8 L635 925.3 L633.8 925.7 L632.5 925.9 L631.3 926 L630.2 925.9 L629.2 925.6 L628.2 925.1 L627.3 924.5 L626.5 923.7 L625.9 922.8 L625.3 921.8 L624.9 920.6 L624.6 919.3 L624.5 917.9 L624.4 916.5 L624.6 914.9 L624.8 913.3 L625.2 911.7 L625.7 910.1 L626.3 908.5 L627 906.9 L627.9 905.3 L628.8 903.8 L629.8 902.4 L630.9 901 L632.1 899.8 L633.3 898.6 L634.5 897.6 L635.8 896.8 L637.1 896 L638.4 895.5 L639.6 895.1 L640.9 894.9 L642.1 894.8 L643.2 894.9 L644.2 895.2 L645.2 895.7 L646.1 896.3 L646.9 897.1 L647.5 898 L648.1 899 L648.5 900.2 L648.8 901.5 L648.9 902.9 L649 904.3 L648.8 905.9 L648.6 907.5 L648.2 909.1 L647.7 910.7 L647.1 912.3 L646.4 913.9 L645.5 915.5Z"/>
<path d="M644.2 914.8 L643.4 916 L642.6 917.3 L641.6 918.4 L640.6 919.5 L639.6 920.4 L638.5 921.3 L637.4 922 L636.4 922.6 L635.3 923.1 L634.2 923.4 L633.1 923.6 L632.1 923.7 L631.2 923.6 L630.3 923.3 L629.5 923 L628.7 922.4 L628 921.8 L627.5 921 L627 920.1 L626.7 919.1 L626.4 918 L626.3 916.8 L626.2 915.6 L626.3 914.3 L626.6 912.9 L626.9 911.5 L627.3 910.1 L627.8 908.8 L628.4 907.4 L629.2 906 L630 904.8 L630.8 903.5 L631.8 902.4 L632.8 901.3 L633.8 900.4 L634.9 899.5 L636 898.8 L637 898.2 L638.1 897.7 L639.2 897.4 L640.3 897.2 L641.3 897.1 L642.2 897.2 L643.1 897.5 L644 897.8 L644.7 898.4 L645.4 899 L645.9 899.8 L646.4 900.7 L646.7 901.7 L647 902.8 L647.1 904 L647.2 905.2 L647.1 906.5 L646.9 907.9 L646.5 909.3 L646.1 910.7 L645.6 912 L645 913.4 L644.2 914.8Z"/>
<path d="M643.5 914.3 L642.7 915.5 L642 916.6 L641.1 917.6 L640.2 918.5 L639.3 919.4 L638.3 920.2 L637.4 920.8 L636.4 921.4 L635.4 921.8 L634.4 922.1 L633.5 922.3 L632.6 922.3 L631.7 922.2 L630.9 922 L630.2 921.7 L629.5 921.2 L628.9 920.6 L628.4 919.9 L628 919.1 L627.7 918.2 L627.5 917.2 L627.3 916.2 L627.3 915 L627.4 913.9 L627.6 912.7 L627.9 911.4 L628.3 910.2 L628.7 908.9 L629.3 907.7 L629.9 906.5 L630.7 905.3 L631.4 904.2 L632.3 903.2 L633.2 902.3 L634.1 901.4 L635.1 900.6 L636 900 L637 899.4 L638 899 L639 898.7 L639.9 898.5 L640.8 898.5 L641.7 898.6 L642.5 898.8 L643.2 899.1 L643.9 899.6 L644.5 900.2 L645 900.9 L645.4 901.7 L645.7 902.6 L645.9 903.6 L646.1 904.6 L646.1 905.8 L646 906.9 L645.8 908.1 L645.5 909.4 L645.1 910.6 L644.7 911.9 L644.1 913.1 L643.5 914.3Z" stroke-width="0.96"/>
<path d="M632.8 893.1 L633.5 893.6 L634.1 894.2 L634.6 894.9 L635 895.7 L635.3 896.6 L635.5 897.6 L635.7 898.6 L635.7 899.8 L635.6 900.9 L635.4 902.1 L635.1 903.4 L634.7 904.6 L634.3 905.9 L633.7 907.1 L633.1 908.3 L632.3 909.5 L631.6 910.6 L630.7 911.6 L629.8 912.5 L628.9 913.4 L628 914.2 L627 914.8 L626 915.4 L625 915.8 L624.1 916.1 L623.1 916.3 L622.2 916.3 L621.4 916.2 L620.5 916 L619.8 915.7" stroke-width="0.96"/>
<path d="M644.4 901 L634.9 895.5" stroke-width="0.84"/>
<path d="M645.1 903.3 L635.6 897.8" stroke-width="0.84"/>
<path d="M645.2 906.1 L635.6 900.6" stroke-width="0.84"/>
<path d="M644.6 909.2 L635 903.7" stroke-width="0.84"/>
<path d="M643.4 912.3 L633.9 906.8" stroke-width="0.84"/>
<path d="M641.7 915.2 L632.2 909.7" stroke-width="0.84"/>
<path d="M639.6 917.8 L630.1 912.3" stroke-width="0.84"/>
<path d="M637.2 919.8 L627.7 914.3" stroke-width="0.84"/>
<path d="M634.8 921.2 L625.3 915.7" stroke-width="0.84"/>
<path d="M632.4 921.8 L622.9 916.3" stroke-width="0.84"/>
<path d="M226 840.6 L224.4 839.5 L223 838.1 L221.8 836.5 L220.8 834.5 L220 832.4 L219.5 830.1 L219.2 827.5 L219.1 824.9 L219.3 822.1 L219.8 819.2 L220.5 816.2 L221.4 813.3 L222.5 810.3 L223.8 807.4 L225.4 804.5 L227.1 801.7 L228.9 799.1 L230.9 796.7 L233.1 794.4 L235.3 792.3 L237.6 790.5 L239.9 788.9 L242.2 787.6 L244.5 786.6 L246.8 785.9 L249.1 785.5 L251.2 785.4 L253.3 785.6 L255.2 786.1 L257 787 L269.1 794 L270.7 795.1 L272.1 796.5 L273.3 798.1 L274.3 800.1 L275.1 802.2 L275.6 804.5 L275.9 807.1 L275.9 809.7 L275.7 812.5 L275.3 815.4 L274.6 818.4 L273.7 821.3 L272.6 824.3 L271.2 827.2 L269.7 830.1 L268 832.9 L266.1 835.5 L264.1 837.9 L262 840.2 L259.8 842.3 L257.5 844.1 L255.2 845.7 L252.9 847 L250.5 848 L248.2 848.7 L246 849.1 L243.8 849.2 L241.8 849 L239.9 848.5 L238.1 847.6Z" fill="#fff" stroke-width="0"/>
<path d="M225.4 840.3 L223.9 839.1 L222.5 837.6 L221.4 835.8 L220.5 833.9 L219.8 831.6 L219.3 829.2 L219.1 826.7 L219.2 823.9 L219.5 821.1 L220 818.2 L220.7 815.2 L221.7 812.3 L222.9 809.3 L224.3 806.4" stroke-dasharray="5 2.5"/>
<path d="M238.1 847.6 L236.5 846.5 L235 845.1 L233.8 843.3 L232.8 841.3 L232 839.1 L231.5 836.7 L231.3 834.1 L231.3 831.3 L231.5 828.4 L232 825.5 L232.8 822.4 L233.8 819.4 L235 816.4 L236.4 813.4" stroke-dasharray="5 2.5"/>
<path d="M269.1 794 L270.7 795.1 L272.1 796.5 L273.3 798.1 L274.3 800.1 L275.1 802.2 L275.6 804.5 L275.9 807.1 L275.9 809.7 L275.7 812.5 L275.3 815.4 L274.6 818.4 L273.7 821.3 L272.6 824.3 L271.2 827.2 L269.7 830.1 L268 832.9 L266.1 835.5 L264.1 837.9 L262 840.2 L259.8 842.3 L257.5 844.1 L255.2 845.7 L252.9 847 L250.5 848 L248.2 848.7 L246 849.1 L243.8 849.2 L241.8 849 L239.9 848.5 L238.1 847.6"/>
<path d="M228.2 808.1 L229.5 805.8 L230.9 803.6 L232.5 801.5 L234.2 799.6 L235.9 797.9 L237.7 796.3 L239.6 795 L241.5 793.8 L243.4 792.9 L245.2 792.3 L247.1 791.9 L248.8 791.8 L250.5 791.9 L252 792.4 L253.5 793" stroke-width="1.08"/>
<path d="M223.3 808.5 L225.5 804.4 L229.4 806 L241.5 813 L239.3 817.2 L235.4 815.5Z" fill="#fff" stroke-width="1.08"/>
<path d="M223.3 808.5 L235.4 815.5" stroke-width="0.86"/>
<path d="M225.5 804.4 L237.6 811.4" stroke-width="0.86"/>
<path d="M239.3 817.2 L235.4 815.5 L237.6 811.4 L241.5 813" stroke-width="0.86"/>
<path d="M228.2 800.1 L231.1 796.5 L243.2 803.5 L245.9 807 L243 810.7 L230.9 803.7Z" fill="#fff" stroke-width="1.08"/>
<path d="M228.2 800.1 L240.3 807.1" stroke-width="0.86"/>
<path d="M231.1 796.5 L243.2 803.5" stroke-width="0.86"/>
<path d="M243 810.7 L240.3 807.1 L243.2 803.5 L245.9 807" stroke-width="0.86"/>
<path d="M234.4 793.1 L237.7 790.4 L249.8 797.4 L251.1 802.4 L247.7 805.2 L235.6 798.2Z" fill="#fff" stroke-width="1.08"/>
<path d="M234.4 793.1 L246.5 800.1" stroke-width="0.86"/>
<path d="M237.7 790.4 L249.8 797.4" stroke-width="0.86"/>
<path d="M247.7 805.2 L246.5 800.1 L249.8 797.4 L251.1 802.4" stroke-width="0.86"/>
<path d="M240.9 794.1 L241.3 788.1 L244.7 786.6 L256.8 793.6 L256.5 799.6 L253 801.1Z" fill="#fff" stroke-width="1.08"/>
<path d="M241.3 788.1 L253.4 795.1" stroke-width="0.86"/>
<path d="M244.7 786.6 L256.8 793.6" stroke-width="0.86"/>
<path d="M253 801.1 L253.4 795.1 L256.8 793.6 L256.5 799.6" stroke-width="0.86"/>
<path d="M246.3 792.1 L248.2 785.6 L251.4 785.4 L263.5 792.4 L261.6 798.8 L258.4 799.1Z" fill="#fff" stroke-width="1.08"/>
<path d="M248.2 785.6 L260.4 792.6" stroke-width="0.86"/>
<path d="M251.4 785.4 L263.5 792.4" stroke-width="0.86"/>
<path d="M258.4 799.1 L260.4 792.6 L263.5 792.4 L261.6 798.8" stroke-width="0.86"/>
<path d="M251.2 792.1 L254.5 785.9 L257.1 787 L269.2 794 L266 800.2 L263.3 799.1Z" fill="#fff" stroke-width="1.08"/>
<path d="M254.5 785.9 L266.6 792.9" stroke-width="0.86"/>
<path d="M257.1 787 L269.2 794" stroke-width="0.86"/>
<path d="M263.3 799.1 L266.6 792.9 L269.2 794 L266 800.2" stroke-width="0.86"/>
<path d="M239.4 816.9 L240.6 814.6 L241.9 812.4 L243.3 810.3 L244.8 808.2 L246.5 806.4 L248.2 804.7 L250 803.2 L251.9 801.8 L253.7 800.8 L255.6 799.9 L257.4 799.3 L259.2 798.9 L261 798.8 L262.6 798.9 L264.1 799.3 L265.6 800 L266.8 800.9"/>
<path d="M267.1 828.6 L265.7 830.9 L264.1 833.1 L262.4 835.2 L260.7 837.1 L258.8 838.8 L256.9 840.3 L254.9 841.7 L253 842.8 L251 843.6 L249.1 844.2 L247.2 844.5 L245.4 844.6 L243.7 844.4 L242.1 844 L240.6 843.3 L239.3 842.4 L238.1 841.2 L237.1 839.8 L236.2 838.2 L235.6 836.4 L235.1 834.4 L234.9 832.3 L234.9 830.1 L235 827.7 L235.4 825.3 L236 822.8 L236.7 820.3 L237.7 817.9 L238.8 815.4 L240.1 813 L241.5 810.7 L243.1 808.5 L244.8 806.4 L246.5 804.5 L248.4 802.8 L250.3 801.3 L252.3 799.9 L254.2 798.8 L256.2 798 L258.1 797.4 L260 797.1 L261.8 797 L263.5 797.2 L265.1 797.6 L266.6 798.3 L267.9 799.2 L269.1 800.4 L270.1 801.8 L271 803.4 L271.6 805.2 L272.1 807.2 L272.3 809.3 L272.3 811.5 L272.2 813.9 L271.8 816.3 L271.2 818.8 L270.5 821.3 L269.5 823.7 L268.4 826.2 L267.1 828.6Z"/>
<path d="M263.5 826.5 L262.4 828.2 L261.3 829.8 L260.1 831.3 L258.8 832.7 L257.4 834 L256 835.1 L254.6 836 L253.1 836.8 L251.7 837.5 L250.3 837.9 L248.9 838.2 L247.6 838.2 L246.4 838.1 L245.2 837.8 L244.1 837.3 L243.1 836.6 L242.3 835.7 L241.5 834.7 L240.9 833.5 L240.4 832.2 L240.1 830.8 L239.9 829.2 L239.9 827.6 L240 825.9 L240.3 824.1 L240.7 822.3 L241.3 820.5 L242 818.6 L242.8 816.9 L243.7 815.1 L244.8 813.4 L245.9 811.8 L247.1 810.3 L248.4 808.9 L249.8 807.6 L251.2 806.5 L252.6 805.6 L254.1 804.8 L255.5 804.1 L256.9 803.7 L258.3 803.4 L259.6 803.4 L260.8 803.5 L262 803.8 L263.1 804.3 L264.1 805 L264.9 805.9 L265.7 806.9 L266.3 808.1 L266.8 809.4 L267.1 810.8 L267.3 812.4 L267.3 814 L267.2 815.7 L266.9 817.5 L266.5 819.3 L265.9 821.1 L265.2 823 L264.4 824.7 L263.5 826.5Z"/>
<path d="M251.9 803.7 L252.7 804.2 L253.3 804.8 L253.8 805.6 L254.3 806.4 L254.6 807.4 L254.9 808.5 L255 809.6 L255 810.8 L254.9 812.1 L254.7 813.4 L254.4 814.7 L254 816 L253.5 817.4 L252.9 818.7 L252.2 820 L251.4 821.2 L250.6 822.4 L249.7 823.5 L248.7 824.6 L247.7 825.5 L246.7 826.3 L245.7 827 L244.6 827.6 L243.6 828.1 L242.5 828.4 L241.5 828.6 L240.5 828.6 L239.6 828.5 L238.7 828.3 L237.9 827.9" stroke-width="1.08"/>
<path d="M260.9 825 L260.1 826.2 L259.3 827.4 L258.4 828.5 L257.4 829.6 L256.4 830.5 L255.4 831.3 L254.3 832 L253.3 832.6 L252.2 833.1 L251.2 833.4 L250.2 833.6 L249.2 833.6 L248.3 833.5 L247.4 833.3 L246.6 832.9 L245.9 832.4 L245.2 831.8 L244.7 831 L244.2 830.2 L243.9 829.2 L243.7 828.1 L243.5 827 L243.5 825.8 L243.6 824.5 L243.8 823.2 L244.1 821.9 L244.5 820.6 L245 819.2 L245.6 817.9 L246.3 816.6 L247.1 815.4 L247.9 814.2 L248.8 813.1 L249.8 812 L250.8 811.1 L251.8 810.3 L252.9 809.6 L253.9 809 L255 808.5 L256 808.2 L257 808 L258 808 L258.9 808.1 L259.8 808.3 L260.6 808.7 L261.3 809.2 L262 809.8 L262.5 810.6 L263 811.4 L263.3 812.4 L263.5 813.5 L263.7 814.6 L263.7 815.8 L263.6 817.1 L263.4 818.4 L263.1 819.7 L262.7 821 L262.2 822.4 L261.6 823.7 L260.9 825Z" stroke-width="1.08"/>
<path d="M265 808.4 L265.4 809.9 L265.5 811.4 L265.6 813.1 L265.4 814.8 L265.1 816.6 L264.7 818.5 L264.1 820.3 L263.4 822.2 L262.6 824 L261.6 825.7 L260.5 827.5 L259.3 829.1 L258.1 830.6 L256.8 832 L255.4 833.2 L253.9 834.3 L252.5 835.3 L251 836 L249.6 836.6 L248.2 837 L246.8 837.2 L245.5 837.2 L244.2 837" stroke-width="0.96"/>
<path d="M294.2 820.9 L297 815.6 L299.3 816.7 L300.6 817.5 L297.7 822.7 L295.5 821.6Z" fill="#fff" stroke-width="1.08"/>
<path d="M295.5 821.6 L298.3 816.3 L300.6 817.5 L297.7 822.7" stroke-width="0.86"/>
<path d="M298.9 819.7 L298.8 819.8 L298.8 819.9 L298.7 820 L298.6 820.1 L298.5 820.2 L298.4 820.3 L298.3 820.4 L298.2 820.4 L298.1 820.5 L298 820.5 L297.9 820.5 L297.8 820.5 L297.7 820.5 L297.6 820.5 L297.5 820.4 L297.4 820.4 L297.4 820.3 L297.3 820.3 L297.3 820.2 L297.2 820.1 L297.2 820 L297.2 819.9 L297.2 819.7 L297.2 819.6 L297.2 819.5 L297.2 819.3 L297.3 819.2 L297.3 819.1 L297.4 818.9 L297.5 818.8 L297.5 818.7 L297.6 818.6 L297.7 818.5 L297.8 818.4 L297.9 818.3 L298 818.2 L298.1 818.1 L298.2 818.1 L298.3 818 L298.4 818 L298.5 818 L298.6 818 L298.7 818 L298.8 818 L298.9 818 L299 818.1 L299 818.1 L299.1 818.2 L299.1 818.3 L299.2 818.4 L299.2 818.5 L299.2 818.6 L299.2 818.7 L299.2 818.9 L299.2 819 L299.1 819.1 L299.1 819.3 L299.1 819.4 L299 819.5 L298.9 819.7Z" stroke-width="0.84"/>
<path d="M267.7 847.1 L271.3 845.1 L272.6 845.8 L272.7 849.3 L269.1 851.3 L267.8 850.5Z" fill="#fff" stroke-width="1.08"/>
<path d="M272.7 849.3 L269.1 851.3 L269 847.8 L272.6 845.8" stroke-width="0.86"/>
<path d="M271.2 849.1 L271.1 849.2 L271 849.3 L271 849.4 L270.9 849.5 L270.8 849.6 L270.7 849.6 L270.6 849.7 L270.5 849.7 L270.4 849.8 L270.4 849.8 L270.3 849.8 L270.2 849.8 L270.1 849.8 L270 849.8 L270 849.8 L269.9 849.7 L269.8 849.7 L269.8 849.6 L269.8 849.5 L269.7 849.4 L269.7 849.4 L269.7 849.3 L269.7 849.2 L269.7 849 L269.7 848.9 L269.7 848.8 L269.8 848.7 L269.8 848.6 L269.9 848.5 L269.9 848.4 L270 848.3 L270.1 848.2 L270.2 848.1 L270.2 848 L270.3 847.9 L270.4 847.8 L270.5 847.8 L270.6 847.7 L270.7 847.7 L270.8 847.6 L270.9 847.6 L270.9 847.6 L271 847.6 L271.1 847.7 L271.2 847.7 L271.2 847.7 L271.3 847.8 L271.3 847.8 L271.4 847.9 L271.4 848 L271.4 848.1 L271.4 848.2 L271.4 848.3 L271.4 848.4 L271.4 848.5 L271.4 848.6 L271.3 848.7 L271.3 848.9 L271.2 849 L271.2 849.1Z" stroke-width="0.84"/>
<path d="M286.5 855.1 L289.5 852.9 L290.8 853.7 L291.3 857.5 L288.4 859.6 L287.1 858.9Z" fill="#fff" stroke-width="1.08"/>
<path d="M290.8 853.7 L291.3 857.5 L288.4 859.6 L287.8 855.8" stroke-width="0.86"/>
<path d="M290.2 857.3 L290.2 857.4 L290.1 857.5 L290 857.6 L289.9 857.7 L289.8 857.8 L289.8 857.8 L289.7 857.9 L289.6 858 L289.5 858 L289.4 858 L289.3 858 L289.2 858 L289.1 858 L289.1 858 L289 858 L288.9 857.9 L288.9 857.9 L288.8 857.8 L288.8 857.7 L288.8 857.7 L288.7 857.6 L288.7 857.5 L288.7 857.4 L288.7 857.3 L288.8 857.2 L288.8 857 L288.8 856.9 L288.9 856.8 L288.9 856.7 L289 856.6 L289 856.5 L289.1 856.4 L289.2 856.3 L289.3 856.2 L289.4 856.1 L289.4 856 L289.5 856 L289.6 855.9 L289.7 855.9 L289.8 855.9 L289.9 855.8 L290 855.8 L290.1 855.9 L290.1 855.9 L290.2 855.9 L290.3 855.9 L290.3 856 L290.4 856.1 L290.4 856.1 L290.4 856.2 L290.5 856.3 L290.5 856.4 L290.5 856.5 L290.5 856.6 L290.4 856.7 L290.4 856.9 L290.4 857 L290.3 857.1 L290.3 857.2 L290.2 857.3Z" stroke-width="0.84"/>
<path d="M275.8 857.4 L274.7 856.6 L273.8 855.7 L272.9 854.5 L272.3 853.3 L271.8 851.8 L271.4 850.2 L271.2 848.5 L271.2 846.7 L271.3 844.8 L271.6 842.8 L272.1 840.8 L272.7 838.8 L273.5 836.8 L274.4 834.8 L275.4 832.9 L276.6 831 L277.8 829.3 L279.2 827.6 L280.6 826 L282.1 824.7 L283.7 823.4 L285.2 822.3 L286.8 821.5 L288.4 820.8 L289.9 820.3 L291.5 820 L292.9 820 L294.3 820.1 L295.6 820.5 L296.8 821 L297.5 821.4 L298.6 822.2 L299.5 823.1 L300.4 824.3 L301 825.5 L301.5 827 L301.9 828.6 L302.1 830.3 L302.1 832.1 L302 834 L301.7 836 L301.2 838 L300.6 840 L299.9 842 L298.9 844 L297.9 845.9 L296.8 847.8 L295.5 849.5 L294.1 851.2 L292.7 852.8 L291.2 854.1 L289.7 855.4 L288.1 856.5 L286.5 857.3 L284.9 858 L283.4 858.5 L281.8 858.8 L280.4 858.8 L279 858.7 L277.7 858.3 L276.5 857.8Z" fill="#fff"/>
<path d="M297.9 845.9 L296.8 847.8 L295.5 849.5 L294.1 851.2 L292.7 852.8 L291.2 854.1 L289.7 855.4 L288.1 856.5 L286.5 857.3 L284.9 858 L283.4 858.5 L281.8 858.8 L280.4 858.8 L279 858.7 L277.7 858.3 L276.5 857.8 L275.4 857 L274.5 856.1 L273.6 854.9 L273 853.7 L272.5 852.2 L272.1 850.6 L271.9 848.9 L271.9 847.1 L272 845.2 L272.3 843.2 L272.8 841.2 L273.4 839.2 L274.1 837.2 L275.1 835.2 L276.1 833.3 L277.2 831.4 L278.5 829.7 L279.9 828 L281.3 826.4 L282.8 825.1 L284.3 823.8 L285.9 822.7 L287.5 821.9 L289.1 821.2 L290.6 820.7 L292.2 820.4 L293.6 820.4 L295 820.5 L296.3 820.9 L297.5 821.4 L298.6 822.2 L299.5 823.1 L300.4 824.3 L301 825.5 L301.5 827 L301.9 828.6 L302.1 830.3 L302.1 832.1 L302 834 L301.7 836 L301.2 838 L300.6 840 L299.9 842 L298.9 844 L297.9 845.9Z"/>
<path d="M295.6 844.6 L294.7 846 L293.7 847.4 L292.6 848.7 L291.5 849.9 L290.3 851 L289.1 852 L287.9 852.8 L286.6 853.5 L285.4 854.1 L284.1 854.5 L283 854.7 L281.8 854.7 L280.7 854.6 L279.7 854.3 L278.8 853.9 L277.9 853.3 L277.1 852.5 L276.5 851.7 L276 850.6 L275.6 849.5 L275.3 848.3 L275.1 846.9 L275.1 845.5 L275.2 844 L275.4 842.5 L275.8 840.9 L276.3 839.3 L276.9 837.7 L277.6 836.2 L278.4 834.6 L279.3 833.2 L280.3 831.8 L281.4 830.5 L282.5 829.3 L283.7 828.2 L284.9 827.2 L286.1 826.4 L287.4 825.7 L288.6 825.1 L289.9 824.8 L291 824.5 L292.2 824.5 L293.3 824.6 L294.3 824.9 L295.2 825.3 L296.1 825.9 L296.9 826.7 L297.5 827.5 L298 828.6 L298.4 829.7 L298.7 830.9 L298.9 832.3 L298.9 833.7 L298.8 835.2 L298.6 836.7 L298.2 838.3 L297.7 839.9 L297.1 841.5 L296.4 843 L295.6 844.6Z"/>
<path d="M294.6 824.9 L295.4 825.5 L296.2 826.3 L296.8 827.1 L297.3 828.2 L297.7 829.3 L298 830.5 L298.2 831.9 L298.2 833.3 L298.1 834.8 L297.9 836.3 L297.5 837.9 L297 839.5 L296.4 841.1 L295.7 842.6 L294.9 844.1 L294 845.6 L293 847 L291.9 848.3 L290.8 849.5 L289.6 850.6 L288.4 851.6 L287.2 852.4 L285.9 853.1 L284.7 853.7 L283.4 854.1 L282.3 854.3 L281.1 854.3 L280 854.2 L279 853.9 L278.1 853.5" stroke-width="0.96"/>
<path d="M295.6 844.6 L293.2 845 L293.4 847.8 L291.2 847.5 L290.8 850.6 L288.9 849.6 L287.9 852.8 L286.6 851 L285.1 854.2 L284.3 851.8 L282.3 854.7 L282.1 851.9 L279.8 854.4 L280.2 851.3 L277.8 853.2 L278.8 850 L276.2 851.2 L277.8 848.1 L275.3 848.5 L277.3 845.7 L275.1 845.4 L277.4 842.9 L275.6 841.9 L278 840 L276.7 838.2 L279.2 837 L278.4 834.6 L280.8 834.2 L280.6 831.4 L282.8 831.7 L283.2 828.6 L285.1 829.6 L286.1 826.4 L287.4 828.2 L288.9 825 L289.7 827.4 L291.7 824.5 L291.9 827.3 L294.2 824.8 L293.8 827.9 L296.2 826 L295.2 829.2 L297.8 828 L296.2 831.1 L298.7 830.7 L296.7 833.5 L298.9 833.8 L296.6 836.3 L298.4 837.3 L296 839.2 L297.3 841 L294.8 842.2 L295.6 844.6" stroke-width="0.96"/>
<path d="M324.8 837.9 L328.5 831.9 L329.8 832.6 L332.1 834.3 L328.2 840.2 L326.9 839.4Z" fill="#fff" stroke-width="1.08"/>
<path d="M326.1 838.6 L329.8 832.6 L332.1 834.3 L328.2 840.2" stroke-width="0.86"/>
<path d="M329.9 836.6 L329.9 836.7 L329.8 836.8 L329.7 837 L329.6 837.1 L329.5 837.1 L329.4 837.2 L329.3 837.3 L329.2 837.4 L329.1 837.4 L329 837.4 L328.9 837.5 L328.8 837.5 L328.7 837.5 L328.6 837.4 L328.5 837.4 L328.4 837.3 L328.4 837.3 L328.3 837.2 L328.3 837.1 L328.2 837 L328.2 836.9 L328.2 836.8 L328.2 836.7 L328.2 836.6 L328.2 836.4 L328.3 836.3 L328.3 836.2 L328.4 836 L328.4 835.9 L328.5 835.8 L328.6 835.6 L328.6 835.5 L328.7 835.4 L328.8 835.3 L328.9 835.2 L329 835.1 L329.1 835.1 L329.2 835 L329.4 835 L329.5 834.9 L329.6 834.9 L329.7 834.9 L329.7 834.9 L329.8 834.9 L329.9 835 L330 835 L330.1 835.1 L330.1 835.2 L330.2 835.2 L330.2 835.3 L330.2 835.4 L330.2 835.6 L330.2 835.7 L330.2 835.8 L330.2 835.9 L330.2 836.1 L330.1 836.2 L330.1 836.3 L330 836.5 L329.9 836.6Z" stroke-width="0.84"/>
<path d="M293.8 865.8 L294.8 859.3 L300.5 857.9 L301.8 858.6 L300.9 864.5 L295.1 866.6Z" fill="#fff" stroke-width="1.08"/>
<path d="M300.9 864.5 L295.1 866.6 L296.1 860.1 L301.8 858.6" stroke-width="0.86"/>
<path d="M298.9 863 L298.8 863.1 L298.8 863.2 L298.7 863.3 L298.6 863.4 L298.5 863.5 L298.4 863.6 L298.3 863.7 L298.2 863.7 L298.1 863.8 L297.9 863.8 L297.8 863.8 L297.8 863.8 L297.7 863.8 L297.6 863.8 L297.5 863.7 L297.4 863.7 L297.4 863.6 L297.3 863.6 L297.3 863.5 L297.2 863.4 L297.2 863.3 L297.2 863.2 L297.2 863 L297.2 862.9 L297.2 862.8 L297.2 862.6 L297.3 862.5 L297.3 862.4 L297.4 862.2 L297.5 862.1 L297.5 862 L297.6 861.9 L297.7 861.8 L297.8 861.7 L297.9 861.6 L298 861.5 L298.1 861.4 L298.2 861.4 L298.3 861.3 L298.4 861.3 L298.5 861.3 L298.6 861.3 L298.7 861.3 L298.8 861.3 L298.9 861.3 L299 861.4 L299 861.4 L299.1 861.5 L299.1 861.6 L299.2 861.7 L299.2 861.8 L299.2 861.9 L299.2 862 L299.2 862.2 L299.2 862.3 L299.1 862.4 L299.1 862.6 L299 862.7 L299 862.8 L298.9 863Z" stroke-width="0.84"/>
<path d="M317.4 872 L320.4 869.4 L321.7 870.2 L322.7 873.6 L319.7 876.3 L318.4 875.5Z" fill="#fff" stroke-width="1.08"/>
<path d="M321.7 870.2 L322.7 873.6 L319.7 876.3 L318.7 872.8" stroke-width="0.86"/>
<path d="M321.4 873.8 L321.3 874 L321.2 874.1 L321.2 874.2 L321.1 874.2 L321 874.3 L320.9 874.4 L320.8 874.5 L320.7 874.5 L320.6 874.5 L320.6 874.6 L320.5 874.6 L320.4 874.6 L320.3 874.6 L320.2 874.6 L320.2 874.5 L320.1 874.5 L320 874.4 L320 874.4 L320 874.3 L319.9 874.2 L319.9 874.1 L319.9 874 L319.9 873.9 L319.9 873.8 L319.9 873.7 L319.9 873.6 L320 873.5 L320 873.4 L320.1 873.2 L320.1 873.1 L320.2 873 L320.3 872.9 L320.4 872.8 L320.4 872.7 L320.5 872.7 L320.6 872.6 L320.7 872.5 L320.8 872.5 L320.9 872.4 L321 872.4 L321.1 872.4 L321.1 872.4 L321.2 872.4 L321.3 872.4 L321.4 872.4 L321.4 872.5 L321.5 872.5 L321.5 872.6 L321.6 872.7 L321.6 872.8 L321.6 872.9 L321.6 873 L321.6 873.1 L321.6 873.2 L321.6 873.3 L321.6 873.4 L321.5 873.5 L321.5 873.6 L321.4 873.7 L321.4 873.8Z" stroke-width="0.84"/>
<path d="M304.3 875.7 L303.2 874.9 L302.2 873.9 L301.3 872.7 L300.6 871.3 L300.1 869.8 L299.7 868.1 L299.5 866.3 L299.5 864.4 L299.6 862.5 L299.9 860.4 L300.4 858.3 L301 856.2 L301.8 854.1 L302.8 852 L303.9 850 L305.1 848 L306.4 846.2 L307.8 844.4 L309.3 842.8 L310.9 841.4 L312.5 840.1 L314.2 838.9 L315.8 838 L317.5 837.3 L319.1 836.8 L320.7 836.5 L322.2 836.4 L323.7 836.6 L325.1 837 L326.3 837.5 L327 837.9 L328.1 838.7 L329.1 839.7 L330 840.9 L330.7 842.3 L331.2 843.8 L331.6 845.5 L331.8 847.3 L331.9 849.2 L331.7 851.1 L331.4 853.2 L330.9 855.3 L330.3 857.4 L329.5 859.5 L328.5 861.6 L327.4 863.6 L326.2 865.6 L324.9 867.4 L323.5 869.2 L322 870.8 L320.4 872.2 L318.8 873.5 L317.1 874.7 L315.5 875.6 L313.8 876.3 L312.2 876.8 L310.6 877.1 L309.1 877.2 L307.6 877 L306.3 876.6 L305 876.1Z" fill="#fff"/>
<path d="M327.4 863.6 L326.2 865.6 L324.9 867.4 L323.5 869.2 L322 870.8 L320.4 872.2 L318.8 873.5 L317.1 874.7 L315.5 875.6 L313.8 876.3 L312.2 876.8 L310.6 877.1 L309.1 877.2 L307.6 877 L306.3 876.6 L305 876.1 L303.9 875.3 L302.9 874.3 L302 873.1 L301.3 871.7 L300.8 870.2 L300.4 868.5 L300.2 866.7 L300.1 864.8 L300.3 862.9 L300.6 860.8 L301.1 858.7 L301.7 856.6 L302.5 854.5 L303.5 852.4 L304.6 850.4 L305.8 848.4 L307.1 846.6 L308.5 844.8 L310 843.2 L311.6 841.8 L313.2 840.5 L314.9 839.3 L316.5 838.4 L318.2 837.7 L319.8 837.2 L321.4 836.9 L322.9 836.8 L324.4 837 L325.7 837.4 L327 837.9 L328.1 838.7 L329.1 839.7 L330 840.9 L330.7 842.3 L331.2 843.8 L331.6 845.5 L331.8 847.3 L331.9 849.2 L331.7 851.1 L331.4 853.2 L330.9 855.3 L330.3 857.4 L329.5 859.5 L328.5 861.6 L327.4 863.6Z"/>
<path d="M324.8 862.1 L323.9 863.6 L322.9 865 L321.8 866.4 L320.6 867.6 L319.4 868.8 L318.2 869.8 L316.9 870.6 L315.6 871.4 L314.3 871.9 L313.1 872.3 L311.8 872.5 L310.6 872.6 L309.5 872.5 L308.5 872.2 L307.5 871.7 L306.6 871.1 L305.8 870.3 L305.2 869.4 L304.6 868.4 L304.2 867.2 L303.9 865.9 L303.8 864.5 L303.7 863.1 L303.9 861.5 L304.1 859.9 L304.5 858.3 L305 856.7 L305.6 855.1 L306.3 853.5 L307.2 851.9 L308.1 850.4 L309.1 849 L310.2 847.6 L311.4 846.4 L312.6 845.2 L313.8 844.2 L315.1 843.4 L316.4 842.6 L317.7 842.1 L318.9 841.7 L320.2 841.5 L321.4 841.4 L322.5 841.5 L323.5 841.8 L324.5 842.3 L325.4 842.9 L326.2 843.7 L326.8 844.6 L327.4 845.6 L327.8 846.8 L328.1 848.1 L328.2 849.5 L328.3 850.9 L328.1 852.5 L327.9 854.1 L327.5 855.7 L327 857.3 L326.4 858.9 L325.7 860.5 L324.8 862.1Z"/>
<path d="M323.8 841.9 L324.7 842.5 L325.5 843.3 L326.1 844.2 L326.7 845.2 L327.1 846.4 L327.4 847.7 L327.5 849.1 L327.6 850.5 L327.4 852.1 L327.2 853.7 L326.8 855.3 L326.3 856.9 L325.7 858.5 L325 860.1 L324.1 861.7 L323.2 863.2 L322.2 864.6 L321.1 866 L319.9 867.2 L318.7 868.4 L317.5 869.4 L316.2 870.2 L314.9 871 L313.6 871.5 L312.4 871.9 L311.1 872.1 L310 872.2 L308.8 872.1 L307.8 871.8 L306.8 871.3" stroke-width="0.96"/>
<path d="M324.8 862.1 L322.4 862.6 L322.5 865.5 L320.3 865.2 L319.9 868.4 L318 867.3 L317 870.6 L315.6 868.9 L314 872 L313.2 869.7 L311.2 872.6 L310.9 869.8 L308.6 872.2 L309 869.1 L306.5 871 L307.5 867.8 L304.9 869 L306.4 865.8 L304 866.2 L305.9 863.3 L303.8 862.9 L306 860.4 L304.2 859.3 L306.7 857.4 L305.4 855.6 L307.9 854.3 L307.2 851.9 L309.6 851.4 L309.5 848.5 L311.7 848.8 L312.1 845.6 L314 846.7 L315 843.4 L316.4 845.1 L318 842 L318.8 844.3 L320.8 841.4 L321.1 844.2 L323.4 841.8 L323 844.9 L325.5 843 L324.5 846.2 L327.1 845 L325.6 848.2 L328 847.8 L326.1 850.7 L328.2 851.1 L326 853.6 L327.8 854.7 L325.3 856.6 L326.6 858.4 L324.1 859.7 L324.8 862.1" stroke-width="0.96"/>
<path d="M346.4 899.2 L345.4 898.5 L344.5 897.6 L343.7 896.5 L343 895.3 L342.6 893.9 L342.2 892.4 L342 890.8 L342 889 L342.1 887.2 L342.4 885.4 L342.8 883.5 L343.4 881.5 L344.2 879.6 L345 877.7 L346 875.9 L347.1 874.1 L348.3 872.4 L349.6 870.8 L351 869.4 L352.4 868 L353.9 866.9 L355.4 865.9 L356.9 865 L358.4 864.4 L359.9 863.9 L361.3 863.6 L362.7 863.6 L364 863.7 L365.3 864 L366.4 864.6 L376.8 870.6 L377.8 871.3 L378.7 872.2 L379.5 873.3 L380.2 874.5 L380.7 875.9 L381 877.4 L381.2 879 L381.2 880.8 L381.1 882.6 L380.8 884.4 L380.4 886.3 L379.8 888.3 L379 890.2 L378.2 892.1 L377.2 893.9 L376.1 895.7 L374.9 897.4 L373.6 899 L372.2 900.4 L370.8 901.8 L369.3 902.9 L367.8 903.9 L366.3 904.8 L364.8 905.4 L363.3 905.9 L361.9 906.2 L360.5 906.2 L359.2 906.1 L357.9 905.8 L356.8 905.2Z" fill="#fff"/>
<path d="M341 900.9 L344.5 896.1 L354.9 902.1 L356.7 903.9 L353.2 908.8 L342.8 902.8Z" fill="#fff" stroke-width="1.08"/>
<path d="M342.8 902.8 L353.2 908.8" stroke-width="0.86"/>
<path d="M341 900.9 L351.4 906.9" stroke-width="0.86"/>
<path d="M356.7 903.9 L353.2 908.8 L351.4 906.9 L354.9 902.1" stroke-width="0.86"/>
<path d="M338.7 895.3 L342.9 891.8 L353.3 897.8 L354.1 900.7 L350 904.4 L339.6 898.4Z" fill="#fff" stroke-width="1.08"/>
<path d="M339.6 898.4 L350 904.4" stroke-width="0.86"/>
<path d="M338.7 895.3 L349.1 901.3" stroke-width="0.86"/>
<path d="M354.1 900.7 L350 904.4 L349.1 901.3 L353.3 897.8" stroke-width="0.86"/>
<path d="M338.4 891.9 L338.6 888.2 L342.9 886.3 L353.3 892.3 L353.1 895.8 L348.8 897.9Z" fill="#fff" stroke-width="1.08"/>
<path d="M338.4 891.9 L348.8 897.9" stroke-width="0.86"/>
<path d="M338.6 888.2 L349 894.2" stroke-width="0.86"/>
<path d="M353.1 895.8 L348.8 897.9 L349 894.2 L353.3 892.3" stroke-width="0.86"/>
<path d="M339.4 884.3 L340.6 880.3 L344.6 880.3 L354.9 886.3 L353.7 890.1 L349.7 890.3Z" fill="#fff" stroke-width="1.08"/>
<path d="M339.4 884.3 L349.7 890.3" stroke-width="0.86"/>
<path d="M340.6 880.3 L351 886.3" stroke-width="0.86"/>
<path d="M353.7 890.1 L349.7 890.3 L351 886.3 L354.9 886.3" stroke-width="0.86"/>
<path d="M342.4 876.3 L344.6 872.5 L354.9 878.5 L358 880.5 L356 884 L352.8 882.3Z" fill="#fff" stroke-width="1.08"/>
<path d="M342.4 876.3 L352.8 882.3" stroke-width="0.86"/>
<path d="M344.6 872.5 L354.9 878.5" stroke-width="0.86"/>
<path d="M356 884 L352.8 882.3 L354.9 878.5 L358 880.5" stroke-width="0.86"/>
<path d="M347.1 869.1 L349.9 866 L360.3 872 L362.1 875.5 L359.5 878.4 L349.1 872.4Z" fill="#fff" stroke-width="1.08"/>
<path d="M347.1 869.1 L357.5 875.1" stroke-width="0.86"/>
<path d="M349.9 866 L360.3 872" stroke-width="0.86"/>
<path d="M359.5 878.4 L357.5 875.1 L360.3 872 L362.1 875.5" stroke-width="0.86"/>
<path d="M352.9 863.3 L356.1 861.3 L366.5 867.3 L366.8 872.1 L363.9 874 L353.5 868Z" fill="#fff" stroke-width="1.08"/>
<path d="M352.9 863.3 L363.3 869.3" stroke-width="0.86"/>
<path d="M356.1 861.3 L366.5 867.3" stroke-width="0.86"/>
<path d="M363.9 874 L363.3 869.3 L366.5 867.3 L366.8 872.1" stroke-width="0.86"/>
<path d="M358.2 865.3 L359.2 859.9 L362.2 859.1 L372.6 865.1 L371.5 870.5 L368.6 871.3Z" fill="#fff" stroke-width="1.08"/>
<path d="M359.2 859.9 L369.6 865.9" stroke-width="0.86"/>
<path d="M362.2 859.1 L372.6 865.1" stroke-width="0.86"/>
<path d="M368.6 871.3 L369.6 865.9 L372.6 865.1 L371.5 870.5" stroke-width="0.86"/>
<path d="M362.8 864.5 L365.1 859 L367.7 859.7 L378.1 865.7 L375.6 871.1 L373.2 870.5Z" fill="#fff" stroke-width="1.08"/>
<path d="M365.1 859 L375.5 865" stroke-width="0.86"/>
<path d="M367.7 859.7 L378.1 865.7" stroke-width="0.86"/>
<path d="M373.2 870.5 L375.5 865 L378.1 865.7 L375.6 871.1" stroke-width="0.86"/>
<path d="M374.8 870.3 L377.3 865.9 L378.5 866.4 L376.4 870.9" fill="#fff" stroke-width="0.96"/>
<path d="M378.3 872.4 L381.5 868.8 L382.3 869.9 L379.3 873.8" fill="#fff" stroke-width="0.96"/>
<path d="M380.4 876.4 L384 874 L384.3 875.5 L380.8 878.5" fill="#fff" stroke-width="0.96"/>
<path d="M380.8 881.8 L384.4 880.8 L384.1 882.7 L380.5 884.2" fill="#fff" stroke-width="0.96"/>
<path d="M379.6 887.9 L382.6 888.5 L381.9 890.5 L378.6 890.4" fill="#fff" stroke-width="0.96"/>
<path d="M376.8 894 L379 896.2 L377.8 898 L375.3 896.3" fill="#fff" stroke-width="0.96"/>
<path d="M372.8 899.4 L373.9 902.8 L372.4 904.2 L370.9 901.2" fill="#fff" stroke-width="0.96"/>
<path d="M368.1 903.4 L367.9 907.7 L366.4 908.5 L366.1 904.5" fill="#fff" stroke-width="0.96"/>
<path d="M363.2 905.5 L361.8 910.1 L360.4 910.3 L361.3 905.8" fill="#fff" stroke-width="0.96"/>
<path d="M358.8 905.5 L356.3 909.9 L355.1 909.4 L357.2 904.9" fill="#fff" stroke-width="0.96"/>
<path d="M376.9 893.8 L375.9 895.5 L374.7 897.1 L373.4 898.7 L372.1 900.1 L370.7 901.4 L369.3 902.6 L367.8 903.5 L366.3 904.4 L364.9 905 L363.4 905.4 L362 905.7 L360.7 905.8 L359.4 905.6 L358.2 905.3 L357.1 904.8 L356 904.1 L355.2 903.2 L354.4 902.2 L353.8 900.9 L353.3 899.6 L353 898.1 L352.8 896.5 L352.7 894.9 L352.9 893.1 L353.2 891.3 L353.6 889.4 L354.2 887.6 L354.9 885.7 L355.7 883.8 L356.7 882 L357.7 880.3 L358.9 878.7 L360.2 877.1 L361.5 875.7 L362.9 874.4 L364.3 873.2 L365.8 872.3 L367.3 871.4 L368.7 870.8 L370.2 870.4 L371.6 870.1 L372.9 870 L374.2 870.2 L375.4 870.5 L376.6 871 L377.6 871.7 L378.4 872.6 L379.2 873.6 L379.8 874.9 L380.3 876.2 L380.6 877.7 L380.8 879.3 L380.9 880.9 L380.7 882.7 L380.4 884.5 L380 886.4 L379.4 888.2 L378.7 890.1 L377.9 892 L376.9 893.8Z" fill="#fff"/>
<path d="M374.9 892.5 L374 893.9 L373.1 895.2 L372.1 896.5 L371 897.6 L369.9 898.6 L368.8 899.6 L367.6 900.3 L366.4 901 L365.3 901.5 L364.1 901.9 L363 902.1 L361.9 902.1 L360.9 902 L359.9 901.7 L359.1 901.3 L358.3 900.8 L357.5 900.1 L356.9 899.2 L356.4 898.3 L356.1 897.2 L355.8 896 L355.7 894.8 L355.6 893.4 L355.7 892 L355.9 890.6 L356.3 889.1 L356.7 887.6 L357.3 886.1 L358 884.7 L358.7 883.2 L359.6 881.9 L360.5 880.6 L361.5 879.3 L362.6 878.2 L363.7 877.2 L364.8 876.2 L366 875.5 L367.2 874.8 L368.3 874.3 L369.5 873.9 L370.6 873.7 L371.7 873.7 L372.7 873.8 L373.7 874.1 L374.6 874.5 L375.3 875 L376.1 875.7 L376.7 876.6 L377.2 877.5 L377.5 878.6 L377.8 879.8 L377.9 881 L378 882.4 L377.9 883.8 L377.7 885.2 L377.3 886.7 L376.9 888.2 L376.3 889.7 L375.6 891.1 L374.9 892.5Z"/>
<path d="M365.9 869.5 L366.7 870 L367.4 870.7 L368 871.6 L368.5 872.5 L368.9 873.6 L369.1 874.8 L369.3 876 L369.3 877.4 L369.2 878.8 L369 880.2 L368.6 881.7 L368.2 883.2 L367.6 884.7 L367 886.1 L366.2 887.5 L365.3 888.9 L364.4 890.2 L363.4 891.5 L362.3 892.6 L361.2 893.6 L360.1 894.6 L358.9 895.3 L357.8 896 L356.6 896.5 L355.5 896.9 L354.3 897.1 L353.3 897.1 L352.2 897 L351.3 896.7 L350.4 896.3" stroke-width="0.96"/>
<path d="M376.6 877.9 L368.8 873.4" stroke-width="0.84"/>
<path d="M377.1 881.5 L369.3 877" stroke-width="0.84"/>
<path d="M376.6 885.6 L368.8 881.1" stroke-width="0.84"/>
<path d="M375.1 890 L367.3 885.5" stroke-width="0.84"/>
<path d="M372.7 894 L364.9 889.5" stroke-width="0.84"/>
<path d="M369.7 897.5 L361.9 893" stroke-width="0.84"/>
<path d="M366.4 900 L358.6 895.5" stroke-width="0.84"/>
<path d="M363 901.4 L355.2 896.9" stroke-width="0.84"/>
<path d="M386.7 925.3 L385.4 924.4 L384.3 923.3 L383.3 922 L382.6 920.5 L382 918.8 L381.5 916.9 L381.3 915 L381.3 912.8 L381.4 910.6 L381.8 908.4 L382.3 906.1 L383 903.7 L383.9 901.4 L385 899.1 L386.2 896.8 L387.5 894.7 L389 892.6 L390.6 890.7 L392.2 888.9 L394 887.2 L395.8 885.8 L397.6 884.6 L399.5 883.5 L401.3 882.8 L403.1 882.2 L404.9 881.9 L406.6 881.8 L408.2 882 L409.7 882.4 L411.1 883 L421.2 888.9 L422.5 889.7 L423.6 890.9 L424.5 892.2 L425.3 893.7 L425.9 895.4 L426.3 897.2 L426.6 899.2 L426.6 901.3 L426.4 903.5 L426.1 905.8 L425.5 908.1 L424.8 910.4 L423.9 912.8 L422.9 915.1 L421.7 917.3 L420.3 919.5 L418.9 921.6 L417.3 923.5 L415.6 925.3 L413.9 926.9 L412.1 928.3 L410.3 929.6 L408.4 930.6 L406.6 931.4 L404.8 932 L403 932.3 L401.3 932.4 L399.7 932.2 L398.2 931.8 L396.8 931.1Z" fill="#fff"/>
<path d="M421.7 917.3 L420.3 919.5 L418.9 921.6 L417.3 923.5 L415.6 925.3 L413.9 926.9 L412.1 928.3 L410.3 929.6 L408.4 930.6 L406.6 931.4 L404.8 932 L403 932.3 L401.3 932.4 L399.7 932.2 L398.2 931.8 L396.8 931.1 L395.5 930.3 L394.4 929.1 L393.5 927.8 L392.7 926.3 L392.1 924.6 L391.7 922.8 L391.4 920.8 L391.4 918.7 L391.6 916.5 L391.9 914.2 L392.5 911.9 L393.2 909.6 L394.1 907.2 L395.1 904.9 L396.3 902.7 L397.7 900.5 L399.1 898.4 L400.7 896.5 L402.4 894.7 L404.1 893.1 L405.9 891.7 L407.7 890.4 L409.6 889.4 L411.4 888.6 L413.2 888 L415 887.7 L416.7 887.6 L418.3 887.8 L419.8 888.2 L421.2 888.9 L422.5 889.7 L423.6 890.9 L424.5 892.2 L425.3 893.7 L425.9 895.4 L426.3 897.2 L426.6 899.2 L426.6 901.3 L426.4 903.5 L426.1 905.8 L425.5 908.1 L424.8 910.4 L423.9 912.8 L422.9 915.1 L421.7 917.3Z"/>
<path d="M420.4 916.6 L419.2 918.6 L417.9 920.4 L416.5 922.2 L415 923.8 L413.4 925.2 L411.8 926.5 L410.1 927.7 L408.5 928.6 L406.8 929.3 L405.2 929.8 L403.6 930.1 L402.1 930.2 L400.6 930 L399.3 929.6 L398 929.1 L396.9 928.3 L395.9 927.3 L395 926.1 L394.3 924.7 L393.8 923.2 L393.4 921.5 L393.2 919.7 L393.1 917.8 L393.3 915.9 L393.6 913.8 L394.1 911.7 L394.7 909.6 L395.5 907.5 L396.5 905.4 L397.6 903.4 L398.8 901.4 L400.1 899.6 L401.5 897.8 L403 896.2 L404.6 894.8 L406.2 893.5 L407.9 892.3 L409.5 891.4 L411.2 890.7 L412.8 890.2 L414.4 889.9 L415.9 889.8 L417.4 890 L418.7 890.4 L420 890.9 L421.1 891.7 L422.1 892.7 L423 893.9 L423.7 895.3 L424.2 896.8 L424.6 898.5 L424.8 900.3 L424.9 902.2 L424.7 904.1 L424.4 906.2 L423.9 908.3 L423.3 910.4 L422.5 912.5 L421.5 914.6 L420.4 916.6Z" stroke-width="0.96"/>
<path d="M418.9 915.7 L417.8 917.4 L416.7 919 L415.5 920.5 L414.2 921.9 L412.8 923.2 L411.4 924.3 L410 925.2 L408.5 926 L407.1 926.7 L405.7 927.1 L404.3 927.4 L403 927.4 L401.8 927.3 L400.6 927 L399.5 926.5 L398.5 925.8 L397.7 924.9 L396.9 923.9 L396.3 922.7 L395.8 921.4 L395.5 920 L395.3 918.4 L395.3 916.8 L395.4 915.1 L395.7 913.3 L396.1 911.5 L396.7 909.7 L397.4 907.8 L398.2 906.1 L399.1 904.3 L400.2 902.6 L401.3 901 L402.5 899.5 L403.8 898.1 L405.2 896.8 L406.6 895.7 L408 894.8 L409.5 894 L410.9 893.3 L412.3 892.9 L413.7 892.6 L415 892.6 L416.2 892.7 L417.4 893 L418.5 893.5 L419.5 894.2 L420.3 895.1 L421.1 896.1 L421.7 897.3 L422.2 898.6 L422.5 900 L422.7 901.6 L422.7 903.2 L422.6 904.9 L422.3 906.7 L421.9 908.5 L421.3 910.3 L420.6 912.2 L419.8 913.9 L418.9 915.7Z"/>
<path d="M416.3 914.2 L415.5 915.4 L414.7 916.6 L413.8 917.7 L412.8 918.8 L411.8 919.7 L410.8 920.5 L409.7 921.2 L408.7 921.8 L407.6 922.3 L406.6 922.6 L405.6 922.8 L404.6 922.8 L403.7 922.7 L402.8 922.5 L402 922.1 L401.3 921.6 L400.6 921 L400.1 920.2 L399.6 919.4 L399.3 918.4 L399.1 917.3 L398.9 916.2 L398.9 915 L399 913.7 L399.2 912.4 L399.5 911.1 L399.9 909.8 L400.4 908.4 L401 907.1 L401.7 905.8 L402.5 904.6 L403.3 903.4 L404.2 902.3 L405.2 901.2 L406.2 900.3 L407.2 899.5 L408.3 898.8 L409.3 898.2 L410.4 897.7 L411.4 897.4 L412.4 897.2 L413.4 897.2 L414.3 897.3 L415.2 897.5 L416 897.9 L416.7 898.4 L417.4 899 L417.9 899.8 L418.4 900.6 L418.7 901.6 L418.9 902.7 L419.1 903.8 L419.1 905 L419 906.3 L418.8 907.6 L418.5 908.9 L418.1 910.2 L417.6 911.6 L417 912.9 L416.3 914.2Z"/>
<path d="M414.7 913.3 L414.1 914.3 L413.4 915.2 L412.7 916.1 L412 916.9 L411.2 917.6 L410.4 918.3 L409.6 918.8 L408.7 919.3 L407.9 919.6 L407.1 919.9 L406.3 920 L405.5 920.1 L404.8 920 L404.1 919.8 L403.5 919.5 L402.9 919.1 L402.4 918.6 L402 918 L401.7 917.4 L401.4 916.6 L401.2 915.8 L401.1 914.9 L401.1 913.9 L401.1 912.9 L401.3 911.9 L401.5 910.9 L401.9 909.8 L402.3 908.8 L402.7 907.7 L403.3 906.7 L403.9 905.7 L404.6 904.8 L405.3 903.9 L406 903.1 L406.8 902.4 L407.6 901.7 L408.4 901.2 L409.3 900.7 L410.1 900.4 L410.9 900.1 L411.7 900 L412.5 899.9 L413.2 900 L413.9 900.2 L414.5 900.5 L415.1 900.9 L415.6 901.4 L416 902 L416.3 902.6 L416.6 903.4 L416.8 904.2 L416.9 905.1 L416.9 906.1 L416.9 907.1 L416.7 908.1 L416.5 909.1 L416.1 910.2 L415.7 911.2 L415.3 912.3 L414.7 913.3Z"/>
<path d="M570.2 736 L568.1 734.5 L566.2 732.7 L564.6 730.5 L563.3 727.9 L562.3 725.1 L561.6 722 L561.6 722 L560.8 721 L559.1 720.9 L556.9 721.4 L555.8 721.4 L555.7 718.4 L556.8 717.1 L559 715.2 L560.7 713.2 L561.4 711.4 L561.4 711.4 L561 710 L559.7 709.2 L557.7 708.8 L556.8 708.3 L557.6 704.9 L558.8 704 L561.1 702.9 L563 701.4 L564.1 699.8 L564.1 699.8 L564.2 698.1 L563.3 696.6 L561.8 695.3 L561.2 694.4 L562.8 691 L564 690.6 L566.2 690.3 L568.1 689.6 L569.4 688.2 L569.4 688.2 L569.9 686.4 L569.6 684.4 L568.7 682.4 L568.5 681.1 L570.7 678.1 L571.8 678.1 L573.6 678.8 L575.3 678.7 L576.7 677.8 L576.7 677.8 L577.6 676.1 L578 673.7 L577.8 671.2 L578 669.7 L580.5 667.3 L581.4 667.8 L582.7 669.3 L584.1 670.1 L585.5 669.7 L585.5 669.7 L586.7 668.2 L587.6 665.7 L588.1 662.9 L588.7 661.3 L591.3 659.8 L591.9 660.8 L592.6 663 L593.5 664.4 L594.7 664.5 L594.7 664.5 L597.8 663.6 L600.7 663.1 L603.6 662.9 L606.3 663.2 L608.8 663.9 L611.2 665 L615.5 667.5 L617.6 669 L619.5 670.8 L621.1 673 L622.4 675.6 L623.4 678.4 L624.1 681.5 L624.5 684.8 L624.5 688.4 L624.3 692.1 L623.7 695.9 L622.8 699.8 L621.6 703.7 L620.1 707.6 L618.3 711.5 L616.3 715.3 L614 718.9 L611.6 722.4 L608.9 725.7 L606.1 728.7 L603.2 731.4 L600.2 733.8 L597.1 735.9 L594 737.6 L590.9 739 L587.9 739.9 L584.9 740.4 L582.1 740.6 L579.4 740.3 L576.8 739.6 L574.5 738.5Z" fill="#fff" stroke-width="0"/>
<path d="M568.4 734.8 L566.4 732.9 L564.7 730.7 L563.4 728.1 L562.3 725.2 L561.6 722" stroke-dasharray="4 2"/>
<path d="M561.6 722 L560.8 721 L559.1 720.9 L556.9 721.4 L555.8 721.4 L555.7 718.4 L556.8 717.1 L559 715.2 L560.7 713.2 L561.4 711.4 L561.4 711.4 L561 710 L559.7 709.2 L557.7 708.8 L556.8 708.3 L557.6 704.9 L558.8 704 L561.1 702.9 L563 701.4 L564.1 699.8 L564.1 699.8 L564.2 698.1 L563.3 696.6 L561.8 695.3 L561.2 694.4 L562.8 691 L564 690.6 L566.2 690.3 L568.1 689.6 L569.4 688.2 L569.4 688.2 L569.9 686.4 L569.6 684.4 L568.7 682.4 L568.5 681.1 L570.7 678.1 L571.8 678.1 L573.6 678.8 L575.3 678.7 L576.7 677.8 L576.7 677.8 L577.6 676.1 L578 673.7 L577.8 671.2 L578 669.7 L580.5 667.3 L581.4 667.8 L582.7 669.3 L584.1 670.1 L585.5 669.7 L585.5 669.7 L586.7 668.2 L587.6 665.7 L588.1 662.9 L588.7 661.3 L591.3 659.8 L591.9 660.8 L592.6 663 L593.5 664.4 L594.7 664.5" stroke-width="1.08"/>
<path d="M615.5 667.5 L617.6 669 L619.5 670.8 L621.1 673 L622.4 675.6 L623.4 678.4 L624.1 681.5 L624.5 684.8 L624.5 688.4 L624.3 692.1 L623.7 695.9 L622.8 699.8 L621.6 703.7 L620.1 707.6 L618.3 711.5 L616.3 715.3 L614 718.9 L611.6 722.4 L608.9 725.7 L606.1 728.7 L603.2 731.4 L600.2 733.8 L597.1 735.9 L594 737.6 L590.9 739 L587.9 739.9 L584.9 740.4 L582.1 740.6 L579.4 740.3 L576.8 739.6 L574.5 738.5" stroke-dasharray="7 2"/>
<path d="M594.7 664.5 L597.8 663.6 L600.7 663.1 L603.6 662.9 L606.3 663.2 L608.8 663.9 L611.2 665" stroke-width="1.08"/>
<path d="M555.8 721.4 L560.1 723.9" stroke-width="0.96"/>
<path d="M555.7 718.4 L560 720.9" stroke-width="0.96"/>
<path d="M565.9 724.5 L565.1 723.5 L563.4 723.4 L561.2 723.9 L560.1 723.9 L560 720.9 L561.1 719.6 L563.3 717.7 L565 715.7 L565.7 713.9" fill="#fff" stroke-width="0.96"/>
<path d="M556.8 708.3 L561.2 710.8" stroke-width="0.96"/>
<path d="M557.6 704.9 L562 707.4" stroke-width="0.96"/>
<path d="M565.7 713.9 L565.4 712.5 L564 711.7 L562.1 711.3 L561.2 710.8 L562 707.4 L563.2 706.5 L565.5 705.4 L567.3 703.9 L568.4 702.3" fill="#fff" stroke-width="0.96"/>
<path d="M561.2 694.4 L565.6 696.9" stroke-width="0.96"/>
<path d="M562.8 691 L567.1 693.5" stroke-width="0.96"/>
<path d="M568.4 702.3 L568.5 700.6 L567.6 699.1 L566.2 697.8 L565.6 696.9 L567.1 693.5 L568.3 693.1 L570.5 692.8 L572.4 692.1 L573.7 690.7" fill="#fff" stroke-width="0.96"/>
<path d="M568.5 681.1 L572.8 683.6" stroke-width="0.96"/>
<path d="M570.7 678.1 L575 680.6" stroke-width="0.96"/>
<path d="M573.7 690.7 L574.2 688.9 L573.9 686.9 L573.1 684.9 L572.8 683.6 L575 680.6 L576.1 680.6 L577.9 681.3 L579.7 681.2 L581.1 680.3" fill="#fff" stroke-width="0.96"/>
<path d="M578 669.7 L582.3 672.2" stroke-width="0.96"/>
<path d="M580.5 667.3 L584.8 669.8" stroke-width="0.96"/>
<path d="M581.1 680.3 L582 678.6 L582.3 676.2 L582.1 673.7 L582.3 672.2 L584.8 669.8 L585.7 670.3 L587 671.8 L588.4 672.6 L589.8 672.2" fill="#fff" stroke-width="0.96"/>
<path d="M588.7 661.3 L593 663.8" stroke-width="0.96"/>
<path d="M591.3 659.8 L595.7 662.3" stroke-width="0.96"/>
<path d="M589.8 672.2 L591 670.7 L591.9 668.2 L592.5 665.4 L593 663.8 L595.7 662.3 L596.2 663.3 L596.9 665.5 L597.8 666.9 L599.1 667" fill="#fff" stroke-width="0.96"/>
<path d="M614.2 714.1 L612.2 717.4 L610 720.5 L607.6 723.5 L605 726.2 L602.4 728.6 L599.7 730.8 L596.9 732.7 L594.1 734.2 L591.3 735.4 L588.6 736.3 L585.9 736.8 L583.3 736.9 L580.9 736.7 L578.6 736 L576.5 735 L574.6 733.7 L572.9 732 L571.5 730 L570.3 727.8 L569.4 725.2 L568.7 722.4 L568.4 719.4 L568.3 716.2 L568.6 712.9 L569.1 709.4 L569.9 705.9 L571 702.3 L572.3 698.8 L573.9 695.3 L575.8 691.9 L577.8 688.6 L580 685.5 L582.4 682.5 L585 679.8 L587.6 677.4 L590.3 675.2 L593.1 673.3 L595.9 671.8 L598.7 670.6 L601.4 669.7 L604.1 669.2 L606.7 669.1 L609.1 669.3 L611.4 670 L613.5 671 L615.4 672.3 L617.1 674 L618.5 676 L619.7 678.2 L620.6 680.8 L621.3 683.6 L621.6 686.6 L621.7 689.8 L621.4 693.1 L620.9 696.6 L620.1 700.1 L619 703.7 L617.7 707.2 L616.1 710.7 L614.2 714.1Z"/>
<path d="M615.1 675.4 L616.5 677.2 L617.7 679.2 L618.7 681.6 L619.4 684.2 L619.8 687 L619.9 690 L619.7 693.1 L619.3 696.3 L618.6 699.6 L617.6 703 L616.4 706.3 L614.9 709.7 L613.2 712.9 L611.3 716 L609.2 719 L607 721.8 L604.6 724.4 L602.1 726.7 L599.5 728.8 L596.9 730.6 L594.3 732.1 L591.6 733.2 L589 734" stroke-width="0.96"/>
<path d="M607 709.9 L605.7 711.9 L604.3 713.9 L602.8 715.7 L601.2 717.4 L599.6 718.9 L597.9 720.3 L596.2 721.5 L594.5 722.4 L592.7 723.2 L591 723.7 L589.4 724 L587.8 724.1 L586.2 723.9 L584.8 723.5 L583.5 722.9 L582.3 722.1 L581.3 721 L580.4 719.8 L579.6 718.4 L579.1 716.8 L578.7 715.1 L578.5 713.2 L578.4 711.2 L578.6 709.1 L578.9 707 L579.4 704.8 L580.1 702.6 L580.9 700.4 L581.9 698.2 L583 696.1 L584.3 694.1 L585.7 692.1 L587.2 690.3 L588.8 688.6 L590.4 687.1 L592.1 685.7 L593.8 684.5 L595.5 683.6 L597.3 682.8 L599 682.3 L600.6 682 L602.2 681.9 L603.8 682.1 L605.2 682.5 L606.5 683.1 L607.7 683.9 L608.7 685 L609.6 686.2 L610.4 687.6 L610.9 689.2 L611.3 690.9 L611.5 692.8 L611.6 694.8 L611.4 696.9 L611.1 699 L610.6 701.2 L609.9 703.4 L609.1 705.6 L608.1 707.8 L607 709.9Z"/>
<path d="M598.4 685.5 L599.8 685.2 L601.2 685.1 L602.5 685.3 L603.7 685.6 L604.8 686.2 L605.9 686.9 L606.7 687.8 L607.5 688.9 L608.1 690.2 L608.6 691.6 L608.9 693.1 L609 694.7 L609 696.5 L608.9 698.3 L608.5 700.1 L608.1 702 L607.4 703.9 L606.7 705.8 L605.8 707.7 L604.7 709.5 L603.6 711.2 L602.4 712.9 L601.1 714.4 L599.7 715.8 L598.2 717.1 L596.8 718.2 L595.3 719.1 L593.8 719.8 L592.3 720.4 L590.8 720.7 L589.4 720.9 L588.1 720.8 L586.8 720.6 L585.7 720.1 L584.6 719.5 L583.6 718.6" stroke-width="0.96"/>
<path d="M602.5 707.4 L601.7 708.6 L600.9 709.9 L599.9 711 L598.9 712.1 L597.9 713 L596.8 713.9 L595.7 714.6 L594.7 715.2 L593.6 715.7 L592.5 716 L591.4 716.2 L590.4 716.3 L589.5 716.2 L588.6 715.9 L587.8 715.6 L587 715 L586.3 714.4 L585.8 713.6 L585.3 712.7 L585 711.7 L584.7 710.6 L584.6 709.4 L584.5 708.2 L584.6 706.9 L584.9 705.5 L585.2 704.1 L585.6 702.7 L586.1 701.4 L586.7 700 L587.5 698.6 L588.3 697.4 L589.1 696.1 L590.1 695 L591.1 693.9 L592.1 693 L593.2 692.1 L594.3 691.4 L595.3 690.8 L596.4 690.3 L597.5 690 L598.6 689.8 L599.6 689.7 L600.5 689.8 L601.4 690.1 L602.2 690.4 L603 691 L603.7 691.6 L604.2 692.4 L604.7 693.3 L605 694.3 L605.3 695.4 L605.4 696.6 L605.5 697.8 L605.4 699.1 L605.1 700.5 L604.8 701.9 L604.4 703.3 L603.9 704.6 L603.3 706 L602.5 707.4Z"/>
<path d="M597.1 687.4 L597.8 688 L598.5 688.6 L599 689.4 L599.5 690.3 L599.8 691.3 L600.1 692.4 L600.2 693.6 L600.3 694.8 L600.2 696.1 L600 697.5 L599.6 698.9 L599.2 700.3 L598.7 701.6 L598.1 703 L597.3 704.4 L596.5 705.6 L595.7 706.9 L594.7 708 L593.7 709.1 L592.7 710 L591.6 710.9 L590.6 711.6 L589.5 712.2 L588.4 712.7 L587.3 713 L586.2 713.2 L585.2 713.3 L584.3 713.2 L583.4 712.9 L582.6 712.6" stroke-width="1.08"/>
<path d="M598 688.1 L602.3 690.6" stroke-width="0.84"/>
<path d="M599.4 690.1 L603.7 692.6" stroke-width="0.84"/>
<path d="M600.1 692.7 L604.5 695.2" stroke-width="0.84"/>
<path d="M600.2 695.8 L604.5 698.3" stroke-width="0.84"/>
<path d="M599.5 699.2 L603.9 701.7" stroke-width="0.84"/>
<path d="M598.2 702.7 L602.6 705.2" stroke-width="0.84"/>
<path d="M596.3 706 L600.7 708.5" stroke-width="0.84"/>
<path d="M594 708.8 L598.3 711.3" stroke-width="0.84"/>
<path d="M591.4 711.1 L595.7 713.6" stroke-width="0.84"/>
<path d="M588.6 712.6 L593 715.1" stroke-width="0.84"/>
<path d="M586 713.3 L590.3 715.8" stroke-width="0.84"/>
<path d="M583.6 713 L587.9 715.5" stroke-width="0.84"/>
<path d="M624.3 741.3 L623.3 740.6 L622.5 739.7 L621.7 738.6 L621.1 737.4 L620.6 736.1 L620.3 734.6 L620.1 733 L620.1 731.4 L620.2 729.6 L620.5 727.8 L620.9 726 L621.5 724.1 L622.2 722.3 L623 720.4 L624 718.6 L625 716.9 L626.2 715.3 L627.4 713.7 L628.8 712.3 L630.2 711 L631.6 709.9 L633 708.9 L634.5 708.1 L636 707.4 L637.4 707 L638.8 706.7 L640.1 706.7 L641.4 706.8 L642.6 707.1 L643.7 707.6 L645.9 708.9 L646.9 709.6 L647.8 710.5 L648.5 711.5 L649.2 712.7 L649.6 714.1 L650 715.5 L650.2 717.1 L650.2 718.8 L650.1 720.5 L649.8 722.3 L649.4 724.2 L648.8 726 L648.1 727.9 L647.2 729.7 L646.3 731.5 L645.2 733.2 L644 734.9 L642.8 736.4 L641.5 737.9 L640.1 739.1 L638.7 740.3 L637.2 741.3 L635.7 742.1 L634.3 742.7 L632.8 743.2 L631.4 743.4 L630.1 743.5 L628.8 743.3 L627.6 743 L626.5 742.5Z" fill="#fff"/>
<path d="M646.3 731.5 L645.2 733.2 L644 734.9 L642.8 736.4 L641.5 737.9 L640.1 739.1 L638.7 740.3 L637.2 741.3 L635.7 742.1 L634.3 742.7 L632.8 743.2 L631.4 743.4 L630.1 743.5 L628.8 743.3 L627.6 743 L626.5 742.5 L625.5 741.8 L624.6 740.9 L623.9 739.9 L623.2 738.7 L622.8 737.3 L622.4 735.9 L622.2 734.3 L622.2 732.6 L622.3 730.9 L622.6 729.1 L623 727.2 L623.6 725.4 L624.3 723.5 L625.2 721.7 L626.1 719.9 L627.2 718.2 L628.4 716.5 L629.6 715 L630.9 713.5 L632.3 712.3 L633.7 711.1 L635.2 710.1 L636.7 709.3 L638.1 708.7 L639.6 708.2 L641 708 L642.3 707.9 L643.6 708.1 L644.8 708.4 L645.9 708.9 L646.9 709.6 L647.8 710.5 L648.5 711.5 L649.2 712.7 L649.6 714.1 L650 715.5 L650.2 717.1 L650.2 718.8 L650.1 720.5 L649.8 722.3 L649.4 724.2 L648.8 726 L648.1 727.9 L647.2 729.7 L646.3 731.5Z"/>
<path d="M641.4 728.7 L640.8 729.6 L640.2 730.4 L639.6 731.2 L638.9 732 L638.2 732.6 L637.5 733.2 L636.7 733.7 L636 734.1 L635.2 734.5 L634.5 734.7 L633.7 734.8 L633.1 734.9 L632.4 734.8 L631.8 734.6 L631.2 734.4 L630.7 734 L630.2 733.5 L629.8 733 L629.5 732.4 L629.3 731.7 L629.1 730.9 L629 730.1 L629 729.3 L629.1 728.4 L629.2 727.4 L629.4 726.5 L629.7 725.5 L630.1 724.6 L630.5 723.6 L631 722.7 L631.6 721.8 L632.2 721 L632.8 720.2 L633.5 719.4 L634.2 718.8 L634.9 718.2 L635.7 717.7 L636.4 717.3 L637.2 716.9 L637.9 716.7 L638.7 716.6 L639.3 716.5 L640 716.6 L640.6 716.8 L641.2 717 L641.7 717.4 L642.2 717.9 L642.6 718.4 L642.9 719 L643.1 719.7 L643.3 720.5 L643.4 721.3 L643.4 722.1 L643.3 723 L643.2 724 L643 724.9 L642.7 725.9 L642.3 726.8 L641.9 727.8 L641.4 728.7Z"/>
<path d="M639 715.8 L639.6 716.2 L640 716.6 L640.4 717.1 L640.7 717.8 L641 718.5 L641.1 719.2 L641.2 720 L641.2 720.9 L641.2 721.8 L641 722.7 L640.8 723.7 L640.5 724.6 L640.2 725.6 L639.7 726.5 L639.2 727.5 L638.7 728.3 L638.1 729.2 L637.4 730 L636.7 730.7 L636 731.4 L635.3 732 L634.6 732.5 L633.8 732.9 L633 733.2 L632.3 733.5 L631.6 733.6 L630.9 733.6 L630.2 733.5 L629.6 733.4 L629 733.1" stroke-width="0.96"/>
<path d="M652.9 746.7 L656.8 738.1 L662.1 732.3 L668.9 729.2 L673.9 728.5 L676.9 730.2 L679.3 732.4 L681.2 734.8 L682.4 736.5 L682.9 737.2 L683.4 738 L683.7 738.9 L684.1 740.1 L684.3 741.4 L684.4 742.5 L684.4 743.5 L684.3 744.5 L684.1 745.8 L683.9 747.1 L683.5 748.4 L683.1 749.7 L682.6 751 L682.1 752.3 L681.4 753.6 L680.7 754.9 L679.9 756.1 L679.1 757.2 L678.2 758.3 L677.3 759.3 L676.3 760.3 L675.3 761.1 L674.3 761.9 L673.2 762.6 L672.2 763.1 L671.2 763.6 L670.2 764 L668 764.5 L664.8 765.2 L661.6 764.6 L658.6 762.9 L655.6 759.2 L652.5 753.8Z" fill="#fff"/>
<path d="M651 751 L657.1 754.5 L660.6 754.7" stroke-width="1.08"/>
<path d="M658.7 733.8 L664.7 737.3 L667.3 739.8" stroke-width="1.08"/>
<path d="M672.3 727.6 L678.4 731.1 L679.1 734.4" stroke-width="1.08"/>
<path d="M681.1 754.2 L680.2 755.7 L679.2 757.1 L678.1 758.4 L677 759.6 L675.8 760.7 L674.6 761.7 L673.4 762.5 L672.1 763.2 L670.9 763.8 L669.6 764.1 L668.5 764.4 L667.3 764.4 L666.2 764.3 L665.2 764 L664.2 763.6 L663.4 763 L662.6 762.2 L662 761.4 L661.5 760.3 L661.1 759.2 L660.8 758 L660.6 756.6 L660.6 755.2 L660.7 753.7 L661 752.2 L661.3 750.6 L661.8 749 L662.4 747.4 L663.1 745.9 L663.9 744.3 L664.8 742.9 L665.8 741.5 L666.9 740.2 L668 739 L669.2 737.9 L670.4 736.9 L671.6 736.1 L672.9 735.4 L674.1 734.8 L675.4 734.4 L676.5 734.2 L677.7 734.2 L678.8 734.3 L679.8 734.6 L680.8 735 L681.6 735.6 L682.4 736.4 L683 737.2 L683.5 738.3 L683.9 739.4 L684.2 740.6 L684.4 742 L684.4 743.4 L684.3 744.9 L684 746.4 L683.7 748 L683.2 749.6 L682.6 751.2 L681.9 752.7 L681.1 754.2Z"/>
<path d="M677.2 752 L676.7 752.8 L676.1 753.6 L675.6 754.3 L674.9 754.9 L674.3 755.5 L673.6 756.1 L673 756.5 L672.3 756.9 L671.6 757.2 L670.9 757.4 L670.3 757.5 L669.7 757.5 L669.1 757.5 L668.5 757.3 L668 757.1 L667.5 756.8 L667.1 756.4 L666.8 755.9 L666.5 755.3 L666.3 754.7 L666.1 754 L666 753.3 L666 752.5 L666.1 751.7 L666.2 750.9 L666.4 750 L666.7 749.1 L667 748.3 L667.4 747.4 L667.8 746.6 L668.3 745.8 L668.9 745 L669.4 744.3 L670.1 743.7 L670.7 743.1 L671.4 742.5 L672 742.1 L672.7 741.7 L673.4 741.4 L674.1 741.2 L674.7 741.1 L675.3 741.1 L675.9 741.1 L676.5 741.3 L677 741.5 L677.5 741.8 L677.9 742.2 L678.2 742.7 L678.5 743.3 L678.7 743.9 L678.9 744.6 L679 745.3 L679 746.1 L678.9 746.9 L678.8 747.7 L678.6 748.6 L678.3 749.5 L678 750.3 L677.6 751.2 L677.2 752Z"/>
<path d="M677.5 743.7 L677.7 744.3 L677.7 745 L677.8 745.8 L677.7 746.5 L677.6 747.3 L677.4 748.1 L677.1 749 L676.8 749.8 L676.5 750.6 L676.1 751.3 L675.6 752.1 L675.1 752.8 L674.5 753.5 L673.9 754.1 L673.3 754.7 L672.7 755.2 L672.1 755.6 L671.4 756 L670.8 756.3 L670.2 756.4" stroke-width="0.84"/>
<path d="M676.2 742.9 L676.4 743.6 L676.4 744.3 L676.5 745 L676.4 745.8 L676.3 746.6 L676.1 747.4 L675.8 748.2 L675.5 749 L675.2 749.8 L674.8 750.6 L674.3 751.4 L673.8 752.1 L673.2 752.7 L672.6 753.4 L672 753.9 L671.4 754.4 L670.8 754.9 L670.1 755.2 L669.5 755.5 L668.9 755.7" stroke-width="0.84"/>
<path d="M674.9 742.2 L675.1 742.8 L675.1 743.5 L675.2 744.3 L675.1 745 L675 745.8 L674.8 746.6 L674.5 747.5 L674.2 748.3 L673.9 749.1 L673.5 749.8 L673 750.6 L672.5 751.3 L671.9 752 L671.3 752.6 L670.7 753.2 L670.1 753.7 L669.5 754.1 L668.8 754.5 L668.2 754.8 L667.6 754.9" stroke-width="0.84"/>
<path d="M673.6 741.4 L673.8 742.1 L673.9 742.8 L673.9 743.5 L673.8 744.3 L673.7 745.1 L673.5 745.9 L673.3 746.7 L672.9 747.5 L672.6 748.3 L672.2 749.1 L671.7 749.9 L671.2 750.6 L670.6 751.2 L670 751.9 L669.4 752.4 L668.8 752.9 L668.2 753.4 L667.5 753.7 L666.9 754 L666.3 754.2" stroke-width="0.84"/>
<path d="M28.8 926.8 L42 904.2 L44.7 908.8 L68.6 893.2 L72.2 914.3 L45.7 929 L44.7 934.5Z" fill="#fff" stroke-width="1.32"/>
<path d="M30.8 926.3 L43.3 905.5 L45.4 910.8 L69.5 895.5 L72.2 914.3" stroke-width="1.08"/>
<text fill="#000" stroke="#000" stroke-width="0.45" x="0" y="0" font-size="16" font-weight="bold" font-style="italic" text-anchor="start" transform="translate(45.5 926) skewY(-25) scale(0.66 1)">FWD</text>
<text fill="#000" stroke="#000" stroke-width="0.45" x="27.3" y="955.5" font-size="14.3" text-anchor="start">4C81300-F180</text>
<text fill="#000" stroke="#000" stroke-width="0.45" x="45.5" y="35.7" font-size="14" text-anchor="middle">40</text>
<path d="M45.5 37.5L42.5 68.7"/>
<text fill="#000" stroke="#000" stroke-width="0.45" x="156.8" y="23.4" font-size="14" text-anchor="middle">38</text>
<path d="M155.2 25L146.9 56.7"/>
<text fill="#000" stroke="#000" stroke-width="0.45" x="216" y="23.4" font-size="14" text-anchor="middle">32</text>
<path d="M213.6 26L202 56.7"/>
<text fill="#000" stroke="#000" stroke-width="0.45" x="93.4" y="126.8" font-size="14" text-anchor="middle">39</text>
<path d="M99.5 83.4L94.5 113.4"/>
<text fill="#000" stroke="#000" stroke-width="0.45" x="244.5" y="72" font-size="14" text-anchor="middle">31</text>
<path d="M244.4 76L234.5 108.3"/>
<text fill="#000" stroke="#000" stroke-width="0.45" x="289.2" y="72" font-size="14" text-anchor="middle">30</text>
<path d="M288 76L279.3 108.3"/>
<text fill="#000" stroke="#000" stroke-width="0.45" x="330" y="124" font-size="14" text-anchor="middle">23</text>
<path d="M328.5 126L323.2 156.4"/>
<text fill="#000" stroke="#000" stroke-width="0.45" x="359" y="142.6" font-size="14" text-anchor="middle">22</text>
<path d="M358.3 144.5L347.5 172"/>
<text fill="#000" stroke="#000" stroke-width="0.45" x="412.7" y="142.6" font-size="14" text-anchor="middle">29</text>
<path d="M412.3 145.5L399.5 173"/>
<text fill="#000" stroke="#000" stroke-width="0.45" x="437" y="187.7" font-size="14" text-anchor="middle">25</text>
<path d="M436.8 190.7L427.6 222"/>
<text fill="#000" stroke="#000" stroke-width="0.45" x="473" y="203" font-size="14" text-anchor="middle">28</text>
<path d="M472 204.6L460.3 232"/>
<text fill="#000" stroke="#000" stroke-width="0.45" x="505.5" y="218" font-size="14" text-anchor="middle">27</text>
<path d="M504.5 220.3L489.8 252.7"/>
<text fill="#000" stroke="#000" stroke-width="0.45" x="552.7" y="224.3" font-size="14" text-anchor="middle">26</text>
<path d="M550.7 226.2L542.4 255.7"/>
<text fill="#000" stroke="#000" stroke-width="0.45" x="582.7" y="272" font-size="14" text-anchor="middle">25</text>
<path d="M581.9 275.5L570.8 305.3"/>
<text fill="#000" stroke="#000" stroke-width="0.45" x="613" y="290" font-size="14" text-anchor="middle">22</text>
<path d="M612.5 293.4L603.2 321.5"/>
<text fill="#000" stroke="#000" stroke-width="0.45" x="639.7" y="305.3" font-size="14" text-anchor="middle">23</text>
<path d="M639.7 308.7L628.7 336"/>
<text fill="#000" stroke="#000" stroke-width="0.45" x="118" y="204.2" font-size="14" text-anchor="middle">24</text>
<path d="M116.5 206.8L103.7 238"/>
<text fill="#000" stroke="#000" stroke-width="0.45" x="155" y="247" font-size="14" text-anchor="middle">23</text>
<path d="M154 249L138.5 281.2"/>
<text fill="#000" stroke="#000" stroke-width="0.45" x="181" y="264" font-size="14" text-anchor="middle">22</text>
<path d="M180 266.5L164 296.6"/>
<text fill="#000" stroke="#000" stroke-width="0.45" x="231" y="259.6" font-size="14" text-anchor="middle">21</text>
<path d="M230 261.8L219 296.6"/>
<text fill="#000" stroke="#000" stroke-width="0.45" x="264.5" y="313.8" font-size="14" text-anchor="middle">20</text>
<path d="M263 316.7L252 349.7"/>
<text fill="#000" stroke="#000" stroke-width="0.45" x="513.6" y="409" font-size="14" text-anchor="middle">17</text>
<text fill="#000" stroke="#000" stroke-width="0.45" x="525.8" y="468" font-size="14" text-anchor="middle">18</text>
<text fill="#000" stroke="#000" stroke-width="0.45" x="613" y="523.8" font-size="14" text-anchor="middle">19</text>
<text fill="#000" stroke="#000" stroke-width="0.45" x="181.7" y="431.5" font-size="14" text-anchor="middle">16</text>
<path d="M180.9 433.8L176.2 462.1"/>
<text fill="#000" stroke="#000" stroke-width="0.45" x="247.7" y="444" font-size="14" text-anchor="middle">15</text>
<path d="M248.5 447.2L238.2 477.8"/>
<text fill="#000" stroke="#000" stroke-width="0.45" x="393.7" y="524.6" font-size="14" text-anchor="middle">34</text>
<path d="M395 527.3L410.1 560"/>
<text fill="#000" stroke="#000" stroke-width="0.45" x="80.7" y="516" font-size="14" text-anchor="middle">11</text>
<path d="M79.7 518L73.3 550.2"/>
<text fill="#000" stroke="#000" stroke-width="0.45" x="124.3" y="540.7" font-size="14" text-anchor="middle">10</text>
<path d="M122.6 542.6L120.7 575"/>
<text fill="#000" stroke="#000" stroke-width="0.45" x="541.5" y="631" font-size="14" text-anchor="middle">33</text>
<path d="M542.8 617.3L553.5 585.2"/>
<text fill="#000" stroke="#000" stroke-width="0.45" x="651.2" y="675.7" font-size="14" text-anchor="middle">36</text>
<path d="M651.3 677.9L645.7 709"/>
<text fill="#000" stroke="#000" stroke-width="0.45" x="679" y="695.7" font-size="14" text-anchor="middle">37</text>
<path d="M678 696.8L672.4 728"/>
<text fill="#000" stroke="#000" stroke-width="0.45" x="613.5" y="782.5" font-size="14" text-anchor="middle">35</text>
<path d="M613.4 768L601.2 733.5"/>
<text fill="#000" stroke="#000" stroke-width="0.45" x="259.7" y="629.6" font-size="14" text-anchor="middle">1</text>
<path d="M260.4 631L252.9 662.7"/>
<text fill="#000" stroke="#000" stroke-width="0.45" x="386" y="707.8" font-size="14" text-anchor="middle">2</text>
<path d="M385.6 710L376.7 740"/>
<text fill="#000" stroke="#000" stroke-width="0.45" x="434" y="717.8" font-size="14" text-anchor="middle">3</text>
<path d="M431.2 720L423.4 747.9"/>
<text fill="#000" stroke="#000" stroke-width="0.45" x="473" y="755.6" font-size="14" text-anchor="middle">4</text>
<path d="M471.3 756.8L459 785.7"/>
<text fill="#000" stroke="#000" stroke-width="0.45" x="498.5" y="771.2" font-size="14" text-anchor="middle">5</text>
<path d="M496.9 773.4L483.5 801.3"/>
<text fill="#000" stroke="#000" stroke-width="0.45" x="558" y="783.6" font-size="14" text-anchor="middle">6</text>
<path d="M555.9 786L547.1 817.2"/>
<text fill="#000" stroke="#000" stroke-width="0.45" x="592" y="821" font-size="14" text-anchor="middle">5</text>
<path d="M590.7 823.4L583.2 859.5"/>
<text fill="#000" stroke="#000" stroke-width="0.45" x="622.4" y="840.8" font-size="14" text-anchor="middle">4</text>
<path d="M621.8 843.3L608 872"/>
<text fill="#000" stroke="#000" stroke-width="0.45" x="655.3" y="855.7" font-size="14" text-anchor="middle">7</text>
<path d="M654.1 858.2L637.9 890.6"/>
<text fill="#000" stroke="#000" stroke-width="0.45" x="209" y="884.1" font-size="14" text-anchor="middle">8</text>
<path d="M210.7 870.5L228.5 841.2"/>
<text fill="#000" stroke="#000" stroke-width="0.45" x="256.3" y="902" font-size="14" text-anchor="middle">12</text>
<path d="M256.8 887.3L276.7 858"/>
<text fill="#000" stroke="#000" stroke-width="0.45" x="292.4" y="918.7" font-size="14" text-anchor="middle">13</text>
<path d="M291.3 906.1L310.2 876.8"/>
<text fill="#000" stroke="#000" stroke-width="0.45" x="335.7" y="938.2" font-size="14" text-anchor="middle">9</text>
<path d="M338 924.8L350.6 900.5"/>
<text fill="#000" stroke="#000" stroke-width="0.45" x="383.6" y="965.6" font-size="14" text-anchor="middle">14</text>
<path d="M386 953L393 930.3"/>
<path d="M676.9 1104V1055.4H770V1103.2H676.9" stroke-width="1.3"/>
<text fill="#000" stroke="#000" stroke-width="0.45" x="701" y="1097" font-size="55" text-anchor="start" font-weight="bold">C</text>
<path d="M748.2 1095.8L754 1095.8L754 1068L749.5 1068C748.5 1071 745.5 1072.8 741.9 1073L741.9 1076.7L748.2 1076.7Z" fill="#000" stroke="none"/>
<text fill="#000" stroke="#000" stroke-width="0.45" x="760.5" y="1096" font-size="39" text-anchor="start" font-weight="bold">5</text>
</g>
</svg>
</body></html>
